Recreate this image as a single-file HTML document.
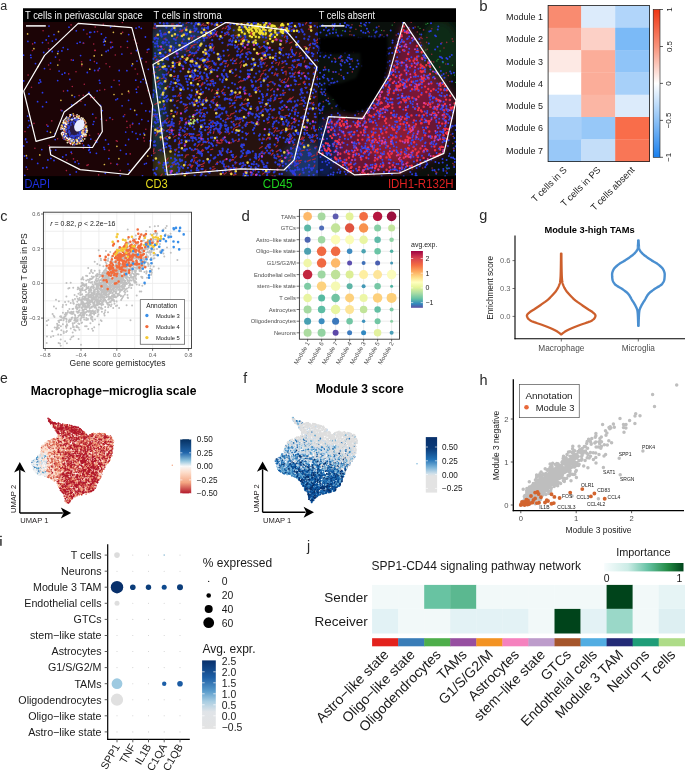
<!DOCTYPE html>
<html><head><meta charset="utf-8"><style>
html,body{margin:0;padding:0;background:#fff;overflow:hidden}
svg{display:block;will-change:transform}
text{font-family:"Liberation Sans",sans-serif}
</style></head><body>
<svg width="685" height="774" viewBox="0 0 685 774">
<text x="0.3" y="10.2" font-size="12.5" fill="#2a2a2a" text-anchor="start" >a</text>
<rect x="23" y="8.5" width="433" height="181.5" fill="#000" />
<defs>
<clipPath id="ca0"><rect x="23" y="22" width="129.5" height="154.5"/></clipPath>
<clipPath id="ca1"><rect x="152.5" y="22" width="165.5" height="154.5"/></clipPath>
<clipPath id="ca2"><rect x="318" y="22" width="138" height="154.5"/></clipPath>
<filter id="bl2" x="-10%" y="-10%" width="120%" height="120%"><feGaussianBlur stdDeviation="4"/></filter>
<filter id="bl1"><feGaussianBlur stdDeviation="0.5"/></filter>
</defs>
<g clip-path="url(#ca0)">
<rect x="23" y="22" width="129.5" height="154.5" fill="#1c0406" />
<path d="M103.9 147.4h0M139.2 123.7h0M123.5 116.4h0M52.2 51.5h0M61.9 110.7h0M136.1 28.1h0M23.7 145.9h0M129.3 170.3h0M126.2 153.9h0M83.6 29.8h0M62.2 74.3h0M59.1 71.1h0M56 39.4h0M80.6 118.8h0M88.3 145.2h0M94.7 70.5h0M151.9 155.3h0M125.6 145.2h0M103.6 42h0M151.1 140.5h0M50.9 158.4h0M43.7 52.5h0M102.3 110.6h0M28.7 120.7h0M27.6 116.1h0M89.7 36.9h0M83.4 124.2h0M141.8 119.6h0M104.5 149.3h0M89.6 146.1h0M87.3 72.5h0M55.1 133.6h0M24.5 156h0M47.9 160h0M112.6 47h0M49 26.1h0M70.9 122.5h0M23.5 55.2h0M130.5 109.1h0M43 168h0M57.7 80.6h0M137 61.1h0M89 92.5h0M132.7 123.5h0M105.8 37.6h0M119.1 80.8h0M34.8 42.7h0M93.1 124.3h0M88.8 150.3h0M135.8 80.2h0M69.8 79.4h0M100.5 105.4h0M30.7 55.2h0M73.2 60.2h0M64.8 73h0M42.5 92.7h0M128.7 34.6h0M72.1 138.3h0M149.7 111.5h0M99.4 68.3h0M101.4 34h0M105.6 139.9h0M110.6 42.3h0M42.5 42.6h0M80 42.2h0M54 34.6h0M75.1 162h0M35.5 63.6h0M148.3 69.3h0M50.8 150.7h0M110 117.8h0M61.9 50.9h0M136.2 89.2h0M108.8 158.6h0M40 80h0M132.4 131.8h0M145.4 37h0M140.1 134.4h0M96.8 142h0M41.8 149.6h0M47.9 126.2h0M143.2 79.3h0M94.5 31.9h0M46.4 102.2h0M137.5 139h0M106.1 51.5h0M96.8 63.1h0M71.7 104.8h0M76.2 137.6h0M54 160.5h0M27.9 41.4h0M136.5 50.5h0M83.6 145.5h0M93.9 121.6h0M64.7 133.4h0M120.3 176h0M26.3 167.1h0M71.2 152.2h0M26.9 142.1h0M38.9 83h0M148.2 121.1h0M108.2 50.5h0M78.5 139.3h0M90.8 139.1h0M136 133.4h0M67.6 90.7h0M99.4 80.4h0M111.5 86.9h0M69 27.2h0M90.2 152.4h0M122.1 105.8h0M140.7 81.9h0M42.6 106.7h0M143.9 133.5h0M23.7 80.9h0M120.5 150.3h0M128 164.1h0M40.7 81.9h0M77.2 43.3h0M128.6 139.5h0M24.8 175.4h0M104.4 44.9h0M125.7 132.1h0M89.4 149.5h0M117 164.2h0M52.3 41.1h0M48.7 36.2h0M70 174.6h0M46.2 40h0M67.8 49.3h0M145.8 110.8h0M97.2 90.9h0M67 137.9h0M58.2 51.4h0M146.3 163.3h0M80.6 55.6h0M150 140.8h0M89.8 32.4h0M90.5 95.1h0M139.1 27h0M119.2 70.5h0M98.2 70.2h0M78.3 133.2h0M136.7 92.3h0M76.3 30.8h0M142.5 175.8h0M31.9 159.3h0M78.7 163.6h0M90.3 60.1h0M146.1 82.9h0M55.5 57.1h0M127.4 41.3h0M110.6 27.1h0M115.9 99.8h0M104.5 41h0M148.8 49.2h0M66.1 154.9h0M74.6 96.8h0M49.3 50.4h0M29.6 125.5h0M50.6 63.1h0M141.6 103.4h0M131.8 65.7h0M37.6 101.7h0M101.2 119.1h0M85.1 104.8h0M100 83.1h0M108.4 144.2h0M62.7 156.9h0M147.5 49.7h0M83.3 43.1h0M104.3 39.5h0M105.3 173.3h0M46.8 167.5h0M31 57.6h0M76.3 171.9h0M121.9 54.1h0M128.6 100.3h0M117.5 98.8h0M37.7 163.4h0M141.3 28.3h0M126.9 70.7h0M136.7 114.7h0M90.8 32.3h0M141.6 58.5h0M29 93.9h0M26.9 158.1h0M25.6 139.6h0M55.7 150.1h0M55.2 139.6h0M47.3 131.3h0M96.4 153.3h0M28 127.3h0M99.5 135.7h0M44.5 68.6h0M110.8 47.9h0M25.7 138.9h0M63.2 47.6h0M144.5 164.1h0M92.7 114.2h0" stroke="#2a3cf0" stroke-width="1.8" stroke-linecap="round" fill="none"/>
<path d="M65.7 131.2h0M144.3 141h0M43.1 30.8h0M89.6 135.2h0M34.9 148.3h0M148 90.8h0M97.5 31.6h0M127.1 127.5h0M59.5 60h0M126.8 121.4h0M114 80.2h0M106.4 120.4h0M146.1 61.9h0M79.1 95.6h0M76.8 103.1h0M112.6 119.5h0M131.1 53.4h0M66.4 170.6h0M109.7 66.7h0M50.1 69.3h0M94.4 61.6h0M122.6 32.4h0M31.5 87.3h0M117.3 141.2h0M25 131.6h0M147.1 52.2h0M83.7 43.2h0M76 71.7h0M116.3 140.7h0M90.8 97.4h0M117.6 164.6h0M34 123.4h0M95.9 117.9h0M95.3 140.6h0M143.7 137.9h0M28.1 75.1h0M81.6 61.7h0M104.7 89.6h0M94.3 97.6h0M32.6 43.9h0M99.8 90.2h0M51.8 120.9h0M48.3 43h0M136.8 43.3h0M48.6 48.8h0M81.8 65.8h0M120.2 170.6h0M114.6 26h0M94.7 50.4h0M127.5 47.5h0M83.3 95.3h0M103.3 24.3h0M129 92.8h0M110.8 47.2h0M106.1 63.7h0M75.6 144.4h0M95.3 50.4h0M74.3 117.3h0M119.4 84.8h0M72.3 86.5h0M83.4 148.2h0M120.8 46.9h0M88.2 164.7h0M66.8 160h0M130.1 125.3h0M72.3 29.6h0M132.4 124.5h0M124.7 114.8h0M80.9 141.3h0M115.3 55h0M27.5 169.3h0M73.5 158.9h0M134.4 39.7h0M98.1 70.7h0M95.2 27h0M109.1 150.4h0M110.8 163.4h0M98.6 174.9h0M77.5 116.5h0M46.8 124.9h0M60.9 126.8h0M60.9 110.1h0M78.8 169.1h0M152.4 115.9h0M68.7 73.9h0M80.9 101.2h0M71.1 24.9h0M98.3 133.9h0M145.8 129.2h0M138.1 87.1h0M71.8 153.6h0M57.6 138.7h0M137.5 74h0M87 34h0M111.8 42.4h0M32.5 50.5h0M135.2 69h0M63.5 91.1h0M87 165.4h0M48.6 65h0M77.4 160.8h0M130.2 127.1h0M130.2 153.9h0M84.3 84.3h0M122.4 22.5h0M82.3 143.6h0M71.3 59.9h0M93.7 44h0M49.1 145.5h0M64 128h0" stroke="#a82040" stroke-width="1.6" stroke-linecap="round" fill="none"/>
<path d="M50.5 132.3h0M57.7 53.6h0M144.6 134.9h0M57.8 65.1h0M114 94.5h0M39.8 154.9h0M128.5 91.2h0M38.2 66.5h0M89.8 69.2h0M27.6 33.9h0M94.2 55.9h0M132.6 63.9h0M33.9 48.7h0M58.5 31.7h0M122 94h0M101.7 55.1h0M63.5 136.1h0M104.4 164.5h0M81.9 64.2h0M134.7 110.4h0M60.9 100.3h0M121.1 33.6h0M105.3 41.3h0M118.9 158.7h0M72 95.3h0M116.9 146.3h0M113.4 32.3h0M73.2 113.9h0M26.4 155.7h0M147.7 156h0" stroke="#d8b848" stroke-width="1.7" stroke-linecap="round" fill="none"/>
<ellipse cx="74" cy="129.7" rx="10" ry="12" fill="#2a1a40"/>
<path d="M83.4 130.1h0M64.5 128.2h0M69.7 135.1h0M74.5 119.7h0M79.4 132.8h0M73.5 136h0M76.7 122.2h0M66.3 131.4h0M64.8 133h0M79.3 128.5h0M70.4 138.6h0M80.9 131.9h0M69.8 133.6h0M79.6 139.1h0M81.3 134.5h0M69.1 127.1h0M83.1 126.5h0M69.4 126.8h0M70.9 124.9h0M71.1 136.4h0M65.3 124.8h0M74.1 124.1h0M65.9 123.8h0M76.6 121h0M69.2 127.9h0M76.5 138.2h0M67.8 125.6h0M66.4 130.2h0M78.3 138.3h0M67.9 123.1h0M78.1 119.1h0M77.6 134.5h0M65.4 126.8h0M73.3 121.8h0M66.8 135.6h0M72.8 140.6h0M67.1 138h0M68.1 127.9h0M71.3 122.1h0M65 125.6h0M81.6 136.7h0M76.7 122.7h0M82.6 124.5h0M79.5 134.4h0M74 137.4h0M78 138.7h0M78.2 122.9h0M80 125.3h0M80.5 131.8h0M70.6 136.7h0M75.9 135.6h0M69.1 130.8h0M81.6 124.9h0M80.9 133.5h0M77.9 138.1h0M65.1 130.5h0M68.2 128.7h0M73.8 122.8h0M68.3 132.4h0M78 135.4h0M68.7 137.8h0M80.6 128.8h0M74 122.3h0M80 136h0M76 123.6h0M72 135.3h0M75.6 120.1h0M82.7 130.5h0M78.3 124.4h0M78.2 137.7h0M69.3 131.2h0M70.4 123h0M66.3 129.3h0M77 135.7h0M78.2 135.5h0M72.3 138.7h0M81.4 132.6h0M75.1 135.9h0M79.8 136.9h0M69 131h0M67.9 138.7h0M69.1 126.2h0M72.8 136.6h0M79.6 131.1h0M69.2 139.8h0M74.2 122.5h0M73.7 138.9h0M65.8 136.2h0M74.3 118.4h0M69.9 132.8h0" stroke="#3040d0" stroke-width="1.8" stroke-linecap="round" fill="none"/>
<path d="M61.7 127.8h0M65.4 122.3h0M70.1 115.1h0M69 139.4h0M69.8 138.8h0M86.4 130.1h0M83.5 132.2h0M62.1 125.2h0M84.1 135.8h0M77.2 141.7h0M69.7 138.5h0M85 135.8h0M82.4 131.6h0M85.8 122.9h0M62.4 135.6h0M76.7 140.6h0M71.7 119.7h0M86.7 130.6h0M74.3 142.1h0M82.6 127.2h0M82.6 122.2h0M67.8 121.4h0M82.6 136.3h0M69.2 141.9h0M86.7 132.3h0M76.4 143.8h0M82.9 131.4h0M81.5 138.5h0M66.8 120.4h0M84.7 138.8h0M78.8 138.1h0M82.9 122.5h0M67.4 142.6h0M68.9 140.1h0M82.2 135.5h0M77.1 117.3h0M69.6 119.4h0M61.6 125.3h0M67.6 122.9h0M81.5 136.1h0M73.4 139.8h0M63.8 122.8h0M83.3 126.3h0M79.2 116.1h0M65.9 118.2h0M61.1 127.9h0M83.5 130.8h0M80.4 123.6h0M83.3 134.6h0M83 140.8h0M69.8 116.5h0M77.3 120.5h0M76.7 116.3h0M61.7 134.1h0M79.8 143.4h0M85.6 132.7h0M81.5 117.9h0M86.4 127.7h0M74.4 141.4h0M79.8 122.1h0M64.2 137.7h0M70.6 139.4h0M63.8 129.3h0M87.3 130.5h0M63.6 134.2h0M77.4 141.8h0M71 114.9h0M64.3 129.5h0M83 118.3h0M84.2 120.6h0M69.9 140.4h0M72.1 141h0M82.2 125.8h0M61.1 129.3h0M81.5 135.8h0M81.9 132.4h0M86.7 128.8h0M64.1 123.4h0M85 134.3h0M62.1 128.7h0M65.5 129.4h0M66 133.7h0M84.3 125.9h0M82.1 126.6h0M81.6 138.6h0M80.9 141.1h0M64.3 137.1h0M79.7 118.3h0M68 122.8h0M72.8 118.8h0" stroke="#f0e4c0" stroke-width="1.8" stroke-linecap="round" fill="none"/>
<path d="M62.7 122.8h0M76.2 139.7h0M78.5 118.1h0M82.5 130.6h0M69.9 115.3h0M77.1 139.7h0M63.9 131.9h0M84.9 127.7h0M62.5 126.3h0M86.2 135h0M63.2 135.7h0M68.7 119.8h0M82.1 133.2h0M73.8 143.5h0M87.1 131.5h0M65.9 127.3h0M65.1 139.3h0M64.9 129.5h0M71 141.5h0M68 119.1h0M79.3 141.4h0M85 121.2h0M85.4 126.3h0M63.8 130.2h0M62.4 132.7h0M80.7 120.2h0M71.4 141.4h0M77.3 118.6h0M71.5 141.9h0M72.2 118.6h0M69.2 139.2h0M66.8 123.4h0M83.4 124.2h0M83.2 133.5h0M78.4 116.1h0M61.9 125.9h0M66.8 137.7h0M67.3 140.4h0M85.6 136h0M73.5 141.4h0M66.1 120.7h0M82.6 136.7h0M68.4 117.9h0M86.7 126.1h0M82.9 128.4h0M84.1 119.9h0M78 117h0M79.4 142.6h0M85.3 127.2h0M77.7 143.8h0M80.7 121.2h0M82.5 120.1h0M67.1 122h0M63.3 128h0M77.6 142.7h0M64.8 128.4h0M71.8 139.3h0M82.6 139.8h0M82.5 140.1h0M77.7 116.9h0M82.7 124.3h0M81.3 140.2h0M82.6 130.5h0M73 143.2h0M81.4 139.4h0M78.3 142h0M64.9 123.6h0M65.7 134.8h0M63.2 135.7h0M76.9 141.6h0" stroke="#e8c050" stroke-width="1.7" stroke-linecap="round" fill="none"/>
<path d="M67.9 117.7h0M71.5 141.1h0M67 135.7h0M63.3 132.6h0M83.4 122.2h0M74.3 144.7h0M71.5 115.1h0M70.9 139h0M83.6 121h0M66.5 136.6h0M62.2 129.3h0M81.3 121.4h0M69.4 119.5h0M82.9 136.7h0M81.1 139.3h0M85.7 128.9h0M85.3 132.1h0M70.3 142.6h0M83.8 126.7h0M85.6 131h0M79.3 139.6h0M76.6 142.5h0M83 136.1h0M63.1 132h0M67 124.4h0M69.5 141.1h0M81.3 136.6h0M77.8 118.7h0M76.9 120.2h0M63.3 124.6h0M82.3 141h0M64.3 126.7h0M68 122.3h0M63.8 135.5h0M79.8 121.9h0M64.2 139.2h0M65.2 129h0M81.6 137.4h0M64.1 124.8h0M74.9 119.5h0M72.8 118.3h0M73.6 140.9h0M85.8 129h0M71.5 114.6h0M65.1 135.1h0M63.5 137h0M75.6 119.4h0M79 141.3h0M67.3 120.3h0M72.1 118.6h0" stroke="#4050e0" stroke-width="1.7" stroke-linecap="round" fill="none"/>
<path d="M61.7 128.2h0M82.4 119.7h0M65.2 131.7h0M64.5 132.2h0M71.3 143.8h0M85.6 122.2h0M69.4 141.8h0M69.7 115.8h0M62.9 138h0M85 124.2h0M84.9 125.4h0M83.2 131.7h0M84.1 129.3h0M65 121.6h0M85.6 136.4h0M64.2 129.9h0M83.8 133.4h0M66 126.8h0M78.6 142.3h0M66.9 138.7h0M69.9 143.2h0M66.5 123.1h0M79.1 117.6h0M84.7 124.4h0M69 140.6h0M65.7 125.2h0M84.3 130.1h0M65.7 139.8h0M82.9 127.1h0M80.4 136.6h0M81.2 120.7h0M68.6 120.7h0M70.7 143.5h0M76.2 115.5h0M70.8 144.4h0M83.9 120.8h0M84 136.4h0M80.7 137h0M74 115.2h0M62.7 134.1h0" stroke="#e06050" stroke-width="1.5" stroke-linecap="round" fill="none"/>
<path d="M81.2 140.9h0M62.3 128.5h0M70.4 143.6h0M64.7 126.2h0M73.5 116.1h0M80.8 119.8h0M83.3 133.9h0M65.7 123.4h0M83 128.6h0M63.6 132.8h0M75.2 118h0M82.5 136.6h0M82.8 119.3h0M63.8 123h0M82.9 120.9h0M77.1 114.7h0M80.4 121.7h0M84.1 134.1h0M72.1 119.8h0M77.3 141h0M72.7 144.8h0M70.1 138.7h0M63.9 122.1h0M65.2 119.1h0M83.8 124.4h0M86.2 130.8h0M77.6 141.1h0M67.5 138.6h0M78.5 118.2h0M65.2 126.4h0M64.2 128.8h0M74.6 118.3h0M66.6 116.9h0M71.5 140.9h0M82 135.4h0M61.4 133.3h0M80.5 122.6h0M63.3 120.9h0M85.9 134.5h0M63.3 134.6h0M66.2 137.7h0M66 124.4h0M66.5 124.4h0M82.4 126.6h0M68.7 139.6h0M65.4 136.3h0M64.2 119.9h0M82.3 121.3h0M70.4 114.8h0M62.3 132.2h0" stroke="#ffffff" stroke-width="1.5" stroke-linecap="round" fill="none"/>
<ellipse cx="79.3" cy="125.5" rx="4.6" ry="6.5" fill="#e8ecff" transform="rotate(30 79.3 125.5)"/>
</g>
<g clip-path="url(#ca1)">
<rect x="152.5" y="22" width="165.5" height="154.5" fill="#26120f" />
<g filter="url(#bl2)">
<ellipse cx="178" cy="38" rx="28" ry="16" fill="#1c3458"/>
<ellipse cx="158" cy="95" rx="8" ry="60" fill="#183a48"/>
<ellipse cx="305" cy="162" rx="22" ry="20" fill="#1a3468"/>
<ellipse cx="168" cy="165" rx="14" ry="12" fill="#3a4018"/>
<ellipse cx="260" cy="32" rx="28" ry="9" fill="#4a4010"/>
</g>
<path d="M176.7 114.5l0.6 -2.4M244.1 100.3l1.6 -1.7M178.9 143.6l0.8 -2.8M159 70.3l1.7 -1.1M308.7 150.4l1.5 -1M208.4 24.9l0.9 -2.2M183.9 58.8l1.6 -0.6M169.3 49.4l2.3 -0.7M260.4 61.8l2.1 -1.3M228.8 168.1l3.1 -0.1M154.4 25.7l1.7 0.1M270.9 68.2l1.2 -2M195 110.7l3 -0.7M281.7 130.6l2 -0.9M233.4 141.5l2.9 -1.4M241.1 81.2l2.8 -0.8M228.2 56l1 -1.2M264.4 153.7l1.6 -1.6M316.4 40.9l1.9 -2.4M284.5 32l1.7 -1.9M163.9 57.8l2.3 -1.7M234.4 98.1l1.6 -3.1M191.3 167.6l1.6 -2.3M169.4 134.6l2.4 -1M184.8 109.1l2.6 -1.9M193.6 102.5l2.1 -1.1M311.3 129.1l0.5 -1.4M275.8 118.8l1.3 -1.6M293.7 74l1.9 -1.9M268.2 36.3l2.8 -1.9M204.7 53l1.9 -2M217.2 142.9l2 -0.6M225.4 120l2.8 -2M201.1 145.2l1.9 -1.3M222.2 28.9l1.6 -1.1M280.1 161.2l2.4 -0.9M165 81.1l1.6 -1.5M198.3 165.1l1.7 -0.4M231.8 113.9l2.6 -1.2M264.4 106.6l2.5 -1.5M259.4 148.4l2.9 -1.9M272.5 118.6l1.6 -0.7M169.9 126.2l3.2 -0.8M182.4 46.3l3 -0.8M203.6 115.4l1.8 -0.9M199.1 77.1l2.4 -0.7M277.6 33.7l2.3 -1.5M316.9 42.6l2.1 -0.3M265.6 96.1l1.4 -1M158 62.6l0.8 -3.1M201.8 140.2l1.8 -0.2M285.4 40.9l2.1 -1.3M305.5 24.1l1.3 -2M251 176l2.6 -2.1M210.2 70.4l1.6 -2.1M211.3 100.8l2.3 0.3M257.3 54.5l3.1 -1.4M295.5 54.3l0.9 -2M208.9 84.2l2.7 -1.2M184.1 144l1.5 -1.3M153 28l3 0.2M175.3 151.4l1.7 -2.5M293.4 175l0.6 -3.1M255.9 108.4l2.1 -1.3M316.5 77.6l1.5 -1.3M164 58.1l2 -1.9M213.1 50.3l0.7 -3.2M284.2 72l1.9 -0.9M261.9 153.6l1.5 -0M163.5 22.5l0.6 -1.8M218.9 143.4l3.3 -0.6M258 125.1l1.1 -1.1M266.3 24.9l1.6 0.4M227.3 32.7l1.5 -0.7M183.6 135.6l2.6 -2M312.4 126l2.2 -0.5M229.7 70.4l2.6 -1.2M271.2 155.1l2 -2.1M241 54.5l2.2 -0.8M165.9 88l2.1 -2.1M191.7 39.8l0.8 -2.3M162.9 121.8l2.6 0.3M184.1 35.4l1.6 -1.4M185.6 49.7l1 -1.1M221.2 140.4l2.4 -1.2M205.7 99.3l0.8 -1.9M212.5 124.3l1 -1.8M287.7 135.4l2.3 -2.3M156 115.7l1.6 -1.6M169.6 52.6l1.4 -0.9M286.2 129.9l2.7 -0.6M240.9 39.9l1.9 -1.8M225.1 63.7l1.5 -0.7M196.7 91.2l2 -0.8M242.3 39.7l1.5 -2.3M189.2 38.4l1.8 -1M294.6 122.8l2.1 -2.8M288.9 136.6l3 -0.7M205.8 79.3l2.3 -1.1M156.6 82.2l2.8 -1.9M299.4 54.1l0.8 -1.4M201.9 102.6l1.7 -1M261.2 111.7l2.2 -2.5M294.5 166.2l2.4 -0.9M284.6 28.3l1.5 -1.1M295.2 162.4l1.7 -2M233.5 175.1l2.8 -0.8M291.9 75.5l2.5 -0.9M228.8 134.1l1.1 -1.2M196.2 149.4l1.5 -0.3M232.1 122.6l1.8 -1.5M208 66.6l1.2 -1M279.5 118.2l1.4 -0.9M290.1 157.5l1.8 -2.1M175.9 38.5l1.7 -1.6M179.7 96.2l1.3 -1M216 25.5l3.2 -0.2M229.2 152.5l2.2 -0.2M310.8 142.3l2.5 -2.1M308.4 29.1l2.7 -0.1M312.5 137.2l2.2 -1.6M273.3 128.8l2.1 -1.1M264.6 41.5l2.7 -0.8M197.2 103.1l1.7 -0.9M214.2 128.5l2 0.5M152.9 73.8l2.8 -1.6M290.4 99.9l1 -1.6M198.2 172.8l2.2 -0.3M165.6 120.2l2.2 -2M204.7 99.6l1.6 -1.4M206 32.2l-0.2 -2.2M272.3 40.7l3.2 -0.8M153.4 153.4l1.8 -0.6M190.6 136.7l1.9 -0.6M300.9 151l3.2 -0.8M294 111.3l2.1 -0M256.6 111l1.8 -1.2M245 104l3.1 -0.9M189.3 135.6l1.4 -1.6M297.3 73l2.6 -2.3M278.4 98.7l3.1 -0.7M237.4 94.6l2.9 -1.4M179.1 124.2l0.9 -1.7M188.2 55.4l1.7 -0.9M215.3 25.9l2.4 -1.9M207.3 35.7l2 -2.4M162.6 49.7l1.8 -0.8M219.8 154.4l1.4 -1.3M226.8 132.8l0.8 -1.8M200 137.9l1 -1.5M216.1 90.6l2.3 0M207.5 37.9l1.1 -2.3M214.9 93.9l2.4 -1.4M254.9 155.3l1.5 -0.6M234.8 100.7l1.8 -0.7M185.2 119.6l0.9 -1.5M284.1 79.8l1.5 -1.3M237.4 45.2l1.6 -1M228.4 118.8l3.2 -1.1M270.6 96.9l1.5 -1.7M277 75.4l0.9 -1.5M293 61.9l2.7 -0.7M286.8 129.5l3.4 -0.7M263.2 71.1l2.8 -1.4M271.8 111l1.9 -2M178.5 62.1l2 -1M268.2 138.4l2 -1.2M194.6 79.9l2 -0.6M195.2 95.9l1.6 -2.7M172.4 165.3l2.6 -1.6M218.2 133l2 -1.5M155.8 135.8l1.8 -2.7M261.2 74.4l2.4 -1.4M276.3 151.8l2.4 -1.6M280.9 81.6l1.5 -1.4M173.8 174.7l1.8 -0.9M258.6 160.4l0.9 -1.7M291.2 123.8l2.7 -1.9M158.5 150.5l2.8 -1.3M184.5 106.1l2.9 -1.6M196.8 135.3l3.1 -0.7M229 41.3l1.6 -2.7M181 174.7l1 -2.1M241.7 145.6l2.6 -1.5M209.4 44l1.7 -0.8M260.9 59.5l2.8 0.4M240.4 110.8l1.5 -0.6M266.1 139.8l2.1 -2.7M193.3 45l3.1 -1M269.5 170.4l1.1 -1.4M274.1 75.4l1.3 -2.7M272 175.7l3 1M163.8 138.3l1.4 -0.7M309.1 97l2.5 -0.9M248 78l2.2 -0.9M197.6 36.9l2.7 0.1M224.3 35.6l2.9 -1.6M238.2 119.3l2.9 -0.5M238.2 141.5l1.1 -1.6M193.5 162.2l1.2 -2.3M196.4 78.4l2.6 -0.3M212.7 166.9l1.5 -0.1M281.7 67.9l1.6 -0.7M224.9 167.2l1.9 -1.1M158.9 164l1.6 -1M227.3 45.9l1.3 -1.5M185.8 155l2.8 -0.2M154.6 130.7l3.2 -1.2M314.2 130.5l2.2 -1M201.1 151.8l2.5 -1.3M241.5 104.9l2.9 -0.7M211.8 100.3l2.6 -1.2M161.3 78.7l2.7 -0.9M301.6 155.7l0.8 -1.3M307.4 161.2l3 -1.3M183.4 46.8l1.8 0.3M221.7 141.3l1.3 -1.3M214.3 64.6l2 -1.5M180.2 50.4l2.6 -0.8M262 52.5l2.9 -0.8M281.9 110.6l1.9 -0.8M278.2 65.2l1.3 -3.1M264.3 59.4l2.5 -1.1M155.4 37.2l1.7 -2.7M190.5 72.2l1.5 -1.9M237.7 141.6l1.5 -0.7M268.8 25.3l1.2 -1M216.5 96.6l2.6 -0.9M226.9 115.1l2.1 1.1M291.6 29.7l2.3 -0.8M156.4 67.4l2 -0.7M197 162.1l1.1 -1.5M200.5 175.6l1.7 -1.8M316.8 153.4l1.1 -1.7M190.2 48.2l2.3 -2.3M160.3 140.1l1 -1.5M221.4 91.7l2.3 -2.5M260 48.4l2.5 -2M177.9 96.3l1.3 -1.8M291.5 164.6l1.4 -2.7M185 157.5l1.3 -2.3M269.1 82.5l2.2 -1M179.3 31.8l2.6 -1.7M298.4 161.1l3.1 -0.8M185.8 174.4l1.9 -0.4M273.5 101l2.5 -2.2M291.3 56.8l1.5 -0.6M194.7 106l0.7 -1.3M167.9 129.6l2.4 0.5M249.5 96.5l2.1 -0.4M235.1 76.5l1.8 -1.5M231.8 60.3l1.3 -2.1M281.8 67.9l2.2 -1.1M229.1 29.7l1 -3.2M234.8 61.4l2.1 -2.6M233.1 169.3l2.1 -0.7M227.7 23.3l1.7 -1.1M219.6 134.4l2 -2M179.1 143.9l1.8 -0.5M201.4 84.5l1.3 -1.9M196.3 114l2.6 -1.4M193.6 56.1l1.1 -1.1M282.1 125.2l1.9 -2.4M171.4 131.4l2.7 -1.3M186.5 135.5l1.3 -1.8M239.6 98l2 0.1M204.2 171.9l1.8 -1.9M192.2 155.8l2.1 0.2M214.3 110.4l1.7 -2.6M235.6 127.4l2.5 -1M264.1 64.5l1.1 -1.8M313.4 167.8l1.5 -2.7M293.6 121.7l2.3 -1.4M223.7 160.3l1.6 -0.6M227.2 66.6l1.2 -2M221.3 173.8l2.4 -0.5M192 38.3l2.2 -2.6M310 103.9l1.8 -1.1M163.9 39.1l2.1 -1.1M186.4 51.3l3.2 -1.3M262.1 140.1l0.8 -2.2M250.1 32.2l3.2 -0.1M198.6 81.1l1.6 -0.7M307.6 51.6l1.7 -1.6M220.3 153.4l1.1 -1.5M251.2 34.7l1.2 -3M167.6 74l1.2 -2.3M299.9 154.3l1.8 -0.8M169.5 128.1l1.3 -1.1M217.7 130.7l1.3 -2M299.1 175.1l1.2 -1.2M308.9 25.6l2.5 -0.1M302.1 124.7l2.2 -1.9M289.5 137.1l1.5 -1.5M191.1 137.6l1.8 -0.2M157.8 132.3l2 -0.9M227.3 33.2l1.5 -1M163 35l2.2 -2.3M311.5 141.4l0.7 -1.5M153.9 116.5l1.6 -2.5M206.4 62.6l1.6 -1.5M186.1 23.4l2.3 -1.9M154.8 104.4l2.7 -1.4M235.1 36l1.6 -0.7M165.1 137.6l2.6 -1.5M301.4 74.6l2.9 -1.7M266.3 146.8l1.5 -2.1M213.7 36.8l0.6 -2.7M291.8 98.3l1.5 -1.5M284.4 37.4l1.1 -1.5M206.5 142.6l2 -2.2M292.7 108.5l2.4 -2M306.3 58.3l1 -1.6M255.1 170.8l0.9 -1.4M210.7 127.4l1.8 -1.3M301.5 74l2.3 -1.5M308.5 154.1l1.5 -1.6M210 80.7l3.1 -1.4M166.8 167.6l2.4 -1.9M296.1 67.9l1.9 -2.7M262.5 174.1l2.2 -1.5M190.9 31.7l3 0.2M246.3 135.5l2.3 -2.5M203.5 67l1.5 -0.3M304.6 87.5l2.6 -0.3M209.1 120.3l1.9 -0.1M185 29.1l2 -2.4M159.7 56.5l2 0.2M209.2 38.1l2.5 -1.6M316.3 136.3l1.7 -1.4M188.6 56.2l2.2 -1.8M228.3 99l2.6 -1.1M313.4 72.8l2.8 -1.8M153.6 58.5l2.6 -2M201.3 166.5l2.3 -0.4M288.4 100.4l1.9 -2.2M168.3 122.5l1.1 -1.5M306.1 130.8l1.6 -0.5M290.6 148.9l2.7 -1M176.2 62.7l3.2 -0.7M250.5 34.1l1.7 -2.5M244.4 94.2l2.5 -0.6M267.3 48.3l2.5 -1.2M203.3 25.2l3 0.1M216.1 164.1l1.3 -2.3M192.4 118.8l1.9 -1.1M200.8 86l2.5 -2.1M181.6 43.1l0.9 -2M302.2 139.6l2.2 -2.5M299.4 104.3l3 -0.6M212.1 48.9l2.2 -2.1M267.2 173.8l2.1 -2.4M233.6 168.9l3.3 -1M199 165.2l3.4 -0.9M210.4 149.7l2.4 -0.6M312.2 104.1l1.4 -1.7M209 68.4l2.4 -1.7M248.3 122.7l3.3 -0.8M308.9 45.4l1.9 -2M201.8 117.3l1 -1.2M286.4 32.2l1.5 -0.5M171.4 24.1l2.4 -0.1M273.9 132.5l1.7 -2.6M286 74.9l0.2 -3.3M291.1 129.7l1 -2M313.9 142.5l1.5 -2.1M270.2 151.1l2 -1.5M314.2 117.1l1.6 -0.6M198.6 152.8l1.2 -0.9M238.8 123.8l1.7 -1.9M187.9 165.3l2.1 -1.3M166.3 160.6l1.9 -2.6M225.1 28.7l1.5 -1.1M271.6 63.4l2.2 -2.4M281.3 82.1l1.9 0.7M155.3 61l2.5 -0.8M308.4 49.3l1.8 -2.3M193.4 157l1 -1.5M200.9 25.9l2.5 -2.3M290.3 50.1l1.3 -3.2M300.5 139.5l2.3 -2.6M274.4 56.5l1 -1.1M207.6 61.9l2.7 -0.8M229.1 171.5l2.1 -1.9M290.6 139.8l2.1 -2.5M211.6 91.3l0.9 -1.7M285.8 43l0.9 -1.5M281.9 63.6l2.5 -1.8M230.1 173.6l1.6 -1.3M300.9 144.2l1.6 -0.3M216.1 32.8l1.1 -1.2M276.6 131.2l2.7 -0.6M258.4 80.1l2.2 -1.3M207.3 133.2l2.5 -1.7M240.5 67.6l0.8 -3M252.8 42.1l0.7 -1.3M241.3 25l3.2 -1.1M170.8 67.7l3.2 -0.4M316.6 154.9l2.9 -1.7M312.5 159.7l2.9 -1M158.7 127.6l1.7 -1.5M308.8 137.5l1.5 -1.3M240.5 52.1l2.2 -2.5M173.3 76.7l2.3 -0.6M288.3 160.9l2.2 -1.1M224.2 174.4l2.2 -1.8M270.5 90.5l2.2 -1.9M289.4 141.9l2.7 -1.1M241.5 166.2l2.4 -1.3M160.7 176l1.6 -2M288.6 67.7l3 0M267.4 123.1l2 -1.1M303.1 82.3l1.7 -1.1M197.2 93.9l3.3 -0.3M282.4 93.4l3.1 -0.8M297 65l2.4 -1.7M211.3 24.9l1.7 -0.7M220.4 140.4l0.9 -1.3M207.8 129.5l2.3 -2.5M153.4 151.9l0.6 -3.3M190.8 45.7l2 -0.4M207.4 58.6l0.8 -2.6M170.4 114.1l1.4 -0.5M279.2 166.7l1.4 -1.8M223.2 94.9l1.7 -2.4M246.5 53l1.7 -1.4M199.6 113.9l2.7 -1.5M212.1 169.9l3.1 -1.3M277.2 156.1l1.8 0M230.3 160.9l2.6 -1.3M251.2 85.4l2.2 -0.6M222.5 62.5l1.3 -1.3M244.7 156.5l2.1 -0.8M301 143.8l2.1 -1.3M196.8 153.5l2.4 -2.3M238.4 82.4l2.4 -1.8M266.2 66.2l1.2 -0.9M166.9 59.1l1.4 -0.8M311.7 156.5l3.1 -1.5M235 164.1l1.9 -1.8M193.1 78.7l1.8 -2.1M278.4 157.1l2.1 -0.7M287.5 80.9l1.2 -2.9M256.9 91.2l1.8 -1.9M304.1 109.5l2.7 -0.2M167.2 56.2l0 -2M239.8 63.3l2 -2.3M275.4 63.2l1.8 -0.7M304.2 62.2l0.7 -1.6M258.7 101.6l2.6 0.8M252.2 37.5l0.2 -3.2M216.8 142.6l2.1 -0.2M247.1 49l2.1 -0.1M244.3 90.6l1.7 -0.5M302.3 121.2l2.1 -1.7M289.4 43.3l2.7 -1.4M274.5 85.2l1.1 -1.4M305.4 109l2.4 -0.8M163.4 107l1.4 -2.2M279.9 159.9l1.3 -1.1M229.2 143.3l2.5 -0.6M276.9 40.7l1.1 -1.7M201.5 150.7l1.4 -1.3M229.8 106.9l3 -1.8M289 126.8l0.8 -1.5M158.3 46.7l2.1 -0.4M200.7 94.9l2.4 -1.3M233.3 130.1l1 -2.1M293.4 145.2l1.3 -0.9M197.2 146.5l2.1 -2.5M288.7 55.5l1.3 -1.5M193 150.7l2 -1.3M202.7 109.8l2.2 -2.5M244.2 125.3l3.3 -0.9M260.7 153.6l2.2 -2.5M298.2 84.6l2.2 -0.6M298.1 164.1l2.4 -1.7M193.9 158.2l3.1 -0.9M275.9 146.8l1.3 -1.3M257.6 80.7l2.5 -2.4M216.4 103.6l0.9 -1.4M280.9 48.7l2.6 -1.1M301 139.3l1.9 -0.5M231.8 159.6l1.9 0.3M304.1 46.9l1.8 -0.3M173.6 137.1l2.9 -1.7M180 129.2l1.4 -1.1M279 27.6l3 -1.5M203.1 163.7l1.5 -1M249.4 96l2.2 -0.2M234.8 63.6l1.9 -0.5M176.6 26.7l2.2 -2.7M277.3 142.8l1.1 -1.3M275.2 74.2l3.2 -0.4M176.5 101.3l1.9 -1M195.5 52.1l2.6 -2.1M285 115.8l2.9 -0.6M303.5 83.4l1.5 -1.4M296.5 146.6l1.9 -1.6M235.6 124.9l1.3 -1.3M213.3 133.5l0.6 -2.2M226.2 60.8l1.5 -0.5M181.7 31.9l1.5 -2.4M234.6 158l1.9 -1.9M190.7 166.6l1.3 -1.5M179.3 121.4l1.4 -0.5M215.5 164.4l2.7 -2M163.1 131.1l1.4 -1M230.3 115.6l0.8 -2M267.7 86.7l1.3 -0.9M260.3 76.9l1 -2M313.9 97.7l2 -1.1M299.1 56.4l2.3 -1.2M257.4 88.1l1.8 -1.2M301.1 100.4l2 0.2M226.1 26.8l2.8 -1.2M284.7 82.8l1.9 -0.8M199.6 65.9l1.8 -1.1M239.7 120l1.9 -1.5M314.7 147.4l2 -0.5" stroke="#b02838" stroke-width="1.1" stroke-linecap="round" fill="none"/>
<path d="M272.7 150.8h0M166.4 27.6h0M206 88h0M222.2 113.3h0M195.2 149.2h0M291.5 30.9h0M211.1 125.8h0M222.1 75.3h0M230.1 28.3h0M289.9 73.3h0M188.7 121h0M289.7 34.8h0M309.5 153.1h0M196.5 28.6h0M180.5 58.9h0M283 72.9h0M204.3 31.9h0M190.1 165h0M165.4 171.3h0M254.1 161.8h0M307.6 52.7h0M298.3 150.7h0M249.9 74.2h0M225.1 66.6h0M314.1 128.6h0M261.8 35.2h0M310.7 22.8h0M266.4 165.8h0M267.8 76.7h0M268.5 144.8h0M173.3 87.8h0M194.3 36.3h0M163.4 95.3h0M306.8 48.4h0M317.1 34.5h0M252.6 24.9h0M178.3 83.9h0M173.1 61.9h0M226.3 73.9h0M217.2 170.6h0M184.9 150.1h0M167.3 131.1h0M259.6 59.7h0M283.6 137.9h0M162.9 129.8h0M203.7 103.6h0M202.2 58.9h0M242.2 54.1h0M252.5 86.8h0M220.4 64.7h0M295.8 158.7h0M217.2 94h0M202.7 126.7h0M279.4 160.6h0M291.8 118h0M297.7 46.8h0M180.5 71.3h0M185.1 164.5h0M229.1 29.1h0M312.6 56.2h0M255.2 117.5h0M255.7 154h0M206.6 148.8h0M316.4 134.9h0M182.7 130.5h0M245.1 79.7h0M264.2 31.5h0M286.6 120.2h0M287.1 33.2h0M216.5 145.3h0M197.4 42.3h0M314.7 25.8h0M244 176.4h0M199.2 47.9h0M175.4 111.9h0M285.4 31.5h0M292.9 173.5h0M246.8 24.6h0M216.1 128.3h0M261.7 152.4h0M314.7 67.8h0M248.2 23.2h0M282.8 27.7h0M298.5 31.4h0M277.8 138.6h0M233 103.6h0M182 160.5h0M267.8 119.7h0M290.1 113.8h0M311.9 53.2h0M177.7 56.6h0M171.3 173.2h0M257.8 169.1h0M289.4 89.6h0M165.1 144.8h0M254.1 133.3h0M196.6 64.9h0M317.9 52.9h0M212.3 137.7h0M166.1 170.7h0M282 174h0M202.3 77.2h0M221.9 32.1h0M174.1 71.3h0M207.3 32.8h0M174.6 174.6h0M195.1 69.5h0M248.3 152.9h0M202 60.1h0M263 170.3h0M301.6 97.6h0M247.9 150.8h0M157.2 114.6h0M311.3 140.4h0M185.2 33.3h0M209.8 35.5h0M239.6 77.2h0M254.9 157.6h0M209.1 162.5h0M225.4 131.8h0M256.2 114.5h0M228.2 29.6h0M199.4 165.4h0M220.5 124h0M216.2 117.2h0M200.8 152.1h0M251.9 58.5h0M237.3 117.8h0M220.6 127.5h0M269.9 138.8h0M287 36.6h0M259.9 134.5h0M209 161.5h0M307.5 119.1h0M169.7 48.2h0M285.8 163.9h0M222.2 37.8h0M218.2 57.6h0M292 154.1h0M261 113h0M313.7 73.9h0M297.8 146.1h0M171.7 122h0M235.8 40.3h0M279.5 57.9h0M166.2 147.2h0M242.3 147.3h0M316.8 33.5h0M192.1 102.6h0M171.8 132.2h0M200.4 72.3h0M209.5 31.7h0M199.8 86.4h0M224 166.4h0M290.4 134.8h0M238.1 55h0M250 152.5h0M170.5 125.1h0M163.2 66.8h0M309.9 63.5h0M209.9 49.4h0M309.3 84.5h0M208 77.6h0M258.3 66.1h0M262 157h0M167.4 139.6h0M164.2 98.1h0M225.6 170.7h0M173.6 126.1h0M201.5 169.1h0M184.9 149.4h0M204.3 120h0M228 129.2h0M204 141.7h0M208 139h0M232.9 157h0M265.5 74.5h0M159.5 78.1h0M317.6 60.2h0M223.8 164.4h0M305.3 161.6h0M153.7 90.3h0M162 84h0M168.9 42.5h0M303.6 172.7h0M220.7 125.8h0M292.6 170.9h0M267.5 119.7h0M167 101.4h0M212.4 137.7h0M207.4 159h0M227.5 152.5h0M277.3 75.5h0M166.3 100.3h0M305.8 168h0M231.4 100.2h0M213 145.9h0M268 103.1h0M198.3 150.6h0M270.4 32.5h0M221.3 22.2h0M231.6 36h0M183.8 89.4h0M186.1 78.8h0M295.1 170.2h0M247.9 176h0M222.4 42.8h0M280.8 150.9h0M303.5 100.7h0M178.8 152h0M317.7 79h0M154.8 141.4h0M254.1 22.7h0M196.1 94.3h0M194.2 73.4h0M234.4 60.9h0M252.5 68.4h0M224.8 86.8h0M270.7 98.6h0M309.8 103.1h0M180.4 135.5h0M191.8 149.7h0M253.4 170.5h0M220.4 125.4h0M204.7 61.7h0M236 111.4h0M267.8 89.7h0M302.9 58.3h0M308.2 73.4h0M288.1 57.4h0M209.9 105.2h0M298.8 32.2h0M270 105.9h0M181.4 85.6h0M310.3 23h0M193.4 64.6h0M265.4 172h0M267.4 111.5h0M302.8 32h0M262.8 111.3h0M315.2 130.8h0M162.4 42.8h0M158.7 84.2h0M184.9 55h0M247.7 105.8h0M222.7 149.1h0M166.2 59h0M185.9 43.5h0M248.4 43.5h0M219.1 116.9h0M278.8 32.7h0M229.8 103.3h0M297.8 147.1h0M278.1 140.4h0M234.3 125.5h0M211.7 23.7h0M187.9 88.7h0M200.8 59.6h0M211.3 101.6h0M212.3 45.5h0M182.1 42.9h0M230.8 169h0M171 158.1h0M296.2 37.1h0M243.6 149.9h0M168.2 32.2h0M206.8 74.4h0M194.7 175.6h0M178.3 167.3h0M232 94.2h0M182.8 130.5h0M177.6 81.1h0M268.7 153.1h0M223.6 70.8h0M263.7 53.9h0M230.3 44.3h0M235.9 119.4h0M203.9 108.2h0M223.1 161.5h0M232.1 44.7h0M209.2 146.3h0M289.2 167.8h0M193.3 137.4h0M189 39.8h0M209.5 45.7h0M282.4 35.6h0M292.8 73.6h0M246 139.3h0M212.2 44.4h0M259.9 91.4h0M289.3 28.9h0M192.7 126.8h0M263 37.2h0M270 144.5h0M217.1 116.7h0M176.5 51.4h0M253 129.9h0M187.3 75.9h0M213.4 102.9h0M242.6 108h0M311.8 64h0M176.7 86.4h0M164.7 143.5h0M241.7 155.6h0M308.6 153.1h0M160.1 109.8h0M258.8 156.8h0M157 43.7h0M243.7 174h0M172.2 29h0M261.6 160.9h0M212.2 144.3h0M260.8 82.3h0M195.2 144.1h0M164.9 169.9h0M182.6 47.4h0M197.8 122.3h0M179.8 22.7h0M185.3 124.6h0M242.6 31.5h0M224.9 125.2h0M289.1 26.2h0M234.9 84.3h0M241.8 155.9h0M270 69.3h0M293.7 171.7h0M249.3 94.8h0M158.6 50.1h0M228.5 166.6h0M157.8 46h0M252.6 113.8h0M163.3 167.7h0M241.8 167.3h0M177.3 107.8h0M294.1 54.8h0M168.1 99.3h0M261.6 67.1h0M269 70.6h0M198 71.1h0M250.6 53.2h0M207.1 28h0M195.4 138h0M195.5 24h0M155.1 110.6h0M263.9 78.7h0M164.4 122.4h0M185.1 111.7h0M166.9 96h0M285.6 142.1h0M240.1 110.4h0M229.8 160.8h0M249 112.4h0M286.3 157.4h0M255.8 155.5h0M237.4 131.2h0M204.3 72.9h0M238 97.2h0M315.9 34.2h0M246.8 134h0M231.5 121.8h0M299.5 148.4h0M161.5 35h0M163 41.9h0M283.1 121.8h0M308.4 135.1h0M160.9 33.4h0M156.5 26.7h0M154.1 72.2h0M248 74.4h0M175.3 30h0M245.4 37.1h0M262.4 53.5h0M155.1 24.2h0M296.5 44.8h0M194.3 26h0M244.2 79.2h0M211 137.7h0M209.3 124.2h0M219.3 115.4h0M153.1 94.3h0M223.5 51h0M196.4 29.5h0M211.7 50.7h0M179.5 168.3h0M207.9 147.8h0M268.3 110.1h0M315.3 116.8h0M185.1 137.1h0M295.9 149h0M254.2 59.3h0M169.2 146h0M154.9 122.2h0M298.8 65h0M191.2 66.4h0M170.1 48.5h0M261 106.6h0M269.4 171.7h0M300.6 144h0M235.3 47.7h0M204.1 40.5h0M205.2 65.5h0M186.4 47.4h0M257.6 44h0M308.4 135.1h0M166.5 70.6h0M216.5 109.4h0M210.7 70.7h0M165.8 174.1h0M250.9 113.5h0M315.2 43.6h0M198.3 142.1h0M272.8 66.8h0M301.5 92.3h0M197.3 66.4h0M304.6 97.7h0M276.4 69.5h0M259.4 71.5h0M184.6 46.4h0M198.4 170.3h0M169.3 54h0M300.7 65.7h0M286.4 85.4h0M166.8 40.2h0M240.4 57.4h0M187.8 84.9h0M279.2 112.2h0M247.4 104.9h0M309 79h0M272.8 126.5h0M169.2 137.2h0M214.2 63h0M247.9 59h0M303.4 118.6h0M213.9 85.6h0M183.6 150.3h0M199.4 23.5h0M193.6 105.7h0M178.1 75.9h0M209.4 54.8h0M193.7 156.1h0M237 55.5h0M300.5 143.8h0M310.4 154h0M178.9 171.5h0M246.7 40h0M264 46.1h0M177.7 35h0M240.5 71.5h0M185.6 162.1h0M212.8 121.4h0M206.1 45.9h0M287.4 38.3h0M191.2 137.8h0M241.9 118.3h0M249.4 22.4h0M207.1 112.7h0M306.3 51.4h0M207.5 67.4h0M206.5 37.6h0M267.1 175.2h0M233.2 92.6h0M272.5 117.3h0M177.8 53.5h0M177 79.9h0M274.3 122h0M216.8 137.4h0M294.4 162.1h0M191.1 60.3h0M192.3 59.1h0M295.4 84.3h0M212.4 69.6h0M170.7 148.6h0M189 79.4h0M279.9 79.7h0M196.4 99.6h0M244.5 109.1h0M290.6 76.6h0M253.5 23.4h0M277.1 135.6h0M314.2 39.7h0M202 154h0M297.5 60.1h0M243.7 61.5h0M185.8 104.7h0M174.3 162.2h0M206.8 80.8h0M175.3 96.2h0M280.2 86.1h0M244.8 39.3h0M159.8 66.5h0M297.9 163.6h0M251.1 167.1h0M225.8 61.4h0M175.8 164.2h0M230.3 24.4h0M304.3 133h0M249.2 26h0M228.5 87.8h0M253.1 85.8h0M243.6 89.2h0M255.7 167.4h0M185.4 76.4h0M177.1 24.8h0M154.6 39h0M290.2 137.8h0M153 41.9h0M194.9 31.1h0M249.4 52.2h0M235.2 173.1h0M301.7 90.7h0M187.8 44.9h0M171.4 123.7h0M179 80.3h0M234.9 107.4h0M200.7 175.9h0M227.9 130h0M266.3 104.6h0M205.7 176.2h0M262.6 100.1h0M155.8 92h0M242.9 153.4h0M302.7 170h0M307.1 133.2h0M247.1 78.4h0M315.2 84.2h0M191.5 23.4h0M201.8 59h0M226.7 142h0M236.7 97.5h0M288.1 154.3h0M226.5 125.5h0M160.5 109.5h0M268.3 146.5h0M189.4 98.9h0M298.5 125.1h0M187.6 97.7h0M201.4 76.5h0M175.2 140.2h0M202.6 33h0M252 173h0M196.7 170.4h0M160.5 150.3h0M249.5 94.2h0M274.1 91.5h0M170.5 84.2h0M222.7 93h0M163.8 56.3h0M155.3 145.5h0M214.5 158.1h0M199.9 99.4h0M297.4 153.8h0M154.7 67.1h0M259.5 154.8h0M273.9 172.4h0M221.5 125.6h0M235.4 170.8h0M193.4 134.2h0M194.3 129.1h0M161.3 95.1h0M302.4 31.2h0M157.2 41.4h0M175.2 149.9h0M272.4 50.1h0M228.2 128h0M237.2 46.7h0M201.2 138.7h0M179.2 169.7h0M284.8 117.5h0M173 28h0M201.5 135.9h0M276.9 95.5h0M201.8 155.8h0M309.9 45h0M181.5 65.4h0M239.8 164h0M241.5 151.4h0M235.3 162.5h0M280.7 102.4h0M160.1 126.2h0M242.8 166.1h0M283.2 124h0M160.9 35.5h0M242.9 45.9h0M225.4 22.4h0M219.5 39.2h0M241.5 26.2h0M255.9 81.5h0M268.9 117.3h0M301.2 155h0M261.2 85.1h0M317.8 46.9h0M262.5 162.4h0M197 163.7h0M176.9 173h0M164.2 25.6h0M196.9 113.3h0M172.2 119.4h0M265.6 104.5h0M266.6 51h0M253.8 164.3h0M215.9 104.9h0M229.3 27.7h0M195.4 75.5h0M304.5 134.4h0M155.1 53.3h0M205.6 142h0M247.3 54.4h0M182.4 88.9h0M293.9 67.2h0M232 41.7h0M213.8 158.6h0M162.9 74.6h0M199 138.1h0M250.1 159.7h0M199 65.7h0M160 22.9h0M248.4 103.1h0M202.8 58.4h0M292.6 157h0M267 47.5h0M271.9 133.5h0M299.8 26h0M286.6 63.9h0M207 52.4h0M246.7 153.7h0M195.3 114.6h0M185.9 123.9h0M186.6 34.7h0M170.9 69.7h0M192.1 159.9h0M189.7 116.7h0M263.8 139.1h0M194.1 99.5h0M160.2 53.7h0M222.3 163.2h0M185.8 62.8h0M266.6 48.3h0M189.2 122.3h0M244.7 35.3h0M181.6 140.1h0M232.3 132h0M296 81.2h0M202.7 101.6h0M239.8 97.2h0M225.1 33.5h0M164.1 34.3h0M155.9 76.4h0M291.9 23h0M208.8 50.7h0M266 78.5h0M220.8 118.9h0M291.2 101.7h0M184.8 48.8h0M232.6 139.3h0M243.3 144.7h0M283.8 124.4h0M157.4 128.3h0M212.5 61.2h0M231.1 151.5h0M250 112.4h0M175.9 49.4h0M242.5 127.7h0M267.3 118.9h0M273.8 109.9h0M189.6 94.8h0M225.5 140.5h0M201.8 134.8h0M216.7 113h0M212.6 32.4h0M308.9 57.8h0M154.7 173.2h0M309.3 84.2h0M158 119.8h0M165.4 42.3h0M186.6 110.3h0M200 116.1h0M294.5 139.7h0M291.7 171.7h0M307.2 92.5h0M217 70.3h0M155.1 46.7h0M256.1 73.6h0M301.3 90.5h0M170.3 171h0M289.5 101h0M152.8 126.3h0M273.7 135.3h0M234.1 24.1h0M302.8 58h0M297.3 105.5h0M160.2 30.9h0M234.9 45.3h0M192.6 138.3h0M225.2 126.1h0M163.5 43.4h0M212.2 40.2h0M220.1 152.3h0M153.1 95h0M231 70.8h0M300.6 133.1h0M162.6 125.4h0M308.9 175.6h0M233.5 38h0M187.4 140.7h0M312.9 93.1h0M230.9 60.3h0M224.8 99h0M214.8 25.2h0M298.4 41.2h0M174 38.8h0M187.3 129h0M199.4 131.4h0M162.8 59.7h0M292.2 69.5h0M233.4 141.4h0M252.1 81.9h0M299 75.9h0M234.4 168.1h0M198.2 106.1h0M240.4 105.2h0M235.3 116.3h0M202 28.4h0M190.9 83.6h0M211.7 143.8h0M274.2 122.6h0M179.9 159.5h0M317.4 70h0M191.4 95.5h0M197.6 58.3h0M172.8 50.7h0M217.4 36.1h0M214 52.7h0M265.3 47.3h0M300.8 89.8h0M193.5 85.5h0M286.5 140.1h0M203.5 142.2h0M219.8 105.5h0M173.7 123.5h0M300.2 94.4h0M214.3 69.9h0M268.5 99.8h0M156.9 119.5h0M267.9 169.5h0M190 148.2h0M227.2 32.3h0M264 120.9h0M180.8 36h0M239.7 118.1h0M290.8 153.2h0M179.5 130h0M229.9 40.5h0M183 87.5h0M176.2 52.1h0M233.6 124.1h0M228.1 131.8h0M259.1 135.8h0M294.5 77.1h0M269.4 114.4h0M208.2 54.2h0M232.9 165.7h0M264 167h0M291.3 26.7h0M265.5 109.1h0M235.7 132.9h0M174.6 57.7h0M296.2 27.1h0M199.1 22.3h0M219.5 131.2h0M298.9 23.9h0M186.8 81.7h0M303.7 145.4h0M190.4 30.1h0M166.9 131.2h0M237.5 88.6h0M284.1 82.2h0M219.1 96.8h0M292 76.4h0M218.1 155.1h0M287.4 125.5h0M171.2 81.9h0M199.4 40.6h0M172.8 99.9h0M274.9 176.3h0M230.2 159.8h0M261 32.5h0M192 77h0M274.1 94.6h0M316.8 84.7h0M165.6 39.3h0M205.3 50.8h0M296.4 104.6h0M293.4 133.4h0M296.8 132.7h0M190 125.8h0M245.7 126.1h0M166.7 23.3h0M223.8 55.7h0M247.9 74h0M195.3 61.6h0M222.4 82h0M213.1 83.7h0M166.5 74.5h0M163.8 23.6h0M281.8 155.7h0M153 169.8h0M315.7 117.1h0M301 64.1h0M315.9 91.6h0M282.5 162.9h0M152.9 114.6h0M171.7 129.7h0M205.2 130.2h0M182.5 173.5h0M162.5 123.2h0M304.3 38.7h0M303.1 100.1h0M279.4 164.5h0M194.4 42h0M293.6 29.9h0M288.1 29.8h0M206.1 32.8h0M173.6 47.3h0M174.9 141.1h0M220.2 114.6h0M290.2 135h0M165.1 108h0M223.6 76.7h0M211.2 143.5h0M300.2 48.2h0M177.8 77.6h0M261 86.2h0M206 127.1h0M259.5 139.6h0M288.6 109.6h0M289 115.9h0M292.4 65.4h0M200.9 113.6h0M198.2 152.3h0M172.8 89.9h0M194.8 138.1h0M172.3 100.5h0M282.3 101.2h0M160.3 115.9h0M184.2 43.6h0M283.3 55.3h0M279.7 49.1h0M313.6 104.7h0M216 125.4h0M160 131.3h0M286.3 54.2h0M199.9 73.6h0M280.5 44.5h0M155.7 123h0M158.3 87h0M251.5 64.2h0M265.7 56.8h0M245.5 168.6h0M240.6 96.4h0M251.3 175.1h0M174.2 71.6h0M163 55.3h0M210.3 132.6h0M243.2 162.9h0M193.7 47.3h0M182.1 155.2h0M226.4 112.8h0M220.3 161.7h0M197 168.2h0M305.9 87.9h0M308.6 167.4h0M160.2 49.9h0M232 90.6h0M191.8 90.5h0M208.1 59.9h0M157.2 96.8h0M165.8 138.3h0M158 38.7h0M173.3 96.3h0M260 103.2h0M165.5 52.4h0M299.1 121.2h0M285.3 61.1h0M197.1 110.2h0M266.9 110.3h0M310 137.7h0M171.7 166.4h0M245.2 165.1h0M229.6 99.6h0M203.9 62.6h0M200.2 59.4h0M166.8 143.5h0M259.6 139.5h0M185.2 144.7h0M222.5 150.8h0M306.1 109.3h0M210.1 160.7h0M204.8 123.5h0M306.8 119.5h0M249.1 151.3h0M246.9 122.7h0M189.3 140.6h0M258.6 165.7h0M215.3 83.1h0M242.5 138h0M218.3 68.1h0M165.9 97.2h0M297.8 157h0M267 172.4h0M311.1 168.4h0M203.2 139.1h0M199.1 153.1h0M174.9 158.7h0M203.1 116.2h0M206.3 59.6h0M182.9 24.7h0M196.3 139.6h0M201.2 139.5h0M294.5 134.9h0M226.4 111.6h0M288.2 123.6h0M160.7 133h0M183.7 104.1h0M310.2 123.7h0M160.8 56.7h0M164 104.5h0M238.2 119.1h0M200.5 109.9h0M184.6 61.7h0M253.2 41.6h0M253.3 123.1h0M183.6 39.4h0M241.7 144.7h0M227.8 50.1h0M292.6 141.3h0M163.8 77h0M191.1 161.3h0M246 56.9h0M158 46.4h0M292.5 126.3h0M312.7 141.5h0M206.8 76h0M280.7 94.9h0M193.7 124.2h0M309.4 67.6h0M187.5 82.1h0M153.5 109.5h0M163.8 68.8h0M228.4 44.6h0M158.8 162.4h0M314.8 40.9h0M257 174.5h0M246.6 152.5h0M256.1 91h0M221.7 155h0M299.1 31.9h0M270.5 108.9h0M223.7 76.6h0M199.5 68.5h0M176.4 160.2h0M204.7 27.9h0M210.9 155.2h0M165.8 34.2h0M305.6 126.7h0M195.2 66.1h0M241.9 103.4h0M163.4 165h0M243.9 145.2h0M259.4 37.3h0M165.7 69.2h0M314 97.4h0M179.5 132.7h0M196 22.9h0M274.4 155.5h0M208.2 152.1h0M297.6 169.7h0M191.9 53.3h0M204.5 54.9h0M267.1 150.7h0M294.8 101.5h0M298.8 59.9h0M200.2 24.6h0M240.4 55.5h0M220.5 126.3h0M264.4 135.2h0M190.1 76.7h0M291.4 163.8h0M270.5 100.7h0M181.4 102h0M204.5 83h0M208.1 84.3h0M306.4 77.5h0M228 149.4h0M254.5 90h0M306.5 57.7h0M218.1 89.3h0M309.1 165h0M200.8 120.7h0M154.6 38.2h0M169.5 86.8h0M267.1 94.1h0M215.6 24.1h0M290.4 170.5h0M240.7 163.5h0M266 37.7h0M210.8 107.3h0M249.7 70.3h0M268 54.7h0M214.9 64.4h0M233.7 30.3h0M292.1 128.3h0M306.3 78.6h0M210.5 130.1h0M163.6 148h0M291.9 110.5h0M226.5 75.1h0M312.9 43.6h0M278.7 122.6h0M213.4 126.2h0M293.2 142.7h0M243.2 43.3h0M270.6 29.1h0M299 157.8h0M248.5 115.7h0M309.3 36.6h0M218.4 131.5h0M215.2 30.7h0M258.5 119.7h0M219.5 107.7h0M269.6 132.5h0M240.4 36.5h0M275.4 162.4h0M289.2 167.3h0M246.4 174.1h0M303.8 140.3h0M281.8 70.1h0M294.3 173.2h0M155.7 116.9h0M155.1 133h0M257.5 124.2h0M207.6 53.9h0M297 153.8h0M217.3 121.9h0M275.6 56.1h0M193.2 80.4h0M256.7 44.2h0M301.6 88.9h0M295.2 174.9h0M213.1 81.3h0M232.2 83.1h0M241.1 146.1h0M209.5 34.8h0M232.6 40.5h0M312.1 137.2h0M298.1 42.1h0M204.6 116.5h0M265.7 148.2h0M309.5 109h0M212.4 34.4h0M292.9 53.9h0M284.5 105.5h0M299.3 169.4h0M166.5 123h0M305.2 129.7h0M314.9 114h0M192.4 72.4h0M257.3 115.9h0M167.4 23.5h0M252.2 86h0M269.8 147.4h0M275.9 53.6h0M294.3 122.2h0M201.1 133.3h0M171.7 46.2h0M287.7 154.5h0M156.8 59.7h0M191.1 170.7h0M191.7 75.2h0M280.8 116.5h0M225.7 168.6h0M291.2 148.7h0M263 97h0M292 52h0M282.6 117h0M298.2 112.8h0M198.2 31.9h0M211.3 81.1h0M256.5 164.2h0M249 103.2h0M281.2 50h0M286.3 121.5h0M203 92.1h0M172.5 163.2h0M275.2 97.7h0M266.2 26h0M198.3 46.9h0M161.9 49.1h0M156.3 169h0M193.6 77.5h0M197.8 75.9h0M186.8 172.8h0M160.9 53.9h0M180.7 118.1h0M210.4 168.4h0M167.8 162.6h0M186.7 46.8h0M225 94.8h0M292.9 60.9h0M296.7 130.1h0M219.5 60h0M173.3 49.3h0M197.1 64h0M264.2 42.2h0M219.9 132.7h0M246.9 65.2h0M274.4 83.8h0M261.5 64.5h0M294.7 80.7h0M166.7 69.2h0M201.6 76.6h0M158.1 131.5h0M238.7 48.9h0M254.2 128.1h0M194.5 75.7h0M161.7 36.5h0M229.3 40.5h0M180.3 161.1h0M184.7 28.5h0M215.6 64.7h0M308.9 155.4h0M212.1 34.3h0M269.9 54.6h0M214.1 63.5h0M219.6 151.1h0M175.7 39.9h0M183.1 168.1h0M280 40.5h0M223.5 109.4h0M199.7 141.5h0M315.9 108.3h0M297.8 100.4h0M196.2 89.6h0M224.4 61h0M246.3 175.4h0M180 84.4h0M223.2 120.8h0M199.5 112h0M286.6 170.6h0M168.1 59.7h0M316.6 45.9h0M191.5 160.9h0M207.3 100.6h0M165 121.1h0M303.6 118.6h0M289.6 142.9h0M163.7 151.4h0M239.9 130.4h0M217.1 22.8h0M252.8 151.3h0M208.1 28.6h0M310.8 154.5h0M188.6 22.2h0M288.2 141.6h0M196.8 120.7h0M260 26h0M223.3 138.5h0M239.5 111.5h0M238.9 40.7h0M256.1 157.5h0M163.8 113.3h0M162.3 93.5h0M313.2 168.1h0M194.4 53.4h0M211.5 49.2h0M192.2 159.9h0M259.4 46.8h0M315.3 148.3h0M219.1 54.4h0M205.7 147.8h0M210.3 85h0M157 117.4h0M167.4 115.8h0M160.5 83h0M206.1 102.1h0M315.4 122.3h0M175.9 43.1h0M243.3 163.5h0M186.8 149.2h0M158.6 54.2h0M291 56.8h0M173.6 83h0M174.9 141.2h0M287.7 101.8h0M192.8 70.7h0M185.4 140.7h0M308.6 52.2h0M184.7 131.5h0M290.1 138.4h0M203.3 37.8h0M246.1 110.1h0M204 113.8h0M208.6 172.1h0M306.8 68.2h0M302.7 93.1h0M181.4 166.6h0M272.4 42.2h0M175.6 160.6h0M202 78.5h0M164.2 75.1h0M259.7 175.7h0M272.7 82.3h0M276 60.2h0M280.7 54h0M217.8 129.5h0M181.8 120.2h0M153.2 58.9h0M225.4 98.5h0M307 66.3h0M226.8 151.4h0M254.4 77.3h0M304.2 117.1h0M295.2 163.1h0M274.9 58.9h0M250.5 169.1h0M190.9 97h0M276.4 120.9h0M221.6 64h0M269.4 129.3h0M189.5 133.8h0M308.2 113.5h0M179.7 155.3h0M283.4 94.9h0M299.9 24.3h0M177.7 163.1h0M295.7 109.7h0M259.1 117h0M252.4 114.5h0M194.5 28.4h0M206.8 66.4h0M191.4 35.9h0M225.6 122.4h0M259.7 154.1h0M273.1 124.1h0M269.3 147.7h0M209.9 73.4h0M208.1 26.9h0M278.9 85.3h0M313.7 48.1h0M189.2 69.2h0M220.8 58.9h0M198.2 49.9h0M313.8 128.3h0M155.2 114.3h0M300.2 149.1h0M279.5 174.1h0M207.4 58.7h0M265.1 166.9h0M213.7 140.6h0M257.9 109h0M222.9 172.3h0M303.9 101.2h0M228.2 26.4h0M286.9 41.3h0M247.9 70.3h0M214.1 129.6h0M312.5 109.5h0M184.8 127.6h0M302.8 24.9h0M314.9 60.3h0M293 107.7h0M253.5 123.1h0M255.5 88.7h0M306.2 55.7h0M224.2 69.9h0M288.9 139.6h0M280.7 132.9h0M294.6 60.2h0M225.4 168.9h0M260.5 28.8h0M167.8 58.2h0M164.4 89.7h0M170.3 146.3h0M274.2 109.3h0M211.3 126.4h0M302.8 169h0M165.6 78.7h0M181 50h0M290.9 85.3h0M221.8 109h0M189 42.8h0M281.8 28h0M191.3 134.2h0M313.6 174.8h0M198 165.9h0M294.6 80.1h0M231.9 92.2h0M307.3 150.1h0M201.5 174.2h0M305.6 77h0M202.6 169.1h0M226.7 129.9h0M257.2 44.8h0M244.3 91.6h0M263.5 22.5h0M267.7 84.9h0M196.8 102.8h0M153.9 145.3h0M272.2 73.1h0M251.8 122.4h0M245.7 124.5h0M234.5 103h0M306.2 116.8h0M201.7 93.1h0M303.4 116.3h0M180.3 93.2h0M267.4 162.9h0M308.3 39.5h0M178 155.5h0M280 137.1h0M197.7 23.7h0M162.3 133.1h0M223.9 78h0M268.2 100.3h0M199.4 102h0M309.8 135.6h0M152.9 97.1h0M196.8 120.2h0M209 55.9h0M213.9 32.9h0M202.1 125.2h0M156 174.7h0M187.2 34h0M195.8 162.7h0M263.8 81.4h0M214.9 122.9h0M272.1 63.1h0M225.7 128.8h0M208.9 89.3h0M178.8 144.8h0M190.3 64.8h0M301.7 73.4h0M227.8 118.6h0M204.4 38.3h0M188.6 172.7h0M297.6 115.8h0M269 172.2h0M267.4 49.5h0M285.7 131.5h0M192.4 53.1h0M273.5 34.8h0M164.3 90.4h0M262.5 94.8h0M205.8 108.2h0M262 94.1h0M190 52.2h0M211 127.4h0M263.4 63.1h0M308 66.8h0M208.9 142.7h0M180.5 127.3h0M173.1 134.3h0M263.6 164.4h0M300.5 153.7h0M155.3 55.9h0M209.6 172.8h0M180.5 102.3h0M310.5 108.3h0M174.4 65h0M163.9 81.9h0M279.6 108.1h0M317.8 27.2h0M280.6 133.3h0M171.5 75.9h0M220 128.9h0M238.6 135.1h0M301.2 117.6h0M277.2 33.5h0M162.4 109h0M227.5 76.8h0M281.4 132.4h0M242.4 131.9h0M262.8 99.6h0M312.6 135h0M314.5 44.2h0M291 148.1h0M247.2 171.7h0M203.4 161.2h0M178.9 147.4h0M180.2 84.6h0M258.5 166.1h0M280.4 108.9h0M294.6 55.3h0M303.8 105.8h0M200.1 153.5h0M207.9 126.8h0M185 150.7h0M242.5 27.4h0M309.2 171.8h0M277.9 164.5h0M224.8 99.7h0M178.8 164.6h0M292 50.1h0M300.8 78.4h0M279.6 48.1h0M200.8 125.5h0M217.1 163.8h0M249.1 165.9h0M304.4 34.4h0M192.7 140.7h0M222 108.3h0M162.5 56.1h0M153 160.3h0M192.8 103.7h0M286.4 28.5h0M264.3 80.1h0M231.4 127.4h0M220.3 153.5h0M196.3 52.7h0M279.3 113.5h0M233.2 35.4h0M164.1 162.9h0M256.3 23.5h0M316.9 172h0M164.6 109.3h0M317.5 138.2h0M169 125.4h0M203.4 100.1h0M314.1 89.7h0M313.4 54.1h0M183.1 66.3h0M271.7 36.5h0M253.9 63.4h0M218.4 123.1h0M282.2 107.2h0M257.5 109.7h0M189.8 103.7h0M233.6 168.1h0M269.9 153.4h0M255.4 62.8h0M242.4 108h0M274.6 171.7h0M174.8 63.3h0M159.6 130.3h0M157.9 122.1h0M255.2 125.4h0M224.4 108h0M290.8 136.4h0M313.3 80h0M171 166.8h0M215.2 109.6h0M221.9 74.2h0M242.9 120.7h0M303 127.9h0M251.8 164h0M202.9 120.3h0M262.2 102.7h0M207 76.5h0M244.4 87.7h0M168.8 66.3h0M245.8 117.8h0M231.7 155.1h0M259.3 113.6h0M246.3 53.4h0M247.3 27.6h0M274.5 157.7h0M174.6 67.6h0M276.9 128.4h0M255.7 168.1h0M266.5 167.2h0M218.6 107.7h0M166.6 163.1h0M305.1 84.2h0M289.4 167.3h0M314 126.9h0M228.7 34.4h0M298.9 147.5h0M296.7 46.8h0M243.5 176h0M301.5 29.6h0M287.3 139h0M169.5 45.6h0M174.6 105.4h0M219.9 79.5h0M240.7 157.2h0M260.5 64.3h0M245.9 133.3h0M297.5 167.3h0M285 31.9h0M169.5 132.3h0M208.6 35h0M299.4 142.3h0M277.5 154.4h0M155.1 43.5h0M256.2 158.6h0M173.4 89.7h0M235.8 69.7h0M317 171.2h0M164.9 81.4h0M288.8 54.4h0M232.6 72.9h0M314.5 161.8h0M294.8 174h0M163.2 92.3h0M259 98.3h0M294.9 114.4h0M198.7 151.7h0M269.1 23.4h0M194.6 144.9h0M186.5 172.3h0M207.5 84.6h0M201 89.6h0M311.8 170h0M191.4 84.9h0M222.8 80.2h0M232.9 154.8h0M266.9 95.1h0M313 122h0M254.1 66.2h0M294.9 127.1h0M174.3 78.8h0M262 143.1h0M181 98.1h0M296.7 164h0M251.1 106.6h0M175 154.5h0M293.2 90h0M239.4 125.4h0M232.9 63.3h0M165.9 112.6h0M302.6 124.4h0M237.5 51.5h0M295.6 106h0M165 164.4h0M265 53.2h0M214.6 97.4h0M241.3 151.4h0M255.8 87.8h0M289.2 26.6h0M305.3 103.2h0M180.1 93.4h0M294.8 165.3h0M171.8 124.6h0M154.3 142h0M202.4 78.9h0M199.6 160.5h0M280.1 150h0M245.2 36.1h0M216.7 124.1h0M283.4 161.7h0M307.4 122.5h0M258.6 172h0M260.6 62.3h0M295.1 112.8h0M201 104.4h0M317.3 67.6h0M181.7 142.7h0M160 88.6h0M288.7 122.4h0M181.4 142.8h0M208 134.4h0M237.4 37.5h0M170.9 30.5h0M222.6 148.7h0M211.1 122.5h0M166.7 44.9h0M252.3 42.1h0M227.1 98.9h0M178.9 49.5h0M282.9 165.8h0M220.4 56.6h0M156.8 167.8h0M298 132.6h0M220.2 107.9h0M167.7 125.7h0M200.3 128.9h0M194.7 66.1h0M159.8 97.4h0M207.3 32.2h0M180.4 29.4h0M187.9 167.8h0M264.1 153.4h0M178.7 138.4h0M156.1 38.1h0M182 118.4h0M201.4 132.5h0M179.8 88.5h0M251.3 80.4h0M298.1 134.2h0M290 23.6h0M230.4 94.7h0M282.5 61.6h0M283.3 90.6h0M257.5 107.4h0M285.3 87h0M215.2 157.5h0M276.3 158.3h0M239 139.3h0M274.7 144.7h0M274.8 99.3h0M163.4 63.9h0" stroke="#2a3cdc" stroke-width="2.3" stroke-linecap="round" fill="none"/>
<path d="M287.5 150.7h0M171.8 130.5h0M250.8 172.3h0M257.3 122.2h0M170.6 172.6h0M186.3 122.7h0M263.8 55.7h0M294.4 119h0M217.2 140.6h0M240.4 87.4h0M269.7 47.9h0M248.8 76.3h0M229.1 142.7h0M258.1 54.1h0M270 23.8h0M285.1 157.8h0M245.4 172.1h0M261.9 156.2h0M184.8 145.8h0M179.2 134.7h0M286.5 107.2h0M189.5 122.7h0M224.8 137.3h0M299 72.8h0M176.8 53.7h0M264.8 129.2h0M193.6 115.2h0M256.1 175h0M287.6 86.1h0M288.3 86h0M281.2 40.9h0M238.2 24.3h0M242.5 43.5h0M181 113.5h0M171.8 170.9h0M276.3 39.5h0M161.1 46.7h0M306.9 127.4h0M183.2 68.7h0M271.7 29.1h0M226.6 159.1h0M253.9 45h0M277.7 89.4h0M201.5 138.6h0M289.1 142.5h0M277.5 169.7h0M248.5 113.5h0M247.5 44.9h0M216.1 34.4h0M312.9 121.4h0M216.6 104.7h0M192.4 60.5h0M244.9 47.5h0M304.9 76.1h0M305.7 66.5h0M248.2 76.8h0M217.4 76.3h0M276.1 138.3h0M245 93.3h0M288.7 153h0" stroke="#c83cc0" stroke-width="2.3" stroke-linecap="round" fill="none"/>
<path d="M201.5 32.5h0M192.3 61.4h0M310.7 27h0M256.6 123.7h0M215 138.1h0M195.2 70.5h0M170.8 46.5h0M186.4 59.8h0M204.6 60.1h0M218.7 59.1h0M162.3 60h0M157.9 34.7h0M202.6 104.6h0M257.2 27.5h0M179.5 45.3h0M313 108.5h0M253.4 59.4h0M162.7 67h0M184.1 165.3h0M272.9 57.8h0M170.5 151.5h0M231.5 91h0M245.3 176.4h0M182.4 56.8h0M190.7 61.2h0M205.9 53.6h0M190.3 76.2h0M203.1 60.6h0M199.5 66.9h0M238.8 35.2h0M157.6 77.8h0M163.2 92.8h0M181.9 148.3h0M216.2 113.3h0M190.2 31.9h0M265.6 30.3h0M210.5 47.4h0M253.5 42.4h0M170.8 100.5h0M174.9 34.2h0M280.4 44.4h0M238.7 130.8h0M286.3 128.7h0M194.5 104.8h0M235.4 92.5h0M268.2 26.9h0M304.2 147.1h0M186.3 29.9h0M244 117.1h0M262.6 115.3h0M201.2 126.9h0M201.3 43.9h0M163.5 101.2h0M196.4 63.2h0M244.1 65.6h0M295.9 130.8h0M161.5 129h0M172.8 62.8h0M286.2 130h0M188.4 71.9h0M155.9 158.5h0M257 53.1h0M247.7 24h0M205 35.3h0M246 64.5h0M205.7 69.2h0M164.7 66.2h0M169.1 32.2h0M204 29.8h0M267.8 43.4h0M266.2 170.9h0M295 26h0M311.2 30.6h0M183.7 34.8h0M188.9 38.8h0M265 55.2h0M217.2 92.8h0M311 89.6h0M262.9 34.3h0M175.5 83h0M284.3 152.4h0M160.1 53h0M187.4 58.4h0M264 29.5h0M173.7 116.3h0M169.8 50.4h0M165.6 88.4h0M207.7 159.2h0M203.4 35.9h0M250.6 108.7h0M200.3 45.4h0M191.1 83.1h0M279.7 52.6h0M304.3 127h0M179.7 63.5h0M159.8 102.2h0M206.3 33h0M263.9 80.5h0M217.8 54.1h0M162.7 94.5h0M158.4 63.8h0M157.7 131.4h0M285.7 30.2h0M266.2 22.9h0M259.6 29.6h0M239.8 92.5h0M207.6 22.8h0M172.9 66.1h0M220.8 174h0M186.2 141.6h0M200.5 94h0M230.1 71.6h0M251.7 69.8h0M199.1 97.4h0M307.7 120.4h0M169.5 137.7h0M270.1 57.6h0M160 131.1h0M241.4 43.9h0M247.8 99.8h0M306.3 48.6h0M248.6 41.7h0M274.9 30.6h0M182 36h0M217.3 105.2h0M171.5 110.8h0M174.4 28h0M236.5 130.3h0M206.4 100.5h0M254.2 49.2h0M197.1 92.1h0M226.4 79.5h0M246.3 172.7h0M254.9 64.7h0M211.3 71.9h0M282.1 161.3h0M180.8 89.8h0M196.6 100.8h0M160.7 137.3h0M198.5 24.2h0M235.8 171.3h0M255.9 92.2h0M205.3 49.8h0M247.6 162.6h0M203.3 52.1h0M231.3 174h0M296.9 30.8h0M217 24.8h0M308.2 145.5h0M261.6 58.3h0M170.9 75.4h0M197.9 84.3h0M179.3 64.8h0M266.4 104.1h0M172.1 35.8h0M210.8 33.2h0M296.4 44.8h0M309.9 98.8h0M281.8 119h0M184.8 175.8h0M165.2 81.2h0M155.4 129.7h0M170.5 75.4h0M268.9 134.6h0M255.5 40.5h0M220.6 36.4h0" stroke="#e8d048" stroke-width="2.6" stroke-linecap="round" fill="none"/>
<path d="M257.5 28.2h0M276.3 28.4h0M244.8 26.4h0M281.3 29.6h0M271.6 25.6h0M258.1 24.2h0M281 31.4h0M286.5 29.8h0M270.4 29.9h0M264.4 26.9h0M287.9 30.7h0M283 31h0M249 30.1h0M259.1 32.8h0M259 37.2h0M256.2 31.6h0M241 30.1h0M274.7 26.2h0M263.2 29.1h0M263.4 27.9h0M281.8 24.6h0M254.1 33.1h0M261.2 26.7h0M265.8 33.3h0M255.9 42.9h0M260.4 25.3h0M272.8 41.2h0M261.9 27h0M280.7 31.2h0M251.4 24.6h0M264.8 24.7h0M241.9 32.2h0M260.3 31.7h0M252.1 25.8h0M281.2 25.3h0M272.5 41.5h0M269.2 30.5h0M288 24.2h0M282.3 24.1h0M272.1 26h0M252.3 30.9h0M241.6 24.3h0M261.6 31h0M257 31.3h0M252.9 27.1h0M257.9 25.9h0M238.7 29.6h0M283 32.9h0M245.9 27.5h0M252.5 26.9h0M270.1 38.7h0M239 29.9h0M275 37.1h0M275.3 32.5h0M257.6 25.3h0M246.8 29.1h0M255.3 25.9h0M235.8 41.7h0M281.6 32.3h0M262.8 33.2h0M251.6 24.9h0M249.2 32.4h0M270.1 35.8h0M283.3 25.2h0M244 40.5h0M253.9 34.7h0M237.1 24.3h0M271.6 26.6h0M264.2 25.4h0M294 31.1h0M260.3 34h0M255.8 36.8h0M251.9 36.9h0M274.1 25.9h0M238.9 35h0M272.6 25.6h0M265.5 34.2h0M254.8 28.2h0M249.2 27.4h0M277 34.7h0M288.4 31h0M255.7 27.2h0M269.5 30.2h0M286.8 28.6h0M253.2 33.8h0M258.4 27.6h0M244.7 33.7h0M259.9 29.9h0M260.8 32.7h0M256 30h0M251.5 28.7h0M239.5 27.2h0M242.9 41.2h0M248.1 31h0M271.1 30.1h0M254.7 27.4h0M249.9 36h0M271.3 34.3h0M270 31h0M251.2 29.6h0" stroke="#f0e030" stroke-width="2.5" stroke-linecap="round" fill="none"/>
<path d="M193.5 123.2h0M191.3 123.6h0M193.2 116.6h0M190.4 123h0M191.1 123.4h0M189.4 123.9h0M192.8 116.6h0M190.8 119.7h0M194.8 120.8h0M194.1 120.1h0M189.6 123.7h0M197.5 119.6h0M188.7 123.5h0M193.3 122.1h0" stroke="#b8e070" stroke-width="2.0" stroke-linecap="round" fill="none"/>
</g>
<g clip-path="url(#ca2)">
<rect x="318" y="22" width="138" height="154.5" fill="#0a100c" />
<g filter="url(#bl2)">
<polygon points="403.8,21.7 456.1,100.7 443.8,153.4 399.6,173 354.3,174.8 318.7,152.2 328.5,116.6 362.8,118.3 388.6,76.1" fill="#6a1636"/>
<ellipse cx="395" cy="140" rx="30" ry="22" fill="#8a1a34"/>
<ellipse cx="420" cy="80" rx="14" ry="25" fill="#7a1838"/>
<ellipse cx="440" cy="50" rx="20" ry="30" fill="#0a2a18"/>
<ellipse cx="325" cy="150" rx="14" ry="30" fill="#101a50"/>
</g>
<path d="M452.8 126h0M323 106.7h0M355.6 89.1h0M373.3 91.3h0M366.1 22.6h0M318.9 50.6h0M364.5 78.8h0M364.3 24.4h0M435.4 162.1h0M377.8 63.1h0M318.6 48.5h0M344.9 22.9h0M324.1 91.9h0M436.2 173.8h0M372 45.3h0M371.6 65.6h0M339.6 57.5h0M337.4 172.4h0M341.4 167.6h0M344.7 49.9h0M332.6 24.5h0M455.3 125.6h0M335.8 72.1h0M366.9 96h0M337.5 105.1h0M361.1 79.4h0M383.9 51.3h0M353.2 68.9h0M366.8 60h0M368.8 66.5h0M349.2 57.7h0M348.2 42.7h0M452 81.6h0M376.1 51.1h0M363.8 77.1h0M447 168.5h0M358.5 92.8h0M324.1 57.2h0M326.5 35.3h0M321.1 128.9h0M342.3 61.2h0M449.8 56.8h0M326.3 100.2h0M349.2 55h0M442.7 61.8h0M429.3 31.5h0M346.4 97.9h0M325.3 89.5h0M384.7 77.3h0M335.3 62h0M335.5 61.4h0M340.3 57.4h0M447 173h0M353 83.7h0M325.6 69.5h0M347.8 41.6h0M403 22.6h0M453.9 72.7h0M453.2 157.9h0M454.7 158.9h0M319.9 48.6h0M415.8 173.4h0M334.3 26.4h0M390 65.6h0M415.6 175.4h0M372.1 100h0M452.2 118h0M444.5 77.8h0M319.2 47.2h0M372.5 102.3h0M329.2 84.8h0M427.3 164h0M370.6 54.8h0M331.5 114.9h0M431 23.2h0M354.3 96.8h0M382.3 58.3h0M374.2 65h0M341 56.1h0M325.7 161.5h0M413.3 27.9h0M318 129.4h0M447.5 58.9h0M360.9 23.3h0M372.8 86.7h0M371.1 93.1h0M322.5 108.5h0M320.6 52.5h0M362.4 110.9h0M337.9 113.3h0M453.9 150.7h0M327.9 160.3h0M357.5 60.6h0M443.4 170.7h0M441.7 75.5h0M325 41.6h0M332.9 33h0M374.5 50.1h0M420.3 164.8h0M398.3 33.7h0M356.6 109.9h0M443.6 74h0M358.4 103.1h0M336 50.8h0M451.3 73.5h0M319.3 109.7h0M359 40.2h0M448.9 156.1h0M360.8 85.5h0M371.3 60.1h0M426.3 164.9h0M340.8 69.8h0M371.9 51.7h0M454.1 166.9h0M374.1 38.6h0M371.9 102.4h0M435.1 35.6h0M430.8 31h0M419.6 166.3h0M369.9 93.3h0M319.8 83.4h0M435.1 49.5h0M338.2 94.9h0M352.5 104.4h0M360.9 38.2h0M333.1 29.5h0M318.7 104.5h0M331.1 51.8h0M356.1 99.8h0M342.2 90h0M324.5 39.5h0M346.5 60.1h0M333.4 72h0M408.7 27.8h0M339.8 115.2h0M320.1 56.3h0M340.9 107.4h0M330.8 174.2h0M434.5 169.9h0M369.1 59.9h0M323 118.3h0M351.8 106.7h0M455.8 174.2h0M328.2 175.5h0M321.7 85.1h0M321.6 92.4h0M380.3 35h0M333.3 83.1h0M349.6 102.5h0M364.4 53.6h0M448 64h0M344.9 45.6h0M351.4 99.8h0M446.4 58h0M392.5 42.7h0M378.1 51.6h0M357.8 111h0M337.1 50.2h0M362.8 97.8h0M451 126h0M320.1 72.8h0M434.6 170.5h0M328.9 30h0M340.1 23.9h0M344.8 62.4h0M443.3 168.9h0M387.6 62.2h0M336.1 32.5h0M327.8 30.8h0M451 127.5h0M398.5 38.8h0M451.1 157.6h0M419.4 39.1h0M410.3 172h0M333.4 29.1h0M322.3 162h0M385.9 55.6h0M323.5 106.5h0M360.8 75.2h0M320.5 32.6h0M334.8 23.9h0M371.4 36.8h0M371.6 86h0M376.6 27.4h0M361.6 102.3h0M381.9 61.9h0M365.5 33h0M337.8 35.7h0M367 99h0M438.3 26.4h0M431.2 159.7h0M344.4 110h0M333.6 172.6h0M449.7 153.8h0M320 139h0M426.4 162h0M341.5 35.4h0M455.7 146.3h0M373.4 89.6h0M357.5 39.4h0M323.6 70h0M447.1 165.2h0M329 57.4h0M322.5 169.8h0M332.3 78.7h0M390.7 30.4h0M442.2 58.2h0M442.7 162.5h0M340 172.9h0M441 43.7h0M366 62h0M378.5 62h0M437.6 46.8h0M351.8 46.9h0M368.6 91.8h0M338.2 36.3h0M368.3 99.1h0M432.5 170.3h0M340.2 86.3h0M337.7 35.6h0M446.6 160.1h0M318 46.6h0M392.6 40.5h0M392.2 52.9h0M450 127.4h0M350.3 59.3h0M318.8 105.7h0M345.8 89.5h0M361.5 85.4h0M454.3 138.1h0M344.6 171.8h0M347.5 61.3h0M328.2 101.3h0M345.8 174.2h0M321.2 41h0M365.4 25.5h0M319.6 38.7h0M384 36.9h0M367.7 99h0M337.3 81.5h0M373 77h0M363.1 65.9h0M348.7 25.5h0M350.9 86.2h0M369.4 73.2h0M451.8 55.1h0M346.1 27.1h0M364.3 91.4h0M384.7 73.1h0M361.9 86.2h0M323.7 77.8h0M332.8 92.8h0M448.6 140.2h0M343.9 78.7h0M359.5 94.4h0M326 27.5h0M345.2 31.3h0M370.2 102.9h0M388.2 76h0M351.7 58.9h0M361.1 30.7h0M322.5 51.5h0M341.8 60.1h0M364.6 84.4h0M347.8 57.4h0M330 91.9h0M436 36.3h0M453.1 157.5h0M455.7 129.9h0M347 51.3h0M329.9 85.3h0M320.1 26.3h0M329.8 33.4h0M386 67.9h0M330.7 55.1h0M341.3 65.6h0M388.5 53.7h0M319.7 113.2h0M379.2 59.6h0M453.7 148.2h0M320.7 43.1h0M345 52.7h0M336.5 88.2h0M387.2 35.5h0M440.9 71h0M442.5 159h0M347 25.1h0M321.5 89.2h0M340.4 171.5h0M425.2 167.3h0M338.7 169.5h0M336.2 106.3h0M368.8 61.6h0M340.3 90.3h0M369.4 22.4h0M367.5 108.6h0M355.1 115.3h0M357.1 47.8h0M375.5 32.4h0M455.5 141.8h0M363.5 59.9h0M363.2 32.4h0M371.5 57.9h0M321 169.9h0M390.2 47.8h0M354.5 102.1h0M358.4 63.7h0M318.3 86.6h0M366.1 88.2h0M339 46.1h0M329.6 103.6h0M364.5 93.3h0M397 44.9h0M329.5 51.5h0M371.8 58.1h0M369.1 36.6h0M333.6 162.3h0M323.9 30h0M395.1 47.7h0M327.1 164.8h0M389.2 53.2h0M351.3 27.4h0M346.6 42.5h0M373.8 59.2h0M374.6 36.3h0M327.9 43.1h0M322.1 134.8h0M327.6 78.8h0M379.5 36.6h0M322.6 25.2h0M416.6 168h0M325.2 95.2h0M376.6 31.5h0M403.7 176.3h0M356.6 66.7h0M330.9 167.7h0M343.5 76.9h0M421.2 45.5h0M347.9 172.2h0M342.8 94.6h0M381.6 46.1h0M364.9 97.8h0M327 41.3h0M324.2 75.1h0M452.6 133.7h0M347.6 73.1h0M350.3 27.8h0M349.6 64h0M361.6 103h0M323.8 44.2h0M449 168.3h0M450.2 71.4h0M428.8 43.4h0M331.9 61.5h0M445.2 176.3h0M340.4 64.1h0M425.3 166.9h0M356.5 81.5h0M438.9 163.1h0M369.8 71.1h0M447.9 146h0M328.7 70h0M391.9 174.2h0M320.6 110.6h0M327.5 118.2h0M357.6 44h0M357.6 86h0M379.1 37h0M322.8 76.7h0M322.5 109.7h0M350.4 66.9h0M328.6 80.6h0M354 35.4h0M322.5 94.3h0M381.7 176.2h0M361.9 65.9h0M441.1 57.2h0M355 85.3h0M439.8 56.7h0M325.6 55.7h0M365.5 53.3h0M366.9 28.7h0M329.1 162.7h0M389.7 61.1h0M379.4 55.5h0M454.8 162.1h0M353.7 40.9h0M342.3 91.2h0M327.9 87.5h0M333.2 174.8h0M412.1 174.3h0M368.1 31.5h0M438.6 169.6h0M344.3 89.4h0M364.9 41.9h0M354.3 83.5h0M375.3 37.5h0M325.3 43.8h0M388.3 48.6h0M437.8 29.6h0M334 25.7h0M331.1 83.1h0M334.6 82.6h0M362.3 108.9h0M330 46h0M358.5 37.8h0M366.9 105.3h0M319.6 78.9h0M324.5 83.6h0M320.5 157h0M355.4 81.9h0M421.3 34.4h0M375 58.8h0M319.8 103.4h0M416.6 175.4h0" stroke="#2a3ce0" stroke-width="2.0" stroke-linecap="round" fill="none"/>
<path d="M401.8 31.4h0M421.8 111.6h0M411.5 155h0M417.3 56.6h0M430.2 104.3h0M389.8 167.3h0M341.1 125.9h0M387.5 106.8h0M433.6 89.3h0M437.8 106.6h0M391.3 153.7h0M402.9 84.8h0M443 115.1h0M387 106.4h0M335 157.4h0M435.7 136.1h0M374.4 105.4h0M425.1 86.6h0M399.8 107h0M389 90.7h0M382.1 91.8h0M430.4 106.9h0M423.8 130.3h0M349.6 134.3h0M381.7 102.9h0M427.1 150.4h0M379.7 111.5h0M335.7 150.6h0M379.1 135.4h0M394.7 169.9h0M400.5 123.9h0M338.4 143.7h0M386.3 84h0M413.6 60.8h0M418.7 90.5h0M377.7 149.3h0M393 137.4h0M385.2 106.9h0M381.1 102.5h0M399.9 168.2h0M406.3 100.2h0M421.8 79h0M403 50.1h0M365 151.9h0M434.1 108.5h0M322.5 153.4h0M387.8 91.7h0M443.1 139.1h0M415.9 124.2h0M376.5 99.3h0M374.8 160.5h0M423.7 106.7h0M406.9 59h0M354.3 132.3h0M385 143.5h0M408.1 98h0M368.7 111.6h0M409 98.6h0M357.5 149.7h0M386.6 169.7h0M447.1 139h0M382.8 109.2h0M327.8 143.8h0M333.9 135.1h0M394.8 116.8h0M405.8 109.9h0M343.9 125.3h0M335.5 140.9h0M442.9 84h0M339.7 119.3h0M405.2 101.9h0M386.3 132.3h0M432.6 102.6h0M387.9 94.7h0M421.6 119.4h0M337.8 142.2h0M439.2 154.3h0M370.7 152.4h0M435.1 136.6h0M400.3 84.2h0M350.7 126.3h0M361.5 119.4h0M410.4 157.1h0M346.5 121.7h0M399 118h0M380.3 114.5h0M396.4 89.8h0M421.7 52.3h0M440.2 149.6h0M344.8 135.5h0M386.1 123.1h0M444.9 86h0M379.5 156.5h0M421.3 94.6h0M418.5 96.8h0M405 118.7h0M446.9 90.3h0M373.4 148.7h0M440.4 153.8h0M330.4 136.1h0M400.8 102.2h0M410 166.9h0M364.6 121.6h0M412.9 135.5h0M375 168.2h0M368.8 137.4h0M421.6 123.3h0M392.8 69.6h0M366.4 157.7h0M429.6 94h0M414.9 58.7h0M440 147.4h0M398 44.5h0M346.3 128.1h0M404.6 97.9h0M435.1 156.6h0M381.4 92.3h0M437.4 155.6h0M385.8 84.6h0M379.3 96.7h0M326.7 151h0M336.4 146.5h0M336.9 122.8h0M355.2 125.1h0M401.3 74.6h0M420.6 67.7h0M383.3 165.3h0M445.9 128.6h0M439.4 101h0M400.8 90h0M346.3 159.7h0M417 153.3h0M430.4 143.5h0M358.7 125.5h0M339.8 123.1h0M422.9 71.5h0M380.7 109.3h0M377.6 152.4h0M449.8 100h0M400.2 85.6h0M436.4 73.2h0M431 91h0M365.4 127.6h0M386.5 157.4h0M400.5 79.9h0M409 137.9h0M369.4 115.2h0M450.5 118.3h0M404.7 32.1h0M414.4 126.2h0M441.6 146.8h0M446.7 109.6h0M391.7 71.8h0M343.1 165h0M404.8 70.4h0M408 140.6h0M362.4 139.6h0M343.3 124.1h0M368 168.8h0M428.8 103.1h0M402.1 96h0M349.2 154.1h0M424.3 67.6h0M379.9 166.4h0M346.4 163h0M411.7 81.7h0M435.3 108.2h0M359.9 122.8h0M334.9 124.5h0M391.1 118.1h0M389.5 80.4h0M360.8 132.4h0M422 77.9h0M429.3 131.5h0M348.9 157.7h0M442.2 123.6h0M416.8 59.9h0M344.4 118.2h0M376 150.1h0M398.9 86.5h0M448.1 129.1h0M417.4 85.5h0M401.3 152.2h0M424.4 57.3h0M421.7 72h0M356.9 127h0M358.4 135.5h0M365.8 166.3h0M355.1 159.8h0M402.2 167.7h0M392.4 107.8h0M372 136.3h0M344.8 152.3h0M426.3 92h0M391.9 127.7h0M443.6 135.2h0M410 128.8h0M407 117.7h0M406.4 81.6h0M426.3 121.4h0M439 122.6h0M412.8 150.9h0M366.8 148.7h0M453 107.3h0M415.6 75.1h0M395.6 137.2h0M406.9 33.1h0M428.2 89h0M408.1 54h0M419.8 83.9h0M428.2 63.1h0M384.6 98h0M420.7 71.3h0M422.5 66.2h0M407.4 162.6h0M387.8 146.2h0M328.4 148.2h0M380.7 157.8h0M444.3 90h0M423.3 67.3h0M426.4 113.2h0M446.1 99.6h0M414.9 72.7h0M403.2 41.7h0M328.3 149.2h0M400.2 160.7h0M405.5 140h0M410 85h0M415.4 149.2h0M440.4 85.7h0M431.5 137.8h0M416 99.2h0M375.8 140.1h0M368 147.8h0M428.7 78.4h0M410.7 130.5h0M403.4 124h0M358 121.3h0M397.2 67.4h0M401.6 62.5h0M378.3 169.5h0M350.6 164h0M375 151.6h0M371.2 145.7h0M342.8 161.9h0M397.1 48.1h0M390.9 99h0M359.3 167.2h0M369.3 140.3h0M323.7 146.3h0M348.9 164.6h0M423.6 157.9h0M375.3 165.6h0M396.5 137.4h0M366.8 150.7h0M374.5 114.7h0M401.8 36.3h0M399.8 172h0M408.6 156.8h0M407 122.9h0M410 131.9h0M379.4 99.4h0M347.1 127.2h0M371.4 116.2h0M364 130.3h0M421.5 81.7h0M411.7 65.7h0M393.1 129.5h0M377.4 159.3h0M422.2 82h0M445.4 123.4h0M348.3 153.5h0M437.9 100.1h0M327.3 127.2h0M454.6 103.4h0M385.9 109.5h0M333.6 144.2h0M417.2 88.7h0M392.8 165.3h0M427.5 127.1h0M408.8 148.6h0M398.3 86.3h0M430.2 66.8h0M439.6 85h0M339.3 139.6h0M417 160.5h0M344 124.1h0M423.7 80.9h0M426.3 65.3h0M339.9 124.7h0M400 140.6h0M375 139.1h0M331.1 129.8h0M377.2 110.7h0M382.7 166.4h0M400.5 154.5h0M376.2 166.3h0M433.4 156.2h0M412 89.2h0M428.9 123.7h0M325.2 150.3h0M396.6 85.8h0M444.8 130.1h0M382.8 153.8h0M363.8 153.1h0M424 78.2h0M366.7 127h0M444 114.4h0M421.9 58.3h0M359 154.8h0M412.4 97.7h0M427.3 150.2h0M388.9 92.7h0M450.8 107.8h0M424.2 75.4h0M331.6 122.5h0M445 96.4h0M364.4 167.1h0M376.2 164.7h0M397.4 126.8h0M405.6 140.9h0M351 171.2h0M434.9 117.6h0M411.8 165.7h0M403.5 99.1h0M434.4 146.5h0M399.4 128.3h0M407.5 30.7h0M414.1 142.2h0M418.1 110.1h0M420.8 163h0M392.9 82.9h0M374.2 142.1h0M402.3 117.1h0M443.7 118.6h0M424 103.1h0M418.6 151.7h0M377.8 103.3h0M346.9 120.8h0M404.4 129.9h0M423.3 78.5h0M395.8 77.1h0M420.7 64.7h0M393.3 75h0M328.5 132h0M431.8 136.7h0M394.1 129.8h0M407.3 136.8h0M351.2 136.6h0M353.4 152.1h0M430.7 95.9h0M330.3 150.8h0M436.5 115h0M379.7 140.6h0M382.3 133.4h0M414 120.4h0M371.7 145.8h0M435.1 150.3h0M403.8 157.7h0M366.8 150.1h0M440.7 89.5h0M443.9 110.2h0M428.2 121.1h0M382.7 116.9h0M365.9 122.4h0M332 138h0M418.8 108h0M359.3 143.5h0M438.2 100.3h0M389 106.1h0M373.6 128.7h0M391.3 143.7h0M364.6 173.5h0M417.8 157.1h0M331.1 154.4h0M396.3 61h0M425.7 103.7h0M407.3 155.7h0M445.9 133.1h0M329 148.9h0M419.2 115.4h0M417.5 50.8h0M388.9 87h0M336.7 159.4h0M351.5 166.9h0M450.2 95.8h0M425 135.2h0M444.1 129h0M421 110.5h0M368 173.9h0M408 148.1h0M396.4 67.6h0M436.9 109.6h0M396.8 88.2h0M388 153.5h0M328.4 123.5h0M401.4 34.7h0M389.9 157.2h0M429.5 95.8h0M336.2 158.6h0M440.1 139h0M403.5 30h0M398.8 90.3h0M432.8 113h0M428.6 61.7h0M380 103.6h0M436.3 98.7h0M337.2 141.3h0M392.3 104.3h0M394.3 90.6h0M373 122.2h0M434.9 113.5h0M412.3 130.1h0M397.7 64.1h0M353 156.5h0M396.3 132.7h0M373.8 132.6h0M423.7 114.9h0M331.5 121.8h0M403.8 26.4h0M401.1 160.2h0M368.9 119.6h0M406.6 86.6h0M389.2 155.5h0M342 121.3h0M409.9 166.2h0M371.6 142.8h0M385.5 85.6h0M414.5 126.7h0M322.5 154.5h0M430 74h0M409.2 126h0M416.9 46h0M417 64.5h0M390.5 78.9h0M429.8 121.1h0M396.7 121.5h0M389.8 89h0M393.7 93.1h0M358.8 169.9h0M445.5 116.7h0M398.2 154.8h0M415 108.5h0M386.1 118.8h0M396.9 151.8h0M443 132.4h0M386.6 128.3h0M425.6 148.9h0M350.9 167.9h0M447.2 133.9h0M411.6 155.1h0M391.5 139.1h0M421 123.2h0M409.8 137.9h0M421.7 66.5h0M364.2 132.5h0M415.2 89.2h0M340.3 153.8h0M423.3 151.4h0M440.6 83.3h0M382.4 141.9h0M409.7 60.8h0M408 139.6h0M356.4 153.8h0M342.5 118.2h0M396.8 52.1h0M399.6 38.2h0M400.6 141.1h0M372.8 134.8h0M342.4 142.6h0M411.5 115.4h0M391.2 112.9h0M391.5 141.5h0M403.3 99.5h0M438.2 127.9h0M405.1 154.2h0M434.9 138.2h0M393.9 150.6h0M431.4 83.2h0M398.3 89.9h0M340 158.3h0M354.8 146.5h0M361.3 159.5h0M424.4 70.8h0M395.8 50.9h0M416.6 155.1h0M428.9 122.6h0M429.6 65.8h0M394.4 65.7h0M407.2 165.9h0M357.9 139.9h0M325.8 143.3h0M407.5 79.7h0M420.5 148.4h0M333.4 134.4h0M413.5 147.1h0M357.2 122.8h0M443.1 147.1h0M385 120.7h0M417.9 62.6h0M391.9 153h0M348.5 170.5h0M348.3 168.9h0M417 86.8h0M416.3 58.6h0M447.2 132.3h0M399.8 120.6h0M451.5 109h0M362.3 172.5h0M408.1 141h0M404.6 85.7h0M404.4 50.7h0M439.1 104.8h0M377.3 158.6h0M367.1 165.6h0M404.7 100.9h0M335.7 158.8h0M444.6 138.5h0M445 104h0M332.8 128.1h0" stroke="#ee3048" stroke-width="2.4" stroke-linecap="round" fill="none"/>
<path d="M365.5 143.5h0M364.6 123.1h0M406.6 150.6h0M399.4 44.2h0M416.2 63.7h0M320.7 147.2h0M395.4 72h0M413.1 101.4h0M390.7 169.8h0M360.9 156.2h0M379.6 92.6h0M370.3 167.8h0M407.8 38.5h0M367.9 148.7h0M378 105.1h0M442.6 142.2h0M401.5 46.4h0M441.8 93h0M405.3 80.6h0M412.6 104.2h0M404.1 41.7h0M365.2 121.2h0M322 150.5h0M341.5 131h0M380.7 164.1h0M443.6 101.7h0M398.3 103.5h0M420.2 159.9h0M413.6 133.2h0M437.4 139.6h0M416.3 52h0M401.8 163.1h0M427.4 151h0M417.3 164.2h0M418.2 62.7h0M329 153.3h0M411.4 57.2h0M449 119.7h0M334.8 133.9h0M430.4 69.6h0M358.6 142.6h0M404 122h0M344.5 159.8h0M354.3 143.4h0M404.6 169h0M397.4 170.6h0M418.5 139h0M393.9 146.3h0M448.4 123.1h0M391.1 141.9h0M425.6 142.6h0M387.5 83.1h0M331.2 158.7h0M406.5 96.5h0M413.5 39.2h0M338.4 120.6h0M395.3 69.4h0M385 129.8h0M404.5 122.3h0M413.8 76.8h0M382.3 159.7h0M422.5 116.9h0M352.4 150.7h0M437.3 108.7h0M351.6 131.8h0M387.1 110.3h0M430.7 96h0M389.9 102.4h0M433 77.6h0M406.2 115.3h0M449.3 116.3h0M410.2 43.3h0M390.7 135h0M385.4 139.7h0M397.2 57.2h0M413.1 106.9h0M421.9 83.9h0M433.8 111.9h0M425.1 143.3h0M433.1 108.5h0M404.2 50.5h0M371.9 141h0M374.6 170.8h0M410.9 156.8h0M383.2 87.8h0M368.6 155h0M404.7 152h0M404.8 31h0M407.1 113.5h0M408.6 52.2h0M408.1 105.7h0M375.7 132.4h0M439.4 136.1h0M403.3 109.4h0M429.9 114.5h0M429.8 102.5h0M347.4 144.7h0M328.7 122.5h0M422.8 127.5h0M376.4 104.2h0M410.5 91h0M336.2 162.3h0M406.1 69.7h0M445 126.5h0M409.1 117.2h0M388.3 94.7h0M440.5 109.2h0M384 153.9h0M328.1 153.1h0M407.1 39h0M435 72.1h0M443.1 132.9h0M387.9 81.7h0M415.3 108.9h0M401.9 96.2h0M401.6 167.6h0M376 128.7h0M400 126.4h0M388.2 99.3h0M379.6 128.8h0M439.2 118.7h0M378.4 157.5h0M387.5 110.5h0M396.2 116.5h0M375.2 132.7h0M367.8 134.9h0M369.5 153.6h0M392.4 102.6h0M445.6 125.2h0M438 128h0M393.6 162.8h0M411.7 63.7h0M361.2 150.9h0M425.2 69.3h0M414.3 89.4h0M388.9 172.6h0M443 118.7h0M451.9 110.5h0M401.2 149.7h0M453 112.6h0M330.2 121.1h0M409.9 167h0M410 32.8h0M409.2 48.8h0M418.1 76.3h0M360.6 150h0M364.6 135.4h0M407.6 106.8h0M383.3 163.3h0M346.2 152h0M384.5 116.8h0M427.3 111.1h0M424.4 122.2h0M370.2 108.5h0M370.7 165h0M380.8 110.2h0M411.1 142.9h0M414.4 72h0M440.2 134.7h0M440 101.7h0M373.3 149.8h0M376 114.2h0M374.4 145.6h0M400.4 153.7h0M426.2 122.1h0M426.8 76.1h0M446.4 114.1h0M411.4 144.1h0M439.1 148.8h0M330.6 119.6h0M371.2 121.7h0M335.4 126.6h0M437.2 83.6h0M436.6 152.9h0M424.9 119.5h0M353.2 170.8h0M320.5 147.4h0M346.4 121.7h0M404.9 85h0M357.3 170.7h0M417.5 106.2h0M345.7 127.3h0M419.3 83.8h0M437.4 72.9h0M392.5 142.6h0M401.6 41.1h0M379.5 136.7h0M431 143.3h0M442.1 83h0M406.9 117.2h0M344.9 138.8h0M413.8 146.6h0M434.1 115.5h0M365.4 129.5h0M355.5 155.3h0M404.3 142.8h0M398.6 126.4h0M377 125.3h0M425.8 127.5h0M443.3 129.7h0M367.5 139.2h0M353.7 145.5h0M380 145.7h0M413.9 161.6h0M358.6 154h0M331.6 126.8h0M348.3 132.4h0M370.9 107.2h0M395.6 135.9h0M403 82.8h0M405.5 97.8h0M429.3 154h0M424.6 55.4h0M396.3 122.1h0M388.7 163.1h0M396.8 76.1h0M375 120.6h0M396 137h0M378.8 113.6h0M378.6 142.9h0M421.7 93.1h0M372.1 107.9h0M436.1 120.2h0M392.2 72.2h0M331.7 123.6h0M378.6 102.9h0M364.8 128.4h0M422.3 117.2h0M423.7 130.7h0M441.2 96.1h0M444.6 88.7h0M342.1 131.9h0M441.8 105.6h0M355.5 123.2h0M427.1 115.8h0M405.8 102.6h0M445.7 120.4h0M399 71.9h0M394.3 114.6h0M398.3 41.5h0M411.9 140.5h0M329.4 146.1h0M327.2 154.7h0M442.5 110.1h0M401 136.3h0M361.2 119h0M372.5 142.3h0M369 110.5h0M372 168.2h0M440.2 125.9h0M403 79.4h0M413.2 122.5h0M406.3 153.5h0M343.7 133.6h0M353.4 121.7h0M390 148.3h0M392.4 126.5h0M411.2 143.4h0M412.5 152.7h0M417.5 42.6h0M431.6 146.5h0M337.3 122h0M367.6 151.5h0M366.5 149h0M438.1 74.2h0M394 91.1h0M438.1 91.9h0M382.6 113h0M340 137h0M393.8 110.8h0M415.8 58.9h0M363.1 124.4h0M446.2 120.9h0M345.2 165.2h0M327 138.8h0M381 132h0M416.1 137.3h0M336.4 124.7h0M428.6 78h0M335.9 162.3h0M399.7 52h0M373.7 103.3h0M439.6 138.1h0M406.2 69.1h0M365.3 146.6h0M356.1 168.7h0M397.8 61.3h0M413.4 128.6h0M343.5 133.1h0M406.5 74.7h0M354 147.7h0M422.4 68.2h0M361.7 146.4h0M408.8 131.8h0M321.2 146.8h0M410.7 103.1h0M386.5 145.6h0M420.6 140.6h0M434.1 141.7h0M415.7 139.1h0M396.2 61.6h0M436.4 100.8h0M373 141.7h0M355.5 163.4h0M412.5 40.8h0M336.8 151.6h0M407.7 107.2h0M441.4 96h0M410.7 157.7h0M448.4 109.8h0M357.1 130.8h0M366.9 140.7h0M383.2 86h0M413.4 156.7h0M428.5 75.3h0M364.6 153.6h0M393.6 116h0M405.8 125h0M396.6 90.3h0M370.6 144.4h0M381.3 140.4h0M383.7 126.2h0M444.6 138.2h0M398.4 129.5h0M418.4 90.6h0M409 126.4h0M399.2 128.6h0M424.9 69.7h0M391.1 74h0M334.5 142.5h0M425.1 160.9h0M446.1 141h0M444.5 96h0M435.7 144.4h0M442.9 137.6h0M425.1 71.9h0M367.5 166.4h0M437.5 134.9h0M397.4 121.8h0M358.7 119h0M395.9 88.5h0M337.2 144.1h0M413.8 126.2h0M388.8 159.4h0M348.9 151.3h0M392.2 151.6h0M415.9 81h0M443.6 115.7h0M447.9 111.3h0M369.1 149.5h0M406.7 119.9h0M401.9 39.4h0M417.9 156h0M355.6 146.6h0M387.6 102.5h0M438.5 88.5h0M401.2 160.5h0M445.6 120.5h0M416.5 144.4h0M423.8 132.7h0M408.3 71h0M418.6 56.3h0M405.5 148.7h0M406.2 60.5h0M442.5 132.3h0M433.9 76.9h0M341.9 147.5h0M416 120.7h0M365.8 169.1h0M450 117h0M422.4 137.7h0M423.2 55.3h0M401.9 169.5h0M437.9 104.2h0M439.6 95.3h0M401.7 46h0M409.3 96.7h0M385.8 147.7h0M399 97.9h0M429.2 61.1h0M368.4 112.2h0M391.4 142h0M399.6 102.4h0M395.1 121.4h0M417.8 132.8h0M398.3 50.3h0M431.7 118h0M397.9 152.8h0M382.8 162.4h0M394.4 127.4h0M336.8 148.6h0M385.7 83.6h0M381.7 166.9h0M365 131.9h0M447.3 88.6h0M422.2 139.2h0M431.8 142.1h0M431.1 82h0M434.5 106.9h0M418.4 68.7h0M386.3 142.7h0M378.7 101.3h0M322.8 144.7h0M392.6 143.2h0M354.5 142.3h0M410 67.4h0M416.3 115.2h0M428.8 155.1h0M352.8 134.7h0M385.2 109.7h0M393.9 66.6h0M377.9 112.1h0M410.3 156.5h0M412.9 140.1h0M390.4 71.7h0M340.9 160.8h0M375.4 164.1h0M442 107.9h0M383.9 171.9h0M345.3 121.9h0M446.9 94.9h0M355.3 154.2h0M428.8 83.4h0M327.8 145.6h0M351.7 150.6h0M425 60.4h0M334.5 130.3h0M361.6 156.1h0M354.8 159.7h0M447.7 114.5h0M340.6 160.6h0M424.6 111.5h0M406.3 44.4h0M414.9 70.2h0M338.4 161.4h0M397.4 98.5h0M400.2 62.7h0M396.9 131.5h0M436.4 116.9h0M398.4 164h0M402.4 93.8h0M406 129.5h0M402.2 164.8h0M433.1 97.2h0M348.1 139.3h0M362.4 148.2h0M408.3 80.5h0M424.1 57.3h0M421.8 87.6h0M436 90.3h0M417.5 49.1h0M381.3 130.7h0M329.2 122.4h0M436.3 122.1h0M338.5 159.9h0M437.3 131.9h0M373.1 117h0M326.3 127.5h0M432.4 101.8h0M387.9 89.4h0M354.1 164.5h0M409.1 58.9h0M430.6 137.5h0M446.4 106.1h0M390.5 73.1h0M368.5 158.5h0M407.7 116.6h0M432.9 98.2h0M412.9 135.4h0M430.2 136h0M429.6 97.5h0M400.7 42.2h0M334.7 131.3h0M410 167.7h0M392.2 135.5h0M371.5 121.2h0M351 137.4h0M404.1 86.6h0M420.1 121.1h0M425.7 58.2h0M397.5 61.9h0M393 169.5h0M411 155h0M382.9 108.8h0M444.8 141h0M387 127.5h0M398.1 94.7h0M422.2 81.1h0M428.8 136.5h0M414 98.4h0M379.2 115.7h0M404.1 50.2h0M333.2 146h0M442.8 107.3h0M431.4 143.2h0M444.7 120.4h0M361.3 151.8h0M363.9 148.1h0M396.5 164h0M337.6 121.8h0M380.9 153.2h0M380.5 113.3h0M443.2 106.8h0M445 90.3h0M418.1 131.3h0M376.9 150.8h0M441.5 131.7h0M334.3 152h0M326.3 153h0M415.1 83.6h0M413.1 82.4h0M413.5 81.4h0M414.9 87h0M384.1 143.5h0M352.6 142.8h0M387.2 99h0M330.4 155h0M449.7 117.9h0M372.5 164.7h0M390.7 160.1h0M384.1 151.8h0M403.9 62.7h0M374 147.5h0M399.9 90.1h0M436.4 143.8h0M409.2 36.6h0M373.4 173h0M437.2 125.8h0M372 103.4h0M334.4 117.2h0M396.8 150.9h0M396.4 150.3h0M396.6 147.3h0M373.2 102.9h0M363 156.3h0M438.8 85.4h0M415.6 100.1h0M434.8 115h0M405.9 167h0M416.6 115.1h0M386.5 98h0M332.1 127.8h0M354.3 134.5h0M434.4 97.4h0M395.2 124.7h0M396.1 83.2h0M396.8 114.4h0M422 155.7h0M430.2 99.7h0M416 135.9h0M393.1 143.9h0M433.3 144.3h0M431.1 143.4h0M440.1 131.5h0M370.8 145.9h0M424.8 146.3h0M399.8 171.1h0M365.2 147.7h0M326.3 126.7h0M388.8 137.3h0M444.3 112.2h0M423.8 75.6h0M418 51.9h0M411.2 85h0M335.8 135.2h0M423.7 130.8h0M375.9 123h0M360 126.3h0M392.6 115.1h0M389.6 84.7h0M410.2 101.2h0M368.6 139.2h0M408.8 96.4h0M339.6 127.5h0M401.6 97.2h0M365.3 146h0M343.7 143.1h0M412.3 137.6h0M370 119.4h0M409.2 145.6h0M393.9 111h0M406.1 67h0M405.9 115.3h0M407.9 133.4h0M425.7 133.2h0M435.4 137.8h0M365.3 163.9h0M405.7 87.5h0M394.6 169.1h0M415.7 76.7h0M410.4 42.8h0M427.2 112.7h0M349.9 126h0M400.6 116.4h0M397.3 64.5h0M378.7 118.7h0M387.7 91.7h0M420.1 79.7h0M446.3 108.5h0M409.2 78.9h0M339.6 130h0M368.9 168.4h0M346.6 163h0M406.1 127.2h0M369.6 121.8h0M406.5 64.8h0M359.4 123.3h0M444 140.4h0M391.8 102.6h0M347.4 168.8h0M424.7 119.2h0M346.7 167.3h0M373.6 139.9h0M368.1 135.5h0M386 100.9h0M332.7 144h0M356.3 143.8h0M375.3 155.2h0M429.7 93.7h0M435.8 132.9h0M422.3 115.7h0M395.8 169.6h0M373.7 117.1h0M349.8 132.3h0M424 151.8h0M396.2 142.3h0M403.6 97.7h0M365.4 132.3h0M350.9 162.4h0M429.8 64.5h0M426.1 128.2h0M344.5 163.7h0M401.5 81.6h0M392.1 140.7h0M443.5 131.7h0M372.8 137h0M388.7 78.3h0M417.4 80.7h0M382.4 154.4h0M446.5 108.6h0M380.2 149.3h0M425.6 79.2h0M371.8 132h0M402.5 161.7h0M405.1 83.8h0M401.5 65.4h0M389.3 85.8h0M392.6 99.1h0M371.6 131.4h0M409.3 33h0" stroke="#3848f0" stroke-width="2.0" stroke-linecap="round" fill="none"/>
<path d="M383.5 137.7h0M437.6 156.1h0M381.8 143.8h0M324.5 148.5h0M418.9 84.9h0M450 104.8h0M375.7 107.5h0M433 71.5h0M405.6 44.4h0M410.7 77.3h0M410.3 74.2h0M389.5 163.2h0M402.2 62.6h0M363.3 171.5h0M402.2 95.9h0M421.3 76.4h0M394.3 81.6h0M396.8 155.6h0M335.6 151.2h0M407.2 66.7h0M412 38h0M379.6 116.6h0M426 120.4h0M422.4 146.1h0M366.2 164.7h0M408.9 154.6h0M411.3 152.4h0M412.9 129.8h0M423.9 150.5h0M352 160.1h0M365.3 126.7h0M380.8 128.9h0M439.4 83.7h0M398.8 159.1h0M427.7 77.5h0M427.9 104.9h0M347.9 126.5h0M373.7 108.9h0M362.7 125.5h0M370 108.2h0M431.4 119.4h0M372.4 167.2h0M414.7 86.5h0M402.7 141.5h0M449.9 110.2h0M343.3 131.7h0M422.4 59.3h0M344.9 162.4h0M399.9 157.6h0M371.2 171.7h0M440.7 100.9h0M415.1 67h0M401.1 119.2h0M442.9 151.8h0M429.4 62.9h0M418.4 131.6h0M434.5 140.6h0M354.8 150.4h0M405.8 107.3h0M385.1 112.3h0M417.4 133.9h0M388 104.2h0M338.1 152.8h0M385.2 141.7h0M393.5 71.1h0M340.3 144.5h0M406.4 31.9h0M391 141.6h0M389.5 75.4h0M428.6 136.5h0M319.7 150.5h0M434.4 106.8h0M412.3 127.2h0M340.4 147.6h0M367.4 113.3h0M409 125.3h0M424.2 102.9h0M364.4 116.7h0M403.4 164.5h0M353.4 154.8h0M415 49.3h0M445.9 121.9h0M406.2 163.7h0M362.7 135.1h0M347 123.7h0M414.8 39.3h0M435.7 137h0M379.4 138.3h0M364 169.9h0M380.3 96.4h0M380.1 94.7h0M372.2 146.8h0M375.1 157.8h0M408.5 32.5h0M443.2 150h0M414.6 63h0M346.6 150.6h0M380.8 156.2h0M407.9 142.4h0M443.2 105.4h0M416.3 84.6h0M399.6 77.9h0M328.3 130.9h0M400 75.8h0M411.4 130.9h0M338.8 142.6h0M364.3 118.4h0M416.7 137.3h0M377.3 142.2h0M323.4 139.3h0M398.6 82.1h0M329.1 127.3h0M378.2 100.6h0M384.4 142.7h0M389.8 151.3h0M406.4 73h0M396.3 89.4h0M399.9 46.7h0M337.8 154.7h0M434.9 78.4h0M442.5 115.3h0M438.4 112.4h0M405.7 156.7h0M436.1 115.5h0M435.4 130.9h0M389.2 171.1h0M404.1 83.3h0M394.9 166.9h0M360.6 157.6h0M382.2 140.8h0M430.7 156h0M362.8 170.2h0M404.9 142.4h0M417.2 104h0M416.4 99.5h0M339.6 119.3h0M338.4 134.3h0M437.3 106.8h0M400.4 36.7h0M410.2 157h0M329.4 145.6h0M439.9 100.6h0M412.8 128.9h0M404 88.2h0M383.3 108.6h0M427.7 159.1h0M378.5 169.7h0M406.2 65.2h0M372.5 140.6h0M381.6 91.9h0M428.7 83.9h0M406.5 47.1h0M404.4 46.3h0M360.2 174.2h0M351.9 142.2h0M438.4 139.9h0M431.3 114.7h0M358 124.6h0M389.4 125.2h0M356.3 148h0" stroke="#d040b0" stroke-width="2.0" stroke-linecap="round" fill="none"/>
<path d="M409.3 28h0M446.1 171.1h0M359.7 101h0M325.7 93.8h0M361 79.7h0M412.3 168.9h0M411.2 22.3h0M339.8 49.2h0M342.9 60.3h0M355 38.5h0M454 165.1h0M426.9 37.5h0M351.8 35h0M324.9 67h0M352.4 61h0M431.7 54.2h0M353.5 51.8h0M382.9 48h0M348.6 88.4h0M341.3 75.5h0M340.8 61h0M368.6 174.6h0M365.9 67.1h0M445.8 64h0M448.3 75.6h0M453.3 136.5h0M349.9 34.8h0M342.2 43.9h0M341.8 56.7h0M452.8 143.4h0M323.3 101.8h0M422.7 168h0M426.6 42.4h0M417.3 32h0M382 35h0M431.5 61.6h0M446.7 42.4h0M433.7 62h0M364.8 72.3h0M342.3 50.5h0M422.1 38.5h0M415.1 27.1h0M350.6 99.6h0M338.8 86.1h0M451 134.7h0M436.6 172.6h0M453 41.4h0M380 55.2h0M320.9 40h0M332.5 27.8h0M339 74.1h0M427.3 49.3h0M423.6 29.9h0M384 30.8h0M452.2 38.9h0M362.6 116.9h0M367.1 61.5h0M322.4 126.2h0M360.8 74.5h0M334.4 58.2h0M369.3 32.8h0M396.2 35.1h0M358 45.1h0M328.3 98.2h0M395.3 46.4h0M360.2 25.7h0M371.5 86.5h0M435.6 171.7h0M374 174.8h0M384.4 46.2h0M446.3 72.9h0M441.9 42.8h0M352.3 47.1h0M318.3 108.4h0M358.6 113.8h0M355.9 29.2h0M361.9 46.6h0M394.5 22h0M373 67.6h0M354.6 86.5h0M386.9 51.7h0M352.1 41h0M325.5 52.5h0M370.6 69.6h0M378.9 26.4h0M333.1 71.8h0M354.7 103.4h0M347.1 101.5h0M446.2 145.7h0M439.7 67.1h0M359.6 25.8h0M322.3 113h0M331.5 91.1h0M380.5 54.7h0M321.5 133.1h0M400.6 173.4h0M338.7 58.3h0M449.9 81.5h0M352 24.8h0M453.9 149.1h0M452.9 163.5h0M432.1 168.1h0M444 48h0M428.3 175.1h0M420.1 37.7h0M358.6 48.6h0M431.8 28.8h0M328.9 49.4h0M319.7 153.8h0M350 31.3h0M320.5 92.1h0M324 119.6h0M324.6 67.7h0M421.1 37.4h0M412.8 167.2h0M387.2 34.8h0M335.5 59.1h0M332 108.1h0M420.5 42.5h0M352.3 71.9h0" stroke="#902838" stroke-width="1.6" stroke-linecap="round" fill="none"/>
<path d="M377 60.3h0M454.5 75.1h0M443.3 62.1h0M446.1 167.1h0M368.6 36.8h0M440.1 51h0M419.7 34.2h0M364.2 43.8h0M335.2 47.5h0M438 59.4h0M380.5 78.4h0M354.5 47.6h0M455.6 82.4h0M366.1 103.8h0M425.7 54.3h0M361.9 109.7h0M427.7 23.4h0M447.7 168.7h0M341 48h0M352.1 88.5h0M364.9 84.5h0M333.2 99.3h0M361.3 26.2h0M443 62.7h0M318.1 61.2h0M420 28.4h0M385.2 79.1h0M347.3 103.2h0M452.4 65.2h0M425.9 50h0M384.7 53.9h0M336.3 40.4h0M347.3 84.3h0M426 24.2h0M381.6 30.3h0M392.2 25.1h0M328.8 104h0M334.4 51.7h0M324.1 42h0M336.1 29.9h0M341.3 107.1h0M373.7 30.1h0M342.8 30.7h0M332 92.8h0M370.8 73.6h0M346.5 116.8h0M418.1 26.8h0M328.9 71.7h0M319.6 127.4h0M436.9 60.9h0" stroke="#30a040" stroke-width="1.3" stroke-linecap="round" fill="none"/>
<filter id="bl3" x="-20%" y="-20%" width="140%" height="140%"><feGaussianBlur stdDeviation="1.3"/></filter>
<g filter="url(#bl3)">
<polygon points="319,37.5 352,36.5 378,37 387,36 388,52 360,53 330,54 319,53" fill="#000"/>
<polygon points="360,50 388,50 387,70 382,85 374,100 366,110 352,113 340,110 334,100 326,92 326,85 342,83 356,78 361,66" fill="#000"/>
</g>
</g>
<polygon points="78.2,23.4 131.8,27.6 152.6,105.7 150.2,147.5 128.1,174.5 80.2,169.6 50.7,154.8 49.5,147 92.5,147.5 102.3,131.5 101.1,106.9 88.8,93.4 64.2,111.9 54.4,136.4 36,141.3 23.7,91 44.6,55.4" fill="none" stroke="#fff" stroke-width="1.2" stroke-linejoin="round"/>
<polygon points="225.7,22.4 285.3,29.8 316.8,67 294,160.1 284,170 240.6,168.8 167.4,175 153,64.6" fill="none" stroke="#fff" stroke-width="1.2" stroke-linejoin="round"/>
<polygon points="403.8,21.7 456.1,100.7 443.8,153.4 399.6,173 354.3,174.8 318.7,152.2 328.5,116.6 362.8,118.3 388.6,76.1" fill="none" stroke="#fff" stroke-width="1.2" stroke-linejoin="round"/>
<rect x="23" y="8.5" width="433" height="13.5" fill="#000" />
<rect x="23" y="176.5" width="433" height="13.5" fill="#000" />
<text x="25" y="18.6" font-size="10.2" fill="#f4f4f4" textLength="117.8" lengthAdjust="spacingAndGlyphs">T cells in perivascular space</text>
<text x="153.6" y="18.6" font-size="10.2" fill="#f4f4f4" textLength="68" lengthAdjust="spacingAndGlyphs">T cells in stroma</text>
<text x="318.8" y="18.6" font-size="10.2" fill="#f4f4f4" textLength="56.3" lengthAdjust="spacingAndGlyphs">T cells absent</text>
<line x1="26" y1="25.9" x2="45.8" y2="25.9" stroke="#fff" stroke-width="1.5" />
<line x1="156.2" y1="25.9" x2="182.3" y2="25.9" stroke="#fff" stroke-width="1.5" />
<line x1="321.1" y1="25.9" x2="344.4" y2="25.9" stroke="#fff" stroke-width="1.5" />
<text x="24.4" y="188" font-size="12.2" fill="#1f2ee0" textLength="25.6" lengthAdjust="spacingAndGlyphs">DAPI</text>
<text x="145.4" y="188" font-size="12.2" fill="#e6dc1e" textLength="22.3" lengthAdjust="spacingAndGlyphs">CD3</text>
<text x="262.8" y="188" font-size="12.2" fill="#1ed21e" textLength="29.7" lengthAdjust="spacingAndGlyphs">CD45</text>
<text x="387.9" y="188" font-size="12.2" fill="#e02222" textLength="65.7" lengthAdjust="spacingAndGlyphs">IDH1-R132H</text>
<text x="479.3" y="10.8" font-size="15" fill="#2a2a2a" text-anchor="start" >b</text>
<rect x="548.1" y="5.5" width="33.4" height="22.6" fill="#f98b70" />
<rect x="581.2" y="5.5" width="34.3" height="22.6" fill="#dcebfb" />
<rect x="615.2" y="5.5" width="34.7" height="22.6" fill="#b1d5fa" />
<text x="543" y="19.8" font-size="9" fill="#1a1a1a" text-anchor="end" >Module 1</text>
<rect x="548.1" y="27.8" width="33.4" height="22.6" fill="#fba693" />
<rect x="581.2" y="27.8" width="34.3" height="22.6" fill="#fcd0c6" />
<rect x="615.2" y="27.8" width="34.7" height="22.6" fill="#7bbaf7" />
<text x="543" y="42.2" font-size="9" fill="#1a1a1a" text-anchor="end" >Module 2</text>
<rect x="548.1" y="50.1" width="33.4" height="22.6" fill="#fde9e4" />
<rect x="581.2" y="50.1" width="34.3" height="22.6" fill="#fbad99" />
<rect x="615.2" y="50.1" width="34.7" height="22.6" fill="#8fc4f8" />
<text x="543" y="64.5" font-size="9" fill="#1a1a1a" text-anchor="end" >Module 3</text>
<rect x="548.1" y="72.4" width="33.4" height="22.6" fill="#ffffff" />
<rect x="581.2" y="72.4" width="34.3" height="22.6" fill="#fbad99" />
<rect x="615.2" y="72.4" width="34.7" height="22.6" fill="#a7d0f9" />
<text x="543" y="86.8" font-size="9" fill="#1a1a1a" text-anchor="end" >Module 4</text>
<rect x="548.1" y="94.7" width="33.4" height="22.6" fill="#d2e6fb" />
<rect x="581.2" y="94.7" width="34.3" height="22.6" fill="#fbb6a4" />
<rect x="615.2" y="94.7" width="34.7" height="22.6" fill="#dcebfb" />
<text x="543" y="109.1" font-size="9" fill="#1a1a1a" text-anchor="end" >Module 5</text>
<rect x="548.1" y="117" width="33.4" height="22.6" fill="#a8d0f9" />
<rect x="581.2" y="117" width="34.3" height="22.6" fill="#97c8f8" />
<rect x="615.2" y="117" width="34.7" height="22.6" fill="#f96d4a" />
<text x="543" y="131.3" font-size="9" fill="#1a1a1a" text-anchor="end" >Module 6</text>
<rect x="548.1" y="139.3" width="33.4" height="22.6" fill="#98c8f8" />
<rect x="581.2" y="139.3" width="34.3" height="22.6" fill="#c4def9" />
<rect x="615.2" y="139.3" width="34.7" height="22.6" fill="#f97656" />
<text x="543" y="153.7" font-size="9" fill="#1a1a1a" text-anchor="end" >Module 7</text>
<rect x="548.1" y="5.5" width="101.49" height="156.1" fill="none" stroke="#1a1a1a" stroke-width="0.8"/>
<text x="567.5" y="170.5" font-size="9.4" fill="#1a1a1a" text-anchor="end" transform="rotate(-45 567.5 170.5)">T cells in S</text>
<text x="601.3" y="170.5" font-size="9.4" fill="#1a1a1a" text-anchor="end" transform="rotate(-45 601.3 170.5)">T cells in PS</text>
<text x="635.2" y="170.5" font-size="9.4" fill="#1a1a1a" text-anchor="end" transform="rotate(-45 635.2 170.5)">T cells absent</text>
<defs><linearGradient id="gb" x1="0" y1="0" x2="0" y2="1"><stop offset="0" stop-color="#ef3512"/><stop offset="0.25" stop-color="#f8927a"/><stop offset="0.5" stop-color="#ffffff"/><stop offset="0.75" stop-color="#8ec2f6"/><stop offset="1" stop-color="#1a80ee"/></linearGradient></defs>
<rect x="653.2" y="9.5" width="6.8" height="147.8" fill="url(#gb)" stroke="#1a1a1a" stroke-width="0.6"/>
<line x1="660" y1="9.5" x2="663" y2="9.5" stroke="#1a1a1a" stroke-width="0.7" />
<text x="671.5" y="9.5" font-size="8" fill="#1a1a1a" text-anchor="middle" transform="rotate(-90 671.5 9.5)">1</text>
<line x1="660" y1="46.5" x2="663" y2="46.5" stroke="#1a1a1a" stroke-width="0.7" />
<text x="671.5" y="46.5" font-size="8" fill="#1a1a1a" text-anchor="middle" transform="rotate(-90 671.5 46.5)">0.5</text>
<line x1="660" y1="83.4" x2="663" y2="83.4" stroke="#1a1a1a" stroke-width="0.7" />
<text x="671.5" y="83.4" font-size="8" fill="#1a1a1a" text-anchor="middle" transform="rotate(-90 671.5 83.4)">0</text>
<line x1="660" y1="120.4" x2="663" y2="120.4" stroke="#1a1a1a" stroke-width="0.7" />
<text x="671.5" y="120.4" font-size="8" fill="#1a1a1a" text-anchor="middle" transform="rotate(-90 671.5 120.4)">−0.5</text>
<line x1="660" y1="157.3" x2="663" y2="157.3" stroke="#1a1a1a" stroke-width="0.7" />
<text x="671.5" y="157.3" font-size="8" fill="#1a1a1a" text-anchor="middle" transform="rotate(-90 671.5 157.3)">−1</text>
<text x="0.3" y="220.7" font-size="14.5" fill="#2a2a2a" text-anchor="start" >c</text>
<rect x="43.4" y="212.2" width="148.1" height="136.3" fill="#fff" />
<line x1="45.2" y1="212.2" x2="45.2" y2="348.5" stroke="#ebebeb" stroke-width="0.8" />
<line x1="63.1" y1="212.2" x2="63.1" y2="348.5" stroke="#ebebeb" stroke-width="0.8" />
<line x1="81" y1="212.2" x2="81" y2="348.5" stroke="#ebebeb" stroke-width="0.8" />
<line x1="98.9" y1="212.2" x2="98.9" y2="348.5" stroke="#ebebeb" stroke-width="0.8" />
<line x1="116.8" y1="212.2" x2="116.8" y2="348.5" stroke="#ebebeb" stroke-width="0.8" />
<line x1="134.7" y1="212.2" x2="134.7" y2="348.5" stroke="#ebebeb" stroke-width="0.8" />
<line x1="152.6" y1="212.2" x2="152.6" y2="348.5" stroke="#ebebeb" stroke-width="0.8" />
<line x1="170.5" y1="212.2" x2="170.5" y2="348.5" stroke="#ebebeb" stroke-width="0.8" />
<line x1="188.4" y1="212.2" x2="188.4" y2="348.5" stroke="#ebebeb" stroke-width="0.8" />
<line x1="43.4" y1="335.5" x2="191.5" y2="335.5" stroke="#ebebeb" stroke-width="0.8" />
<line x1="43.4" y1="318.1" x2="191.5" y2="318.1" stroke="#ebebeb" stroke-width="0.8" />
<line x1="43.4" y1="300.8" x2="191.5" y2="300.8" stroke="#ebebeb" stroke-width="0.8" />
<line x1="43.4" y1="283.4" x2="191.5" y2="283.4" stroke="#ebebeb" stroke-width="0.8" />
<line x1="43.4" y1="266" x2="191.5" y2="266" stroke="#ebebeb" stroke-width="0.8" />
<line x1="43.4" y1="248.7" x2="191.5" y2="248.7" stroke="#ebebeb" stroke-width="0.8" />
<line x1="43.4" y1="231.3" x2="191.5" y2="231.3" stroke="#ebebeb" stroke-width="0.8" />
<line x1="43.4" y1="214" x2="191.5" y2="214" stroke="#ebebeb" stroke-width="0.8" />
<path d="M117.7 281.3h0M146.6 257.1h0M64 317.2h0M151 239h0M107.6 260.8h0M88.7 294.3h0M88.6 293.5h0M81.6 285.5h0M103.1 287.6h0M129.6 262.6h0M123.4 279.8h0M124.7 273.3h0M66.3 326.2h0M69.4 288.1h0M147.7 244.2h0M133 256.7h0M163.5 253.6h0M139.1 259h0M83.1 312.2h0M141 267.4h0M124.5 288.2h0M114.1 287.7h0M88.2 268h0M108.8 291.3h0M105.1 278.5h0M131.1 255h0M111.9 275.9h0M148.5 243.9h0M89.3 311h0M120.6 256h0M121.2 248.7h0M87.1 300.2h0M79.1 315.4h0M134.1 274.3h0M121.7 290h0M104.7 279.8h0M118.6 266.1h0M91.8 276.5h0M114.7 295.2h0M93.6 285.4h0M113.5 272h0M133.5 268h0M100.2 301.3h0M130 264h0M82.8 277.3h0M101.5 305.2h0M74.5 317.9h0M106.2 292.5h0M110.7 284.4h0M103.8 274.7h0M102 295.2h0M142.3 285.8h0M144.4 271.9h0M78.3 323.4h0M138.2 258.3h0M65.6 315.9h0M90.3 312.5h0M104.4 278.9h0M111.5 304.4h0M82.5 307h0M90.6 282.6h0M110.7 302h0M91.4 290.6h0M92.7 284.3h0M125.4 277.1h0M132.1 264.4h0M107.2 303.7h0M109.2 280h0M108.3 299.5h0M97.4 300.2h0M95.9 289.3h0M82.7 309.3h0M125 285.4h0M106.6 286.7h0M105.3 290.6h0M113.8 290.6h0M122 298.5h0M144.4 259.6h0M101.9 279.4h0M98.7 300.1h0M113.8 287.7h0M87.6 307.1h0M140.6 255.2h0M132 285.2h0M126.1 262.2h0M105.7 262.3h0M127.3 264.7h0M135.1 263.7h0M121.3 269.8h0M101.7 284.4h0M66.5 321.7h0M132.5 268h0M99.9 294.2h0M87.6 294.8h0M131.1 244.7h0M117.2 276.6h0M73.2 287.8h0M106.3 297.2h0M102 280.9h0M133.6 274.1h0M61.3 320h0M99.1 293.3h0M105.3 310.3h0M144.3 260.1h0M81.6 300.9h0M74.1 329.4h0M115.3 297h0M129 261.5h0M152.2 263.3h0M118.8 252.1h0M88.6 296.5h0M130.9 263.5h0M108.5 287h0M103.7 298.1h0M109.2 281h0M140.7 262.6h0M86.2 284h0M83.1 302.6h0M107.1 282.9h0M107.1 273h0M88.3 288.6h0M86.7 326.3h0M118.2 253.4h0M142.3 277.1h0M126.6 283.1h0M125.9 274.9h0M140 270.1h0M58.9 301.3h0M70.9 313.6h0M91.1 312h0M78.8 312.4h0M84 313.5h0M110.5 291.5h0M76.6 304.8h0M97.6 286.7h0M57.5 326.2h0M84.3 319.5h0M142.5 266.1h0M95.1 283.9h0M116.9 271.8h0M126.5 274.6h0M96.4 284.9h0M123.3 296h0M114.1 288.8h0M126.2 270.6h0M92.8 293.2h0M72.7 299.8h0M83.1 303.4h0M94.8 291.7h0M122.2 272.2h0M103.6 301.4h0M98.8 294.6h0M104.2 270.7h0M136.3 254.4h0M94.3 299.5h0M146.6 255h0M78 287.4h0M93.9 276.8h0M130.2 245.1h0M121.7 258.7h0M87.3 302.7h0M106 288.9h0M91 317.7h0M130.1 252.3h0M122.3 259h0M90.9 271.1h0M118.7 285.9h0M99.5 270.5h0M106.9 278.9h0M110.4 281.2h0M94.6 291.8h0M119.4 289.7h0M120.3 275.9h0M119.4 287.7h0M136.4 268.4h0M101.9 286.6h0M71.6 318.5h0M96.5 284.8h0M113.8 288.5h0M109.3 290.1h0M123.2 279.6h0M129 265.7h0M105.8 283h0M106 273.9h0M84 306.7h0M134.6 271.7h0M102.1 285.4h0M81.6 283h0M80.8 294.6h0M98.4 314.4h0M147.7 252h0M128.1 273.4h0M66.3 318.8h0M105.6 275.9h0M115.4 277.7h0M124.4 272.5h0M117.4 296.2h0M92.7 297.2h0M119.1 284.5h0M94.9 291.3h0M52.6 314h0M91 307.8h0M91.6 299.6h0M132.6 257.6h0M135.2 282.7h0M82.6 312.4h0M113.1 297.7h0M111 289.3h0M72.8 312.7h0M57.3 327.6h0M106.4 268.1h0M112.2 271.4h0M93.8 292.9h0M108 260.9h0M94.2 299.3h0M86.5 302.9h0M100.6 285.7h0M80.5 292.6h0M122.8 297h0M109 284h0M94.7 261.8h0M115.8 277.5h0M107.9 260.6h0M70.7 282.7h0M105.1 276.6h0M97.3 264.1h0M65.1 316.4h0M92.4 317.1h0M119.4 280.6h0M93.2 277.2h0M151.3 242.8h0M101.1 308.7h0M122.6 272.2h0M158.7 268.6h0M100.4 288.4h0M86.2 280.6h0M98.2 302.4h0M74.3 320.5h0M74.9 315h0M114 283.2h0M98.3 283.9h0M114.9 273.9h0M121 264.3h0M89.6 310.2h0M103.9 272h0M102 280.2h0M92 306.7h0M87.8 305.7h0M116.7 284.8h0M105.2 306.9h0M117.1 252.8h0M133.8 255.8h0M134.2 262.5h0M80.9 290.5h0M87.3 301.6h0M102.3 289.9h0M111.8 264.5h0M132.3 277.4h0M84.6 312.5h0M97.8 312.3h0M114.9 286.8h0M139.5 246.4h0M143.3 262.8h0M83.5 283.9h0M103.4 293.8h0M88.5 296.2h0M130 280h0M119.9 265.7h0M99.8 265.3h0M93.4 298.8h0M116.1 297.2h0M133.3 265.5h0M89.5 289.4h0M100.6 299.9h0M111.6 257.3h0M109.2 299h0M117.2 269.7h0M83.7 285.2h0M93.8 291.3h0M56.1 308.4h0M110.1 276.3h0M135.6 267.8h0M57.2 329.3h0M92.9 273.1h0M131.3 287.9h0M105.2 283.4h0M61.3 330.3h0M138 266.4h0M73 300.9h0M143.1 267.8h0M94.1 314.4h0M91 282.7h0M109.4 267.6h0M108.2 283.8h0M123.8 283.4h0M121.3 286.6h0M105 282.9h0M141.9 253h0M126.6 264.2h0M115.6 270.6h0M112.1 281.7h0M106.4 278.5h0M106.8 286.2h0M125.4 266.7h0M120.6 277.9h0M109.7 279.9h0M134.2 276.2h0M102.2 292.1h0M119.7 290.1h0M130.3 260.7h0M80.8 313.5h0M102.1 298h0M150.6 260h0M84.8 313.7h0M137.6 274.1h0M82.2 298h0M118.9 270.5h0M82.1 294.2h0M93.3 304.1h0M99.3 288.7h0M95 319.5h0M134 254.1h0M129.6 281h0M130.5 252.1h0M113.6 272.2h0M149.8 226.9h0M134.5 258.3h0M116.9 286.3h0M82.5 278h0M125.9 255.1h0M125.1 257.5h0M111.1 260.4h0M126.6 270.8h0M128 298h0M101.3 292.5h0M122.9 280.3h0M117.4 269.5h0M116.6 282.9h0M100.2 283.7h0M97.1 303.6h0M111.7 267.8h0M144.6 248.4h0M167 247.6h0M99.5 274.2h0M82.3 285.5h0M100.2 283.1h0M87.8 307.4h0M98.3 287.6h0M118.7 274.9h0M85.8 307.1h0M124 273h0M128.6 270.4h0M146.7 271.9h0M154.3 249.4h0M133.8 277.9h0M165.6 240.5h0M96.2 296.4h0M115.7 268.4h0M113.1 286.9h0M119.8 273.9h0M134.4 282.3h0M100.6 276.1h0M140.7 260.8h0M117.6 270.8h0M120.6 266.4h0M84.6 304.8h0M46.7 321h0M106.7 292.2h0M116.9 279.1h0M114.6 280.4h0M81.4 312.8h0M97.7 309.9h0M152.8 237.5h0M127.2 268.4h0M124.4 281.3h0M101.3 304.2h0M127.5 271.4h0M141.1 271.3h0M128 262.8h0M98.9 291.4h0M116.1 273.4h0M87.1 288.2h0M101.4 287.5h0M123.8 265h0M95.7 279.9h0M103.3 282.2h0M144.8 284.2h0M104.9 272.6h0M128.2 266h0M101.6 282.7h0M80.8 286.6h0M109.2 286.3h0M100.1 284.9h0M79.2 288.6h0M98.6 292.8h0M145.8 258.5h0M94.8 298.2h0M108.3 277.3h0M124.8 294.5h0M116.4 255.2h0M100.7 289h0M151.4 252.3h0M142.4 240.8h0M48.4 320.1h0M133 259h0M122.6 284.6h0M133.5 251.4h0M111.3 279h0M129.6 278.2h0M157 248.9h0M151.7 247.4h0M153.6 258.6h0M135.3 253.1h0M132.1 273h0M132.5 254.9h0M81.3 301.9h0M165.6 234.3h0M115 291.6h0M117.2 276.6h0M112.1 274.1h0M120.9 270.7h0M56.4 329.4h0M114.9 275.2h0M77.6 312.6h0M84.6 303.6h0M62.9 305.1h0M66.4 296.6h0M123.7 250.9h0M96.9 286.2h0M106.5 292.9h0M104.8 290.6h0M80.2 292.7h0M91.4 296.1h0M77.7 289.3h0M101.3 294.2h0M53.7 315.8h0M99.2 307.6h0M131.6 270.3h0M139 254.4h0M137.4 257h0M121.2 272.5h0M83.9 317.2h0M131.4 265.2h0M121.8 277.8h0M115.5 287.1h0M78.7 304.9h0M118.6 286.8h0M144 264.9h0M127.3 243.3h0M103.1 284.2h0M122.4 258.6h0M108.9 290.5h0M113.2 286.5h0M129.9 284.2h0M117.4 293.9h0M110.6 298.6h0M118.4 271.2h0M88.4 311.8h0M84 314.4h0M120.9 282.6h0M94 287.3h0M122.7 278.6h0M62.9 312.8h0M138.6 274.2h0M106.3 279.3h0M150.3 252.8h0M47.1 325.2h0M66.9 331.1h0M143.7 259.5h0M112.7 281.9h0M116.4 287.4h0M111.9 275.3h0M112.8 280.9h0M122.2 267.9h0M83.7 311.4h0M104.7 285.4h0M141.2 276.7h0M113.4 272.9h0M93.4 313.1h0M111.3 291.2h0M134.9 263.5h0M103.9 282.1h0M104.5 286.8h0M121.1 299.9h0M130.1 283.8h0M145.7 266.6h0M105.7 289h0M117.6 295h0M134.9 275.3h0M61.6 317.5h0M112.6 281.4h0M120.5 270.2h0M106.9 282.4h0M87.8 319.7h0M123.6 286.7h0M140 260.8h0M106.9 283.2h0M97.1 302h0M103.8 278.4h0M148 264.1h0M140.2 268.2h0M110.3 285h0M81.9 303.8h0M77.7 317.7h0M101.2 293h0M101.4 303.7h0M115.9 289.5h0M81.1 289h0M106.2 302h0M122.6 256.9h0M67.3 325.5h0M166.7 226h0M123.8 280.1h0M122.5 288.3h0M76.9 311.8h0M83.8 305.6h0M134.9 262.8h0M131.6 280.5h0M138.4 265.9h0M127.7 277.1h0M125.1 282.9h0M81.8 308.1h0M116 263.9h0M94.5 282h0M123.7 270.4h0M155.6 233h0M125.7 248.6h0M135.1 247.1h0M101.9 311.7h0M84.2 313.5h0M110.1 280.6h0M135.7 252.6h0M146.5 271.2h0M108.3 258.6h0M116.2 287.5h0M99.9 304h0M66.9 343.2h0M112 271.4h0M118.6 265.1h0M99.5 280.9h0M105.6 284.6h0M64.9 314.6h0M111.3 281.6h0M144.5 235h0M109.3 275.5h0M124.8 259.3h0M121 295.7h0M91 318.8h0M115.2 265.7h0M89.4 292.3h0M115.1 281h0M82.7 301.4h0M71.5 319.2h0M147.2 247.1h0M125.3 292.5h0M119.8 275h0M75.9 318.2h0M95.8 305.5h0M79.5 310.3h0M137.4 265.2h0M96.8 295.7h0M158.1 226.1h0M122.9 289.1h0M101.8 302.1h0M143.4 257.9h0M57.4 325h0M89.1 295.5h0M99.8 280.5h0M136.6 259.1h0M136.8 274h0M118.8 248.5h0M65.5 316.1h0M96.6 293.8h0M82.3 304.6h0M141.1 270.3h0M98.8 302h0M124.6 272.5h0M156.3 244.8h0M108 279h0M127.4 283.4h0M100.3 282.9h0M111.1 296.7h0M110.9 270.1h0M110.2 252.1h0M111.6 298.7h0M100 285.7h0M156.6 235.1h0M93.6 302.7h0M116 261.3h0M102.4 308.7h0M53.3 335.9h0M134.2 258.2h0M115.6 260.5h0M75.4 317.2h0M91.5 316.4h0M69.4 309h0M116.9 258.1h0M148.8 247.3h0M140.2 270h0M77.3 327.1h0M66.5 283.1h0M122.9 271.3h0M151.8 272.7h0M110.9 306.2h0M135.9 248.1h0M74.6 294.9h0M106.7 287.7h0M120.6 281.7h0M99.2 282.7h0M103.8 278h0M126.6 268h0M93.8 312.6h0M84.5 299.8h0M128.1 238.9h0M115.5 293.3h0M84.4 313.6h0M120.2 286.2h0M95.3 305.8h0M125.4 252.4h0M109.1 275.3h0M102.1 303.2h0M89.9 314.4h0M114.4 281.8h0M108.1 294.7h0M156.7 243.5h0M108.2 282.8h0M75.5 330.6h0M58.2 334.5h0M150.6 234.2h0M87.6 299.4h0M144 261.5h0M104.6 315.6h0M122.8 282.6h0M109.9 270h0M106.4 276.2h0M122.2 286h0M93 330.8h0M121.1 272.3h0M82 322.4h0M90.8 302h0M96.4 308.7h0M106.6 270.6h0M139.5 268.8h0M88.1 299.6h0M87.5 304h0M80.9 315.2h0M98.8 283.4h0M123.1 269.4h0M90.3 295.3h0M101.6 295.7h0M94.2 290.2h0M111 297.5h0M58.4 320.7h0M123.8 276.7h0M132.1 305.6h0M88 319h0M107.2 291.8h0M86.1 275.8h0M134 249.3h0M124.7 280.5h0M103.7 301.4h0M87 287.2h0M96.9 299.1h0M77.5 320.9h0M114.2 301.4h0M116.8 281.3h0M132.2 254.7h0M119.2 277.9h0M98.7 250.3h0M141.5 267.9h0M123.7 258.4h0M130 256.7h0M79.9 306h0M88.3 303.8h0M93.2 306h0M99.5 283.1h0M54.5 317h0M139.5 264.1h0M104.1 298h0M130.7 284.8h0M128.8 271h0M147 277.7h0M123.9 283.4h0M119 252.5h0M91.1 310.9h0M112.8 288.5h0M153.8 239.4h0M65.7 313h0M92.2 301.8h0M116.9 273.7h0M150.5 254.8h0M82.6 305.3h0M98.9 304.1h0M114.1 274.7h0M88.6 300.1h0M106.5 282.5h0M129.1 268.6h0M92.8 302.8h0M120.2 275.8h0M121 283.3h0M101.6 320.9h0M119.5 287.9h0M153.9 255.6h0M113.9 281.4h0M100.1 288.2h0M92.1 282.1h0M116.7 261h0M136.9 244.4h0M114.6 284.2h0M118.8 264.9h0M177.4 260h0M91.9 313.4h0M84 284.4h0M117.9 280.7h0M105.7 289.8h0M125.4 267.8h0M142.1 253.5h0M120 280.5h0M106.2 288.2h0M124.1 291.6h0M123.2 270.2h0M108.8 274.6h0M96.7 283.7h0M127.8 268.5h0M106 294.7h0M82.4 310.4h0M128.1 280.6h0M98 311.7h0M97.5 288.6h0M127.3 279.7h0M91.3 271.8h0M106.5 283.8h0M86.3 285.8h0M72.7 332.6h0M118.2 280.1h0M149.8 242.9h0M88.9 290.8h0M139.9 256.5h0M137.5 256.4h0M148.4 264.3h0M84 315.4h0M94.4 302.6h0M151.9 269.7h0M109.5 272.5h0M110.6 297.6h0M128.6 282.8h0M126.2 274.6h0M97.2 274h0M105.7 284.6h0M126.9 264.9h0M117.7 277.1h0M92.8 278.1h0M143.1 251.2h0M132.4 284.9h0M103.2 304.6h0M97.4 292h0M134.2 262.2h0M50.9 336.9h0M113.9 277.3h0M96.4 278.8h0M94.4 302.5h0M133.4 249h0M119 260.1h0M106.1 295.2h0M120.7 266.7h0M76.6 311.5h0M136.8 263.1h0M96.8 283.4h0M117.2 268.9h0M144.1 266.7h0M141.3 291.5h0M124.1 266.7h0M143.8 245.5h0M100.7 285.6h0M88.6 296.5h0M73.8 303.3h0M125.8 266.1h0M161 253.1h0M103.7 286.2h0M112.1 275.5h0M103.9 296.8h0M123.9 272.3h0M66.2 304.7h0M133.2 242.1h0M138.8 253.1h0M94.7 270.8h0M86.5 303.2h0M89.7 302.1h0M125.5 255.7h0M147.9 257.2h0M86.8 307.3h0M73 326.9h0M114.2 281.4h0M118.3 281.5h0M129.3 285.4h0M94.2 312.7h0M129.9 264.5h0M139 251.9h0M70.5 321.1h0M104 298h0M126.7 274.4h0M130.5 320.2h0M97.4 301.4h0M62.6 307.1h0M91.6 286.7h0M75.5 318.1h0M97.9 296.2h0M136.7 284.6h0M95.1 311.1h0M113 281.5h0M80.6 320.6h0M134.1 245.7h0M95.1 282.9h0M84.6 298.2h0M157.4 243.8h0M119.1 284.6h0M127.8 269.8h0M60.7 345.8h0M146.3 247.9h0M153.6 241.7h0M107.2 276.4h0M103.1 291.4h0M96 275.5h0M137.5 261.7h0M71.2 311.7h0M118.7 283.7h0M160.5 250.7h0M113.9 300.4h0M159.8 252h0M111.1 287.3h0M102.8 292.2h0M133.3 279.2h0M108.6 302.7h0M112.9 292.7h0M100.3 296.2h0M80.2 295.1h0M102.7 301.9h0M128.1 266h0M137.4 267.1h0M108.6 289.6h0M118.1 289.7h0M87.2 276.1h0M106 285h0M106.6 288.2h0M107 278.1h0M112 295.4h0M119.3 288h0M141 257.6h0M129.8 283.3h0M123.4 274.8h0M80 290.2h0M90.4 313.9h0M111.7 282.9h0M113.1 272.5h0M128.8 287.4h0M66.6 314.4h0M115.1 280h0M113.7 299.8h0M102.2 290.7h0M90.8 290.7h0M116.3 267.4h0M106.7 289.4h0M122.4 257.9h0M60.5 320h0M88.1 300.8h0M148.8 264.2h0M116.4 284.6h0M91.4 292.5h0M102.8 289.4h0M78.4 293.7h0M146.3 252.7h0M146.5 255.8h0M132.9 238.6h0M140.9 265.6h0M122.6 269.1h0M143.8 240.5h0M126.8 267.8h0M146.2 245.9h0M110.5 274.3h0M108.9 305.1h0M97.2 274.7h0M99.5 297.4h0M71.9 313.1h0M144.3 238.2h0M146.1 257.9h0M129.4 269.3h0M136.1 257h0M116.9 286.9h0M123.5 265.3h0M77.7 308.3h0M109.4 288.7h0M66.3 327.8h0M94.4 289.6h0M104.1 313.7h0M103.5 296.5h0M84.8 312.9h0M143.1 251.8h0M135.8 235.5h0M98.1 286.6h0M80.7 291.7h0M99.1 307.4h0M134.5 250.2h0M63.8 333h0M131.1 275.9h0M107.9 289.1h0M101.2 307.4h0M136.4 256h0M111.6 271.1h0M102.3 281.5h0M141.9 277.5h0M71.6 337.2h0M151.2 257.7h0M90.1 278.8h0M90.4 323.3h0M150.5 266.1h0M141.7 250.4h0M90.4 288.6h0M57.1 323.8h0M117.2 275h0M111.3 281.1h0M96.7 297.7h0M108 312.2h0M94.4 299.6h0M132.1 253.2h0M109 296.4h0M106 278.2h0M56.6 327.6h0M117.4 286.3h0M75 298.9h0M129.3 271.8h0M110.2 301.2h0M60.7 339.6h0M102.7 276.7h0M81.4 302.4h0M124.8 284.6h0M122.1 268h0M137.1 265.1h0M91.7 278.9h0M123.1 283.5h0M76.7 325.8h0M118.9 293.7h0M105.1 299.6h0M116.6 287.2h0M110.5 293.1h0M136 270.9h0M102.1 303.2h0M106.2 277.2h0M145.4 242.6h0M109 298.4h0M97.5 276.3h0M88.3 288.2h0M111 267.9h0M109.8 291.4h0M126.6 283.9h0M106.4 271.3h0M127.7 297.5h0M104.1 293h0M150.2 259.4h0M109.4 291.8h0M127.5 280.9h0M120.2 279h0M78 312.1h0M136.2 261.3h0M100.2 303.8h0M133.4 267.5h0M61 316.2h0M64.6 318.6h0M60.9 334.8h0M65.9 326.2h0M100.6 285.4h0M109.4 287.8h0M85.9 306.1h0M101.7 292.6h0M93.2 287.9h0M128.4 264.7h0M127.7 229.4h0M117.5 260.4h0M126.1 263.6h0M152.6 240.9h0M126.1 278.2h0M72.3 312.3h0M104.8 278.5h0M102.6 272.7h0M130.3 269h0M121.9 281h0M131.4 264.5h0M71.7 317.8h0M144.6 261.7h0M106.2 281h0M133.8 249.8h0M121.8 282h0M88 279.8h0M89.5 300.3h0M124.7 290.8h0M138 256.3h0M87.1 299h0M81.3 299.8h0M58.6 342.9h0M86.3 294.8h0M90.9 287.6h0M102 303.6h0M124.2 285.2h0M97 282.9h0M81.4 279.2h0M99.6 272.2h0M107 302.8h0M112.6 261.4h0M112.2 296h0M104.5 289.7h0M122.4 277.7h0M101.5 274.7h0M82.9 290.3h0M104.4 288.9h0M154.7 243.9h0M88.4 311.4h0M169.4 236h0M96.2 276.8h0M126.4 269h0M68.9 322h0M106.2 270.9h0M144.3 261.5h0M79.7 304.8h0M90.8 294.5h0M116.6 275.7h0M117.4 284.2h0M72.1 313.9h0M77.6 312.7h0M115.8 281.4h0M116 305.9h0M126.9 275.8h0M104.7 292.3h0M124.2 257h0M138.6 247.8h0M78.6 327.7h0M133.9 280.3h0M127.4 262.8h0M140.4 259.3h0M99.3 300.5h0M108 296.8h0M110.8 289.3h0M97 300.6h0M133.7 280.8h0M114.5 275h0M84.3 286.1h0M115.3 281.7h0M82.7 302.1h0M70.4 339.2h0M83.3 317.3h0M109.4 304.9h0M111.7 275.4h0M106.2 275.1h0M122.2 287.9h0M156.1 254.9h0M81.2 318.5h0M119.4 282.1h0M115.6 297.2h0M79.6 298.1h0M96.5 304.4h0M113.8 294.8h0M109.6 297.3h0M88.4 305.2h0M127.7 255.8h0M114.7 277.4h0M124.5 271.4h0M147.8 262.9h0M77.8 320h0M133 263h0M120.5 265.5h0M87.5 287.9h0M107.4 286.1h0M98.7 307.6h0M80.2 314.8h0M128.5 270.2h0M89.9 295.9h0M59.1 322.2h0M128.9 257.1h0M96.9 287.2h0M117.8 269.6h0M113.8 266.8h0M101.3 287.2h0M99.5 277.3h0M47 336.6h0M98.8 298.1h0M81 286.5h0M121.1 275.5h0M89.7 273.3h0M92.8 321.1h0M111.1 279.1h0M80.6 300h0M91.4 270.1h0M96.8 281.2h0M118.5 282.1h0M73.3 308.7h0M127.4 279.2h0M105.2 295.1h0M96.4 287.3h0M117 274.7h0M133.3 243.1h0M136.7 295.6h0M83.2 306.1h0M141.4 250h0M109.5 267.6h0M140.6 257.5h0M82.8 303.7h0M104.5 280.9h0M105.9 251.1h0M77.7 298.7h0M97.6 305.3h0M130.6 276.9h0M135.8 258.6h0M124.6 281.8h0M115.4 269.5h0M97.8 290.8h0M158.8 247.1h0M75.8 306.9h0M79.2 324h0M89.8 308.2h0M112.8 284.7h0M97.3 293.4h0M127.3 269h0M70.2 313.1h0M128.7 243.5h0M151.3 271.3h0M129.7 252.8h0M101.2 284h0M93.7 305.2h0M134.9 262.6h0M66.9 324.2h0M89 303.1h0M67.4 312.7h0M104.8 281.3h0M153.2 247.5h0M97.8 280.7h0M134.5 280.9h0M82 289.7h0M94.9 292.8h0M94.4 307.6h0M134 250.5h0M87 299h0M91.9 301h0M108.5 286.4h0M146 262h0M109.8 302.2h0M151.6 251h0M118 273.3h0M102.2 296.8h0M136.3 265.5h0M94.2 327.2h0M86.1 289.3h0M110.9 292.1h0M70.8 328.4h0M79.4 299.7h0M88.7 286.9h0M109.2 280.3h0M133.6 255.1h0M136.2 263.3h0M103.6 294.4h0M114 262.6h0M100.8 320.3h0M73.9 327h0M118.2 279.9h0M90.5 288.5h0M126.6 266.6h0M95.1 297.5h0M83.8 306h0M116.4 270.5h0M95 299.2h0M76.4 307.8h0M133.5 262.2h0M116.1 293h0M116 289.3h0M110.2 288.7h0M94.7 292.3h0M94.6 305.1h0M97.5 316.3h0M118.6 263.9h0M76.4 326.9h0M119.9 263.7h0M109.1 294h0M144.1 266h0M90.7 300.4h0M108.7 296.4h0M114.4 270.2h0M122.7 266.3h0M139.8 291.4h0M120 277.4h0M74.3 329.8h0M148.8 252.6h0M60.1 316.6h0M124.1 282.7h0M140.7 259.7h0M91.9 298.9h0M107.5 281h0M106.8 286.9h0M81.4 317.2h0M117.7 270.7h0M85.3 299.1h0M116.6 301.5h0M123.4 278.3h0M135.4 276.1h0M141.9 261.5h0M119.1 308.1h0M120.7 283h0M103.4 266.3h0M107.2 303.4h0M130.4 268.4h0M127.8 247.9h0M120.4 271.2h0M108.6 273h0M134 267.6h0M81.4 323.1h0M95.9 307.3h0M114.2 274.9h0M136.3 274.2h0M78.7 311.1h0M82.8 314.4h0M79.4 329.8h0M126.6 305.3h0M128.3 260.2h0M146.3 273.5h0M164.3 256.4h0M79.6 307.6h0M104.3 291h0M95.4 300.5h0M82.3 301h0M109.8 278.2h0M95.5 299.8h0M112.4 293.2h0M100.2 280.6h0M73.5 313.4h0M123.3 280.3h0M122.6 278h0M98.2 279.1h0M56 299.8h0M52.2 331.3h0M75.1 315.6h0M117.8 270.5h0M124.9 265.7h0M110.4 271.2h0M110.4 283.6h0M46.7 343.1h0M117.4 263.7h0M91.8 307.5h0M101.8 297.5h0M85 312.9h0M59.8 320.3h0M127 288.4h0M117.6 288h0M82.5 283.7h0M70.7 303h0M93.1 286.2h0M129.5 257h0M121.6 251h0M109.6 292.8h0M130.6 267.2h0M116.6 267.7h0M85.2 307.2h0M124.1 268.3h0M106.8 292.6h0M88.1 296.9h0M136 257.7h0M118.7 266.6h0M73.2 303.1h0M127 264.1h0M113.2 308h0M99.5 289h0M97.1 294.9h0M83.3 305.1h0M72.7 323.3h0M115 271.2h0M119.8 274.1h0M100.1 296.2h0M114.5 279h0M99.1 285.6h0M99.7 303.4h0M120.7 264.3h0M120.2 273h0M142.8 249.6h0M97.1 299.5h0M116.8 283.3h0M104.3 300.3h0M113.7 288.8h0M138.8 257.8h0M118.1 277.1h0M89.5 296.5h0M97.2 311.1h0M94 297.4h0M102 274.8h0M92.2 300.5h0M96.3 289.3h0M104.2 294.7h0M116.2 267.7h0M87.8 301.8h0M110 279.4h0M109.3 282.4h0M128.7 242.5h0M114.5 285.5h0M120.9 253.9h0M114.9 296.4h0M135.8 261.2h0M105.2 277.6h0M72.3 317.5h0M116.7 266.1h0M84.6 285h0M54.7 327.5h0M119.6 276.1h0M107.1 290.9h0M112.6 300h0M118.9 282.8h0M103.6 284.6h0M133.7 257h0M109.3 286h0M100.5 298h0M108.4 288h0M58.9 328.1h0M119.9 264.7h0M72.5 309h0M117.1 305.4h0M104.4 289.2h0M109.4 276h0M88.3 329h0M147.5 249.6h0M58.9 325.2h0M104.4 275.4h0M86.2 309.2h0M69.6 319.4h0M141.8 264.1h0M112.1 280.8h0M165.6 227.9h0M126.2 267.6h0M119.5 263.6h0M121.2 278h0M77.1 309.2h0M76.4 306h0M141.9 250.6h0M127.2 263h0M90.3 279.4h0M110.5 292.5h0M111.9 285.4h0M137.1 258.2h0M116.3 262.4h0M91.7 293.8h0M127.5 279.7h0M95.6 283.4h0M122 281h0M94.5 298.8h0M147 242h0M86.3 318.1h0M132.3 246.1h0M123.6 269.2h0M96.1 288.6h0M81 344.8h0M154.5 258.3h0M114.3 282.7h0M139.5 270.3h0M116.9 286.6h0M131.5 267.9h0M114.5 277.5h0M78.4 304.2h0M90.6 315.1h0M118.2 278.3h0M80.8 313h0M101 260.3h0M106.7 283.7h0M135.5 272.7h0M147.7 257.2h0M60 343.6h0M119.2 277.5h0M152.2 238.8h0M76.8 296.6h0M83.4 279.4h0M137.2 268.7h0M113.3 295.3h0M96 295.3h0M114.1 277.8h0M126.6 272.2h0M111.6 268.1h0M118.7 281.8h0M114.7 278h0M119.3 264.4h0M114.9 277.1h0M120.2 259.3h0M106.5 263.5h0M136.8 257h0M103.3 300.6h0M98.6 274.4h0M76.4 320.1h0M93 299.4h0M114.4 296.9h0M106.5 295.9h0M125 286.1h0M83 305.1h0M95.6 312.9h0M63.7 331.4h0M104.2 292.3h0M133.5 248.8h0M121.7 279.6h0M101 308.1h0M121.9 285.9h0M117 249.8h0M89.2 315.4h0M86.2 320h0M88.3 298.2h0M120.9 272.8h0M124 265h0M119.7 295.1h0M104 290.1h0M155.2 254h0M105.4 269.6h0M121.8 260.7h0M114.5 303.8h0M134.9 252.8h0M70.3 320.3h0M122.6 276.2h0M105.7 292.9h0M108.1 307.3h0M85.3 306.7h0M92.9 311.6h0M139 259.3h0M130.9 274.6h0M76.2 308.3h0M116 292.5h0M98.6 310h0M135.7 255.5h0M120.9 296.2h0M128.3 258.4h0M108.8 275.4h0M111.3 285.4h0M94.7 294.5h0M74.5 322.9h0M96.7 293.8h0M139.3 285.1h0M142 255.8h0M89.3 305.7h0M89.7 301.9h0M92.1 319.8h0M91.2 289.3h0M81.8 285.6h0M93.2 298.5h0M125 274.7h0M126.8 249.2h0M149.6 250.9h0M105.4 292.9h0M95.7 280.5h0M83.7 310.4h0M100.8 283.3h0M91.4 286.8h0M131.9 262.6h0M88.9 297h0M108.9 290.8h0M151.4 249.4h0M108.4 283.5h0M69.4 312.6h0M130 285.5h0M119.8 290.2h0M121.6 285.9h0M125 258.8h0M86.2 300h0M85.1 326.2h0M112.2 270.2h0M68.5 301.4h0M88.8 299.8h0M136 239h0M78.5 300h0M116.9 266.6h0M133.7 246.1h0M107.2 279.6h0M98 300.6h0M139.6 271.1h0M76.1 321.7h0M148 256.5h0M87.4 304.2h0M109.3 293h0M82.5 283h0M83 296.5h0M132 258.4h0M110.3 283.1h0M120.8 269.4h0M77.7 307.5h0M100.1 297.2h0M79.2 306.1h0M107.9 304.8h0M119.4 279.6h0M120.4 274.6h0M120.7 274.4h0M93 303.1h0M122.1 277h0M98.2 284.9h0M140.6 268h0M104.5 297.5h0M136.9 243.9h0M100 297.5h0M124.2 276.2h0M114 284h0M73.7 303.8h0M124.4 274.1h0M86.8 315h0M66.1 332h0M111.9 300.6h0M135.4 261.2h0M126.1 276.9h0M88.5 293.1h0M67.9 311h0M93.2 288.3h0M96 297.6h0M104.6 273.1h0M137.8 255.2h0M103.7 283.1h0M82.7 288.1h0M81.8 307.3h0M85.7 312.3h0M92.5 295.3h0M116.1 284.7h0M100.8 258.7h0M106.6 291.8h0M110.9 289.3h0M113.4 291.1h0M123.9 251.9h0M136.3 282.2h0M84.8 309h0M101.5 294.6h0M105.7 293.4h0M104.8 290.3h0M128 260.5h0M125.8 289.5h0M93.6 303.6h0M148.3 248.3h0M121 267.7h0M125.2 258.3h0M94.4 302.1h0M127.5 294.9h0M101.1 288.6h0M86.2 285.2h0M111.7 282.4h0M84.5 296.7h0M82.9 310.8h0M119.5 284.7h0M127.7 265.4h0M92.5 319.3h0M131.6 263h0M136.7 261.9h0M136.2 254.1h0M117 284.7h0M101.7 279.3h0M145.5 249.5h0M99.9 284.3h0M120.3 289.2h0M135.7 278.1h0M149.8 272.5h0M116.4 279.4h0M115.7 291.7h0M122 268.7h0M114.8 286.5h0M136.1 279.1h0M135.1 270.9h0M150.7 248.6h0M108.6 289.5h0M127.5 272.9h0M93.1 295.6h0M100.3 296.2h0M143.9 266.4h0M103.7 288.2h0M65.1 341.2h0M97.2 301.1h0M97.6 305h0M66.6 319.8h0M114.6 277.7h0M129.9 270.3h0M97.7 291h0M133.1 269.6h0M60.9 326.2h0M127.7 262.5h0M109.6 297.6h0M163.5 250h0M110.4 280.3h0M109.3 278.9h0M109.3 282.2h0M101.7 299.7h0M100.9 289.8h0M126.4 264.2h0M116.4 291.1h0M117.1 257h0M116.6 271.4h0M93.9 312h0M154.8 226.2h0M86.3 312.3h0M132.1 254.2h0M106.1 301h0M134.7 270.2h0M104.8 312.2h0M136 275.7h0M121.9 290.3h0M138 263.4h0M157.2 233.4h0M115.4 279.1h0M114.1 301.1h0M53.9 306.4h0M111 291.6h0M131.6 265.8h0M104.6 279.2h0M112 271h0M106.7 293.8h0M65.1 301.9h0M130.8 269.4h0M93.7 294.4h0M78.6 339.1h0M133.7 251.4h0M119.9 287h0M123.9 288.8h0M113.7 266.7h0M95.2 296.8h0M131.7 277.8h0M90.4 304.2h0M116.7 286.3h0M87.3 310.9h0M84.9 290.3h0M129.9 275h0M92.6 297.7h0M148.3 266h0M80.4 319h0M135.9 270.6h0M103.9 299.2h0M129 269.9h0M127.3 254.8h0M68.3 288.5h0M125.2 280.7h0M103.6 275.6h0M89 306.8h0M135.5 253.7h0M119.6 277.8h0M120.7 280.5h0M143.8 257.4h0M134.8 282.8h0M113.3 297.2h0M92.1 328.7h0M145.4 236.2h0M95.9 275.5h0M73.5 311.8h0M156 231.4h0M160 243.9h0M72.9 325h0M119.9 279.2h0M77.9 327.2h0M126.1 271.7h0M100.6 285.5h0M78.5 304.9h0M133.5 279.4h0M90.8 297.5h0M120.5 290.7h0M95.5 306.6h0M151.2 274.7h0M136.5 258.9h0M100.7 290.5h0M60.9 317.1h0M119.8 258.3h0M89.2 279.9h0M139 266h0M148 240.1h0M111.4 285.9h0M132.3 271.3h0M80.3 304.3h0M124.7 271.4h0M149.6 252.6h0M78.7 311.4h0M128.2 264.3h0M116.5 301.2h0M131.1 255.5h0M112.1 289.3h0M108.8 289.6h0M138.6 268.4h0M111.2 297h0M121.6 264.7h0M78.4 316h0M119.6 281.6h0M126.5 262.7h0M106.9 274.8h0M109.2 287.1h0M63.5 320.2h0M85.7 297.7h0M103.9 286.7h0M102.8 284.2h0M161.1 252.3h0M128.4 270.1h0M82.2 315.6h0M163.5 229.5h0M77.3 301.8h0M83 299.2h0M89.4 297.2h0M108.7 290.9h0M170.8 252.7h0M103.9 297.6h0M123 267.6h0M75.6 320.7h0M99.6 274.5h0M170.6 233.8h0M141 268.3h0M131.9 263.4h0M146.2 231.1h0M123.8 270h0M123 249.2h0M84.9 304.4h0M74.8 319.6h0M94.6 291.1h0M102.5 303.1h0M91.3 316.4h0M127.3 291.3h0M153.8 234.1h0M110.1 285.9h0M73.3 336.2h0M81 294.7h0M135.3 281.3h0M129.3 277.9h0M116 263.6h0M125.8 282.8h0M137.5 249.8h0M111.6 289.9h0M117.8 275.2h0M102.3 277.9h0M63.3 318.2h0M113 280.6h0M109.5 280.5h0M119.8 292.1h0M97.1 291.7h0M120 275.1h0M119.3 257.4h0M100 294.5h0M86 292.1h0M93.5 292.4h0M118.1 295.6h0M130.8 274.8h0M153.6 249.7h0M107.7 280.1h0M122 281.8h0M138.9 266.6h0M86 295.9h0M125 264.9h0M98.9 297.8h0M100.9 294.9h0M128.4 261.7h0M104.3 296.9h0M118 272.8h0M83.3 299.1h0M108.4 307h0M88.9 282.1h0M102.6 273.6h0M110.5 271h0M104.8 287h0M100.4 279.7h0M91.4 306.8h0M153.8 266.4h0M93.3 296h0M168.1 235.5h0M104.8 288.7h0M140.1 266.8h0M113 289.2h0M94.6 303h0M105.6 288.5h0M142.4 278.1h0M106 286.7h0M62.9 324.3h0M156 239.4h0M92.9 310.5h0M102 290.1h0M145.9 259.4h0M69 320.4h0M97.7 289h0M125.6 266.8h0M125.5 260.6h0M124.1 254.4h0M86.5 287.2h0M132.9 277.1h0M99 324.5h0M114.6 285.6h0M87.3 303h0M152.8 241.7h0M100.9 284.7h0M108.3 277.9h0M96.7 302.1h0M119.9 289.3h0M77.2 308h0M107.8 260.4h0M104.7 292.6h0M150.3 268.6h0" stroke="#c0c0c0" stroke-width="2.0" stroke-linecap="round" fill="none"/>
<path d="M134 248.5h0M127.1 264.9h0M127.7 260h0M137.7 229.5h0M125.9 266.1h0M103.7 280.2h0M117.6 259.8h0M125.5 257.9h0M138 242.4h0M121.4 256.6h0M133.5 248.3h0M139.9 236.7h0M143.9 250.9h0M119.3 264.1h0M128.3 250.2h0M129.4 254.4h0M124.8 266.3h0M145.2 267.3h0M123.5 255.1h0M139.4 249.2h0M121.6 268.9h0M136.1 250h0M144 235.7h0M143.8 254.1h0M124.3 255.3h0M124.6 263.4h0M133.6 255.5h0M140.6 255.4h0M125.8 262h0M138 247.4h0M110.8 266.8h0M131.9 250.1h0M135 249.8h0M115.1 257.9h0M127.1 246.5h0M138.9 247.6h0M110.7 262h0M121.6 255h0M110.7 262.9h0M150.3 243.4h0M109.7 269.5h0M108.2 272.3h0M135.4 242h0M133.9 249.6h0M115.6 261.7h0M136.6 256.6h0M140.3 245.6h0M120.3 253.9h0M136.8 262.7h0M150.7 239.7h0M125.5 244.4h0M106.3 280.2h0M122.9 264.1h0M155.5 231.2h0M99.9 256h0M130.8 256.6h0M120.4 254.3h0M139.1 264.1h0M125.4 270.5h0M129.4 257.2h0M120.2 258.6h0M122.4 266.7h0M139.2 238.8h0M146.3 244.7h0M141.8 265.3h0M119.5 257.5h0M119.9 258h0M126.2 253.5h0M129.1 270.8h0M114.1 275.2h0M119.5 260.8h0M119.6 267.5h0M119.8 247.4h0M116.7 274h0M131.5 265h0M112.7 256h0M113.1 245.4h0M138.3 233.8h0M121.3 271.6h0M117.6 258.1h0M122.1 276h0M130.3 241.7h0M132.9 261.5h0M145.2 247.1h0M130 265.9h0M105.7 256.9h0M124.8 274.5h0M109.7 265.1h0M126.7 253.8h0M126.2 253.2h0M111.7 273.3h0M142.6 255.1h0M133.1 254.5h0M142 248.1h0M113 264.9h0M138.9 251.1h0M131.1 259.8h0M138.9 257.2h0M135.8 251.8h0M124.2 254.1h0M117.2 273.7h0M132.2 255.6h0M130.9 248h0M112.9 270.6h0M111 266.6h0M157.7 241.4h0M122.9 263.1h0M111.1 268.4h0M112.4 278.4h0M116.4 270.5h0M129.3 270.2h0M114.6 270.5h0M132.3 245.8h0M119.5 263.6h0M108.4 254.9h0M141.2 244.4h0M135.8 264.2h0M129.9 249.3h0M140.5 247.9h0M123.3 255.6h0M130.8 251.2h0M108.9 273.4h0M108.9 275.1h0M136.3 254.8h0M117.2 267.4h0M131.5 244.8h0M138.8 245.9h0M121.9 260.4h0M114.6 273.4h0M124.3 246.4h0M132.5 246.5h0M141.3 234.5h0M135.8 255h0M113.9 243.9h0M141.3 241.3h0M111.9 259.4h0M122.9 251.9h0M120.6 259.2h0M116.6 276.1h0M101.5 286.3h0M105.4 259.9h0M125.6 247.7h0M119.6 268.8h0M140.3 252.5h0M123.7 248.2h0M118.9 262.7h0M129.1 259.6h0M110.8 275.6h0M139.4 267.6h0M128.6 260.1h0M147.3 244.4h0M113.3 268.3h0M106.7 265.7h0M106.9 281.8h0M133.3 240.5h0M123.2 249.5h0M134.7 264.1h0M115 283.6h0M110.9 272.2h0M118.2 267.3h0M122.7 247.8h0M131.6 259.2h0M152.5 242.8h0M136.8 264.4h0M141.3 258.4h0M120.5 254h0M116.4 283.3h0M112.7 271.9h0M121.9 267.5h0M114.5 253.5h0M131.5 248.1h0M107.7 289.1h0M118.6 259.9h0M145.9 234.1h0M128.8 262.9h0M136 242.8h0M130.1 250.3h0M123.8 260.8h0M123.4 270.1h0M104.7 259.7h0M134.3 240.1h0M128.4 265.2h0M127.8 251.1h0M142.6 262.1h0M132.5 257.3h0M115.7 251.8h0M134.9 245.5h0M123.1 261.3h0M151.2 242.7h0M118 241.2h0M129.2 253.6h0M120.9 259.6h0M126.1 258h0M130.7 248.7h0M134.2 251h0M112 266.3h0M119.6 256h0M133.9 255.1h0M128.3 255.6h0M126.4 249.9h0M111.9 263.2h0M136.5 260.7h0M109.5 265.3h0M141.1 257.3h0M107.5 273.4h0M145.8 257.2h0M123.2 263.6h0M118.4 256h0M138.8 247.5h0M119 266.2h0M132 247.4h0M130 246.3h0M123.7 264.6h0M118.6 281.5h0M125.9 265.2h0M113 268.1h0M126.8 260.5h0M136.8 256.5h0M118.3 254.8h0M128.9 256.3h0M126.3 246.4h0M114 253.8h0M129.4 258.9h0M116.1 255.8h0M116.7 258h0M146 243.3h0M148.1 241.6h0M138.6 251h0M128.6 237.2h0M126.7 251.6h0M126.4 242.8h0M133.5 249h0M116.7 265.9h0M124 264.3h0M108.7 267.9h0M129.2 272.8h0M102.6 276.1h0" stroke="#f26b3a" stroke-width="2.6" stroke-linecap="round" fill="none"/>
<path d="M125.5 248.2h0M117 252.6h0M115.5 254.6h0M148.6 240.7h0M151.4 245.1h0M126.4 252.7h0M144.3 245.1h0M126.5 246.2h0M131.8 249.7h0M123.2 250.7h0M132.3 250.9h0M122.2 248.2h0M126.6 244.5h0M125.4 240.4h0M161 238.7h0M153.1 246.9h0M117.1 250h0M134.3 246.4h0M117.5 234.2h0M131.9 236.7h0M118.8 250.6h0M148.8 244.5h0M153.8 253h0M123.9 249.1h0M144.9 237.7h0M156.5 244.6h0M158.3 239.4h0M132.6 246.2h0M112.7 241.9h0M123 239.7h0M155.8 237.3h0M150.3 245.1h0M154 246.1h0M156.4 243.7h0M116.7 236.9h0M158.7 239.1h0M153.5 237.6h0M127.8 256.8h0M120.8 250.4h0M157.8 237.8h0M160.9 236.3h0M152.1 235.2h0" stroke="#f5c935" stroke-width="2.6" stroke-linecap="round" fill="none"/>
<path d="M173.6 228.2h0M157.8 255.3h0M183.7 234.4h0M173.5 241.5h0M165 235.6h0M151.1 259.6h0M160.2 240.7h0M171 236.7h0M168.6 237.2h0M173.7 247.1h0M179.2 249.4h0M155 245h0M149.7 241.3h0M146 244.4h0M166 241.2h0M180.1 227.9h0M162.8 230.7h0M151.8 248.7h0M179.4 230.9h0M162.4 250.4h0M176 227.9h0M178.1 242.1h0M163.6 239h0M159.3 246.8h0M173.9 229.2h0M161.2 252.5h0M151.4 263.2h0M148.1 246.5h0M144.5 262.6h0M150.1 243.6h0M141.7 263.5h0M149 277.8h0M137.9 254.6h0M149 275.2h0M144.6 282.9h0M142.8 268.7h0M132.6 269h0M126.2 274.1h0M127.3 264.9h0M141.3 260.2h0M146.6 259.3h0M133.1 263.6h0M150.1 271.3h0M133.1 251.2h0" stroke="#3a8fe8" stroke-width="2.6" stroke-linecap="round" fill="none"/>
<rect x="43.4" y="212.2" width="148.1" height="136.3" fill="none" stroke="#333" stroke-width="0.9"/>
<text x="50.2" y="225.5" font-size="7" fill="#1a1a1a"><tspan font-style="italic">r</tspan> = 0.82, <tspan font-style="italic">p</tspan> &lt; 2.2e−16</text>
<rect x="140.2" y="299.7" width="44.5" height="44.5" fill="#fff" stroke="#333" stroke-width="0.6"/>
<text x="161.7" y="308" font-size="6.5" fill="#1a1a1a" text-anchor="middle" >Annotation</text>
<path d="M146.9 315.5h0" stroke="#3a8fe8" stroke-width="3.3" stroke-linecap="round" fill="none"/>
<path d="M146.9 326.6h0" stroke="#f26b3a" stroke-width="3.3" stroke-linecap="round" fill="none"/>
<path d="M146.9 337.6h0" stroke="#f5c935" stroke-width="3.3" stroke-linecap="round" fill="none"/>
<text x="156" y="317.6" font-size="5.8" fill="#1a1a1a" text-anchor="start" >Module 3</text>
<text x="156" y="328.7" font-size="5.8" fill="#1a1a1a" text-anchor="start" >Module 4</text>
<text x="156" y="339.7" font-size="5.8" fill="#1a1a1a" text-anchor="start" >Module 5</text>
<line x1="41" y1="214" x2="43.4" y2="214" stroke="#333" stroke-width="0.7" />
<text x="40" y="216" font-size="5.6" fill="#555" text-anchor="end" >0.6</text>
<line x1="41" y1="248.7" x2="43.4" y2="248.7" stroke="#333" stroke-width="0.7" />
<text x="40" y="250.7" font-size="5.6" fill="#555" text-anchor="end" >0.3</text>
<line x1="41" y1="283.4" x2="43.4" y2="283.4" stroke="#333" stroke-width="0.7" />
<text x="40" y="285.4" font-size="5.6" fill="#555" text-anchor="end" >0.0</text>
<line x1="41" y1="318.1" x2="43.4" y2="318.1" stroke="#333" stroke-width="0.7" />
<text x="40" y="320.1" font-size="5.6" fill="#555" text-anchor="end" >−0.3</text>
<line x1="45.2" y1="348.5" x2="45.2" y2="350.8" stroke="#333" stroke-width="0.7" />
<text x="45.2" y="356.8" font-size="5.6" fill="#555" text-anchor="middle" >−0.8</text>
<line x1="81" y1="348.5" x2="81" y2="350.8" stroke="#333" stroke-width="0.7" />
<text x="81" y="356.8" font-size="5.6" fill="#555" text-anchor="middle" >−0.4</text>
<line x1="116.8" y1="348.5" x2="116.8" y2="350.8" stroke="#333" stroke-width="0.7" />
<text x="116.8" y="356.8" font-size="5.6" fill="#555" text-anchor="middle" >0.0</text>
<line x1="152.6" y1="348.5" x2="152.6" y2="350.8" stroke="#333" stroke-width="0.7" />
<text x="152.6" y="356.8" font-size="5.6" fill="#555" text-anchor="middle" >0.4</text>
<line x1="188.4" y1="348.5" x2="188.4" y2="350.8" stroke="#333" stroke-width="0.7" />
<text x="188.4" y="356.8" font-size="5.6" fill="#555" text-anchor="middle" >0.8</text>
<text x="117.5" y="366" font-size="8.5" fill="#1a1a1a" text-anchor="middle" >Gene score gemistocytes</text>
<text x="26.5" y="280" font-size="8.5" fill="#1a1a1a" text-anchor="middle" transform="rotate(-90 26.5 280)">Gene score T cells in PS</text>
<text x="241.6" y="220.7" font-size="15" fill="#2a2a2a" text-anchor="start" >d</text>
<rect x="299.4" y="209.6" width="100.1" height="129.6" fill="#fff" />
<line x1="307.6" y1="209.6" x2="307.6" y2="339.2" stroke="#ebebeb" stroke-width="0.9" />
<line x1="321.6" y1="209.6" x2="321.6" y2="339.2" stroke="#ebebeb" stroke-width="0.9" />
<line x1="335.6" y1="209.6" x2="335.6" y2="339.2" stroke="#ebebeb" stroke-width="0.9" />
<line x1="349.6" y1="209.6" x2="349.6" y2="339.2" stroke="#ebebeb" stroke-width="0.9" />
<line x1="363.6" y1="209.6" x2="363.6" y2="339.2" stroke="#ebebeb" stroke-width="0.9" />
<line x1="377.6" y1="209.6" x2="377.6" y2="339.2" stroke="#ebebeb" stroke-width="0.9" />
<line x1="391.6" y1="209.6" x2="391.6" y2="339.2" stroke="#ebebeb" stroke-width="0.9" />
<line x1="299.4" y1="216.4" x2="399.5" y2="216.4" stroke="#ebebeb" stroke-width="0.9" />
<line x1="299.4" y1="228" x2="399.5" y2="228" stroke="#ebebeb" stroke-width="0.9" />
<line x1="299.4" y1="239.7" x2="399.5" y2="239.7" stroke="#ebebeb" stroke-width="0.9" />
<line x1="299.4" y1="251.3" x2="399.5" y2="251.3" stroke="#ebebeb" stroke-width="0.9" />
<line x1="299.4" y1="263" x2="399.5" y2="263" stroke="#ebebeb" stroke-width="0.9" />
<line x1="299.4" y1="274.6" x2="399.5" y2="274.6" stroke="#ebebeb" stroke-width="0.9" />
<line x1="299.4" y1="286.2" x2="399.5" y2="286.2" stroke="#ebebeb" stroke-width="0.9" />
<line x1="299.4" y1="297.9" x2="399.5" y2="297.9" stroke="#ebebeb" stroke-width="0.9" />
<line x1="299.4" y1="309.5" x2="399.5" y2="309.5" stroke="#ebebeb" stroke-width="0.9" />
<line x1="299.4" y1="321.2" x2="399.5" y2="321.2" stroke="#ebebeb" stroke-width="0.9" />
<line x1="299.4" y1="332.8" x2="399.5" y2="332.8" stroke="#ebebeb" stroke-width="0.9" />
<circle cx="307.6" cy="216.4" r="4.40" fill="#fdb96a"/>
<circle cx="321.6" cy="216.4" r="3.95" fill="#a7d9a0"/>
<circle cx="335.6" cy="216.4" r="2.90" fill="#5e5cb0"/>
<circle cx="349.6" cy="216.4" r="3.95" fill="#e4f29a"/>
<circle cx="363.6" cy="216.4" r="4.40" fill="#f26d43"/>
<circle cx="377.6" cy="216.4" r="4.70" fill="#b5163f"/>
<circle cx="391.6" cy="216.4" r="4.80" fill="#9b0f3e"/>
<line x1="296.6" y1="216.4" x2="299.4" y2="216.4" stroke="#333" stroke-width="0.7" />
<text x="295.8" y="218.5" font-size="5.8" fill="#4d4d4d" text-anchor="end" >TAMs</text>
<circle cx="307.6" cy="228" r="3.50" fill="#5cb7a8"/>
<circle cx="321.6" cy="228" r="2.50" fill="#4f6db8"/>
<circle cx="335.6" cy="228" r="4.70" fill="#c3e49a"/>
<circle cx="349.6" cy="228" r="4.70" fill="#e0533f"/>
<circle cx="363.6" cy="228" r="4.70" fill="#f8924e"/>
<circle cx="377.6" cy="228" r="3.50" fill="#86cfa5"/>
<circle cx="391.6" cy="228" r="3.50" fill="#c2e59c"/>
<line x1="296.6" y1="228" x2="299.4" y2="228" stroke="#333" stroke-width="0.7" />
<text x="295.8" y="230.1" font-size="5.8" fill="#4d4d4d" text-anchor="end" >GTCs</text>
<circle cx="307.6" cy="239.7" r="3.00" fill="#4d66b2"/>
<circle cx="321.6" cy="239.7" r="3.75" fill="#9fd7a1"/>
<circle cx="335.6" cy="239.7" r="4.75" fill="#fbfcb8"/>
<circle cx="349.6" cy="239.7" r="4.50" fill="#fafcb6"/>
<circle cx="363.6" cy="239.7" r="4.25" fill="#e9f5a2"/>
<circle cx="377.6" cy="239.7" r="3.25" fill="#5fbaa8"/>
<circle cx="391.6" cy="239.7" r="2.25" fill="#8ed3a4"/>
<line x1="296.6" y1="239.7" x2="299.4" y2="239.7" stroke="#333" stroke-width="0.7" />
<text x="295.8" y="241.8" font-size="5.8" fill="#4d4d4d" text-anchor="end" >Astro−like state</text>
<circle cx="307.6" cy="251.3" r="3.50" fill="#4da0b0"/>
<circle cx="321.6" cy="251.3" r="4.75" fill="#f06a43"/>
<circle cx="335.6" cy="251.3" r="4.75" fill="#f06a43"/>
<circle cx="349.6" cy="251.3" r="2.75" fill="#3f8bc0"/>
<circle cx="363.6" cy="251.3" r="2.25" fill="#4ba3b1"/>
<circle cx="377.6" cy="251.3" r="3.25" fill="#6bc4a5"/>
<circle cx="391.6" cy="251.3" r="1.75" fill="#4fb1a3"/>
<line x1="296.6" y1="251.3" x2="299.4" y2="251.3" stroke="#333" stroke-width="0.7" />
<text x="295.8" y="253.4" font-size="5.8" fill="#4d4d4d" text-anchor="end" >Oligo−like state</text>
<circle cx="307.6" cy="263" r="4.25" fill="#f0f6a8"/>
<circle cx="321.6" cy="263" r="4.75" fill="#f06a43"/>
<circle cx="335.6" cy="263" r="4.75" fill="#fdb96a"/>
<circle cx="349.6" cy="263" r="2.50" fill="#5c4faf"/>
<circle cx="363.6" cy="263" r="2.00" fill="#3f70b8"/>
<circle cx="377.6" cy="263" r="2.50" fill="#4a5fb0"/>
<circle cx="391.6" cy="263" r="1.50" fill="#4297b5"/>
<line x1="296.6" y1="263" x2="299.4" y2="263" stroke="#333" stroke-width="0.7" />
<text x="295.8" y="265.1" font-size="5.8" fill="#4d4d4d" text-anchor="end" >G1/S/G2/M</text>
<circle cx="307.6" cy="274.6" r="4.75" fill="#c2273f"/>
<circle cx="321.6" cy="274.6" r="4.00" fill="#9ed7a2"/>
<circle cx="335.6" cy="274.6" r="4.75" fill="#bfe29a"/>
<circle cx="349.6" cy="274.6" r="4.00" fill="#dcee96"/>
<circle cx="363.6" cy="274.6" r="4.50" fill="#feefa2"/>
<circle cx="377.6" cy="274.6" r="4.50" fill="#fde59a"/>
<circle cx="391.6" cy="274.6" r="4.75" fill="#fbfcbc"/>
<line x1="296.6" y1="274.6" x2="299.4" y2="274.6" stroke="#333" stroke-width="0.7" />
<text x="295.8" y="276.7" font-size="5.8" fill="#4d4d4d" text-anchor="end" >Endothelial cells</text>
<circle cx="307.6" cy="286.2" r="3.50" fill="#7fcba4"/>
<circle cx="321.6" cy="286.2" r="4.75" fill="#fdd27e"/>
<circle cx="335.6" cy="286.2" r="4.75" fill="#f5f9b4"/>
<circle cx="349.6" cy="286.2" r="3.00" fill="#5eb5a6"/>
<circle cx="363.6" cy="286.2" r="2.00" fill="#4398b6"/>
<circle cx="377.6" cy="286.2" r="3.25" fill="#76c7a5"/>
<circle cx="391.6" cy="286.2" r="1.50" fill="#4db3a2"/>
<line x1="296.6" y1="286.2" x2="299.4" y2="286.2" stroke="#333" stroke-width="0.7" />
<text x="295.8" y="288.3" font-size="5.8" fill="#4d4d4d" text-anchor="end" >stem−like state</text>
<circle cx="307.6" cy="297.9" r="4.25" fill="#e8f4a2"/>
<circle cx="321.6" cy="297.9" r="3.50" fill="#55baa1"/>
<circle cx="335.6" cy="297.9" r="4.25" fill="#71c3a3"/>
<circle cx="349.6" cy="297.9" r="4.50" fill="#fdd07c"/>
<circle cx="363.6" cy="297.9" r="4.00" fill="#ecf6a6"/>
<circle cx="377.6" cy="297.9" r="4.75" fill="#fdd07c"/>
<circle cx="391.6" cy="297.9" r="5.00" fill="#fdcf78"/>
<line x1="296.6" y1="297.9" x2="299.4" y2="297.9" stroke="#333" stroke-width="0.7" />
<text x="295.8" y="300" font-size="5.8" fill="#4d4d4d" text-anchor="end" >T cells</text>
<circle cx="307.6" cy="309.5" r="4.00" fill="#a5d9a1"/>
<circle cx="321.6" cy="309.5" r="3.75" fill="#5dbda4"/>
<circle cx="335.6" cy="309.5" r="4.75" fill="#e9f5a2"/>
<circle cx="349.6" cy="309.5" r="4.50" fill="#fde497"/>
<circle cx="363.6" cy="309.5" r="3.75" fill="#c1e49a"/>
<circle cx="377.6" cy="309.5" r="3.25" fill="#66c0a4"/>
<circle cx="391.6" cy="309.5" r="2.00" fill="#7dcba5"/>
<line x1="296.6" y1="309.5" x2="299.4" y2="309.5" stroke="#333" stroke-width="0.7" />
<text x="295.8" y="311.6" font-size="5.8" fill="#4d4d4d" text-anchor="end" >Astrocytes</text>
<circle cx="307.6" cy="321.2" r="3.50" fill="#48a0b2"/>
<circle cx="321.6" cy="321.2" r="3.00" fill="#3b8dc0"/>
<circle cx="335.6" cy="321.2" r="3.50" fill="#3b78bc"/>
<circle cx="349.6" cy="321.2" r="3.25" fill="#72c6a4"/>
<circle cx="363.6" cy="321.2" r="1.75" fill="#3e92bc"/>
<circle cx="377.6" cy="321.2" r="3.00" fill="#72c6a4"/>
<circle cx="391.6" cy="321.2" r="1.50" fill="#89d0a4"/>
<line x1="296.6" y1="321.2" x2="299.4" y2="321.2" stroke="#333" stroke-width="0.7" />
<text x="295.8" y="323.3" font-size="5.8" fill="#4d4d4d" text-anchor="end" >Oligodendrocytes</text>
<circle cx="307.6" cy="332.8" r="4.00" fill="#acdca0"/>
<circle cx="321.6" cy="332.8" r="4.00" fill="#93d3a2"/>
<circle cx="335.6" cy="332.8" r="3.00" fill="#5c48a9"/>
<circle cx="349.6" cy="332.8" r="2.50" fill="#3f7dc0"/>
<circle cx="363.6" cy="332.8" r="2.50" fill="#3289c2"/>
<circle cx="377.6" cy="332.8" r="3.75" fill="#e3f29e"/>
<circle cx="391.6" cy="332.8" r="2.00" fill="#4a9fb8"/>
<line x1="296.6" y1="332.8" x2="299.4" y2="332.8" stroke="#333" stroke-width="0.7" />
<text x="295.8" y="334.9" font-size="5.8" fill="#4d4d4d" text-anchor="end" >Neurons</text>
<rect x="299.4" y="209.6" width="100.10000000000002" height="129.6" fill="none" stroke="#333" stroke-width="0.9"/>
<line x1="307.6" y1="339.2" x2="307.6" y2="341.4" stroke="#333" stroke-width="0.7" />
<text x="309.9" y="343.3" font-size="6.1" fill="#4d4d4d" text-anchor="end" transform="rotate(-60 309.9 343.3)">Module 1</text>
<line x1="321.6" y1="339.2" x2="321.6" y2="341.4" stroke="#333" stroke-width="0.7" />
<text x="323.9" y="343.3" font-size="6.1" fill="#4d4d4d" text-anchor="end" transform="rotate(-60 323.9 343.3)">Module 6</text>
<line x1="335.6" y1="339.2" x2="335.6" y2="341.4" stroke="#333" stroke-width="0.7" />
<text x="337.9" y="343.3" font-size="6.1" fill="#4d4d4d" text-anchor="end" transform="rotate(-60 337.9 343.3)">Module 7</text>
<line x1="349.6" y1="339.2" x2="349.6" y2="341.4" stroke="#333" stroke-width="0.7" />
<text x="351.9" y="343.3" font-size="6.1" fill="#4d4d4d" text-anchor="end" transform="rotate(-60 351.9 343.3)">Module 4</text>
<line x1="363.6" y1="339.2" x2="363.6" y2="341.4" stroke="#333" stroke-width="0.7" />
<text x="365.9" y="343.3" font-size="6.1" fill="#4d4d4d" text-anchor="end" transform="rotate(-60 365.9 343.3)">Module 3</text>
<line x1="377.6" y1="339.2" x2="377.6" y2="341.4" stroke="#333" stroke-width="0.7" />
<text x="379.9" y="343.3" font-size="6.1" fill="#4d4d4d" text-anchor="end" transform="rotate(-60 379.9 343.3)">Module 5</text>
<line x1="391.6" y1="339.2" x2="391.6" y2="341.4" stroke="#333" stroke-width="0.7" />
<text x="393.9" y="343.3" font-size="6.1" fill="#4d4d4d" text-anchor="end" transform="rotate(-60 393.9 343.3)">Module 2</text>
<text x="411" y="247" font-size="7" fill="#1a1a1a" text-anchor="start" >avg.exp.</text>
<defs><linearGradient id="gd" x1="0" y1="0" x2="0" y2="1"><stop offset="0" stop-color="#9e0142"/><stop offset="0.12" stop-color="#d53e4f"/><stop offset="0.25" stop-color="#f46d43"/><stop offset="0.37" stop-color="#fdae61"/><stop offset="0.47" stop-color="#fee08b"/><stop offset="0.55" stop-color="#ffffbf"/><stop offset="0.64" stop-color="#e6f598"/><stop offset="0.74" stop-color="#abdda4"/><stop offset="0.84" stop-color="#66c2a5"/><stop offset="0.93" stop-color="#3288bd"/><stop offset="1" stop-color="#5e4fa2"/></linearGradient></defs>
<rect x="411" y="251" width="11.9" height="56.8" fill="url(#gd)" />
<line x1="411" y1="258.5" x2="413.2" y2="258.5" stroke="#fff" stroke-width="0.6" />
<line x1="420.7" y1="258.5" x2="422.9" y2="258.5" stroke="#fff" stroke-width="0.6" />
<text x="425.5" y="261" font-size="7" fill="#1a1a1a" text-anchor="start" >2</text>
<line x1="411" y1="273.2" x2="413.2" y2="273.2" stroke="#fff" stroke-width="0.6" />
<line x1="420.7" y1="273.2" x2="422.9" y2="273.2" stroke="#fff" stroke-width="0.6" />
<text x="425.5" y="275.7" font-size="7" fill="#1a1a1a" text-anchor="start" >1</text>
<line x1="411" y1="287.9" x2="413.2" y2="287.9" stroke="#fff" stroke-width="0.6" />
<line x1="420.7" y1="287.9" x2="422.9" y2="287.9" stroke="#fff" stroke-width="0.6" />
<text x="425.5" y="290.4" font-size="7" fill="#1a1a1a" text-anchor="start" >0</text>
<line x1="411" y1="302.6" x2="413.2" y2="302.6" stroke="#fff" stroke-width="0.6" />
<line x1="420.7" y1="302.6" x2="422.9" y2="302.6" stroke="#fff" stroke-width="0.6" />
<text x="425.5" y="305.1" font-size="7" fill="#1a1a1a" text-anchor="start" >−1</text>
<text x="479.3" y="219.6" font-size="14.5" fill="#2a2a2a" text-anchor="start" >g</text>
<text x="589.5" y="233" font-size="9.3" font-weight="bold" fill="#000" text-anchor="middle">Module 3-high TAMs</text>
<line x1="515" y1="235.4" x2="515" y2="339.3" stroke="#000" stroke-width="1.1" />
<line x1="514.5" y1="338.8" x2="685" y2="338.8" stroke="#000" stroke-width="1.1" />
<line x1="512.5" y1="260.6" x2="515" y2="260.6" stroke="#333" stroke-width="0.7" />
<text x="510.5" y="263.3" font-size="7.6" fill="#666" text-anchor="end" >0.6</text>
<line x1="512.5" y1="288.5" x2="515" y2="288.5" stroke="#333" stroke-width="0.7" />
<text x="510.5" y="291.2" font-size="7.6" fill="#666" text-anchor="end" >0.3</text>
<line x1="512.5" y1="316.4" x2="515" y2="316.4" stroke="#333" stroke-width="0.7" />
<text x="510.5" y="319.1" font-size="7.6" fill="#666" text-anchor="end" >0.0</text>
<line x1="561.3" y1="339" x2="561.3" y2="341.5" stroke="#333" stroke-width="0.7" />
<text x="561.3" y="350.5" font-size="8.3" fill="#4d4d4d" text-anchor="middle" >Macrophage</text>
<line x1="638.3" y1="339" x2="638.3" y2="341.5" stroke="#333" stroke-width="0.7" />
<text x="638.3" y="350.5" font-size="8.3" fill="#4d4d4d" text-anchor="middle" >Microglia</text>
<text x="493.2" y="288" font-size="8.2" fill="#1a1a1a" text-anchor="middle" transform="rotate(-90 493 288)">Enrichment score</text>
<path d="M561.40 253.60 L561.40 254.11 L561.40 254.62 L561.40 255.12 L561.40 255.63 L561.41 256.14 L561.41 256.65 L561.41 257.16 L561.41 257.67 L561.42 258.17 L561.42 258.68 L561.42 259.19 L561.43 259.70 L561.43 260.21 L561.44 260.71 L561.45 261.22 L561.45 261.73 L561.46 262.24 L561.47 262.75 L561.47 263.26 L561.48 263.76 L561.49 264.27 L561.50 264.78 L561.50 265.29 L561.51 265.80 L561.52 266.30 L561.53 266.81 L561.54 267.32 L561.55 267.83 L561.56 268.34 L561.57 268.85 L561.58 269.35 L561.60 269.86 L561.61 270.37 L561.62 270.88 L561.63 271.39 L561.64 271.89 L561.66 272.40 L561.67 272.91 L561.68 273.42 L561.70 273.93 L561.71 274.44 L561.73 274.94 L561.75 275.45 L561.77 275.96 L561.80 276.47 L561.83 276.98 L561.86 277.48 L561.90 277.99 L561.93 278.50 L561.98 279.01 L562.02 279.52 L562.07 280.03 L562.12 280.53 L562.18 281.04 L562.24 281.55 L562.31 282.06 L562.40 282.57 L562.52 283.07 L562.67 283.58 L562.85 284.09 L563.04 284.60 L563.24 285.11 L563.44 285.62 L563.65 286.12 L563.87 286.63 L564.10 287.14 L564.35 287.65 L564.62 288.16 L564.90 288.66 L565.19 289.17 L565.50 289.68 L565.82 290.19 L566.17 290.70 L566.55 291.21 L566.94 291.71 L567.36 292.22 L567.79 292.73 L568.23 293.24 L568.68 293.75 L569.12 294.25 L569.58 294.76 L570.04 295.27 L570.51 295.78 L570.99 296.29 L571.48 296.79 L571.99 297.30 L572.50 297.81 L573.03 298.32 L573.58 298.83 L574.14 299.34 L574.72 299.84 L575.32 300.35 L575.97 300.86 L576.65 301.37 L577.35 301.88 L578.08 302.38 L578.81 302.89 L579.54 303.40 L580.27 303.91 L580.99 304.42 L581.72 304.93 L582.46 305.43 L583.20 305.94 L583.95 306.45 L584.70 306.96 L585.45 307.47 L586.20 307.97 L586.94 308.48 L587.69 308.99 L588.45 309.50 L589.26 310.01 L590.09 310.52 L590.91 311.02 L591.70 311.53 L592.44 312.04 L593.10 312.55 L593.66 313.06 L594.15 313.56 L594.64 314.07 L595.07 314.58 L595.38 315.09 L595.50 315.60 L595.45 316.11 L595.31 316.61 L595.11 317.12 L594.85 317.63 L594.56 318.14 L594.23 318.65 L593.75 319.15 L593.12 319.66 L592.39 320.17 L591.57 320.68 L590.67 321.19 L589.53 321.70 L588.19 322.20 L586.71 322.71 L585.16 323.22 L583.58 323.73 L582.04 324.24 L580.61 324.74 L579.29 325.25 L577.97 325.76 L576.66 326.27 L575.37 326.78 L574.11 327.29 L572.87 327.79 L571.68 328.30 L570.54 328.81 L569.46 329.32 L568.43 329.83 L567.43 330.33 L566.47 330.84 L565.57 331.35 L564.72 331.86 L563.95 332.37 L563.24 332.88 L562.57 333.38 L561.96 333.89 L561.40 334.40 L561.00 334.40 L560.44 333.89 L559.83 333.38 L559.16 332.88 L558.45 332.37 L557.68 331.86 L556.83 331.35 L555.93 330.84 L554.97 330.33 L553.97 329.83 L552.94 329.32 L551.86 328.81 L550.72 328.30 L549.53 327.79 L548.29 327.29 L547.03 326.78 L545.74 326.27 L544.43 325.76 L543.11 325.25 L541.79 324.74 L540.36 324.24 L538.82 323.73 L537.24 323.22 L535.69 322.71 L534.21 322.20 L532.87 321.70 L531.73 321.19 L530.83 320.68 L530.01 320.17 L529.28 319.66 L528.65 319.15 L528.17 318.65 L527.84 318.14 L527.55 317.63 L527.29 317.12 L527.09 316.61 L526.95 316.11 L526.90 315.60 L527.02 315.09 L527.33 314.58 L527.76 314.07 L528.25 313.56 L528.74 313.06 L529.30 312.55 L529.96 312.04 L530.70 311.53 L531.49 311.02 L532.31 310.52 L533.14 310.01 L533.95 309.50 L534.71 308.99 L535.46 308.48 L536.20 307.97 L536.95 307.47 L537.70 306.96 L538.45 306.45 L539.20 305.94 L539.94 305.43 L540.68 304.93 L541.41 304.42 L542.13 303.91 L542.86 303.40 L543.59 302.89 L544.32 302.38 L545.05 301.88 L545.75 301.37 L546.43 300.86 L547.08 300.35 L547.68 299.84 L548.26 299.34 L548.82 298.83 L549.37 298.32 L549.90 297.81 L550.41 297.30 L550.92 296.79 L551.41 296.29 L551.89 295.78 L552.36 295.27 L552.82 294.76 L553.28 294.25 L553.72 293.75 L554.17 293.24 L554.61 292.73 L555.04 292.22 L555.46 291.71 L555.85 291.21 L556.23 290.70 L556.58 290.19 L556.90 289.68 L557.21 289.17 L557.50 288.66 L557.78 288.16 L558.05 287.65 L558.30 287.14 L558.53 286.63 L558.75 286.12 L558.96 285.62 L559.16 285.11 L559.36 284.60 L559.55 284.09 L559.73 283.58 L559.88 283.07 L560.00 282.57 L560.09 282.06 L560.16 281.55 L560.22 281.04 L560.28 280.53 L560.33 280.03 L560.38 279.52 L560.42 279.01 L560.47 278.50 L560.50 277.99 L560.54 277.48 L560.57 276.98 L560.60 276.47 L560.63 275.96 L560.65 275.45 L560.67 274.94 L560.69 274.44 L560.70 273.93 L560.72 273.42 L560.73 272.91 L560.74 272.40 L560.76 271.89 L560.77 271.39 L560.78 270.88 L560.79 270.37 L560.80 269.86 L560.82 269.35 L560.83 268.85 L560.84 268.34 L560.85 267.83 L560.86 267.32 L560.87 266.81 L560.88 266.30 L560.89 265.80 L560.90 265.29 L560.90 264.78 L560.91 264.27 L560.92 263.76 L560.93 263.26 L560.93 262.75 L560.94 262.24 L560.95 261.73 L560.95 261.22 L560.96 260.71 L560.97 260.21 L560.97 259.70 L560.98 259.19 L560.98 258.68 L560.98 258.17 L560.99 257.67 L560.99 257.16 L560.99 256.65 L560.99 256.14 L561.00 255.63 L561.00 255.12 L561.00 254.62 L561.00 254.11 L561.00 253.60 Z" fill="none" stroke="#cd5f2c" stroke-width="2.3" stroke-linejoin="round" stroke-linecap="round"/>
<path d="M638.60 240.50 L638.60 241.04 L638.61 241.57 L638.63 242.11 L638.65 242.65 L638.68 243.18 L638.71 243.72 L638.75 244.26 L638.79 244.79 L638.84 245.33 L638.89 245.86 L638.94 246.40 L638.99 246.94 L639.06 247.47 L639.15 248.01 L639.27 248.55 L639.41 249.08 L639.57 249.62 L639.76 250.16 L640.03 250.69 L640.38 251.23 L640.80 251.77 L641.27 252.30 L641.77 252.84 L642.28 253.38 L642.81 253.91 L643.39 254.45 L644.02 254.98 L644.68 255.52 L645.39 256.06 L646.11 256.59 L646.87 257.13 L647.63 257.67 L648.41 258.20 L649.19 258.74 L649.98 259.28 L650.77 259.81 L651.61 260.35 L652.51 260.89 L653.43 261.42 L654.36 261.96 L655.29 262.50 L656.18 263.03 L657.02 263.57 L657.79 264.11 L658.47 264.64 L659.14 265.18 L659.79 265.71 L660.43 266.25 L661.04 266.79 L661.61 267.32 L662.12 267.86 L662.57 268.40 L662.95 268.93 L663.23 269.47 L663.48 270.01 L663.72 270.54 L663.95 271.08 L664.15 271.62 L664.34 272.15 L664.49 272.69 L664.60 273.23 L664.67 273.76 L664.70 274.30 L664.70 274.83 L664.68 275.37 L664.66 275.91 L664.64 276.44 L664.60 276.98 L664.56 277.52 L664.51 278.05 L664.46 278.59 L664.41 279.13 L664.33 279.66 L664.19 280.20 L664.01 280.74 L663.77 281.27 L663.50 281.81 L663.19 282.35 L662.86 282.88 L662.49 283.42 L662.11 283.95 L661.66 284.49 L661.05 285.03 L660.30 285.56 L659.45 286.10 L658.53 286.64 L657.58 287.17 L656.64 287.71 L655.73 288.25 L654.91 288.78 L654.16 289.32 L653.41 289.86 L652.66 290.39 L651.92 290.93 L651.20 291.47 L650.51 292.00 L649.86 292.54 L649.27 293.07 L648.75 293.61 L648.30 294.15 L647.89 294.68 L647.52 295.22 L647.17 295.76 L646.85 296.29 L646.55 296.83 L646.25 297.37 L645.96 297.90 L645.68 298.44 L645.39 298.98 L645.09 299.51 L644.77 300.05 L644.44 300.59 L644.10 301.12 L643.76 301.66 L643.41 302.19 L643.07 302.73 L642.73 303.27 L642.39 303.80 L642.07 304.34 L641.77 304.88 L641.48 305.41 L641.22 305.95 L640.97 306.49 L640.72 307.02 L640.48 307.56 L640.24 308.10 L640.01 308.63 L639.80 309.17 L639.62 309.71 L639.46 310.24 L639.35 310.78 L639.27 311.32 L639.21 311.85 L639.15 312.39 L639.10 312.92 L639.06 313.46 L639.01 314.00 L638.98 314.53 L638.94 315.07 L638.91 315.61 L638.88 316.14 L638.86 316.68 L638.83 317.22 L638.81 317.75 L638.79 318.29 L638.77 318.83 L638.75 319.36 L638.73 319.90 L638.71 320.44 L638.69 320.97 L638.68 321.51 L638.66 322.04 L638.65 322.58 L638.63 323.12 L638.62 323.65 L638.61 324.19 L638.61 324.73 L638.60 325.26 L638.60 325.80 L638.20 325.80 L638.20 325.26 L638.19 324.73 L638.19 324.19 L638.18 323.65 L638.17 323.12 L638.15 322.58 L638.14 322.04 L638.12 321.51 L638.11 320.97 L638.09 320.44 L638.07 319.90 L638.05 319.36 L638.03 318.83 L638.01 318.29 L637.99 317.75 L637.97 317.22 L637.94 316.68 L637.92 316.14 L637.89 315.61 L637.86 315.07 L637.82 314.53 L637.79 314.00 L637.74 313.46 L637.70 312.92 L637.65 312.39 L637.59 311.85 L637.53 311.32 L637.45 310.78 L637.34 310.24 L637.18 309.71 L637.00 309.17 L636.79 308.63 L636.56 308.10 L636.32 307.56 L636.08 307.02 L635.83 306.49 L635.58 305.95 L635.32 305.41 L635.03 304.88 L634.73 304.34 L634.41 303.80 L634.07 303.27 L633.73 302.73 L633.39 302.19 L633.04 301.66 L632.70 301.12 L632.36 300.59 L632.03 300.05 L631.71 299.51 L631.41 298.98 L631.12 298.44 L630.84 297.90 L630.55 297.37 L630.25 296.83 L629.95 296.29 L629.63 295.76 L629.28 295.22 L628.91 294.68 L628.50 294.15 L628.05 293.61 L627.53 293.07 L626.94 292.54 L626.29 292.00 L625.60 291.47 L624.88 290.93 L624.14 290.39 L623.39 289.86 L622.64 289.32 L621.89 288.78 L621.07 288.25 L620.16 287.71 L619.22 287.17 L618.27 286.64 L617.35 286.10 L616.50 285.56 L615.75 285.03 L615.14 284.49 L614.69 283.95 L614.31 283.42 L613.94 282.88 L613.61 282.35 L613.30 281.81 L613.03 281.27 L612.79 280.74 L612.61 280.20 L612.47 279.66 L612.39 279.13 L612.34 278.59 L612.29 278.05 L612.24 277.52 L612.20 276.98 L612.16 276.44 L612.14 275.91 L612.12 275.37 L612.10 274.83 L612.10 274.30 L612.13 273.76 L612.20 273.23 L612.31 272.69 L612.46 272.15 L612.65 271.62 L612.85 271.08 L613.08 270.54 L613.32 270.01 L613.57 269.47 L613.85 268.93 L614.23 268.40 L614.68 267.86 L615.19 267.32 L615.76 266.79 L616.37 266.25 L617.01 265.71 L617.66 265.18 L618.33 264.64 L619.01 264.11 L619.78 263.57 L620.62 263.03 L621.51 262.50 L622.44 261.96 L623.37 261.42 L624.29 260.89 L625.19 260.35 L626.03 259.81 L626.82 259.28 L627.61 258.74 L628.39 258.20 L629.17 257.67 L629.93 257.13 L630.69 256.59 L631.41 256.06 L632.12 255.52 L632.78 254.98 L633.41 254.45 L633.99 253.91 L634.52 253.38 L635.03 252.84 L635.53 252.30 L636.00 251.77 L636.42 251.23 L636.77 250.69 L637.04 250.16 L637.23 249.62 L637.39 249.08 L637.53 248.55 L637.65 248.01 L637.74 247.47 L637.81 246.94 L637.86 246.40 L637.91 245.86 L637.96 245.33 L638.01 244.79 L638.05 244.26 L638.09 243.72 L638.12 243.18 L638.15 242.65 L638.17 242.11 L638.19 241.57 L638.20 241.04 L638.20 240.50 Z" fill="none" stroke="#4a8fd0" stroke-width="2.4" stroke-linejoin="round" stroke-linecap="round"/>
<text x="0" y="383" font-size="14" fill="#2a2a2a" text-anchor="start" >e</text>
<text x="30.7" y="394.8" font-size="12.1" font-weight="bold" fill="#000">Macrophage−microglia scale</text>
<path d="M53.4 443.8h0M97 449.6h0M53.6 466.5h0M107 463.5h0M54.9 473.3h0M59 477.2h0M50.8 474h0M50.8 476.5h0M59.9 450.8h0M54.3 475.2h0M94.2 482.4h0M93.7 443.5h0M96.6 464.1h0M65.2 447.3h0M44.6 449.9h0M90.7 453.4h0M61.1 473.7h0M98.8 448.2h0M80.5 450.8h0M87.2 490.5h0M80.5 474.6h0M98 443.1h0M74.5 480.1h0M67.1 464.5h0M87.7 483.1h0M53.4 471.2h0M51 458.9h0M53 446.1h0M45.2 442.9h0M106.2 453.1h0M103.8 457.6h0M68.1 447.6h0" stroke="#fbdccb" stroke-width="1.7" stroke-linecap="round" fill="none"/>
<path d="M41 456.4h0M45.6 457.1h0M43.8 454.6h0M45.4 452.7h0" stroke="#f4eeee" stroke-width="1.7" stroke-linecap="round" fill="none"/>
<path d="M73.5 463.9h0M87 467.7h0M73.6 427.4h0M76.7 433.5h0M77.1 495.5h0M98.2 467.9h0M69.7 490.3h0M66.5 484.2h0M106.6 447h0M56.2 479.7h0M92.8 457h0M98.4 455.8h0M91.8 439.5h0M64.3 460.2h0M101.8 437.3h0M76.4 462.8h0M86.2 492.7h0M108.8 444.3h0M83.2 457.8h0M60.4 470h0M77.2 479.2h0M84.7 460.4h0M63.6 467.7h0M77.7 485.2h0M91.1 436h0M98.4 435.1h0M51.2 423.5h0M72.3 447.2h0M81.2 459h0M82.9 473.3h0M65.3 492h0M77 457.2h0M57.6 426.8h0M76.7 462.3h0M97.9 444.2h0M84.1 484.1h0M84.8 448.5h0M88.7 452.8h0M77.6 437.7h0M78.1 447.3h0M99.2 473.4h0M104.9 441.2h0M61.6 478.6h0M68.7 471.3h0M82.4 483.9h0M69.1 490.4h0M65.6 480.4h0M76 493.1h0M95.1 477.4h0M64.5 446.6h0M48.7 420.9h0M92.8 434.8h0M105.4 455.8h0M68.1 460.2h0M57.6 429.8h0M71.5 493.1h0M63.9 464.8h0M106.5 452.5h0M70.6 431.7h0M63.8 463.7h0M69.7 494.5h0M91 489.5h0M80.4 477.9h0M103.6 451.8h0M65.3 431.8h0M96.8 443.2h0M105.4 440.7h0M62.7 458.1h0M57 470.3h0M77.1 446.5h0M67.6 442.8h0M88.4 446.3h0M73.6 457h0M94.7 477.8h0M91.4 487.5h0M55 427.6h0M98.9 456.9h0M79.7 447.4h0M56.2 471.5h0M62.2 470.9h0M87.7 446h0M62 435.2h0M94.4 462.9h0M96.3 468.6h0M65.8 439.9h0M79 459.3h0M59.2 455.3h0M62.9 473.8h0M61.7 431.5h0M98 444.4h0M68.3 459.4h0M73.9 474.2h0M74.6 481.5h0M84.6 462.6h0M81.7 449.5h0" stroke="#b2182b" stroke-width="1.7" stroke-linecap="round" fill="none"/>
<path d="M86.3 473.8h0M60 452.3h0M80.3 477.6h0M106.2 439.6h0M69.6 425.4h0M93.1 444.8h0M94.5 461.9h0M56.8 444h0M98.2 472.5h0M52.7 463.1h0M63.2 464.9h0M81.5 451.3h0M50.4 477.2h0M74.1 456.3h0M51.9 473.2h0M93.3 439.2h0M77.2 487.9h0M90 442.4h0M72.2 496.4h0M74.9 443.5h0M73.5 465.6h0M63.3 437.8h0M86 464.6h0M75.1 449.3h0M61.9 485.4h0M77.9 452.5h0M79.1 484.7h0M65 469.6h0M67.3 501.9h0M55.1 469.4h0M62.7 448.6h0" stroke="#d6604d" stroke-width="1.7" stroke-linecap="round" fill="none"/>
<path d="M35.7 463.8h0M35.2 468.9h0M39.2 468.5h0" stroke="#f2f2f2" stroke-width="1.7" stroke-linecap="round" fill="none"/>
<path d="M82.9 473.8h0M71.1 471h0M50 442.4h0M59.4 463.3h0M69.9 490.5h0M89.3 487.4h0M69.1 439.1h0M88.7 444.6h0M102.5 462h0M110 446.8h0M67.1 469.2h0M56.7 455.1h0M67.7 474.2h0M60.6 453.2h0M81.9 482.8h0M57.6 451.6h0M92.4 469h0M54.7 425h0M55.4 475h0M62.7 451.9h0M104.5 436.1h0M68.1 472.1h0M67.1 457.2h0M60.8 458h0M81.8 450.4h0M68.4 488.7h0M61 488.4h0M93.4 433.4h0M91.3 476h0M88.8 445.9h0M72.7 494h0M68.2 498.7h0M71.4 455.6h0M64 485.9h0M61 471.6h0M80.9 484.5h0M58.7 457.9h0M61.1 473.1h0M62.9 463.6h0M60.2 465.6h0M64.4 489.1h0" stroke="#f4a582" stroke-width="1.7" stroke-linecap="round" fill="none"/>
<path d="M36.7 464.2h0" stroke="#c6dcea" stroke-width="1.7" stroke-linecap="round" fill="none"/>
<path d="M46.2 465.8h0" stroke="#c6dcea" stroke-width="1.7" stroke-linecap="round" fill="none"/>
<path d="M40.9 462.3h0M41.1 466.2h0" stroke="#fbdccb" stroke-width="1.7" stroke-linecap="round" fill="none"/>
<path d="M43.8 455.7h0M43.6 464.4h0M40.4 455.4h0M40.6 473.2h0M39.9 456.4h0" stroke="#f4eeee" stroke-width="1.7" stroke-linecap="round" fill="none"/>
<path d="M36.3 460.4h0" stroke="#4393c3" stroke-width="1.7" stroke-linecap="round" fill="none"/>
<path d="M49.4 441.2h0M87.5 456.4h0M52.4 465.8h0M44 446.6h0M62.6 450.9h0M48.9 445.7h0M50.6 461.2h0M51.1 442h0M43.5 449.8h0M88.4 472.7h0M56.3 452.9h0M50.2 450.3h0M84.1 452.1h0M85.1 443.2h0M79.9 446.1h0M41.3 449.2h0M43.3 451.4h0M52.1 466.5h0M75.9 488.5h0M52.7 451.7h0M102 439.5h0M52.4 454.9h0M95.3 446.7h0M79.5 493.8h0M50.9 466.7h0M79.3 492.6h0M65.6 489.2h0M49.8 468.4h0M73.7 434.7h0M80.8 465.3h0M49.6 472.9h0M48.9 455h0" stroke="#fbdccb" stroke-width="1.7" stroke-linecap="round" fill="none"/>
<path d="M41.4 473.4h0M40.8 459.6h0" stroke="#c6dcea" stroke-width="1.7" stroke-linecap="round" fill="none"/>
<path d="M83.5 453.3h0M57.5 483.2h0M72.8 465.5h0M105.7 449.4h0M69.2 437.3h0M51.6 450.9h0M95.7 481.8h0M91.4 455.8h0M60.7 437.1h0M109.3 440.9h0M48.5 461.1h0M80.5 462.7h0M84.3 451.4h0M57.3 428.9h0M82.6 451.5h0M53.2 427.1h0M54.5 477.7h0M53.6 478.9h0M108.8 451.1h0M63.7 457h0M52.5 467.8h0M69.4 483h0M56 472.5h0M65.5 443.2h0M90.4 490.7h0M61.7 440h0M111.2 445.7h0M103.6 463.3h0M57.9 430.8h0M83.8 445.3h0M59.8 463.2h0M72.7 476.1h0" stroke="#d6604d" stroke-width="1.7" stroke-linecap="round" fill="none"/>
<path d="M38.2 473.7h0" stroke="#c6dcea" stroke-width="1.7" stroke-linecap="round" fill="none"/>
<path d="M56 457.6h0M63.1 452.3h0M90.7 456.5h0M97.3 448.3h0M82.2 442.9h0M90.1 443.7h0M78.9 464.7h0M71 444.9h0M63.5 474.2h0M82.5 477.8h0M100.9 436.1h0M77 493.6h0M90.3 485.3h0M99.5 479.2h0M75.5 443.9h0M74.1 491.2h0M79.5 465.7h0M88.9 447.8h0M87 442.9h0M83.1 450h0M102 469.8h0M90.5 445h0M69.8 485.9h0M56.6 455.4h0M93.7 474.9h0M47.3 460.5h0M60.9 468.2h0M73.9 437.7h0M78.1 482.5h0M89.3 453.9h0M56 471h0M102.4 437.4h0M98.7 478.9h0M75.8 494.4h0M87.2 452.7h0M55.6 451h0M75.6 489.1h0M78.4 459.5h0M58.3 461.6h0M79.6 484.7h0M76.8 482.1h0M68.1 473.4h0" stroke="#f4a582" stroke-width="1.7" stroke-linecap="round" fill="none"/>
<path d="M34.5 466.3h0M37.5 466.6h0M33.9 460.9h0" stroke="#f2f2f2" stroke-width="1.7" stroke-linecap="round" fill="none"/>
<path d="M73.6 427.2h0M57.6 464.6h0M61.6 429.4h0M70.4 458.7h0M80.6 481.9h0M78.3 427.6h0M49.4 462.9h0M60.7 467.8h0M68.6 447.1h0M98.5 443.4h0M54.3 427.6h0M56.2 430h0M58.3 437.7h0M57.8 464.5h0M100.7 455.9h0M83.9 472.9h0M87.9 469.7h0M70.5 436.1h0M106.9 445h0M58.2 427.2h0M68.1 448.3h0M75.1 434h0M73.5 430h0M67.1 460.5h0M104.5 454.9h0M76.9 469.3h0M68.1 450.6h0M59.7 429.3h0M93.1 442.5h0M77 465.3h0M72.6 481.1h0M79.9 435.3h0M97.1 436.6h0M77.7 431h0M67.7 427h0M52.2 422.1h0M90.1 461.2h0M70.8 474.8h0M90.9 463.8h0M67 501.3h0M88 459.3h0M88.3 467.6h0M78.3 471.4h0M78.1 431.2h0M94.5 464.1h0M81.2 468h0M90.9 446.5h0M93.9 472.1h0M89.6 468.2h0M75.6 449h0M59.5 426.3h0M59.7 462.5h0M70.9 493.2h0M64.6 481.8h0M104.3 453.4h0M89.2 471.4h0M68.1 485.1h0M63.6 453.5h0M63.2 457.4h0M67 463.1h0M107.5 454.9h0M67.1 435.8h0M61.9 460.9h0M78 478h0M80.2 486.8h0M99.9 454.9h0M70.1 491.8h0M98 436h0M78.4 493.5h0M79.2 432.7h0M53.6 426.4h0M76.5 483.8h0M75.8 480.4h0M107.4 438.3h0M81.1 456.5h0M86.3 441.5h0M79 489.1h0M83.3 442.5h0M84.5 463h0M70.7 481.3h0M68.5 495.5h0M78.3 471.8h0M86.9 455.7h0M68.4 475.8h0M70.3 488.5h0M88.5 440.7h0M57.8 460.8h0M81.6 451.2h0M65.2 456.6h0M80.7 480.8h0M87.7 490.5h0M67.1 467.6h0M82.1 438.4h0M77.8 483.2h0M61.8 434.7h0" stroke="#b2182b" stroke-width="1.7" stroke-linecap="round" fill="none"/>
<path d="M43.5 456.4h0M41.9 453.1h0M44.2 473h0" stroke="#fbdccb" stroke-width="1.7" stroke-linecap="round" fill="none"/>
<path d="M44.3 456.1h0" stroke="#4393c3" stroke-width="1.7" stroke-linecap="round" fill="none"/>
<path d="M75.7 433.6h0M64.6 454.9h0M96.9 472.7h0M92.1 434.9h0M67.8 478.9h0M74.3 488.6h0M63.4 455h0M94.3 480h0M66.4 463.6h0M92.2 481.7h0M83.9 452h0M110.3 442.9h0M93.6 446.2h0M94 471.8h0M88 468.7h0M59.2 456.5h0M78.7 439h0M65.4 435.6h0M101.7 448.9h0M91.8 457.9h0M79.5 431h0M87.2 446.1h0M71.3 427.3h0M68.9 461.1h0M98.3 469.9h0M91.3 449.1h0M74.6 486.1h0M50.8 471.6h0M60.4 444.8h0M102.2 439.9h0M84.9 436.2h0M92.9 490.3h0M69.3 500.8h0M64.4 448.5h0M81.6 458.2h0M65.2 498.4h0M64.1 442.2h0M78.9 484.2h0M73 480.6h0M77.7 488.6h0M66.5 464.6h0M96.1 465.9h0M79 433.1h0M101.3 456.7h0M91.4 464.3h0M103.1 444.2h0M77.6 484h0M91.8 435h0M64.6 432h0M83.5 483h0M74.2 482.1h0M62.7 483.9h0M104 438.1h0M54.4 424.3h0M81.2 477.1h0M79.6 444.7h0M65.7 426.4h0M50.2 419.9h0M87.6 491.1h0M70.4 474.7h0M80.7 440.8h0M51.3 469.4h0M71.5 451.3h0M89.7 465.8h0M69.2 427.7h0M90.6 448.2h0M96 479.5h0M107.1 437.8h0M70.3 500.5h0M63.5 444.3h0M85.4 481.9h0M85.5 451.1h0M63.6 484.3h0M102.2 465h0M85.1 465.6h0M82.9 438.9h0M107.4 452.1h0M66.1 472h0M83.1 433.7h0M76.8 457.9h0M63.5 451.6h0M102.7 456.8h0M76.1 448.1h0M81.2 476.6h0M80.7 434.8h0M88.6 454.9h0M85.1 451.2h0M95.5 474.9h0M68.1 447.6h0M92.9 442.7h0M64.7 453.8h0M73.9 446.2h0M65.6 477.9h0M89.6 469.1h0M94.1 438.4h0" stroke="#b2182b" stroke-width="1.7" stroke-linecap="round" fill="none"/>
<path d="M42.9 470.3h0M39.8 470.1h0" stroke="#c6dcea" stroke-width="1.7" stroke-linecap="round" fill="none"/>
<path d="M39.3 461.6h0" stroke="#4393c3" stroke-width="1.7" stroke-linecap="round" fill="none"/>
<path d="M35.9 466.7h0" stroke="#c6dcea" stroke-width="1.7" stroke-linecap="round" fill="none"/>
<path d="M35.8 470.1h0" stroke="#4393c3" stroke-width="1.7" stroke-linecap="round" fill="none"/>
<path d="M81.8 470.7h0M60 455.3h0M88.5 441.2h0M83 445.4h0M63.5 444h0M74.8 466.5h0M66 456h0M74.3 450.7h0M110.4 441.1h0M66.4 502.4h0M94.7 484.8h0M55.5 463.8h0M57.9 453.7h0M76.2 448.8h0M64.8 429.9h0M60.1 485h0M64.9 487.6h0M73.3 485.4h0M99.1 479.7h0M92 445.9h0M65.5 488.2h0M92.5 445.9h0M65.7 452.2h0M76.7 457.4h0M95.4 444.8h0M93.9 469.8h0M67 449.1h0M79.4 428.9h0M74.8 445.7h0M63.3 454.3h0M102.4 439.4h0M62.5 426.6h0M52.6 444.2h0M62.7 441.3h0M60.1 443.8h0M60.7 463.6h0M73.4 476.5h0M99.2 450.4h0M53.4 443.5h0M67.1 466.2h0M85.3 447h0M77.2 457.2h0" stroke="#f4a582" stroke-width="1.7" stroke-linecap="round" fill="none"/>
<path d="M93.4 473.1h0M48.8 476.7h0M47 461.4h0M107.3 452.6h0M49.7 455.6h0M48.1 460.7h0M79.8 436.8h0M51.5 476.2h0M56.5 476.8h0M103.4 435.7h0M55.3 462.4h0M83.6 489h0M70.6 461.6h0M51.5 446.2h0M57.3 459.3h0M87 452.4h0M59.1 450.8h0M71.4 463.3h0M77.8 459.7h0M54.2 469.8h0M58.1 468.7h0M100.9 436h0M69.6 491.7h0M84.1 464.8h0M54.7 440.9h0M109.5 458.7h0M52.5 458.2h0M59.8 452.6h0M99.8 442h0M83.8 457.6h0M109.7 452.8h0M81.7 470.5h0" stroke="#d6604d" stroke-width="1.7" stroke-linecap="round" fill="none"/>
<path d="M40.5 472h0M40.4 471.2h0M40.3 458.7h0M45.8 467.1h0M39.7 464.1h0" stroke="#f4eeee" stroke-width="1.7" stroke-linecap="round" fill="none"/>
<path d="M33 461h0M37.1 468.9h0M35.6 472h0" stroke="#f2f2f2" stroke-width="1.7" stroke-linecap="round" fill="none"/>
<path d="M44.5 469.4h0M42.1 458.7h0M46.8 456h0" stroke="#fbdccb" stroke-width="1.7" stroke-linecap="round" fill="none"/>
<path d="M57.1 455h0M43.6 449.1h0M85.1 440.9h0M51.1 442.3h0M108 456.5h0M51.2 455.2h0M52.9 444.6h0M93 446.7h0M62.7 443.3h0M71.5 430.9h0M76.3 475h0M47.3 457.5h0M61.8 454h0M106.5 452.3h0M55.7 456.4h0M82.3 483.7h0M73.4 472.6h0M84.3 461.7h0M108 455.6h0M93.2 471.4h0M51.4 453.4h0M83 469.7h0M90 461.8h0M54.2 480.6h0M56.4 463.1h0M88.5 479.1h0M60.2 438.4h0M70.4 426.2h0M67.8 478.8h0M51.3 450h0M107.5 436.3h0M93.6 464.7h0M54.5 447.6h0" stroke="#fbdccb" stroke-width="1.7" stroke-linecap="round" fill="none"/>
<path d="M33.7 467h0" stroke="#2166ac" stroke-width="1.7" stroke-linecap="round" fill="none"/>
<path d="M40 466.9h0M44.9 460.8h0M46.6 474.1h0M43.9 453.2h0" stroke="#f4eeee" stroke-width="1.7" stroke-linecap="round" fill="none"/>
<path d="M65.4 469h0M95.3 482.1h0M46.2 443.8h0M65.5 443.4h0M93 446.5h0M90.5 447.5h0M80.1 454.2h0M72.5 441.5h0M94.9 433.8h0M54.3 439.9h0M85.2 470.9h0M54.8 446h0M76.1 445.9h0M72.1 437.3h0M75.7 492.3h0M91.8 447.7h0M82.7 484.8h0M85.5 472.6h0M94.5 465.6h0M64 474h0M84.9 444.1h0M55.1 458.7h0M57.1 472.7h0M51.4 459.1h0M90.3 474.3h0M95.2 461.3h0M47.3 453h0M97.7 438.6h0M89.1 454.4h0M98.1 460h0M68 442.7h0M113.3 441.3h0" stroke="#d6604d" stroke-width="1.7" stroke-linecap="round" fill="none"/>
<path d="M38.9 462.5h0M42.3 463.7h0" stroke="#c6dcea" stroke-width="1.7" stroke-linecap="round" fill="none"/>
<path d="M98.8 456.5h0M108.1 448.7h0M100.7 458.1h0M83.9 491.8h0M87.1 458.3h0M63.5 465.5h0M71 468.3h0M61.5 469h0M67 451.8h0M88.5 470.9h0M76.7 486.2h0M87.4 480.7h0M66 491.3h0M70.1 493h0M64.7 433.4h0M68.9 449.4h0M68.7 426.5h0M87.3 471.5h0M92.2 464.7h0M67.4 440.3h0M67.4 483.2h0M67.6 461.2h0M63 454.6h0M84 450.8h0M67.9 463.8h0M109.6 451.5h0M65.7 499h0M98.5 447.8h0M67.4 480.9h0M93.1 489.8h0M51.3 423.2h0M67.9 443.3h0M81.9 447.2h0M97.5 472.2h0M71.1 476.1h0M67.1 451.4h0M68 434.4h0M78 427.4h0M75.7 461.2h0M79.3 428.9h0M54.8 426.3h0M99.9 466.6h0M102.4 437.8h0M69.4 444.7h0M70.2 469.8h0M70 426.6h0M78.2 438.9h0M96.8 479.1h0M81.4 487.2h0M69.7 486.4h0M103.6 468.1h0M82.9 460.4h0M55.5 423.3h0M90.9 487.1h0M83.2 492.8h0M93.5 471.7h0M86.2 442.2h0M80.7 443h0M68.3 496.6h0M92.6 465.9h0M74 496.6h0M89.1 451.3h0M86.8 473.7h0M112.3 441.9h0M98.9 446.1h0M72 438.6h0M64 434.9h0M62.1 451.9h0M101.3 468.4h0M73.3 495.1h0M77.8 464.6h0M63.8 469.3h0M82.3 475.9h0M83.6 466.6h0M77.9 491.6h0M80.1 490.5h0M107.9 452.7h0M78.8 463.6h0M58.1 433.9h0M69.5 451.7h0M81.8 484.9h0M68.5 501h0M67.7 425.6h0M99.6 468.6h0M107.4 458.3h0M64.3 444.1h0M63.5 490.4h0M65.3 431.1h0M64.5 471.1h0M64.1 485.3h0M74.8 455.6h0M90 445.4h0M69.8 467.7h0M73.2 467.1h0M66.8 425.2h0M88.5 474.9h0" stroke="#b2182b" stroke-width="1.7" stroke-linecap="round" fill="none"/>
<path d="M36.9 462.2h0" stroke="#c6dcea" stroke-width="1.7" stroke-linecap="round" fill="none"/>
<path d="M37.9 472.1h0M36.2 469.7h0M36.7 463.1h0" stroke="#f2f2f2" stroke-width="1.7" stroke-linecap="round" fill="none"/>
<path d="M73 444.9h0M79.5 472.9h0M85.6 493.6h0M97.2 433.3h0M50.4 459.9h0M98.4 478.6h0M51.6 460.3h0M53.8 474.7h0M97.6 467h0M106.3 447.8h0M49.8 467.3h0M57.4 452.9h0M51.9 455.4h0M51.2 463.2h0M54.6 447.8h0M48.8 463.6h0M82.7 474.2h0M58 460h0M85.7 454.3h0M97.5 450.7h0M100 441.5h0M107.5 448.6h0M57.3 460.3h0M61.5 482.8h0M83.7 463.6h0M53.2 455.1h0M64.6 467.4h0M54.3 478.6h0M67.9 494.7h0M47.1 470.6h0M49.6 474.7h0M45.1 445h0" stroke="#fbdccb" stroke-width="1.7" stroke-linecap="round" fill="none"/>
<path d="M45.3 476h0" stroke="#4393c3" stroke-width="1.7" stroke-linecap="round" fill="none"/>
<path d="M37.7 468.2h0" stroke="#4393c3" stroke-width="1.7" stroke-linecap="round" fill="none"/>
<path d="M110 442.4h0M61.5 452.4h0M90.6 465.7h0M103.2 466.1h0M99.1 454.5h0M83.9 439.3h0M58.8 478.1h0M85.9 449.1h0M78.9 434.9h0M90.5 491.8h0M59 480.5h0M89.3 470.3h0M59.7 480.2h0M97.3 436.3h0M103.6 435.6h0M59.1 446.5h0M79.9 455.1h0M59.2 452.7h0M95.9 442.8h0M84.2 444.4h0M66.4 440.1h0M56 446.5h0M80 476.1h0M108.3 444.1h0M82.4 441.7h0M109.8 437.1h0M106.2 443.1h0M69.3 445.4h0M102.1 441.7h0M85.7 491h0M91.2 484.7h0M61.7 465h0M47.2 454.2h0M97.8 466.1h0M81.7 494.8h0M75.6 469.7h0M84 457.6h0M73.4 482.8h0M55.5 466.8h0M63.8 484.9h0M73.9 496.3h0" stroke="#f4a582" stroke-width="1.7" stroke-linecap="round" fill="none"/>
<path d="M43.3 471.8h0M38.4 460.7h0" stroke="#fbdccb" stroke-width="1.7" stroke-linecap="round" fill="none"/>
<path d="M112.4 443.1h0M66.8 477.9h0M105.4 461.5h0M101.2 464.9h0M69.9 426h0M57.3 465.5h0M101.8 435h0M57 424.1h0M74.6 479.2h0M106.4 440.6h0M107.8 457.9h0M105.4 464.6h0M67.1 496.7h0M81.7 494.7h0M76.6 486.2h0M80.8 461.8h0M99.6 447.3h0M55.4 477.2h0M54.4 426.7h0M59.3 455.5h0M61.3 443.9h0M106.8 447.2h0M102.5 462.9h0M82.3 486.6h0M60.6 450h0M94 452.7h0M81.4 457.7h0M57.1 468.2h0M86.4 448h0M84.1 461.4h0M88.1 484.4h0M60.3 474.6h0M75.5 478.8h0M67.2 502.5h0M54.4 480.8h0M57.3 439.6h0M78.4 466.7h0M85.6 486.7h0M95.4 450.3h0M48.6 472.5h0M57.9 440.5h0M58.4 442.8h0" stroke="#f4a582" stroke-width="1.7" stroke-linecap="round" fill="none"/>
<path d="M87.8 484.8h0M90.9 484.8h0M107.9 449.7h0M88.4 453.9h0M95.2 475h0M91.3 448.9h0M59.6 433h0M73.1 456.2h0M58.1 433.7h0M77.6 445.3h0M68.8 472.8h0M73.1 433.2h0M99.4 463.4h0M98.3 471.4h0M59.2 448.3h0M94.2 455.9h0M95 473.5h0M78.5 429.2h0M97.8 455.8h0M82.9 431.6h0M65.9 470.5h0M108.1 455.2h0M69.7 446.5h0M105.3 448.7h0M70.1 442.2h0M92.2 457.7h0M65.2 452.1h0M55.2 423.1h0M53.3 424.4h0M68.3 488.5h0M75.2 469.3h0M78.1 482.2h0M66.5 467.9h0M62.5 484.3h0M78.6 470.3h0M82.6 473.8h0M71.7 498.8h0M70.8 493.5h0M94.3 477.3h0M110.2 437.1h0M82.2 469.5h0M99 448.2h0M78.5 432.5h0M94.6 484.6h0M79.4 481.1h0M101.7 451.5h0M97 452.3h0M65 430.2h0M69.8 450.4h0M97 454h0M66.1 434.6h0M69.4 489.5h0M78.6 431h0M78.5 462.1h0M72.2 430.6h0M78.9 489.2h0M64 482.3h0M94.4 473.6h0M59.4 433.6h0M62.1 428.7h0M107.7 462.1h0M88.4 464.2h0M68.7 431.4h0M75.4 429h0M78.7 487.3h0M90.5 486h0M67.5 459h0M77.1 441.6h0M86.9 478.4h0M95.2 452.6h0M81.1 448.3h0M84.1 474.6h0M93.8 478.7h0M70.6 462.6h0M60 428.9h0M71.1 454h0M84.5 454h0M80.7 440h0M89.5 474.6h0M78.7 463.9h0M67.8 432.6h0M75 481.2h0M81.2 489.3h0M94.6 468.1h0M75.1 426.7h0M71.7 497.1h0M52.6 422.5h0M46.8 444.8h0M90.5 482.9h0M57.3 464.5h0M85.2 470.5h0M69.4 452.9h0M95.4 448.1h0M88.5 489.6h0M105.1 461.4h0" stroke="#b2182b" stroke-width="1.7" stroke-linecap="round" fill="none"/>
<path d="M48.4 445.1h0M88.2 475.7h0M75 450.8h0M105.5 463.3h0M74.4 446.7h0M101.2 443h0M48.1 455.6h0M92.7 452.8h0M68.8 500.9h0M98.2 457.6h0M74.9 438.2h0M87.7 485.8h0M46.3 444.8h0M51.1 465.8h0M50.6 453.6h0M48.6 472.5h0M63.9 452.2h0M48.1 474.6h0M96 447.8h0M68.5 435.4h0M68.1 487.5h0M49.8 471.2h0M97.1 475.1h0M57.6 453.7h0M93.6 487.8h0M55.4 456.5h0M63.4 439h0M63.6 449.9h0M41.9 445.9h0M77 445.7h0M48.5 475.6h0M62.1 447.9h0M46.4 447.3h0" stroke="#fbdccb" stroke-width="1.7" stroke-linecap="round" fill="none"/>
<path d="M42.2 452.6h0M40.8 469.8h0" stroke="#c6dcea" stroke-width="1.7" stroke-linecap="round" fill="none"/>
<path d="M41.7 460.1h0" stroke="#4393c3" stroke-width="1.7" stroke-linecap="round" fill="none"/>
<path d="M45.7 471.8h0M40.1 471.3h0M41.7 457.2h0M46.9 460.1h0M42.2 470.4h0" stroke="#f4eeee" stroke-width="1.7" stroke-linecap="round" fill="none"/>
<path d="M37.5 469.9h0" stroke="#c6dcea" stroke-width="1.7" stroke-linecap="round" fill="none"/>
<path d="M35.4 470.1h0M33.9 468.9h0M38.6 474.2h0" stroke="#f2f2f2" stroke-width="1.7" stroke-linecap="round" fill="none"/>
<path d="M76.4 434.3h0M87.4 443h0M53.5 476.8h0M98.4 433.9h0M85 457h0M99.9 459h0M97.5 451.1h0M50.2 472.8h0M50.7 459.4h0M78.2 444h0M91 477.3h0M77.8 432h0M48.8 458.2h0M58.3 476.9h0M54.6 454.2h0M53 468.5h0M91.3 439.4h0M99.3 453.6h0M54.6 444.4h0M65.1 446.5h0M65.4 439.2h0M109.6 451.4h0M113.1 445.5h0M84.8 448.7h0M57.4 440.4h0M44.6 446.5h0M65 480.2h0M77.4 440.5h0M90.5 482.5h0M77.8 452.4h0M78.5 492.7h0" stroke="#d6604d" stroke-width="1.7" stroke-linecap="round" fill="none"/>
<path d="M45.8 469.6h0M46.1 475.6h0M42.1 471.3h0" stroke="#fbdccb" stroke-width="1.7" stroke-linecap="round" fill="none"/>
<path d="M32 464h0" stroke="#c6dcea" stroke-width="1.7" stroke-linecap="round" fill="none"/>
<path d="M66 426.6h0M60.2 453.5h0M73.8 475.6h0M78.3 442.3h0M67 486.2h0M64 444.8h0M82.6 463.3h0M94.9 451.7h0M87.8 462.6h0M65.2 489.9h0M69.8 491.5h0M69.2 438.1h0M100 440h0M87.5 462.7h0M104.7 463.8h0M90.8 475.9h0M62.7 424.2h0M93.3 463h0M62.6 433.3h0M107.1 447.2h0M70.3 463.3h0M112.7 442h0M69.3 439.3h0M64.7 442.3h0M83.8 476.9h0M90 434.8h0M81.4 457.3h0M77.7 492.7h0M62.4 472.7h0M73.7 488h0M76.6 495.3h0M78.3 444.1h0M65.9 463h0M109.8 451.1h0M84.5 459.6h0M75.2 432.6h0M64.6 462.5h0M86.2 463.8h0M99.6 455.1h0M77.8 461h0M89.5 453.5h0M98.6 451.2h0M88.1 491.5h0M75.8 456h0M62.3 461.9h0M55.7 460.3h0M68.8 432.5h0M90.6 485.5h0M87.3 449.9h0M75.2 486.5h0M69.5 444h0M104.4 448.6h0M76 486.7h0M71.7 440.4h0M78.7 471.4h0M86.2 465.2h0M95.6 473.2h0M97.2 481.8h0M69.6 440h0M111 438.5h0M91.5 461.6h0M79.9 470.4h0M66.8 479.3h0M69.9 483.5h0M99.7 447.5h0M87 463.1h0M111 449.9h0M85.2 483.9h0M79.5 491.4h0M89.7 477.7h0M70.4 452.3h0M81.3 491.9h0M97.4 482.7h0M86.4 446.1h0M49.8 421.1h0M103 438.4h0M80.6 460.8h0M111 451.3h0M65.9 465.9h0M101.6 469.2h0M71.5 486.6h0M109.4 437.4h0M54.1 443.7h0M99.8 454.4h0M65.8 456.1h0M73.8 486.9h0M65.7 475.6h0M71.8 459.9h0M100.5 476.4h0M75.5 431.7h0M75.5 478.5h0M101.3 437.7h0M88.9 481.3h0M86.5 440.5h0M74.9 485.4h0" stroke="#b2182b" stroke-width="1.7" stroke-linecap="round" fill="none"/>
<path d="M44.8 472.7h0M40.6 466.4h0" stroke="#c6dcea" stroke-width="1.7" stroke-linecap="round" fill="none"/>
<path d="M40.6 464.9h0M39.9 468.2h0M43.6 455.5h0" stroke="#fbdccb" stroke-width="1.7" stroke-linecap="round" fill="none"/>
<path d="M44.3 454.7h0" stroke="#4393c3" stroke-width="1.7" stroke-linecap="round" fill="none"/>
<path d="M51.6 475.8h0M88.8 458h0M62.6 459.6h0M107.8 449.3h0M50.8 476h0M101.1 450h0M57.6 449.3h0M73.9 465.4h0M107.8 437h0M89.6 485.2h0M64.7 474.7h0M69.9 486h0M50.6 459.2h0M58.3 464.7h0M89.1 482h0M89.6 468.5h0M59 437.9h0M74.8 435.9h0M76.7 458.3h0M47.3 446.5h0M56.2 463.6h0M103.9 469.1h0M58.2 437.7h0M58.4 426.8h0M55 462.5h0M68.3 495.1h0M49.5 456.8h0M93.2 461.7h0M53 459.1h0M53.5 464.6h0M70.6 444.8h0M52.1 464.6h0" stroke="#d6604d" stroke-width="1.7" stroke-linecap="round" fill="none"/>
<path d="M35.1 461.9h0M33.6 467.9h0M38 459.2h0" stroke="#f2f2f2" stroke-width="1.7" stroke-linecap="round" fill="none"/>
<path d="M63.2 479.2h0M110.1 449.2h0M65.2 443h0M98.8 455.6h0M98.9 457.2h0M53.3 478.9h0M59.4 485.7h0M47 445.1h0M69.5 492.1h0M54.9 446.5h0M66.1 471.4h0M96 444.8h0M50.1 461.4h0M88.1 460.5h0M48.1 458.2h0M71.6 473.8h0M50.5 461h0M84.3 477.5h0M98.2 471.6h0M47.4 462.8h0M51.1 462.1h0M47.9 450h0M106.1 447.5h0M89.8 475.6h0M52.5 440.2h0M50.5 446.5h0M60.8 449.7h0M72.7 440.9h0M54.6 457.2h0M71.8 497.7h0M45.1 450.1h0M109.1 445.5h0" stroke="#fbdccb" stroke-width="1.7" stroke-linecap="round" fill="none"/>
<path d="M39.6 472.7h0" stroke="#4393c3" stroke-width="1.7" stroke-linecap="round" fill="none"/>
<path d="M34.9 467.3h0" stroke="#2166ac" stroke-width="1.7" stroke-linecap="round" fill="none"/>
<path d="M45.9 475.7h0M38.7 460.4h0M40.7 453.7h0M42.9 458.8h0M41.9 466.2h0" stroke="#f4eeee" stroke-width="1.7" stroke-linecap="round" fill="none"/>
<path d="M88 474.5h0M87.9 456.5h0M69.3 499.9h0M78.5 438.7h0M58.9 471.9h0M86.6 461.6h0M79.1 451h0M66.2 438.5h0M91.4 485.3h0M67.2 493.1h0M60.1 472.1h0M83.7 447.1h0M96.5 460.4h0M98.7 469.8h0M100.1 475.2h0M80.7 477.5h0M66.9 446.1h0M57.1 443.1h0M101.4 434.7h0M69.7 471h0M58.3 440.6h0M75.2 496.6h0M70.3 490.6h0M97.4 478.1h0M76.9 449.4h0M53.6 454.1h0M63.9 471.7h0M58 455.7h0M59.5 481.1h0M79.7 450.1h0M67.2 475.9h0M111.9 439.2h0M77.6 449.3h0M85.7 462.7h0M89.7 459.9h0M87.9 478.4h0M94.4 484.4h0M96.9 447h0M61.2 447.6h0M99.4 453.4h0M96.9 435.7h0M111.1 443.3h0" stroke="#f4a582" stroke-width="1.7" stroke-linecap="round" fill="none"/>
<path d="M91.2 471.4h0M81.1 437h0M106.8 455.1h0M77.3 450.2h0M98.8 454.2h0M61.4 428.1h0M67.8 491.6h0M63.2 483.5h0M84 437.1h0M71.5 484.4h0M70 494.5h0M97.3 477.6h0M62.8 457.5h0M82.7 463.1h0M87.6 443.7h0M95.8 478.1h0M93.2 462h0M88.5 467.2h0M61.3 488.9h0M79.1 458.5h0M81 429.6h0M102.1 454.4h0M83.4 486.5h0M79 486.1h0M73.2 429.9h0M88 439.9h0M82.8 460.7h0M68.9 442.9h0M85.5 476.9h0M86.8 462.4h0M66.2 427.8h0M62.7 428h0M67.3 489.6h0M102 446.5h0M86.5 457.1h0M61.7 433.8h0M81.5 486.8h0M66.2 496.2h0M74.6 478.2h0M90.2 439h0M90.4 487.5h0M96.7 445.5h0M59.1 452.5h0M62.6 443.7h0M78.4 483.3h0M69.5 464.7h0M74.3 470h0M102.4 440.3h0M63.4 464.5h0M77.3 429.9h0M69.8 496.7h0M88.7 476.6h0M70.1 427.9h0M80.2 452h0M55.7 443.3h0M75.6 492.8h0M84.4 438.5h0M85.3 456h0M58.9 474.2h0M73.8 494.1h0M61.8 459.4h0M80.1 432.2h0M71.4 468.2h0M103.8 435.5h0M62.3 468.9h0M64 450.4h0M56.5 464.8h0M78.9 486.9h0M73.1 457h0M62.1 474.5h0M100 477.8h0M85.8 478.3h0M88.3 439.9h0M79.1 432.6h0M107.6 454.7h0M108.3 438.7h0M73.1 467.6h0M70.5 460.9h0M79.8 492.8h0M104.1 447.6h0M87.3 461.8h0M68.6 494.3h0M66.3 439.7h0M112.1 443h0M75.6 446.2h0M61.9 426.3h0M89.1 472h0M84.5 454.4h0M97.4 482.3h0M94.6 460.5h0M68.2 491.9h0M84.9 463.6h0M80.3 428.8h0M85.6 458h0M79.4 429.7h0" stroke="#b2182b" stroke-width="1.7" stroke-linecap="round" fill="none"/>
<path d="M67.6 428.6h0M80.2 474.3h0M110 443h0M73.8 477.2h0M93.2 478h0M94.2 448.3h0M55.6 443.3h0M63.5 440.8h0M49 462.9h0M64.3 443.8h0M77.3 469.3h0M61.7 457.1h0M81.9 442.4h0M77.5 430.8h0M77.2 432h0M84 451.2h0M101.3 447.7h0M92.1 437.8h0M89.8 440.1h0M50.9 440.4h0M79.3 460.6h0M60.6 448h0M88 489.8h0M61.7 489.5h0M91.5 455.4h0M80.5 437.9h0M70.6 437.3h0M95.2 457.9h0M51.8 439.6h0M90.7 462h0M54.7 459.5h0M68.8 488.7h0M50 466.2h0M54.3 478.1h0M95.9 456.5h0M109.5 451.4h0M96.6 437.2h0M87.2 492.5h0M57.2 472.7h0M82.4 439.1h0M100.3 477.8h0" stroke="#f4a582" stroke-width="1.7" stroke-linecap="round" fill="none"/>
<path d="M50.7 450.4h0M72.9 495.6h0M48.1 457.3h0M82.2 453h0M104.2 459.3h0M50.3 459.5h0M62.2 483.7h0M65 476h0M104.6 443.9h0M69.9 497.4h0M51.7 452.6h0M66.6 449h0M49.7 458.3h0M71.8 473.1h0M63.1 489.6h0M51.7 448.1h0M67.4 441.5h0M53.1 442.9h0M47.9 465.2h0M63.8 494.6h0M49.6 444.5h0M81.1 451.3h0M72.4 475.5h0M85.3 490.8h0M101.7 450.7h0M52 475h0M76.7 469.2h0M89.4 436.1h0M54.5 447.3h0M50 475.7h0M66.2 437.9h0M91.2 481.1h0M76.5 472.6h0" stroke="#fbdccb" stroke-width="1.7" stroke-linecap="round" fill="none"/>
<path d="M40.1 466.5h0M42.4 469.3h0" stroke="#fbdccb" stroke-width="1.7" stroke-linecap="round" fill="none"/>
<path d="M39.4 475h0" stroke="#c6dcea" stroke-width="1.7" stroke-linecap="round" fill="none"/>
<path d="M44.6 474.5h0M41.4 457.1h0" stroke="#c6dcea" stroke-width="1.7" stroke-linecap="round" fill="none"/>
<path d="M33.1 460.9h0" stroke="#4393c3" stroke-width="1.7" stroke-linecap="round" fill="none"/>
<path d="M37.4 466.6h0M38.2 464.9h0M37.4 473.8h0" stroke="#f2f2f2" stroke-width="1.7" stroke-linecap="round" fill="none"/>
<path d="M40.8 464.4h0" stroke="#4393c3" stroke-width="1.7" stroke-linecap="round" fill="none"/>
<path d="M44.5 461.2h0M41.4 470.5h0M38.7 462.9h0M42 470.8h0" stroke="#f4eeee" stroke-width="1.7" stroke-linecap="round" fill="none"/>
<path d="M107.9 442.6h0M54 464.9h0M74.1 448.9h0M67.9 459.9h0M64.6 440.5h0M101.8 464.9h0M113.1 442.5h0M58.5 447.7h0M55.3 461.3h0M81.2 454.6h0M57.7 450.4h0M93 438h0M84 440.8h0M71.3 496.1h0M52.6 422.5h0M83 480.2h0M59 476.1h0M48 464h0M53 460.2h0M58.9 444.2h0M71 440.6h0M94.8 442.5h0M59.8 479.6h0M105.9 442h0M89.1 451.3h0M65.1 459.8h0M109.9 452.5h0M49.7 470h0M68.8 445.7h0M104.5 460.8h0M108.4 453.3h0M59.4 456.4h0" stroke="#d6604d" stroke-width="1.7" stroke-linecap="round" fill="none"/>
<path d="M92.5 481.8h0M97.7 476.3h0M73.2 432.5h0M60.5 465.4h0M61.7 460.9h0M77.3 487.2h0M97.5 451.2h0M105 446.7h0M90.2 477.7h0M59.7 437.7h0M95.1 470.5h0M71 467.4h0M75.3 454.3h0M96.9 439.2h0M82.9 431.3h0M103.9 461.9h0M80.4 480.3h0M103.9 439.3h0M99.5 444h0M81.2 470.4h0M61.9 458.8h0M107.1 451.7h0M56.3 442.7h0M55.7 459.4h0M90.9 435.4h0M80.2 436.4h0M62.6 445.9h0M100.4 471.9h0M110.9 444.1h0M77.5 461.9h0M94 477.6h0M109.8 446.5h0M84.2 449.2h0M61.4 462h0M107.9 451.1h0M48.9 461.7h0M77.2 434h0M62 440.9h0M82.1 451.9h0M62.6 489.8h0M59.3 442.5h0M49.5 467.2h0" stroke="#f4a582" stroke-width="1.7" stroke-linecap="round" fill="none"/>
<path d="M79.2 492h0M67 499.5h0M72.3 441.2h0M41.6 448.9h0M103.9 467.4h0M59.9 468.2h0M74.9 481.6h0M54.5 473.2h0M45.3 443.1h0M83.4 448.2h0M48.9 454.2h0M105.2 441.9h0M75.7 430.3h0M53.4 479.9h0M105.3 464.7h0M61.1 447.5h0M75.9 480.4h0M83.2 459.6h0M54.6 458.1h0M54.4 454.4h0M48.7 443.9h0M89.9 447.3h0M58.2 434.2h0M44.7 445.8h0M75.9 448.9h0M66.8 464h0M106 454h0M64.1 425.7h0M76.7 455.2h0M68.4 450.6h0M100.5 458.4h0M81.6 492.1h0" stroke="#fbdccb" stroke-width="1.7" stroke-linecap="round" fill="none"/>
<path d="M64.2 476.8h0M50 457.5h0M57 460.3h0M50.1 456.5h0M98.2 434h0M71.8 473.4h0M56.3 471.3h0M83.1 434h0M58.9 474.3h0M49.9 441.2h0M80.2 440.8h0M63.5 476.4h0M73.1 451.7h0M56.4 469.3h0M51.8 453.9h0M43.9 451.7h0M63 460.1h0M56.4 475.5h0M54.5 455.1h0M63 487.1h0M103.3 461.4h0M86 457.2h0M65.5 489.2h0M105.4 438.7h0M96.9 440.8h0M64.1 468.6h0M52.8 444.1h0M67.4 430.6h0M85.7 474h0M81.4 443.7h0M61.5 448.4h0M57 462h0" stroke="#d6604d" stroke-width="1.7" stroke-linecap="round" fill="none"/>
<path d="M39.3 463.9h0" stroke="#4393c3" stroke-width="1.7" stroke-linecap="round" fill="none"/>
<path d="M45.2 471h0M46.9 464.7h0M43 459.9h0" stroke="#fbdccb" stroke-width="1.7" stroke-linecap="round" fill="none"/>
<path d="M46.8 472.8h0M41.2 461.2h0M42.4 470.3h0M39.4 464h0M38.8 463.7h0" stroke="#f4eeee" stroke-width="1.7" stroke-linecap="round" fill="none"/>
<path d="M37.5 471.6h0M35.5 472.1h0M35.9 462.4h0" stroke="#f2f2f2" stroke-width="1.7" stroke-linecap="round" fill="none"/>
<path d="M39.2 467.7h0M34.3 459.7h0" stroke="#c6dcea" stroke-width="1.7" stroke-linecap="round" fill="none"/>
<path d="M37.4 468.4h0" stroke="#4393c3" stroke-width="1.7" stroke-linecap="round" fill="none"/>
<path d="M32.1 462.2h0" stroke="#2166ac" stroke-width="1.7" stroke-linecap="round" fill="none"/>
<path d="M65.4 445.9h0M70.9 479.7h0M101.4 437.5h0M67.9 444.3h0M79.5 470.5h0M105.4 458.7h0M58.2 475.8h0M60.7 484.5h0M68.8 463h0M71.9 471.8h0M76.8 447.6h0M91.6 486.3h0M60.3 426.1h0M67.9 473h0M72.6 431.9h0M82.8 433.6h0M101.1 434.8h0M74.5 433.2h0M63 489.1h0M70.6 447.9h0M95.6 479.6h0M57.2 432.3h0M95.7 466h0M71.7 462.7h0M95.1 488.2h0M90.3 451.3h0M63.7 425.8h0M78.5 430.9h0M87.9 447.5h0M60.9 454h0M96.9 465.5h0M71.5 481.9h0M102.1 471h0M67.5 469.2h0M93.3 471.9h0M72.1 459.6h0M77 472.1h0M107.8 448.9h0M80.8 465.5h0M77.2 450.8h0M107.1 456.4h0M60.5 471.3h0M87.8 472.8h0M76.1 446.5h0M112.4 439.9h0M64.5 482.4h0M64.5 433.9h0M102.6 450h0M86.2 480.8h0M111.9 451.8h0M105.4 440.8h0M85.3 445h0M69.2 493.8h0M66.1 451.5h0M96.4 467.2h0M77.5 488.4h0M63.6 453.2h0M96 459.6h0M78.4 463.9h0M71.1 450.5h0M101.9 452.7h0M106.6 437.4h0M94.7 451.7h0M102 437h0M62.2 474.4h0M79.5 472.2h0M87.3 445.9h0M74.2 461.7h0M73.1 461.1h0M75.6 492.8h0M96.1 472.7h0M91.1 463.5h0M84.6 489.6h0M71.6 465.7h0M62.6 453.2h0M104.8 441.9h0M84.5 465.3h0M93.6 489.7h0M86.3 484.6h0M110.4 436.2h0M91.7 466.5h0M60.3 435.8h0M97.7 462.6h0M70.3 496.6h0M65.8 443.3h0M49.2 419.1h0M99.7 477.8h0M66.3 477h0M57.5 427.1h0M96.3 450h0M71.4 468.7h0M96 441.5h0M76.7 481.9h0M89.9 458.2h0M70.3 496.4h0M62.5 490.3h0" stroke="#b2182b" stroke-width="1.7" stroke-linecap="round" fill="none"/>
<path d="M46.9 471.1h0M46.1 474.6h0" stroke="#c6dcea" stroke-width="1.7" stroke-linecap="round" fill="none"/>
<path d="M45.8 470.1h0M40.6 470.3h0M40.3 464.5h0M43.8 466.8h0M40 469.8h0" stroke="#f4eeee" stroke-width="1.7" stroke-linecap="round" fill="none"/>
<path d="M44.5 453.1h0" stroke="#c6dcea" stroke-width="1.7" stroke-linecap="round" fill="none"/>
<path d="M71.6 466.4h0M90.4 449.1h0M65.4 459.2h0M65.2 442.1h0M61.2 446.4h0M56.2 442.3h0M98.9 439.2h0M68.5 477.5h0M97.5 482.2h0M84.9 436.5h0M69.2 448.3h0M95.1 443.6h0M68.9 494.4h0M55.6 470.8h0M69.6 468.9h0M70.6 456h0M64.7 434.5h0M68.7 452.8h0M64.6 466.3h0M77 433h0M77.8 441.2h0M60.9 427.4h0M104.6 461.8h0M110.7 444.7h0M76.9 443.2h0M85.9 480h0M59 442.9h0M96.8 468.1h0M94.8 448.3h0M88.3 451h0M73 461.4h0M86 485.7h0M92.9 476.2h0M91.7 474.8h0M76.5 439.1h0M66.3 433.5h0M100.8 471.3h0M58.3 434.4h0M79.3 480.5h0M65.8 496.6h0M107.3 440.9h0M80.5 485.1h0M77.2 449.9h0M53.7 426.1h0M71.8 474.5h0M70.8 460h0M82.3 431.7h0M87.2 436.2h0M65.5 458.6h0M77.6 485.8h0M67 448.3h0M66.5 474.9h0M87.2 440.9h0M72.4 482.5h0M83.5 433.5h0M99.9 457h0M70.1 450.6h0M76.5 479.8h0M86.3 471.9h0M80.1 491.5h0M63.4 464.6h0M79.3 436h0M90.9 488.3h0M62.7 459h0M80.6 473.7h0M90.3 484.5h0M58.1 429.7h0M95.4 469.5h0M91.1 454.6h0M70.8 445h0M68 455.2h0M70.1 499.4h0M108.5 444.9h0M88.4 467.7h0M91.8 457.3h0M84 458.4h0M63.4 481h0M90.6 444.1h0M87.3 473.3h0M80.8 462.5h0M106.1 448.7h0M65.4 453h0M57.3 463.4h0M72.9 495.1h0M73.5 452.7h0M69.3 450.1h0M78.4 478h0M74.6 437.2h0M88.1 462.7h0M71.9 428.3h0M65.5 469.6h0M74.4 448.5h0M62.8 431.1h0M58.1 424.7h0M59.5 428.2h0" stroke="#b2182b" stroke-width="1.7" stroke-linecap="round" fill="none"/>
<path d="M46.2 466.4h0M40.5 456.9h0M44.2 462.1h0" stroke="#fbdccb" stroke-width="1.7" stroke-linecap="round" fill="none"/>
<path d="M36.4 462h0" stroke="#4393c3" stroke-width="1.7" stroke-linecap="round" fill="none"/>
<path d="M42.4 455.9h0" stroke="#4393c3" stroke-width="1.7" stroke-linecap="round" fill="none"/>
<path d="M101.8 439.4h0M65.2 500.9h0M84.2 479.6h0M53.1 479.3h0M87.1 474h0M63.5 441.1h0M75.1 427.6h0M74.1 486.6h0M58.4 474.9h0M80.1 429.9h0M83.5 470.8h0M88.3 440.8h0M72.5 490.5h0M48.8 441.6h0M51.8 465.8h0M57.4 469h0M92.9 434.7h0M68.7 487.2h0M55.3 452.2h0M78.6 455.4h0M55.7 464.8h0M84.5 440.4h0M108 451.9h0M89.8 440.4h0M80.1 446.7h0M56.9 456.9h0M50.1 443h0M70.7 437.5h0M78.5 465.2h0M72.3 456.6h0M100.6 476.9h0M59.5 483.3h0" stroke="#d6604d" stroke-width="1.7" stroke-linecap="round" fill="none"/>
<path d="M60.1 457.4h0M69.9 497.5h0M78.4 471.7h0M99.7 440.1h0M98.4 478.8h0M69 485.8h0M60.3 463.3h0M88.5 444.2h0M71.8 441.1h0M79.6 486.2h0M74.6 483.3h0M62.4 454.6h0M87 462.4h0M97.3 467h0M70.1 456.6h0M58.8 468h0M64.9 481.7h0M94.6 471.5h0M67.6 465.6h0M105.2 434.1h0M74.8 468.5h0M57.8 426.5h0M63.5 483.5h0M89 451.7h0M97.2 438.2h0M75.7 450.8h0M65.8 433h0M88.5 438.3h0M109 437.4h0M93.1 436.4h0M106 440.2h0M110.5 452h0M85.2 473.9h0M55.5 442h0M82 455.1h0M79.9 441h0M103.2 453h0M79.2 480.6h0M107.1 461.7h0M84.4 440.3h0M55.3 468.4h0M65 448.9h0" stroke="#f4a582" stroke-width="1.7" stroke-linecap="round" fill="none"/>
<path d="M38.1 469.4h0" stroke="#c6dcea" stroke-width="1.7" stroke-linecap="round" fill="none"/>
<path d="M54.4 452.7h0M66.9 479.7h0M89.6 443.5h0M42.7 446.6h0M51.3 448h0M79.1 432.3h0M50.3 458.4h0M92.6 456.4h0M72.9 453.6h0M100.6 471.7h0M47.1 475.2h0M58.9 480h0M70.4 434.1h0M68.5 456.7h0M54.2 453.4h0M103.9 450.4h0M54.9 439.8h0M101.9 436.7h0M81.8 434.1h0M82.8 449.8h0M94.8 439.1h0M90.2 446.7h0M58.5 466h0M80.5 481.7h0M66.5 483.2h0M99.5 467h0M83.6 493h0M85 456h0M54.5 461.9h0M53.8 459.8h0M55 472.3h0M63.1 459.7h0M73.6 462.9h0" stroke="#fbdccb" stroke-width="1.7" stroke-linecap="round" fill="none"/>
<path d="M32.6 461.5h0M32.1 461h0M32.5 465.2h0" stroke="#f2f2f2" stroke-width="1.7" stroke-linecap="round" fill="none"/>
<path d="M38.9 473.7h0" stroke="#c6dcea" stroke-width="1.7" stroke-linecap="round" fill="none"/>
<path d="M53.6 462.2h0M60.5 442.8h0M57.5 441.6h0M54.7 466h0M73.5 487.8h0M89.5 439.6h0M63 476.1h0M81.7 456.3h0M65.6 478.5h0M53.8 466.4h0M77.5 449.3h0M86.6 477.6h0M49.5 449.6h0M104 438.9h0M54.5 467.9h0M101.1 458.3h0M52.8 443h0M105 457.5h0M56.8 424.7h0M47.4 456.6h0M109.3 443.9h0M60 471.4h0M108.9 439.1h0M65.3 497h0M63.5 482.1h0M48.7 469.8h0M94.3 437.1h0M56.6 474.7h0M75.4 437.7h0M106.8 445.3h0M54.8 450.4h0M94.8 471.4h0" stroke="#fbdccb" stroke-width="1.7" stroke-linecap="round" fill="none"/>
<path d="M80.6 446.7h0M69.5 501.5h0M101.5 438.5h0M101.1 436.2h0M64.1 459.4h0M81.8 492.9h0M88.5 480.4h0M88.7 469.9h0M91.2 459.8h0M76.9 475.3h0M68.4 479.9h0M70.4 455.2h0M74.6 438h0M77.7 476.5h0M85.7 439.5h0M100.8 448h0M84.4 482.8h0M61.7 425.3h0M60.3 450.7h0M95.3 463.2h0M99.8 441.8h0M84 463.2h0M63.6 464.8h0M84 466.6h0M87.2 455.9h0M88 451.1h0M91.4 484.2h0M70.4 468.8h0M78.7 447.7h0M62.2 470.8h0M64.2 452.7h0M64.2 491.9h0M59.3 427.7h0M95.6 482h0M89.8 441.7h0M100.2 440.8h0M67.1 476.1h0M96 481.3h0M86.8 477.2h0M72.9 468.6h0M105.4 437h0M81.9 449.9h0M74.4 466.1h0M86.1 469.3h0M64.1 478.9h0M91.3 470.6h0M80.4 482.9h0M88.7 464.8h0M88.9 469.2h0M84.5 483h0M74.6 429.2h0M82.9 446.3h0M104.4 451.7h0M60.9 432.8h0M74.3 489h0M99.1 448.6h0M76.9 457.4h0M87.6 465.1h0M86.3 490.9h0M74.2 430.4h0M79.7 480.4h0M56.4 427h0M69.9 468h0M65.7 478.1h0M66.8 479h0M102 452.9h0M53 440.8h0M57.2 427.1h0M67.5 432h0M108 438.2h0M77.4 448.5h0M60.2 429.4h0M69.4 501.6h0M83.3 440.8h0M106.4 442.2h0M96.6 462.1h0M84.9 454h0M110.6 451.4h0M52.5 459.8h0M84.3 475.3h0M104.8 459.6h0M63.7 425.9h0M92.2 477.1h0M67.5 472.3h0M92.3 448.8h0M59.5 479h0M106.7 461.9h0M101.3 467.1h0M72.1 475.3h0M73.5 479.8h0M75.1 483.1h0M68 434.5h0M82.5 482.1h0M70.1 467.3h0M81.5 433.5h0" stroke="#b2182b" stroke-width="1.7" stroke-linecap="round" fill="none"/>
<path d="M71.5 475.1h0M67.3 424.9h0M70.3 466.5h0M66.4 454.1h0M97.1 440.2h0M53.4 459h0M86.7 461.6h0M52.8 461h0M79.6 463.6h0M63.9 434.5h0M56 472.7h0M96.5 460.6h0M65.8 454.4h0M52.4 442.6h0M89.2 438.4h0M52.9 453.5h0M75.2 448.9h0M85.6 469.3h0M67.9 438.3h0M68.7 471h0M56.3 457.9h0M86.4 445.1h0M58 467.9h0M57.5 452.6h0M68.6 464.3h0M54.8 459.7h0M75 469.8h0M85.5 448.6h0M58.4 479.8h0M50.5 445.3h0M79.6 454.5h0" stroke="#d6604d" stroke-width="1.7" stroke-linecap="round" fill="none"/>
<path d="M41.3 463.9h0M46 474.5h0" stroke="#c6dcea" stroke-width="1.7" stroke-linecap="round" fill="none"/>
<path d="M37.3 461.5h0M34 469.9h0M38.2 471.3h0" stroke="#f2f2f2" stroke-width="1.7" stroke-linecap="round" fill="none"/>
<path d="M43.8 460.9h0M41.2 452.6h0M44.7 453.8h0M44.5 453.5h0" stroke="#f4eeee" stroke-width="1.7" stroke-linecap="round" fill="none"/>
<path d="M42.8 454.3h0M41.8 467.3h0" stroke="#fbdccb" stroke-width="1.7" stroke-linecap="round" fill="none"/>
<path d="M38.9 463.2h0" stroke="#4393c3" stroke-width="1.7" stroke-linecap="round" fill="none"/>
<path d="M73.6 445.1h0M90.6 491.3h0M98.9 433.5h0M51.3 466.2h0M64.9 459.6h0M56.4 471.7h0M80.1 457.9h0M104.7 461.4h0M94.8 453.3h0M85.3 446.1h0M62.9 442.2h0M78 469.3h0M50.6 452.7h0M76.8 453.6h0M86.6 471.3h0M98.1 467.1h0M80.6 471.1h0M61.7 431.7h0M85.7 472.8h0M96.1 457.9h0M66 456.2h0M77.7 437.3h0M109.4 460.4h0M77.7 461.7h0M95.7 466.1h0M100.4 467.2h0M99 455.3h0M80.3 481.5h0M85.8 466.7h0M65.4 448.9h0M61.3 478.6h0M67.2 470.9h0M51.2 449.5h0M76.3 459.6h0M76.9 466h0M91.5 482.8h0M76.9 480.4h0M83.2 476.4h0M108.1 451.3h0M101.4 462.1h0M65.5 441.9h0" stroke="#f4a582" stroke-width="1.7" stroke-linecap="round" fill="none"/>
<path d="M38.3 465.9h0M33.3 464h0M38.1 472.6h0" stroke="#f2f2f2" stroke-width="1.7" stroke-linecap="round" fill="none"/>
<path d="M44 461.3h0M45.3 464.4h0M44.6 464.1h0M42.8 456.3h0M43.8 458.5h0" stroke="#f4eeee" stroke-width="1.7" stroke-linecap="round" fill="none"/>
<path d="M62.5 434.3h0M76.6 459.4h0M56.1 467.4h0M55 468.2h0M74.7 465.4h0M69.4 431.9h0M62 442.7h0M62.7 492.3h0M59 449.5h0M92.4 459.5h0M81.2 436.8h0M82.8 454.5h0M72.4 494.4h0M104.3 457.1h0M84.6 464.1h0M59.7 440.1h0M60.8 461.9h0M61.1 453.3h0M55.1 468.5h0M64.2 457.9h0M104.6 450.6h0M59.8 457.9h0M75.4 495.8h0M85.3 475.9h0M109.4 460.4h0M100.1 436.9h0M89.3 491.7h0M76.9 440.7h0M93.5 453.8h0M77.8 468.6h0M50 441.8h0M76.9 486.7h0M105.7 448.3h0M81.5 440h0M50 472.2h0M66.9 444.5h0M69.8 432.1h0M49.6 456.4h0M73 485.6h0M62.5 490.2h0M57.6 452.1h0M68.9 425.7h0" stroke="#f4a582" stroke-width="1.7" stroke-linecap="round" fill="none"/>
<path d="M46 454.4h0M41.7 455.4h0M39.9 461.5h0" stroke="#fbdccb" stroke-width="1.7" stroke-linecap="round" fill="none"/>
<path d="M52.8 479.4h0M45.1 450.6h0M66.4 445.8h0M71.6 475.1h0M88.7 445.6h0M47.5 467.8h0M53.1 479.2h0M47.3 453.4h0M81.8 475.7h0M71.1 435.9h0M81.1 474h0M82.6 476.8h0M49.7 473.9h0M102.8 440.4h0M91.9 458h0M106.2 461.5h0M53.4 470.4h0M51.9 477.2h0M63 444h0M51.6 464.5h0M59.3 455.7h0M65.8 452.5h0M62.7 491.2h0M91.3 489.9h0M69.1 452.5h0M83.6 460.3h0M78.7 463.5h0M48.8 476.3h0M62.3 447.3h0M67.7 481.6h0M101.8 466.5h0M58.5 438.1h0M57.6 431.5h0" stroke="#fbdccb" stroke-width="1.7" stroke-linecap="round" fill="none"/>
<path d="M77.1 472.1h0M77.6 491h0M57.8 431.6h0M95.6 436.1h0M52.1 450h0M98.2 468.9h0M83.2 479.6h0M68.7 433.9h0M99.4 463.6h0M82.9 436.1h0M65.2 433.7h0M54.1 423.3h0M78.2 483.7h0M111.8 453.2h0M79 479.8h0M74.5 426.5h0M72.3 492.2h0M75.1 432.2h0M56.1 430.8h0M88.2 446.2h0M80.1 473.6h0M90.5 447.7h0M92.1 488h0M81 446.4h0M97.8 467h0M83 463.3h0M84.9 446.8h0M88.7 449.6h0M77.4 448.2h0M85.1 471.3h0M88.1 469.4h0M108.7 453.9h0M91.5 464.5h0M84.4 489.7h0M108.9 457.1h0M91.7 490.5h0M66.6 484.5h0M69.3 493.4h0M62.5 486.6h0M57.5 464.3h0M72.6 448.2h0M88.6 480.6h0M92.8 454.1h0M66.9 461.1h0M105 435.3h0M50.2 420.3h0M73.7 455.5h0M68.5 503h0M73.8 458.5h0M68.5 458h0M66.8 456.3h0M67.1 442h0M80.7 480.8h0M70.3 437.6h0M111.8 450.1h0M74 495.4h0M74.8 475.1h0M53.3 425h0M90.6 475.5h0M61.9 428.7h0M91.3 472.9h0M93.6 465.3h0M81.4 437.6h0M85.9 437.9h0M82.7 433.9h0M93.6 486.1h0M83.8 490.2h0M87.6 465h0M73.3 460.2h0M68.8 497.9h0M90.4 491h0M63.3 476.3h0M89.4 439.8h0M71.6 484.1h0M93.1 483.9h0M56.2 426.7h0M96.8 443.8h0M95.5 437.4h0M98.5 434.6h0M86.5 476.6h0M91.1 461h0M83.8 436.8h0M66.2 456.1h0M61.2 442.4h0M76.6 486.4h0M70.5 469.4h0M73.4 488.6h0M85.8 453.4h0M69.2 431.8h0M102.2 446.5h0M56.4 423.9h0M89.4 449.3h0M65.6 490.3h0M63.8 485.5h0M79.7 433.4h0" stroke="#b2182b" stroke-width="1.7" stroke-linecap="round" fill="none"/>
<path d="M41.9 471.7h0" stroke="#4393c3" stroke-width="1.7" stroke-linecap="round" fill="none"/>
<path d="M39.5 469.4h0" stroke="#4393c3" stroke-width="1.7" stroke-linecap="round" fill="none"/>
<path d="M36.9 465.3h0" stroke="#2166ac" stroke-width="1.7" stroke-linecap="round" fill="none"/>
<path d="M64.3 446.5h0M80.9 489.1h0M51.4 468.1h0M104.5 441.3h0M56.2 458.3h0M64.7 492.2h0M51 449.5h0M74.3 459.3h0M63.5 488.6h0M55.1 442.2h0M64.5 453h0M65.7 493h0M65.8 465.3h0M102.3 466.1h0M75.1 452.6h0M75.1 440.9h0M51.9 467.7h0M55.4 430.1h0M96.8 475.8h0M77.6 467.7h0M96.2 480.2h0M86.3 473.6h0M69.6 449.4h0M97.6 456.6h0M51.6 443.9h0M99.1 446.9h0M86.9 463.7h0M80.2 435.9h0M84.5 432.4h0M60.9 486.1h0M97.7 457.4h0M54.9 480.1h0" stroke="#d6604d" stroke-width="1.7" stroke-linecap="round" fill="none"/>
<path d="M40.8 467.4h0M44.2 457.1h0" stroke="#c6dcea" stroke-width="1.7" stroke-linecap="round" fill="none"/>
<path d="M33.6 469h0" stroke="#c6dcea" stroke-width="1.7" stroke-linecap="round" fill="none"/>
<path d="M86.2 480.7h0M99.2 476.9h0M59.7 476h0M49.1 446.8h0M54.4 424.5h0M44.1 446.1h0M71.8 473.3h0M86.6 463.9h0M72.4 498.5h0M69.6 501.4h0M64.4 468.2h0M78.8 464.1h0M53.1 450.8h0M79.8 481.9h0M78.8 450h0M90.6 449.1h0M51 465.8h0M64.1 470.2h0M71.2 446h0M74.3 482h0M70.3 445.9h0M92.8 463.4h0M83.3 441.5h0M41.7 451.2h0M54.1 466.5h0M72.5 452h0M71 495h0M98.1 463.8h0M68.3 426.5h0M105.5 464.3h0M85.2 435h0M43 446.1h0" stroke="#d6604d" stroke-width="1.7" stroke-linecap="round" fill="none"/>
<path d="M36.6 472.9h0" stroke="#c6dcea" stroke-width="1.7" stroke-linecap="round" fill="none"/>
<path d="M49.7 457.3h0M54.7 438.7h0M102.3 436.9h0M54.5 476.8h0M52.9 446.1h0M55.8 448.8h0M72.2 458.4h0M48.2 456.8h0M108.4 451.2h0M52.7 445.2h0M52.2 460.6h0M66.8 465.3h0M68.2 481.8h0M51.6 448.4h0M52 459.3h0M66.1 491.9h0M58.7 440.7h0M48.9 445.2h0M54 460.8h0M74.5 445.3h0M72.2 471.8h0M72.8 476.9h0M74.9 437.6h0M78.1 455.6h0M65.9 455.7h0M93.2 451.9h0M46.4 442.6h0M47.3 460.8h0M51.6 446.4h0M57.7 464.1h0M82.5 482.8h0M72.4 452h0" stroke="#fbdccb" stroke-width="1.7" stroke-linecap="round" fill="none"/>
<path d="M39.2 468.9h0M39.2 466.5h0M39.5 474.9h0" stroke="#f2f2f2" stroke-width="1.7" stroke-linecap="round" fill="none"/>
<path d="M43.2 455.5h0M44.5 470.2h0M45.5 461.1h0" stroke="#fbdccb" stroke-width="1.7" stroke-linecap="round" fill="none"/>
<path d="M56.2 474.1h0M54.3 442.2h0M89.9 477.3h0M83.7 465.7h0M82.7 454.2h0M79.3 476.8h0M70 491h0M47.6 441.6h0M61.9 480.4h0M67.4 444.3h0M88.3 465.9h0M58.7 474.4h0M72.7 468h0M67.8 470.7h0M100.1 452.8h0M69.9 458.6h0M92.3 486.5h0M113.4 441.2h0M50.4 456.1h0M70.3 484h0M95.7 450h0M56.4 456.9h0M109.9 459.7h0M80.9 493.8h0M54.3 446h0M83.7 445.2h0M82.5 435.7h0M61.8 488h0M86.8 476h0M59.3 445.4h0M87.1 440.7h0M84.2 452.3h0M101.8 448.7h0M93.8 455.6h0M76.5 444.7h0M57.9 446.5h0M57.9 454.7h0M76.5 474.8h0M74 455.6h0M55.6 462.5h0M80.8 461.3h0M88.4 488.3h0" stroke="#f4a582" stroke-width="1.7" stroke-linecap="round" fill="none"/>
<path d="M37.8 473.4h0" stroke="#4393c3" stroke-width="1.7" stroke-linecap="round" fill="none"/>
<path d="M46.4 460.2h0M43.2 465h0M39.3 463.2h0M44.1 461.1h0M45.4 457.3h0" stroke="#f4eeee" stroke-width="1.7" stroke-linecap="round" fill="none"/>
<path d="M41.3 467.6h0" stroke="#4393c3" stroke-width="1.7" stroke-linecap="round" fill="none"/>
<path d="M66.6 430.4h0M73.7 455.7h0M82 465.9h0M70.8 459.9h0M71.3 429.6h0M88 451.7h0M83.8 485.9h0M98.9 445.9h0M58.7 431.8h0M67.8 501.6h0M90.1 491.3h0M67.6 501h0M70.4 444.8h0M75.2 478.4h0M68 432.6h0M111.2 452.1h0M59.2 445.9h0M73 470.9h0M70 446.5h0M74.2 464.2h0M66.3 474.8h0M75.3 455.5h0M71.2 440h0M77.5 451.8h0M97.9 445.5h0M90.9 435.4h0M83.4 472.6h0M72.1 466.7h0M111.6 445.2h0M65.6 435.5h0M82.6 475.4h0M90 445.9h0M70.9 471.3h0M92.8 479.4h0M94 461.9h0M95.9 486.5h0M60.4 432h0M88.5 438.4h0M104.8 457.8h0M65.2 493.6h0M73.9 452.9h0M75.9 430.4h0M109 439.6h0M72.5 453.4h0M86.5 439.9h0M73 478h0M59.7 431.1h0M75.7 439.9h0M49.4 421.5h0M95 453.3h0M91.7 438.1h0M96.2 486.4h0M86.6 484.9h0M84 456h0M95.8 472.3h0M100.3 470.1h0M68.4 491.2h0M85 477h0M89.2 469.5h0M79.2 429.8h0M92.7 451.9h0M65.3 480.3h0M87.9 475.1h0M62.3 428.2h0M90.1 460.1h0M53.9 454.8h0M70.7 435.1h0M95.6 455.6h0M68.7 452.8h0M88.8 459.9h0M91 437.9h0M95.8 443.5h0M87.4 475.3h0M96.3 441.2h0M95.9 450.7h0M97.6 475h0M111.7 445.3h0M69.3 461.9h0M92.1 480.7h0M86.5 482.5h0M84.2 475.9h0M69.4 447.6h0M83.6 482.6h0M77 465.9h0M84.8 461.2h0M90 462.4h0M67.3 460h0M86.6 444.2h0M69.4 472.8h0M77.8 458h0M110.4 450.7h0M72 471.5h0M103.2 438.5h0M70 433.4h0M95.4 450.8h0M72.8 428.3h0" stroke="#b2182b" stroke-width="1.7" stroke-linecap="round" fill="none"/>
<path d="M45 472.2h0M46.9 473.5h0" stroke="#c6dcea" stroke-width="1.7" stroke-linecap="round" fill="none"/>
<path d="M70.3 452.1h0M111 439.3h0M47.5 456.8h0M100.1 442.4h0M62.3 475.3h0M110.4 446.5h0M68.5 495.1h0M81.8 445h0M48.5 475.5h0M74.5 460.7h0M69.2 426h0M85.3 463.1h0M90 457.3h0M62.4 451.4h0M78.5 476.5h0M50.4 477.5h0M97 475.4h0M77.2 429.1h0M58.1 461.4h0M62.1 481h0M104.4 437.9h0M112.4 449.3h0M101.3 447.1h0M58.4 479.9h0M73.8 466.2h0M63.5 448.2h0M79.4 451.9h0M50.7 452h0M62.3 480.9h0M61.3 480.9h0M69.7 441h0M54.9 444.4h0" stroke="#d6604d" stroke-width="1.7" stroke-linecap="round" fill="none"/>
<path d="M73.7 437.2h0M96.9 444.5h0M94.1 455h0M63.1 442.2h0M93.5 433.6h0M107.8 440.2h0M58.7 480h0M80.9 432h0M64 424.6h0M47.2 449.7h0M100.4 449.8h0M103.5 454.3h0M56.2 439.6h0M65.4 436.8h0M74.5 482h0M86.9 484.3h0M72.4 451.8h0M63.9 461.7h0M109.8 436.6h0M70.7 477.8h0M90.8 474.2h0M62.2 465.5h0M81.1 490.4h0M98.6 452.8h0M75.6 434.4h0M101.6 471.8h0M60.1 432.3h0M89 469.9h0M92.7 435.1h0M60.5 474h0M70.1 484.4h0M85.5 441.1h0M62 455h0M74.4 459.4h0M60.1 450.7h0M72.4 438.1h0M78.5 477.6h0M86 486.5h0M72.3 446.6h0M86.6 478.4h0M56 439.8h0" stroke="#f4a582" stroke-width="1.7" stroke-linecap="round" fill="none"/>
<path d="M40.9 452.3h0M46.2 456.1h0M41.6 471.9h0M46.4 466.6h0" stroke="#f4eeee" stroke-width="1.7" stroke-linecap="round" fill="none"/>
<path d="M72.5 474.4h0M59.3 443.8h0M49.6 469.4h0M48.9 472.2h0M48.9 469.6h0M89.8 439.4h0M71.8 482.9h0M55.6 460.1h0M52 478.9h0M85.8 451.2h0M52.2 444.3h0M71.9 440.7h0M49.6 458h0M54 439.1h0M47 449h0M61.7 464.3h0M61.8 477.2h0M60.5 460.7h0M54 448.9h0M79.3 450.9h0M52.5 472.4h0M52.5 474.3h0M106.3 449.3h0M89.2 482.8h0M48 470.2h0M77 469.3h0M79.2 494.8h0M49.5 463h0M88.7 442.6h0M101.7 444.6h0M48.9 464.7h0M54.7 471.4h0" stroke="#fbdccb" stroke-width="1.7" stroke-linecap="round" fill="none"/>
<path d="M34.9 462.9h0" stroke="#c6dcea" stroke-width="1.7" stroke-linecap="round" fill="none"/>
<path d="M36.1 465h0" stroke="#4393c3" stroke-width="1.7" stroke-linecap="round" fill="none"/>
<path d="M45.4 471.4h0" stroke="#4393c3" stroke-width="1.7" stroke-linecap="round" fill="none"/>
<path d="M39.6 458.1h0M45.7 453.3h0" stroke="#fbdccb" stroke-width="1.7" stroke-linecap="round" fill="none"/>
<path d="M35 463.7h0M34.5 462.1h0M36.5 460.9h0" stroke="#f2f2f2" stroke-width="1.7" stroke-linecap="round" fill="none"/>
<path d="M63.6 440.8h0M69 501.1h0M62.1 425.1h0M84.6 446.7h0M109.3 439.4h0M112.1 447.5h0M109 460.6h0M112.6 448.1h0M93.4 440.6h0M73.1 451.4h0M76.7 485.8h0M63.7 493.5h0M92.5 455.3h0M62.6 427.9h0M94.6 455h0M92.8 478.1h0M59.9 431.1h0M59.4 448.3h0M81.9 461.2h0M75.2 479.9h0M102.9 465.2h0M105.4 456.2h0M77.9 455.7h0M58.8 481.4h0M71.7 446h0M60.7 425.6h0M82.8 458.2h0M63.1 472.5h0M71.4 489.1h0M96.1 460.4h0M69.6 434.1h0M97.2 440h0M68.7 455h0M88.9 486.7h0M79.2 453.7h0M55.1 464.5h0M68.1 431.8h0M107.1 446.9h0M67.3 472.7h0M94.9 456.3h0M78.7 444.4h0M72.7 481.5h0M82.6 433.7h0M96 485.5h0M100 433.9h0M78.4 483.5h0M67.1 455.5h0M73.5 468.6h0M82.1 461.3h0M55.2 466.3h0M63.7 460.8h0M57 454.3h0M68.7 428.7h0M76.1 455.2h0M104.9 456.3h0M70 465.1h0M52.6 472.7h0M62.4 472.8h0M66.9 458.4h0M68.6 450.4h0M103.2 456.6h0M85.4 452.2h0M102.3 433.8h0M106.1 459.1h0M75 490.6h0M92.4 466h0M73.3 466.6h0M67.9 451.5h0M99.7 441.6h0M91.7 473.9h0M85 434h0M83.1 493.1h0M91 471.1h0M69.4 469.3h0M104.3 446.8h0M51.8 424h0M83.4 469.1h0M62.4 435.8h0M94.2 474.8h0M63.1 457.5h0M66.4 455.8h0M87.8 469.3h0M80.1 471.7h0M86.6 435.5h0M61.2 439.3h0M105.3 434.9h0M56.5 444.7h0M92.9 490.3h0M89.4 489.4h0M93.1 436.4h0M99.8 443.1h0M83.7 459.6h0M73.5 471.8h0M100.8 442.7h0M87 451.3h0" stroke="#b2182b" stroke-width="1.7" stroke-linecap="round" fill="none"/>
<path d="M39.2 461.1h0M45.8 474h0" stroke="#c6dcea" stroke-width="1.7" stroke-linecap="round" fill="none"/>
<path d="M46.7 458.5h0M43.2 457.7h0M45.5 462.5h0" stroke="#fbdccb" stroke-width="1.7" stroke-linecap="round" fill="none"/>
<path d="M43 455.4h0M40.2 469.5h0" stroke="#c6dcea" stroke-width="1.7" stroke-linecap="round" fill="none"/>
<path d="M43.4 467.9h0" stroke="#4393c3" stroke-width="1.7" stroke-linecap="round" fill="none"/>
<path d="M36.5 460.4h0" stroke="#4393c3" stroke-width="1.7" stroke-linecap="round" fill="none"/>
<path d="M41.4 465.5h0M41.2 474.4h0M46.8 476.2h0M43 459.9h0M44.4 454.5h0" stroke="#f4eeee" stroke-width="1.7" stroke-linecap="round" fill="none"/>
<path d="M37.5 459.4h0" stroke="#2166ac" stroke-width="1.7" stroke-linecap="round" fill="none"/>
<path d="M39 465.2h0" stroke="#c6dcea" stroke-width="1.7" stroke-linecap="round" fill="none"/>
<path d="M51 443.9h0M77.8 473.1h0M99.7 448.2h0M66 471.7h0M49.4 451.5h0M81.2 444.6h0M54.8 443h0M77.3 464.5h0M58.6 460.4h0M59.9 437.3h0M62 477.3h0M103.2 443.9h0M52.9 462.1h0M57.9 450.3h0M76 455.1h0M43.1 445.1h0M47.4 473.5h0M50.7 478.4h0M48.2 442.3h0M102 444.3h0M50.6 460.2h0M72.8 461.8h0M48.5 471.4h0M79.6 455.5h0M51.8 446.7h0M63.2 425.3h0M106.9 445.9h0M77.2 442.5h0M81.9 455.1h0M47.9 458h0M82.3 458.5h0M75.9 478.9h0M69.1 451.3h0" stroke="#fbdccb" stroke-width="1.7" stroke-linecap="round" fill="none"/>
<path d="M39 474.5h0M38.3 465.1h0M34.4 462.3h0" stroke="#f2f2f2" stroke-width="1.7" stroke-linecap="round" fill="none"/>
<path d="M88 440.4h0M80 432.1h0M93 461.9h0M68.1 457.9h0M99.4 469.1h0M74 475.1h0M112.2 446.8h0M76.8 438.1h0M60.6 428.3h0M70.8 466.3h0M71.5 492.8h0M73 442h0M92.8 480.3h0M68.4 497.2h0M92.9 472.6h0M64.3 463.3h0M77.7 468.6h0M66.5 428.2h0M73.3 467.1h0M69.6 454.5h0M77.2 459.2h0M62.5 472.8h0M87.8 476.9h0M95.3 475.3h0M84 492.4h0M61 453.1h0M66.1 476.3h0M96.3 472.2h0M86.2 493.7h0M104.2 448.2h0M102.2 439h0M62.8 463.6h0M92.7 489.8h0M70.5 481.8h0M65.3 425.1h0M66.9 481.7h0M95.2 449.1h0M61.1 490.5h0M85.3 436.8h0M50.2 421.7h0M100.8 439.8h0M65.6 482.7h0M92.6 457.4h0M92.5 479.2h0M103.8 447.7h0M87.5 487.2h0M60.7 483.7h0M71 477.8h0M67.1 458.8h0M87 458.9h0M94.7 445.4h0M91.2 475.7h0M92.2 479.4h0M67 456.2h0M71.1 498h0M81.6 435h0M108.3 451.9h0M95.6 439h0M89.2 440h0M82.6 487.6h0M87.8 486.5h0M89.7 476h0M58.8 441.6h0M78.8 464.3h0M102.1 467.9h0M74.1 439.3h0M94.9 464.5h0M48.1 418.4h0M95.8 473.7h0M94.4 472.9h0M77.8 493.8h0M70.1 429.7h0M82 483.2h0M70.3 467.9h0M73.4 430.5h0M103.2 445h0M89.1 457.4h0M60.9 433.3h0M81.2 453.5h0M62.2 458.5h0M90.4 469.7h0M47.9 461.3h0M79.2 443.3h0M88.2 474.3h0M101 446.6h0M87.9 445.3h0M62.1 458.8h0M75.6 432.3h0M104.5 443.2h0M92.2 482.4h0M58.7 433.3h0M53.5 466.5h0M82.4 492.1h0M59.4 428.2h0M63.5 437h0" stroke="#b2182b" stroke-width="1.7" stroke-linecap="round" fill="none"/>
<path d="M98.1 467.1h0M90.4 482.5h0M55.3 452.9h0M71.7 450.7h0M87 437.1h0M63.1 487.3h0M93.5 486.8h0M84.6 480.9h0M63.1 439.6h0M93.6 460h0M65 442.9h0M55 442.3h0M104.2 467.5h0M71.5 447h0M94.1 450.9h0M85.7 493.5h0M85.1 443.4h0M100 440.6h0M67.6 434.4h0M77.7 446.2h0M59.3 469.2h0M90.8 481.2h0M99 442.4h0M78.7 463.9h0M90.1 447.9h0M100 437.4h0M47.8 453.4h0M63.6 443.9h0M75.7 448.8h0M74.9 428.5h0M75.2 481.6h0M54.4 438.6h0M91.9 461.2h0M62.5 431.4h0M75.6 471.2h0M73.6 476.4h0M95.2 442.8h0M69.1 442.9h0M112.2 442.3h0M90.1 445.2h0M96.6 481h0M68.9 497h0" stroke="#f4a582" stroke-width="1.7" stroke-linecap="round" fill="none"/>
<path d="M103 448.6h0M55.1 453.9h0M84.5 465h0M103.2 436.4h0M81.4 448.8h0M105.7 442.9h0M61.3 446.8h0M80.1 488h0M70.5 465.3h0M71.5 480.1h0M79.8 460.6h0M78.7 457.4h0M98.6 454.1h0M78.5 475.2h0M102.4 453.6h0M71 459.9h0M69.2 426h0M47.9 459.2h0M73.2 453h0M73.9 468.1h0M89.1 463.8h0M93 485.5h0M89.5 441.7h0M84.3 488.9h0M60.6 487.7h0M81.7 471.4h0M72.4 454.9h0M92.2 435.1h0M81.5 467.4h0M70.1 480.1h0M97 453.7h0M66.2 496.5h0" stroke="#d6604d" stroke-width="1.7" stroke-linecap="round" fill="none"/>
<path d="M86.4 492.4h0M74.8 441.7h0M79.5 476.7h0M92.2 440.9h0M61.7 488.3h0M88 469.8h0M56.1 426.8h0M81 454.7h0M84.4 469.4h0M102 439h0M63 445.5h0M64.3 468.8h0M99.5 433.5h0M97.2 476.7h0M86.8 456.6h0M105.4 437.7h0M94.2 477.3h0M80.8 465.4h0M55.8 462.5h0M81.7 457.5h0M55.7 424.2h0M64.3 430.5h0M82.2 468.1h0M79.8 461.5h0M67.2 478.5h0M82.8 459.6h0M60 487.9h0M95.6 458.5h0M80.2 455.6h0M62.6 492.2h0M108.3 457.5h0M78.7 428.2h0M68.4 496.4h0M69.8 497.7h0M111.3 455.3h0M82.8 432.2h0M78.7 472.4h0M66.1 429.2h0M60.2 424h0M59.9 428.9h0M91.3 472.1h0M80.8 481.8h0M89.1 475.2h0M91.6 481.7h0M62.3 438.1h0M71.2 482.6h0M83.7 482.3h0M93.5 489.3h0M105.5 462.7h0M84.6 469.2h0M67.6 429.9h0M95.6 481.5h0M62.1 490.9h0M51.2 423.9h0M67.7 500.4h0M101 465.1h0M76.2 467.9h0M110.1 457.4h0M105.2 455.8h0M61.9 452.8h0M78.3 452.2h0M101.9 438.5h0M72.1 428h0M81.2 430.1h0M101.7 437.6h0M76.7 470h0M74.3 431.8h0M97.5 440.4h0M81.3 465.2h0M67.9 502.4h0M110 452.5h0M101.6 474.3h0M95.6 467.4h0M75.4 453.5h0M103.9 456.2h0M78 462h0M86.2 480.6h0M91.6 474.4h0M91.6 459.8h0M67.5 484.2h0M89 472.3h0M70.7 428h0M89.4 470.8h0M106.9 458.6h0M97.5 447.1h0M89.6 463.3h0M65.7 431.4h0M83.5 484.2h0M76.2 427.7h0M81.7 462.7h0M95.3 439.1h0M53.5 423.2h0M79.3 457.3h0M90.3 481.8h0M73.6 462.3h0" stroke="#b2182b" stroke-width="1.7" stroke-linecap="round" fill="none"/>
<path d="M33.5 463h0" stroke="#c6dcea" stroke-width="1.7" stroke-linecap="round" fill="none"/>
<path d="M39.3 462.8h0M42 474.2h0M41.7 452.2h0" stroke="#fbdccb" stroke-width="1.7" stroke-linecap="round" fill="none"/>
<path d="M37.9 456.4h0" stroke="#4393c3" stroke-width="1.7" stroke-linecap="round" fill="none"/>
<path d="M38.4 460.6h0M44.9 459.8h0" stroke="#c6dcea" stroke-width="1.7" stroke-linecap="round" fill="none"/>
<path d="M34.3 463.2h0M35.9 466.3h0M39.4 469.8h0" stroke="#f2f2f2" stroke-width="1.7" stroke-linecap="round" fill="none"/>
<path d="M90.3 436.9h0M79.7 448.2h0M88.9 440.2h0M42.1 448.5h0M77 495.1h0M80.9 441.3h0M84.7 468.2h0M72.1 478.8h0M82.7 480.1h0M64 461.6h0M57.6 466.5h0M63 441.9h0M61.5 463.6h0M59.1 456.3h0M59.8 485.6h0M87 490.8h0M66.9 455.3h0M86.1 434.2h0M84.2 449.6h0M59.7 466.9h0M63 487.8h0M76.8 443.8h0M64.4 480.1h0M64 478.5h0M65.4 487.8h0M57.7 444.2h0M88.4 437.1h0M103.6 454.9h0M64.9 424.7h0M72.5 445.2h0M66.3 431.2h0M57.6 459.2h0M70.5 462.9h0M59.6 453.9h0M86.8 455.1h0M67.3 433.2h0M110.3 445.2h0M81.1 453.7h0M74.1 436.4h0M94.7 442.8h0M80.5 454.4h0M80.5 435.2h0" stroke="#f4a582" stroke-width="1.7" stroke-linecap="round" fill="none"/>
<path d="M96.9 466.9h0M83.2 453.2h0M93.2 468.2h0M48.9 456.1h0M52.5 445h0M61.5 486.3h0M45.2 445.4h0M43.2 450.9h0M75.3 484.2h0M72.2 496h0M79.3 480.2h0M51.2 468.3h0M91.6 450.3h0M55.3 465.5h0M81.7 487.1h0M75.7 466.2h0M77 492.1h0M82.7 468h0M55.5 455.2h0M105.9 447.7h0M57.7 434.4h0M48 455.6h0M48.5 451.8h0M51.9 422h0M107.9 451.9h0M77 468.9h0M50.9 462.8h0M63.4 462.6h0M55.1 441.9h0M101.6 458.5h0M50.4 460.3h0M83.1 460.6h0" stroke="#fbdccb" stroke-width="1.7" stroke-linecap="round" fill="none"/>
<path d="M92.1 447.4h0M90.8 442.7h0M67.2 453h0M97.7 446h0M72.6 456.1h0M70.2 435.6h0M67.2 425.1h0M48.4 440.8h0M61.8 477.4h0M65.8 473.8h0M78.3 441.6h0M47.6 477h0M57.6 465.4h0M99.2 436.9h0M51.1 458.8h0M59.5 447.6h0M72.7 442.9h0M60.4 458.9h0M100.6 454.2h0M105.9 456.3h0M83.7 488.6h0M54.8 461.6h0M61 475.3h0M57 479.6h0M85.7 486.2h0M70.2 458.7h0M69.4 466.1h0M70 473.4h0M81.9 448.8h0M66.9 479.2h0M55.4 465.6h0" stroke="#d6604d" stroke-width="1.7" stroke-linecap="round" fill="none"/>
<path d="M42.5 467.3h0M43.4 474.4h0M40.5 472.4h0M42.5 457.1h0M45.8 470.4h0" stroke="#f4eeee" stroke-width="1.7" stroke-linecap="round" fill="none"/>
<path d="M57.2 461.8h0M55.7 458.7h0M64.3 485.4h0M56.9 426.7h0M69 447.6h0M72.2 488.7h0M60.4 455h0M70.6 499.4h0M58.8 471.7h0M64.6 496.7h0M111.2 443.2h0M77.9 469.7h0M55.4 476.1h0M74.2 448.3h0M103 446.2h0M74.1 475.1h0M106.2 447.6h0M107.9 438.9h0M60.8 438h0M79.7 493.8h0M90.4 463.8h0M58.7 467.1h0M60.4 457.5h0M93.8 446.1h0M87.5 469.7h0M58.5 456.5h0M85.6 485.5h0M81.9 446.2h0M82.2 468.7h0M103.4 455.7h0M95 472.6h0M88.9 437.4h0M74.7 462.8h0M96.4 444.8h0M86.2 458.6h0M102.5 463.2h0M59.5 481h0M57.6 462.5h0M62.4 455.9h0M73.4 465.2h0M95.4 463.9h0" stroke="#f4a582" stroke-width="1.7" stroke-linecap="round" fill="none"/>
<path d="M38.5 459.2h0M43.3 458.4h0" stroke="#fbdccb" stroke-width="1.7" stroke-linecap="round" fill="none"/>
<path d="M35.3 462.4h0M36.3 465.2h0M37.6 470.3h0" stroke="#f2f2f2" stroke-width="1.7" stroke-linecap="round" fill="none"/>
<path d="M46.6 470.3h0M44.5 462.4h0M43.1 468.2h0M46.2 473.3h0" stroke="#f4eeee" stroke-width="1.7" stroke-linecap="round" fill="none"/>
<path d="M64.9 469h0M75.3 449.1h0M87.3 480.1h0M93.4 466.3h0M90.7 444.5h0M99.7 459.1h0M91.8 483.4h0M63.7 490.4h0M72.1 440.1h0M95.2 466.3h0M78.9 448.1h0M91.5 464h0M55.9 428.4h0M81.5 494.3h0M98.7 442.3h0M86.1 453.5h0M99.8 464.3h0M64 490.1h0M66.3 443.6h0M98.2 466.9h0M80.9 488.1h0M99.9 453.9h0M86.3 464.9h0M75.6 451.1h0M96.9 463.4h0M100.9 472.3h0M76 484.4h0M102.9 468.7h0M93.8 474.5h0M108.4 437.4h0M76.5 435h0M68.5 491.3h0M99.1 464.1h0M65.6 470h0M70 458.5h0M65.9 470.5h0M90.4 465h0M60.2 468.8h0M73.9 432.4h0M108.2 454.4h0M83.7 437.7h0M75.7 477h0M86.3 456.1h0M68 434.8h0M75.8 429.3h0M97.1 446.9h0M68.9 479h0M59.3 446.4h0M57.7 477.1h0M104.8 443.4h0M81.8 433.9h0M101.5 468.4h0M79.3 439.4h0M50.6 423.3h0M100.1 438.9h0M103.2 440.9h0M69.3 428.3h0M51.1 424.2h0M110.2 454h0M95 460.4h0M70.5 463.3h0M67.2 500.4h0M109 455.7h0M101.7 468.4h0M90.9 454.2h0M78.3 445.5h0M81.1 471.8h0M93 435.6h0M66.9 438.5h0M94.9 465.2h0M70.1 426.9h0M80.1 434.8h0M91.7 454.1h0M67.6 430.9h0M82.6 459.4h0M106 443.1h0M96.3 444.7h0M104.8 442.7h0M98.2 461h0M97.6 480.2h0M70.3 426.1h0M90.3 471h0M103.1 451.1h0M82.6 476.5h0M54.3 477.6h0M58.6 429.2h0M67.7 429.7h0M65.2 440.2h0M71.4 446.1h0M58.5 428.8h0M73 443.6h0M68.9 481.8h0M80.4 479.1h0M68.1 430.3h0M111 455h0M76.4 487.5h0" stroke="#b2182b" stroke-width="1.7" stroke-linecap="round" fill="none"/>
<path d="M72.9 456.9h0M47.2 469.3h0M109.1 441.1h0M88.3 446.6h0M69.9 453h0M66.5 441.4h0M56.8 463.6h0M51.3 462.4h0M63.9 448.3h0M79.8 482.8h0M72 460.6h0M101.7 471.7h0M85.2 472.1h0M97.8 443.6h0M53.5 451.5h0M55.9 440.7h0M64.3 458.5h0M52.9 455.6h0M95.5 472.5h0M64.5 460.4h0M99.4 455.1h0M79.6 445.7h0M49.7 458.9h0M44.1 447h0M50.1 474.9h0M96.1 466.2h0M99.6 433.5h0M107.7 435.8h0M98.3 457.9h0M93.2 485.8h0M64.3 453.4h0M66.8 474.3h0" stroke="#d6604d" stroke-width="1.7" stroke-linecap="round" fill="none"/>
<path d="M41.1 454.7h0" stroke="#4393c3" stroke-width="1.7" stroke-linecap="round" fill="none"/>
<path d="M46.9 472.7h0M42.2 456.6h0" stroke="#c6dcea" stroke-width="1.7" stroke-linecap="round" fill="none"/>
<path d="M33.1 465.6h0M35.4 459.7h0" stroke="#c6dcea" stroke-width="1.7" stroke-linecap="round" fill="none"/>
<path d="M36.2 460.3h0" stroke="#2166ac" stroke-width="1.7" stroke-linecap="round" fill="none"/>
<path d="M36.8 457.9h0" stroke="#4393c3" stroke-width="1.7" stroke-linecap="round" fill="none"/>
<path d="M103 437.5h0M108.9 446.4h0M47.8 472.1h0M101.3 474.5h0M50.6 451.2h0M52.4 425.6h0M78.3 428.9h0M60.2 438.9h0M61.6 477.9h0M51.4 440.5h0M66.7 478.7h0M83.6 464.1h0M73.2 452.7h0M63 434.8h0M75 437.8h0M109.1 438.6h0M49.3 457.6h0M51.4 460.9h0M58.9 449.4h0M96 486.4h0M56.8 458.8h0M52.8 447.5h0M52.2 457.1h0M69 496.8h0M70.8 434.7h0M77.6 440.4h0M111.7 445.2h0M89.3 493h0M95.6 454.7h0M49.3 451.8h0M52.5 461.5h0M57.8 458.5h0M54.5 474h0" stroke="#fbdccb" stroke-width="1.7" stroke-linecap="round" fill="none"/>
<path d="M41.4 462.5h0" stroke="#c6dcea" stroke-width="1.7" stroke-linecap="round" fill="none"/>
<path d="M35.2 467.9h0" stroke="#4393c3" stroke-width="1.7" stroke-linecap="round" fill="none"/>
<path d="M36.9 460.2h0" stroke="#c6dcea" stroke-width="1.7" stroke-linecap="round" fill="none"/>
<path d="M45.1 444.5h0M80 466.5h0M44.5 448.1h0M59.9 482.6h0M50.3 456.9h0M110.2 454.8h0M100.9 458.3h0M46.4 443.7h0M60.7 475.2h0M61.3 487.4h0M69.1 445.5h0M89 452.4h0M46 444.8h0M64.7 482.1h0M86.9 489h0M66.1 463.1h0M49.8 459.7h0M105.5 455h0M52.4 465.6h0M60.8 447.9h0M86 493.4h0M49.9 460.4h0M42.2 445.8h0M46.1 443h0M71 434.7h0M104 436.4h0M52.6 445.4h0M100.5 442.9h0M103.5 441.2h0M92.7 446.9h0M67.3 452.5h0M51.4 424.7h0" stroke="#fbdccb" stroke-width="1.7" stroke-linecap="round" fill="none"/>
<path d="M40.9 458.3h0M45.6 475.2h0M42.2 470.4h0M45.7 459.9h0M38.4 455.6h0" stroke="#f4eeee" stroke-width="1.7" stroke-linecap="round" fill="none"/>
<path d="M34 470.5h0M39.1 468.5h0M35.3 471.1h0" stroke="#f2f2f2" stroke-width="1.7" stroke-linecap="round" fill="none"/>
<path d="M40.4 471.1h0" stroke="#4393c3" stroke-width="1.7" stroke-linecap="round" fill="none"/>
<path d="M78.8 437.2h0M91.4 454h0M63.6 458.1h0M95 444.3h0M71.2 467.8h0M67.6 437.7h0M84.8 458.3h0M88.8 477.6h0M95.6 481.5h0M90 446.8h0M103.3 457.3h0M81.5 483.3h0M82.3 461.2h0M93.7 464.1h0M74.3 432.3h0M66.7 483.5h0M92.2 482.8h0M71.4 467.4h0M54.1 422.6h0M68 430.3h0M71 456.3h0M103.3 463.1h0M54.6 456.6h0M62.9 487h0M82.3 466.3h0M78.6 479h0M97.1 473.9h0M63.8 473h0M65.3 491.8h0M92.7 463.2h0M64 481.5h0M87.3 463.8h0M100.1 457.1h0M76.6 445.3h0M64 432.4h0M80.8 435.3h0M89.1 462.9h0M92.5 454.6h0M73.6 445.5h0M101.1 446.7h0M65.3 476h0M49.2 448h0M71.9 497.1h0M73.6 438.9h0M67.4 463h0M80.1 455.8h0M58.2 423.2h0M87.3 455.3h0M69.6 425.4h0M70.4 482h0M76.9 459.5h0M93.3 470.1h0M67.5 452.2h0M85.4 445.4h0M60.5 454.7h0M57.5 432.8h0M63.4 493.2h0M97.6 470h0M60.3 427.2h0M62.2 485.6h0M62.1 425.6h0M90.2 442.1h0M76.5 439h0M83.8 461.6h0M54.7 452.7h0M91.9 478.9h0M89.9 465.5h0M66.8 486.7h0M80.4 470.8h0M81.1 471.1h0M80.5 468.7h0M91.2 470.8h0M71.9 484.9h0M60.6 488.3h0M65 466.5h0M100.6 455.8h0M59.9 429.6h0M86.3 436.9h0M107.6 452.8h0M69.5 501.7h0M92.6 473.8h0M65.1 476h0M91.2 443.5h0M65.5 468h0M96.1 459h0M104.4 436.7h0M91.1 468.4h0M68.8 433.1h0M70 475.5h0M96.2 439.4h0M107.4 444.3h0M88.1 450.7h0M63.3 469.2h0M77.4 478.7h0M73.2 426.5h0" stroke="#b2182b" stroke-width="1.7" stroke-linecap="round" fill="none"/>
<path d="M43.7 471.3h0M42.3 456.5h0M43.2 474.4h0" stroke="#fbdccb" stroke-width="1.7" stroke-linecap="round" fill="none"/>
<path d="M78.7 459.8h0M68.1 430.5h0M91.5 444.1h0M87.4 483.3h0M101 465.9h0M110.2 436.7h0M69.2 494.9h0M56.5 465.3h0M87.8 448.4h0M69.1 468.2h0M74 447.3h0M93.4 452.3h0M90.1 478.4h0M52.4 442.1h0M81.1 447.2h0M105.2 447.3h0M80.3 453.7h0M58 462.3h0M69.5 492.5h0M73 478.5h0M78.3 452.3h0M98.7 449.9h0M75 492.6h0M65.5 442.1h0M91 455.1h0M79.6 447.8h0M61.5 468.2h0M62.8 483.6h0M57.2 438.8h0M58.5 435h0M57.6 470.7h0M92.8 435.6h0M57 467.6h0M60.2 426.3h0M77.4 441.8h0M43.5 451.7h0M64.5 447.3h0M103.8 460.8h0M96 456.1h0M64.1 471.1h0M82.9 490h0M70.6 498.2h0" stroke="#f4a582" stroke-width="1.7" stroke-linecap="round" fill="none"/>
<path d="M98.2 448.5h0M63.6 470.8h0M84.3 447.7h0M89.5 436.8h0M98.7 438.6h0M62.8 473.3h0M100.5 457h0M88.5 445.3h0M68.5 461.8h0M97.2 439.6h0M50.8 450.6h0M67.4 464.7h0M58.4 438.8h0M93.3 439.7h0M86 467.6h0M88.5 440.5h0M51.8 448.4h0M77.2 478.8h0M82.2 489.5h0M84.7 464.4h0M51.6 474.5h0M111.4 437.4h0M100.1 433.8h0M83.8 471.1h0M68.3 450.2h0M60.8 437.8h0M70.8 465.2h0M91.9 439.6h0M83 486.3h0M96.4 451.4h0M110 441.3h0M51.8 462.2h0" stroke="#d6604d" stroke-width="1.7" stroke-linecap="round" fill="none"/>
<path d="M100.9 434.5h0M75.3 443.4h0M64.1 474.9h0M58.5 433.1h0M74.8 437.5h0M75.3 480.1h0M88.4 474.1h0M77.4 494.1h0M82.6 456.3h0M76.1 430.8h0M67.5 452.7h0M62.4 477.5h0M86.4 464.8h0M78.1 455.6h0M83.7 457.7h0M88.8 491.9h0M96.3 454.7h0M81.8 478.2h0M53.6 425.2h0M72.6 488.3h0M85.6 470.3h0M71.6 462.5h0M62.1 470.6h0M68.5 451.6h0M95.7 478.1h0M85.2 462.2h0M77.4 470.2h0M60.4 431.2h0M73.1 430.3h0M77.6 439h0M67.4 426.4h0M100.3 457.6h0M69.5 435.2h0M70.3 446.4h0M67.1 477.1h0M51.8 422.2h0M72.2 497.8h0M74.3 474.3h0M69 477.7h0M98.5 479.9h0M85.8 492h0M104.8 467h0M76.6 462.8h0M74.8 470.2h0M77.1 457.2h0M73.6 432.5h0M91.9 443.3h0M83.4 432.1h0M63 474.3h0M103 455.9h0M83.2 478.4h0M81.8 430.6h0M94 482.3h0M89.9 454.1h0M86.1 481h0M99.4 444.9h0M105.9 443.3h0M67.8 432.9h0M70.4 437h0M76.4 457.2h0M75.3 438.2h0M70.5 498h0M65.3 431.8h0M67.8 501.7h0M69.6 430h0M74.8 457.1h0M100.6 447.6h0M75.9 457h0M82.5 478.9h0M96.8 481.5h0M79.9 482.4h0M58 446.4h0M93.2 481.5h0M59.7 464.6h0M76.7 451.7h0M85.1 450.6h0M76.6 491.3h0M89.6 445.5h0M71.3 495.9h0M75.9 491.8h0M83.6 469.7h0M82.2 453.9h0M95.2 478.2h0M62.2 479.6h0M87.2 464.9h0M80.2 446.2h0M80.3 436.5h0M108.6 460.3h0M71.2 430.9h0M108.4 453.1h0M74.1 428.5h0M62 485.2h0M56.7 431h0M84.9 471.6h0M68.6 473.5h0" stroke="#b2182b" stroke-width="1.7" stroke-linecap="round" fill="none"/>
<path d="M41.1 453.6h0M46.9 463.9h0M41.7 467.3h0" stroke="#fbdccb" stroke-width="1.7" stroke-linecap="round" fill="none"/>
<path d="M33.8 465.2h0" stroke="#4393c3" stroke-width="1.7" stroke-linecap="round" fill="none"/>
<path d="M90.4 487.9h0M49.6 468.9h0M54.8 477.8h0M66.6 427.5h0M79.8 455.1h0M53.1 444.6h0M58.9 470.4h0M49.4 454.8h0M51.8 459.9h0M106.9 442.3h0M69.7 479.8h0M69.4 453.1h0M52.2 444.2h0M78 430.1h0M53.3 438.9h0M77 446.1h0M49.9 475.1h0M97.7 437.1h0M92 433.9h0M63.6 453.8h0M59.6 473.4h0M66.9 453.7h0M87 471.9h0M85.2 447.5h0M61.2 468.5h0M74.6 452h0M85.5 437.2h0M81.1 492.7h0M100.3 445.4h0M69.4 455.9h0M57.1 465.7h0M61 430.4h0" stroke="#d6604d" stroke-width="1.7" stroke-linecap="round" fill="none"/>
<path d="M42.9 469.1h0M45.3 475.8h0M39.5 463.1h0M41.2 459.4h0M46.3 466.9h0" stroke="#f4eeee" stroke-width="1.7" stroke-linecap="round" fill="none"/>
<path d="M38.9 472.1h0" stroke="#c6dcea" stroke-width="1.7" stroke-linecap="round" fill="none"/>
<path d="M40.3 454.7h0M45.5 467.2h0" stroke="#c6dcea" stroke-width="1.7" stroke-linecap="round" fill="none"/>
<path d="M56.1 459h0M105.1 463.8h0M50.2 472h0M49 476.9h0M47.5 464.6h0M90.2 462h0M56.8 425.6h0M49.6 459.1h0M82.7 436.8h0M59.3 468.4h0M86.1 436h0M100.5 453.2h0M46.9 447.4h0M69.1 495.2h0M73.2 438.5h0M64.4 454.9h0M59.3 472.8h0M97 463.3h0M87.9 446.1h0M42.5 449.9h0M52.9 449.5h0M49.9 466h0M90.9 467.8h0M63.1 469.9h0M47.6 450.8h0M99.4 473.5h0M48.1 454.6h0M95.1 482.6h0M68.2 425.3h0M62.3 471.4h0M95.5 449.2h0M103.2 451.5h0M52.1 468.6h0" stroke="#fbdccb" stroke-width="1.7" stroke-linecap="round" fill="none"/>
<path d="M96.5 447.7h0M57 445.3h0M82.5 490h0M55.8 441.1h0M84.2 479.1h0M48.7 454.2h0M77.3 489h0M62.7 468.6h0M72.8 429.1h0M91.5 489.5h0M59.5 477.2h0M89.5 458.4h0M79.2 460.8h0M99.9 455.4h0M89 455.2h0M100.8 465.3h0M97 441h0M56.2 464.5h0M67.6 487.9h0M99.6 477.4h0M101.9 451.3h0M104.5 444h0M91.1 471.3h0M94.5 480.9h0M60.9 459.3h0M78.5 443.9h0M68.2 442.3h0M64.6 433.6h0M54.9 461.9h0M109 440.4h0M101.4 437.8h0M45.6 448.8h0M79.5 460.3h0M68.9 467.9h0M105 464.8h0M100.8 457.7h0M81.4 489.7h0M60.8 469.5h0M96.5 462.1h0M70.9 468.7h0M95.7 464.1h0M55.8 470.4h0" stroke="#f4a582" stroke-width="1.7" stroke-linecap="round" fill="none"/>
<path d="M35.9 465.1h0M34.5 465.4h0M35.8 465.1h0" stroke="#f2f2f2" stroke-width="1.7" stroke-linecap="round" fill="none"/>
<path d="M41.4 461.4h0" stroke="#4393c3" stroke-width="1.7" stroke-linecap="round" fill="none"/>
<path d="M45.9 462.4h0" stroke="#4393c3" stroke-width="1.7" stroke-linecap="round" fill="none"/>
<path d="M38 468.4h0" stroke="#4393c3" stroke-width="1.7" stroke-linecap="round" fill="none"/>
<path d="M37.2 463.5h0M35.6 469h0M31.7 461.1h0" stroke="#f2f2f2" stroke-width="1.7" stroke-linecap="round" fill="none"/>
<path d="M35.1 461.2h0" stroke="#c6dcea" stroke-width="1.7" stroke-linecap="round" fill="none"/>
<path d="M44.9 458.3h0M41.8 455.5h0" stroke="#fbdccb" stroke-width="1.7" stroke-linecap="round" fill="none"/>
<path d="M42.1 457.4h0M39.5 466.1h0" stroke="#c6dcea" stroke-width="1.7" stroke-linecap="round" fill="none"/>
<path d="M36.7 459.2h0" stroke="#2166ac" stroke-width="1.7" stroke-linecap="round" fill="none"/>
<path d="M45.8 462h0M42.1 462.7h0M45.9 459.4h0M38.6 455.6h0" stroke="#f4eeee" stroke-width="1.7" stroke-linecap="round" fill="none"/>
<path d="M84.4 488.1h0M82.7 475.4h0M76.3 484.9h0M84 433.2h0M88.1 474.5h0M70.5 490.3h0M61.8 432.6h0M85.9 462.7h0M93.9 456.5h0M100.3 465.3h0M86.6 489h0M59 480.5h0M84.1 435h0M79.5 462.5h0M83.2 439.3h0M79.2 434.4h0M75.7 451.6h0M105 451h0M81.7 446.6h0M72.8 435.6h0M71.2 472.5h0M76.9 429.3h0M72.8 449.2h0M60.9 468.5h0M85.7 439.1h0M49.1 420.8h0M75.6 468.8h0M68.8 476.2h0M74.1 484.2h0M94.1 482.4h0M69.7 470.3h0M50.2 421.8h0M106.8 448.2h0M107.2 447h0M54.6 463.5h0M77 463h0M57.4 437.8h0M72.9 438.2h0M102.6 434.7h0M85.1 436.2h0M99.6 459.5h0M77.7 455.8h0M70.7 473h0M95.5 452.5h0M70.1 445.7h0M68.1 494.9h0M76.5 440.1h0M59 433.5h0M83.3 451.6h0M72.4 429.5h0M75.1 444.2h0M92.8 467.9h0M85.1 485h0M76.1 433.9h0M100 471.7h0M93.6 447.2h0M76.3 437.3h0M53.8 425.7h0M94.9 439.1h0M63.9 431.9h0M64.1 486.2h0M73.6 482.6h0M86 482.3h0M77.4 469.8h0M85.1 449.6h0M67.4 475.3h0M79.5 458.2h0M59.7 463.8h0M73.5 494.7h0M101.2 455.1h0M107.3 453.6h0M65.8 485.6h0M69.3 488.3h0M50.7 422.3h0M69.3 432.9h0M81.7 493.4h0M88.1 471h0M105.5 458.6h0M59.9 476.9h0M65.3 468.6h0M92.3 478.2h0M71.1 491h0M63.4 435.9h0M64.7 480.8h0M93.6 468h0M95 485h0M79.5 464.6h0M58.7 432h0M57.4 438.2h0M56.1 440.2h0M67.8 459.6h0M64.1 468.7h0M81.2 460.5h0M76 492.8h0M74.8 445.7h0" stroke="#b2182b" stroke-width="1.7" stroke-linecap="round" fill="none"/>
<path d="M82.1 476h0M83.4 475.3h0M66.2 447.6h0M66.2 448.3h0M75.7 458.4h0M98.5 453.9h0M102.6 441.7h0M63.7 442.7h0M107 463h0M81.4 468.8h0M98.1 470.9h0M86 446.3h0M92.2 487.4h0M85 445.4h0M86.8 455h0M61.6 438.8h0M62.7 471.4h0M71.6 479.3h0M100.8 462.8h0M90.2 475.7h0M95.4 472.4h0M84.8 472.4h0M69.4 450.9h0M56.1 440.4h0M76.6 493.5h0M95.9 477.5h0M77 492.1h0M101.8 450.3h0M75.4 443.5h0M99.5 448.7h0M97.1 450h0M47.4 444.8h0M93.1 454.7h0M61.9 437h0M107.9 462.4h0M73.9 479.2h0M109.6 443.1h0M108.4 456.8h0M87 490.6h0M75.3 447.7h0M80.4 438h0" stroke="#f4a582" stroke-width="1.7" stroke-linecap="round" fill="none"/>
<path d="M68.9 480.6h0M97.5 459h0M50.6 476.3h0M79.2 453.8h0M48.7 467.3h0M53.7 455.6h0M81.1 467.6h0M53.6 449.1h0M102.1 460h0M97.6 439h0M70.9 450.5h0M42.1 449h0M76.5 492.3h0M93.6 436.8h0M49.7 460.8h0M99.9 461.2h0M51 450.9h0M108.8 440.2h0M58.5 476.4h0M98.9 469.4h0M88.3 439.7h0M94.9 451.6h0M47.6 472.6h0M70.8 469.7h0M55.3 449.4h0M92.1 434.8h0M48.5 469.8h0M106.3 436.1h0M53.3 441.5h0M50.7 468.1h0M59.4 446.1h0M52.5 443.1h0" stroke="#fbdccb" stroke-width="1.7" stroke-linecap="round" fill="none"/>
<path d="M89.6 467.2h0M70.9 477.7h0M109.2 444.4h0M88.6 437.9h0M58.6 455.4h0M47.4 462.8h0M83.4 447h0M78.9 462.6h0M78 457.7h0M51.9 445.7h0M66.6 477.2h0M75.9 479.7h0M110.7 445h0M70.2 497.7h0M64.7 471h0M62.1 434.1h0M92.5 451.1h0M88.1 437.4h0M100.7 463.8h0M108.7 455.6h0M96.4 476.3h0M82.6 437.2h0M96 481.1h0M70.5 482.6h0M91.3 486.5h0M108.7 448.9h0M84 432.4h0M54.2 477.7h0M50.8 420.5h0M57.8 457.8h0M54.2 450.8h0M103.5 441.1h0" stroke="#d6604d" stroke-width="1.7" stroke-linecap="round" fill="none"/>
<path d="M42.7 474.1h0M45.4 454h0M45.2 460.4h0M46.3 467.6h0M43.8 456.8h0" stroke="#f4eeee" stroke-width="1.7" stroke-linecap="round" fill="none"/>
<path d="M56.4 476.5h0M92.5 487.6h0M60.5 471.2h0M44.4 446.3h0M51.4 471.1h0M77.4 447.7h0M81.5 435.8h0M41.6 447.5h0M72.5 437.7h0M111.8 452.6h0M57.1 445.5h0M52.4 461.4h0M57.6 465.7h0M62.2 425.3h0M84.5 474.5h0M53.1 465.3h0M80.2 458.7h0M55.8 464.5h0M79.6 452.2h0M96.1 444.3h0M58.3 477.2h0M53.9 442.8h0M47.2 443.7h0M50.8 462.8h0M105.4 460.4h0M108.1 462.4h0M56.6 468.5h0M100.3 448.1h0M66.8 443.3h0M102.5 459.3h0M50.9 477.8h0" stroke="#d6604d" stroke-width="1.7" stroke-linecap="round" fill="none"/>
<path d="M50.2 473.7h0M47.3 460.2h0M59.7 462.1h0M49.1 443.5h0M56.4 440.3h0M55.7 479.1h0M109.3 441.1h0M61.5 462.4h0M59.8 431.1h0M89 446.7h0M47.1 452.7h0M82.5 451.1h0M47.3 471.3h0M108.1 443.3h0M48.1 473.8h0M54.9 478.2h0M82.9 465.4h0M98 444.1h0M74.2 473.4h0M90.9 482.4h0M77 480.9h0M91.4 453.4h0M51.7 475.2h0M91.9 437h0M82.5 439.3h0M77.7 449.1h0M48.9 465.8h0M54.1 472.7h0M64.2 425.9h0M69.9 444.4h0M61.3 436.3h0M52.8 450.2h0M89.3 448.3h0" stroke="#fbdccb" stroke-width="1.7" stroke-linecap="round" fill="none"/>
<path d="M42.5 458.3h0" stroke="#4393c3" stroke-width="1.7" stroke-linecap="round" fill="none"/>
<path d="M66.3 444h0M66.9 476.4h0M84.8 439h0M75.8 432.5h0M52.7 422.8h0M66.9 462.1h0M78.3 491.5h0M98.1 457.7h0M85.8 460.5h0M78.8 431.5h0M66.6 438.4h0M104 435h0M63.2 431.1h0M68.3 483.5h0M77.2 474.7h0M101.5 464.3h0M66.7 449.1h0M102.5 440.4h0M63.7 489.8h0M91.3 436.2h0M58.5 458.7h0M70.7 447.4h0M64 435.2h0M63.9 491.2h0M79.9 455.9h0M80.6 432.3h0M111.6 441.9h0M71.4 478h0M93.5 482.8h0M86.5 476.7h0M84.1 448.7h0M91.7 467.7h0M106.6 449.9h0M67 461.2h0M83.7 462.5h0M95.9 472.3h0M68.1 476h0M105.5 441.6h0M73.3 440.5h0M67.9 465.7h0M96.2 448.5h0M64.2 490.2h0M66.6 484.3h0M103.8 459.2h0M81.5 485.8h0M97.8 467.5h0M62.4 436.6h0M100.5 449.1h0M99.3 454.7h0M78.2 427.6h0M72.3 427.4h0M71.7 482.8h0M64.6 489.5h0M103.3 450.8h0M61.2 425h0M91.3 465.8h0M66 440.8h0M99.7 463.3h0M83.9 470.4h0M79.2 453h0M91.4 443.6h0M90.3 485.5h0M62.4 489.6h0M52 422.9h0M77.8 431.7h0M79.7 432.6h0M70.5 471.7h0M97.1 465h0M77.4 479.3h0M69.8 488.9h0M71.8 425.7h0M78.4 433.7h0M101.2 442.8h0M70.6 457.1h0M63 429.5h0M65.1 475.3h0M95.4 466.8h0M67.1 481.7h0M74.7 447.5h0M90.2 447.9h0M68.5 464.1h0M83.1 441.1h0M89.1 469.1h0M98.9 434.5h0M107.3 454.9h0M76.9 435.5h0M86 461.6h0M74.5 444.7h0M72.1 434.3h0M78.2 441.7h0M77.8 487.4h0M100.8 452.5h0M71.2 427.6h0M59.6 466.8h0M66.8 426.7h0M88.4 487.2h0" stroke="#b2182b" stroke-width="1.7" stroke-linecap="round" fill="none"/>
<path d="M43.5 460.4h0M41.1 456h0M40.9 471.6h0" stroke="#fbdccb" stroke-width="1.7" stroke-linecap="round" fill="none"/>
<path d="M36.8 469.4h0" stroke="#c6dcea" stroke-width="1.7" stroke-linecap="round" fill="none"/>
<path d="M43.9 472.8h0M39.5 456.6h0" stroke="#c6dcea" stroke-width="1.7" stroke-linecap="round" fill="none"/>
<path d="M62.6 491.2h0M109.6 446.2h0M100.4 461.4h0M86.3 467.2h0M69.9 471.8h0M65.7 494.6h0M111.4 441.2h0M58 483.8h0M76.6 453.2h0M72.3 446.6h0M88.4 448.1h0M94.8 436.3h0M98.7 455.9h0M81.6 488.4h0M86.9 479.5h0M93.1 443.6h0M64 450.3h0M68 501.2h0M69.8 492.2h0M72.2 446.8h0M95.7 484.2h0M63.4 456.5h0M88.1 452.9h0M73.4 491.2h0M96.8 458.9h0M87.5 490.5h0M103 433.6h0M57.3 450.7h0M85.6 435.4h0M77.9 464.3h0M78.8 452.4h0M58 464.9h0M81.4 459.1h0M89.7 460.7h0M57.2 461.6h0M90.1 449.2h0M83.1 448.8h0M106.5 450.8h0M52.5 475.7h0M58.9 436.1h0M110.7 446.1h0M77.6 462.8h0" stroke="#f4a582" stroke-width="1.7" stroke-linecap="round" fill="none"/>
<path d="M35.1 468.9h0M38.4 466.1h0M33.7 465.1h0" stroke="#f2f2f2" stroke-width="1.7" stroke-linecap="round" fill="none"/>
<path d="M61.2 440.2h0M59.4 455.2h0M50.8 448.7h0M49.7 451h0M53.4 469.1h0M57.3 461.3h0M93.3 475.3h0M48.2 462.2h0M47.2 442.3h0M44.5 447.4h0M67.1 461.7h0M54.2 459.8h0M103 440.2h0M89.6 456.7h0M54.1 466.5h0M55 475.6h0M73.3 472h0M88.6 488.3h0M100.1 442.1h0M68 449.9h0M97.6 442.3h0M56.3 458h0M62.7 441.6h0M49.8 460.7h0M56.5 467.3h0M88.1 477.8h0M108.3 458.7h0M79.4 461.8h0M67.5 459.4h0M88 444.3h0M78.2 477.6h0M79.8 435.5h0" stroke="#fbdccb" stroke-width="1.7" stroke-linecap="round" fill="none"/>
<path d="M42.7 459.3h0M41.4 465.4h0M44.2 459.2h0" stroke="#fbdccb" stroke-width="1.7" stroke-linecap="round" fill="none"/>
<path d="M100.2 471.5h0M59.8 479.3h0M94.4 437h0M61.6 484.7h0M88.2 486.5h0M59.3 461.9h0M98.8 475.4h0M103.3 438.4h0M62.3 447h0M68.9 460.6h0M87.9 448.4h0M80.1 472.9h0M79.9 474h0M103.6 463.2h0M70.8 484.4h0M61.9 469.5h0M63.3 467.1h0M66.9 451.4h0M79.8 432.8h0M112.2 443.1h0M102.6 466.4h0M86.1 439.8h0M97.4 477.4h0M98.5 434.6h0M58.1 483h0M85.1 489.5h0M62.6 446.5h0M53.5 452.9h0M82.4 447.3h0M96.2 446.3h0M92 449.4h0M99.6 449.8h0M93.6 442.8h0M99.2 436.5h0M94.9 433.8h0M66.5 487.7h0M67 437.8h0M90.3 479.4h0M84.6 442.8h0M57.2 453.2h0M65.3 447.4h0M59.7 462.5h0" stroke="#f4a582" stroke-width="1.7" stroke-linecap="round" fill="none"/>
<path d="M39.1 455.8h0M42.1 461.3h0M46.2 456.5h0M41.3 469.8h0M44.3 474.6h0" stroke="#f4eeee" stroke-width="1.7" stroke-linecap="round" fill="none"/>
<path d="M66.5 473.4h0M85.1 444.2h0M71.7 455.4h0M94.7 462.5h0M92.8 488.4h0M77.3 453.1h0M97.7 443.2h0M99.1 439.6h0M78.6 460.6h0M79 479.8h0M63.1 445.9h0M92.8 459.6h0M106 436h0M80.8 451h0M92.6 463.1h0M76.9 477.2h0M90.7 476.6h0M99.5 439.5h0M84.6 488.9h0M70.1 482.8h0M81 453.1h0M53.9 425.8h0M92.6 460.9h0M84.1 488.8h0M83.1 484.7h0M76 484.9h0M83.3 479.2h0M78 466.7h0M81.7 447.4h0M71.4 437.7h0M62.1 491.7h0M64 444.3h0M104.1 444.4h0M99.1 447.9h0M55.4 423.6h0M85.8 444h0M107 450.1h0M72.3 456.2h0M101.2 462.9h0M92.8 455.1h0M101.4 450.5h0M65.1 428.1h0M102.9 453.1h0M66 494.2h0M83.5 467.3h0M75.3 458h0M68.8 482.5h0M95.1 481.6h0M64.5 440.6h0M65.6 491.8h0M102.3 458.3h0M89.7 469.8h0M64.3 496h0M90.9 479.5h0M91.6 461.8h0M83.4 436.8h0M69.8 496.2h0M88.9 481.3h0M82 466.1h0M87.3 446h0M98.9 441.8h0M82.1 470.6h0M101.9 457.9h0M62.7 467h0M91.8 459.3h0M91.1 451.1h0M77.5 475.3h0M74.4 432.8h0M82.5 491.7h0M83.5 443.8h0M54.7 427.9h0M89.5 456.7h0M101.2 451.3h0M49.9 421.8h0M67.1 443.3h0M110.1 452.4h0M71.3 471.2h0M94.6 481.2h0M83.7 490.5h0M90.2 449.1h0M82 482.8h0M74.3 472.3h0M58.4 440.7h0M91 483.3h0M83.1 450.7h0M105.2 436h0M98.9 449.4h0M73.1 436.7h0M86.7 474.5h0M87.6 449h0M76.6 446.6h0M75.3 465h0M82.6 476.1h0M57.3 481.5h0M104.9 438.8h0" stroke="#b2182b" stroke-width="1.7" stroke-linecap="round" fill="none"/>
<path d="M45.6 463.3h0" stroke="#4393c3" stroke-width="1.7" stroke-linecap="round" fill="none"/>
<path d="M36.7 460.6h0M37.2 467.6h0M35.3 460.8h0" stroke="#f2f2f2" stroke-width="1.7" stroke-linecap="round" fill="none"/>
<path d="M34.2 461.6h0" stroke="#c6dcea" stroke-width="1.7" stroke-linecap="round" fill="none"/>
<path d="M41.4 463h0M40.5 474.4h0" stroke="#c6dcea" stroke-width="1.7" stroke-linecap="round" fill="none"/>
<path d="M58.3 460.6h0M91.7 434.3h0M53.7 475.6h0M109.9 442.2h0M81 472.7h0M47.5 445.5h0M45.5 445h0M86.9 488.4h0M62 489.8h0M81.5 440.7h0M65.1 453.3h0M49.1 452.5h0M51.5 478.4h0M63.2 454.5h0M50.1 447.3h0M64.3 456.6h0M96.6 457.2h0M84.2 435.7h0M48.7 476.7h0M49.3 461.8h0M92.8 443.4h0M79.3 442.1h0M75.9 462.5h0M58.9 444.3h0M102.3 452.1h0M88.5 444.6h0M91 474.5h0M70.1 434.8h0M68.5 498.4h0M91.8 450h0M96.3 446.1h0M83.8 466.7h0" stroke="#d6604d" stroke-width="1.7" stroke-linecap="round" fill="none"/>
<path d="M37.6 457.8h0" stroke="#4393c3" stroke-width="1.7" stroke-linecap="round" fill="none"/>
<path d="M37.3 464.5h0" stroke="#4393c3" stroke-width="1.7" stroke-linecap="round" fill="none"/>
<path d="M46.1 461.3h0M42.1 462.5h0" stroke="#c6dcea" stroke-width="1.7" stroke-linecap="round" fill="none"/>
<path d="M56.5 427.8h0M107.6 449.5h0M56.9 477h0M57.5 443.5h0M96.1 467.3h0M84.1 484.6h0M86.6 454.4h0M109.4 446.7h0M68 482.7h0M95.6 464.8h0M67.6 487.6h0M86.5 473.9h0M55.4 464h0M47.8 458.3h0M87.7 455.2h0M71.2 479.2h0M48.5 471.1h0M62.8 446.2h0M92.5 451.6h0M101 442.7h0M88.6 488.3h0M80.6 442.1h0M66.9 460.3h0M49.4 456.5h0M59.2 423.5h0M68.9 465.5h0M47.7 467.2h0M79.2 494.7h0M89.6 482.5h0M91.1 487.4h0M61.3 441.4h0M87.7 476.1h0" stroke="#d6604d" stroke-width="1.7" stroke-linecap="round" fill="none"/>
<path d="M39.5 465.9h0M40.3 462.6h0" stroke="#fbdccb" stroke-width="1.7" stroke-linecap="round" fill="none"/>
<path d="M83.9 454.5h0M60.5 444.6h0M94.6 458.5h0M93.5 465.6h0M94.1 455h0M112.5 441.6h0M83.7 454.8h0M54.6 423.2h0M92.5 435.2h0M77.6 477.6h0M77.1 492.6h0M87.5 446.6h0M69.5 459.5h0M106.5 458.1h0M68.2 435h0M58.5 483h0M72.4 457.7h0M85.7 451.5h0M79.5 484.2h0M85.5 469.5h0M110.7 455.3h0M81.5 438h0M87.9 461.5h0M88.2 447.7h0M62.7 425.1h0M104 449.8h0M61.3 429.9h0M101.8 450.9h0M63.4 448.3h0M94.9 440.9h0M84.9 437.3h0M58.4 431.8h0M66.3 427.2h0M95.4 479.2h0M94.6 467.6h0M68.6 469.8h0M95.3 460.6h0M64.5 465.9h0M62.3 467.3h0M78.5 438.2h0M66.6 491.9h0M104.1 437.7h0M67.7 482.9h0M82.1 457.9h0M67.8 469.3h0M70 430.8h0M92.7 461.3h0M61.8 474.3h0M70.8 465.8h0M79.3 484h0M60.8 431.5h0M93.6 467.7h0M73.4 496.3h0M100.9 446.7h0M66.8 497.5h0M95.2 472.3h0M82.5 449.1h0M82.9 474.8h0M91.8 436.1h0M92.8 456.7h0M89 456.3h0M69 431.5h0M57.3 457.6h0M91.9 450.3h0M57.7 428.7h0M75.1 453.2h0M111.5 455.5h0M81.2 470.3h0M67.5 480.2h0M74.3 482.7h0M76.4 469.3h0M70.8 426.3h0M82.9 479.1h0M68.9 448h0M83.1 448.6h0M108.8 461.1h0M76.9 433.3h0M70.9 492.2h0M73 487.1h0M90.4 449.5h0M90.7 467.3h0M77.2 492.5h0M72.6 475.4h0M99.9 471.2h0M111.2 445.5h0M82.8 478.8h0M112.2 446h0M74.8 485.5h0M71.1 428.6h0M80.9 461.1h0M68 434.5h0M77.8 446.6h0M70.8 457.6h0M67.5 469.6h0M109 451.8h0" stroke="#b2182b" stroke-width="1.7" stroke-linecap="round" fill="none"/>
<path d="M45.7 456.1h0" stroke="#4393c3" stroke-width="1.7" stroke-linecap="round" fill="none"/>
<path d="M91.4 465h0M76.6 480.7h0M66.1 439.8h0M112.3 439.8h0M63.8 466.2h0M68.7 490h0M106.3 457.5h0M96.3 462.4h0M94.6 440.7h0M70.9 497.6h0M67.6 439.5h0M106.5 459.3h0M101.7 456.7h0M81.1 493.3h0M68.3 478.8h0M68.9 431.9h0M72.6 458.5h0M80.6 439.3h0M93.1 449.1h0M72 460h0M58.1 436.7h0M60.6 474.5h0M57.3 457h0M101.9 453.8h0M104.8 449.5h0M94.1 440.7h0M75.1 438.7h0M59 426.6h0M56.5 453.3h0M57.9 444.5h0M88.6 451.3h0M84.2 488.3h0M53.9 441.7h0M55.3 444.6h0M71.2 457.2h0M60.1 464.8h0M90.2 479.4h0M69 440.7h0M100.1 435h0M76.4 463.8h0M73.9 470.2h0" stroke="#f4a582" stroke-width="1.7" stroke-linecap="round" fill="none"/>
<path d="M37.9 461.7h0" stroke="#2166ac" stroke-width="1.7" stroke-linecap="round" fill="none"/>
<path d="M38.4 463.3h0" stroke="#c6dcea" stroke-width="1.7" stroke-linecap="round" fill="none"/>
<path d="M43.5 465.1h0M44.5 461.9h0M39.9 466.1h0M43.2 474.9h0" stroke="#f4eeee" stroke-width="1.7" stroke-linecap="round" fill="none"/>
<path d="M36.7 473.1h0M35 463h0M32.4 463.5h0" stroke="#f2f2f2" stroke-width="1.7" stroke-linecap="round" fill="none"/>
<path d="M41 451.4h0M76.7 470.4h0M79.6 462.7h0M75.5 442.9h0M61.2 472.3h0M46.5 446.4h0M57.2 449.1h0M71.1 460.7h0M85.5 489.9h0M62 471.2h0M108 440.2h0M56.7 480h0M53.6 480.1h0M47.9 455.6h0M59.1 459.2h0M60.8 443.3h0M98.7 472h0M113.2 441.5h0M86.7 466.2h0M45 449.9h0M102.7 461.4h0M103 467.8h0M87.7 454.1h0M52.9 455.6h0M80 486.7h0M92 439.2h0M100.2 468.7h0M91.7 459.5h0M95.9 438.1h0M86 477.8h0M62 453.4h0M60.2 463.3h0M94.9 454.4h0" stroke="#fbdccb" stroke-width="1.7" stroke-linecap="round" fill="none"/>
<path d="M44.1 461.4h0M46.3 466.1h0" stroke="#c6dcea" stroke-width="1.7" stroke-linecap="round" fill="none"/>
<path d="M37.8 458.5h0" stroke="#c6dcea" stroke-width="1.7" stroke-linecap="round" fill="none"/>
<path d="M39 466h0M37.9 463.6h0M35.5 458.9h0" stroke="#f2f2f2" stroke-width="1.7" stroke-linecap="round" fill="none"/>
<path d="M38.7 468.4h0" stroke="#4393c3" stroke-width="1.7" stroke-linecap="round" fill="none"/>
<path d="M64.7 446.7h0M48.3 465h0M99 477.7h0M54.3 440.7h0M46.5 450.9h0M46.8 447.5h0M60.3 461.3h0M65.4 431.4h0M63.4 442.7h0M54.6 441.4h0M67 459.3h0M65.6 462h0M73.2 471.1h0M60.3 437.5h0M94.5 462.9h0M57.3 437.1h0M49.1 470.6h0M44.3 447.9h0M49.2 454.5h0M51.4 443.9h0M60.4 432.3h0M47.9 441.2h0M49.5 465.2h0M47.1 475.3h0M53.6 464.9h0M67.9 436.2h0M48.6 446.9h0M47.3 467.6h0M55.5 445.9h0M64.2 470.7h0M49.5 476.8h0M52.6 475.4h0" stroke="#fbdccb" stroke-width="1.7" stroke-linecap="round" fill="none"/>
<path d="M40.3 469.4h0M41.2 454.1h0M45.8 466.5h0" stroke="#fbdccb" stroke-width="1.7" stroke-linecap="round" fill="none"/>
<path d="M44.2 457.3h0" stroke="#4393c3" stroke-width="1.7" stroke-linecap="round" fill="none"/>
<path d="M46.9 474.5h0M46.7 453h0M43.5 457.4h0M46.9 455.5h0M46.4 465.6h0" stroke="#f4eeee" stroke-width="1.7" stroke-linecap="round" fill="none"/>
<path d="M56.8 464.1h0M88.1 464.3h0M68.4 482.1h0M97.6 444.5h0M69 451.9h0M58.2 451.5h0M54.8 439.3h0M53.2 448.4h0M70.2 489.2h0M49.4 444.1h0M84.8 434.5h0M71 498.1h0M69.9 469h0M74 448.1h0M67.5 435.9h0M69.4 449h0M61.1 444.4h0M49.3 467.3h0M54.9 460h0M59.1 441h0M85.7 480.8h0M92.1 435.2h0M64.4 429h0M92.8 474.6h0M86.3 443.6h0M69.2 444.7h0M104.6 434.8h0M57.9 445.4h0M68.8 482.2h0M80.6 437.1h0M61.2 446.6h0M103 443.8h0" stroke="#d6604d" stroke-width="1.7" stroke-linecap="round" fill="none"/>
<path d="M73 429.7h0M76.8 427.1h0M92.5 459.3h0M94.2 481.1h0M89.6 439.3h0M66.5 475.7h0M94 473.9h0M79 468.4h0M71.9 496.7h0M65.7 445.8h0M63.1 473.7h0M68.6 479.1h0M60.5 426h0M94 478.5h0M86.3 479.5h0M71.2 461.1h0M102 435.4h0M92.3 436h0M74.6 446.6h0M78.5 490.8h0M82.6 468.1h0M103.3 443.7h0M89.9 443.8h0M72.7 464.8h0M74.9 439.1h0M79.3 453.7h0M91.3 475.7h0M70.6 448h0M60.4 427.5h0M58 425.6h0M58.7 462.5h0M80.6 454.7h0M75.8 432.3h0M86.5 473.8h0M80.3 432.5h0M104.4 465.1h0M106.9 458.7h0M83.4 455.4h0M86.6 454h0M106 436.4h0M75.8 471.8h0M71.3 447.8h0M64.7 439.5h0M57.9 426h0M72.3 474.6h0M99 464h0M86.6 472.5h0M76.5 485h0M76.7 455.4h0M92.6 445.7h0M69.9 478.7h0M88.2 467.6h0M74 444.4h0M81.4 442.2h0M78.8 459h0M82.3 463.1h0M67 468.5h0M88.5 471.4h0M67.4 424.9h0M64.3 463.5h0M95.7 437.3h0M86.5 434.6h0M94.1 448.9h0M83.3 474.3h0M68.1 428.4h0M74.3 464.8h0M64.9 444h0M71.8 464.9h0M85.1 442.8h0M96.1 437.5h0M97.2 434.7h0M65.4 427.1h0M69.1 453.7h0M79.3 429.6h0M71.4 465.3h0M88.5 484.9h0M64.5 470.8h0M75.9 427.1h0M93.8 476.4h0M91.4 491.3h0M92.4 472h0M83.9 470.5h0M70.2 473.1h0M85.5 464.6h0M110.7 441.7h0M94.2 468.4h0M76.5 476.6h0M100.6 460.4h0M86.6 466.5h0M70.7 440.7h0M67.8 461.4h0M66.2 436.6h0M80.8 449.4h0M49.1 419.8h0M68.7 448.5h0" stroke="#b2182b" stroke-width="1.7" stroke-linecap="round" fill="none"/>
<path d="M61.4 459.3h0M62.7 480.7h0M106.4 439h0M82.5 477.3h0M78.4 448h0M57.8 471.7h0M90.6 439.2h0M76.5 469.3h0M95.1 464.9h0M68.9 495.1h0M108.5 440.8h0M66.6 455.4h0M90.2 440h0M96.6 443.6h0M111.5 456.1h0M57.3 448.6h0M105.9 464.6h0M106.1 457.2h0M59.2 484.7h0M58.3 483.2h0M49.4 476.3h0M59 446.9h0M92.2 477.8h0M48.6 453.3h0M61.2 478h0M67.3 449.6h0M93.6 440h0M77.3 482.9h0M98.8 445.7h0M58.7 486.9h0M82.7 448.8h0M97.6 434.2h0M60.3 480.6h0M112.2 444.9h0M104 459.9h0M88.8 475.6h0M94.2 446.5h0M102.7 446.1h0M111.2 448.3h0M75.3 457.5h0M65.3 452.5h0M61.4 438.1h0" stroke="#f4a582" stroke-width="1.7" stroke-linecap="round" fill="none"/>
<path d="M39.8 462.7h0M40.4 455.5h0" stroke="#c6dcea" stroke-width="1.7" stroke-linecap="round" fill="none"/>
<path d="M58.9 463.7h0M101.7 433.6h0M90 480.3h0M97.8 446.3h0M72.7 466.4h0M56.1 474.7h0M100.9 471.9h0M74.5 471.6h0M94.5 442.9h0M55.8 452.7h0M101.1 452.2h0M93.9 455h0M61.7 446.6h0M60.6 465.6h0M63.6 469.9h0M99.4 445.7h0M79.3 487h0M97.3 454.5h0M48.4 470.2h0M97.6 451.1h0M70.5 459.3h0M100.8 456.2h0M55.2 425.4h0M68.9 440.2h0M86 474.9h0M57.1 471.5h0M63 446.8h0M100.6 437.3h0M59.2 461.8h0M107.6 447.8h0M66.8 467.6h0M97 464.5h0M81 487.9h0M87 462h0M78 442h0M75.3 467.6h0M70.1 426.4h0M60.3 450.9h0M69.4 498h0M103.2 439.8h0M66.8 460.8h0M110.7 452.1h0" stroke="#f4a582" stroke-width="1.7" stroke-linecap="round" fill="none"/>
<path d="M38.2 470.9h0M39.8 473.7h0M35.7 468.7h0M38.6 474h0" stroke="#f2f2f2" stroke-width="1.7" stroke-linecap="round" fill="none"/>
<path d="M40.6 462.2h0M40 463.3h0M45.7 469.9h0" stroke="#fbdccb" stroke-width="1.7" stroke-linecap="round" fill="none"/>
<path d="M36.8 468h0" stroke="#4393c3" stroke-width="1.7" stroke-linecap="round" fill="none"/>
<path d="M89.3 455.8h0M74.8 456.2h0M107.3 452.4h0M51.9 463.6h0M44.6 451.3h0M111 443.5h0M99.7 447.5h0M97.9 454.3h0M54.7 447.3h0M51.7 440.6h0M48 462.3h0M51.9 449.8h0M52.5 458h0M58.4 455.3h0M83.9 479.3h0M55.9 475.4h0M57.8 473.1h0M74.8 436.2h0M51.1 450.5h0M107.7 460.3h0M52.5 475.1h0M69.3 476.3h0M48.5 457.2h0M76.9 458.2h0M52 450.7h0M57.7 485.2h0M56.3 471.8h0M44.3 446.3h0M103 434.6h0M72.2 487.6h0M77.3 488.6h0M47.7 472.4h0M49.1 462.1h0" stroke="#fbdccb" stroke-width="1.7" stroke-linecap="round" fill="none"/>
<path d="M38.5 471h0" stroke="#2166ac" stroke-width="1.7" stroke-linecap="round" fill="none"/>
<path d="M89 470.1h0M100.4 451.9h0M66.6 461.1h0M76.1 491.7h0M71.4 431.9h0M97.4 481.7h0M65.2 486.5h0M73.2 456.9h0M99.7 471.3h0M61 445.5h0M65.5 487.1h0M85.9 453.3h0M83.6 471.8h0M83.4 442.6h0M68.9 488.9h0M58.5 423.4h0M89.5 488.2h0M79.1 432.3h0M65.2 490.6h0M80.3 491.4h0M100.4 466.3h0M95.1 460.9h0M95 481.2h0M93 457.7h0M90.3 435.3h0M72.2 497.7h0M98.2 447.5h0M66.7 488.8h0M62.6 487.2h0M66 454.1h0M83.5 487.3h0M92.3 472.9h0M97.6 475.4h0M106.2 460.8h0M67.9 494.1h0M83.6 492.6h0M110.9 446.5h0M60 488.3h0M96.3 469.6h0M84.9 461.1h0M63.7 427.9h0M84.3 475h0M89.4 444.3h0M64.3 484.3h0M74.8 431.5h0M98.6 468.8h0M66.3 479.2h0M100.6 464.8h0M83.9 460.7h0M86.4 479.4h0M64.5 490h0M108.8 444.5h0M58.4 449.6h0M88.6 479h0M58.2 452.2h0M98.9 463.1h0M60.6 475h0M92.6 434.2h0M86.5 437.2h0M108.7 441.3h0M86.2 460.2h0M96.1 477.8h0M69.2 483.6h0M69.3 456.6h0M77.7 446.2h0M62 486.3h0M64.7 425.5h0M109.9 457.2h0M87.1 473.8h0M73.3 453.8h0M80.5 475.5h0M77.4 449.2h0M60.5 490.3h0M51.9 466.4h0M58.8 483.3h0M82.4 460.7h0M58.9 451.1h0M68 460.2h0M69.8 480.8h0M76.1 432.3h0M67.8 465.3h0M88.3 445.9h0M76.7 476h0M65.9 452.7h0M63.5 433.3h0M98 466.8h0M88.2 436.2h0M87.1 455.6h0M55.4 470h0M82 463.2h0M73.6 481.5h0M85 447.6h0M64.9 454.7h0M87.2 473.6h0M88.4 489.7h0M60.3 441.5h0" stroke="#b2182b" stroke-width="1.7" stroke-linecap="round" fill="none"/>
<path d="M38.5 462h0M32.4 461.2h0" stroke="#c6dcea" stroke-width="1.7" stroke-linecap="round" fill="none"/>
<path d="M43 472.5h0" stroke="#4393c3" stroke-width="1.7" stroke-linecap="round" fill="none"/>
<path d="M46.9 472.6h0M45.4 463.2h0M42.4 474.3h0M39.8 459.6h0M46.2 470.2h0" stroke="#f4eeee" stroke-width="1.7" stroke-linecap="round" fill="none"/>
<path d="M104.4 433.9h0M72.9 483.8h0M56.2 447.9h0M101.4 435.8h0M81.2 484.1h0M53.2 441.9h0M54.2 441.8h0M102.2 470.6h0M83.8 442.3h0M48.5 477.3h0M61.4 462h0M89.9 435.2h0M106.8 442.4h0M61.6 483.7h0M47 470.9h0M112.2 447.5h0M68 486.8h0M81.2 478.4h0M74.4 481h0M91.4 462.8h0M74.7 455.9h0M94.1 488.1h0M80.6 470.5h0M48.5 447.1h0M68.6 447.6h0M51.9 458.3h0M65.2 425.1h0M49.1 471.6h0M52.1 459.5h0M70 428.9h0M97.5 473.8h0M94.5 482.9h0" stroke="#d6604d" stroke-width="1.7" stroke-linecap="round" fill="none"/>
<line x1="19.8" y1="513" x2="19.8" y2="470" stroke="#000" stroke-width="1.4" />
<line x1="19.8" y1="513" x2="62.8" y2="513" stroke="#000" stroke-width="1.4" />
<polygon points="19.8,462.1 14.1,472.5 19.8,469.8 25.5,472.5" fill="#000"/>
<polygon points="71.2,513 60.8,507.5 63.5,513 60.8,518.5" fill="#000"/>
<text x="20.3" y="523.4" font-size="7.6" fill="#231f20" text-anchor="start" >UMAP 1</text>
<text x="16" y="513" font-size="7.6" fill="#231f20" transform="rotate(-90 16 513)">UMAP 2</text>
<defs><linearGradient id="ge" x1="0" y1="0" x2="0" y2="1"><stop offset="0" stop-color="#053061"/><stop offset="0.25" stop-color="#2166ac"/><stop offset="0.4" stop-color="#92c5de"/><stop offset="0.5" stop-color="#f7f7f7"/><stop offset="0.62" stop-color="#fddbc7"/><stop offset="0.8" stop-color="#f4a582"/><stop offset="1" stop-color="#b2182b"/></linearGradient></defs>
<rect x="180.2" y="439.2" width="11" height="54.2" fill="url(#ge)" />
<line x1="180.2" y1="439.2" x2="182.4" y2="439.2" stroke="#fff" stroke-width="0.6" />
<line x1="189" y1="439.2" x2="191.2" y2="439.2" stroke="#fff" stroke-width="0.6" />
<text x="196.8" y="442.2" font-size="8.2" fill="#1a1a1a" text-anchor="start" >0.50</text>
<line x1="180.2" y1="452.8" x2="182.4" y2="452.8" stroke="#fff" stroke-width="0.6" />
<line x1="189" y1="452.8" x2="191.2" y2="452.8" stroke="#fff" stroke-width="0.6" />
<text x="196.8" y="455.8" font-size="8.2" fill="#1a1a1a" text-anchor="start" >0.25</text>
<line x1="180.2" y1="466.3" x2="182.4" y2="466.3" stroke="#fff" stroke-width="0.6" />
<line x1="189" y1="466.3" x2="191.2" y2="466.3" stroke="#fff" stroke-width="0.6" />
<text x="196.8" y="469.3" font-size="8.2" fill="#1a1a1a" text-anchor="start" >0.00</text>
<line x1="180.2" y1="479.9" x2="182.4" y2="479.9" stroke="#fff" stroke-width="0.6" />
<line x1="189" y1="479.9" x2="191.2" y2="479.9" stroke="#fff" stroke-width="0.6" />
<text x="196.8" y="482.9" font-size="8.2" fill="#1a1a1a" text-anchor="start" >−0.25</text>
<line x1="180.2" y1="493.4" x2="182.4" y2="493.4" stroke="#fff" stroke-width="0.6" />
<line x1="189" y1="493.4" x2="191.2" y2="493.4" stroke="#fff" stroke-width="0.6" />
<text x="196.8" y="496.4" font-size="8.2" fill="#1a1a1a" text-anchor="start" >−0.50</text>
<path d="M172.3 465.3h0" stroke="#f4a582" stroke-width="1.4" stroke-linecap="round" fill="none"/>
<text x="243.3" y="382.6" font-size="14" fill="#2a2a2a" text-anchor="start" >f</text>
<text x="315.7" y="393" font-size="12.1" font-weight="bold" fill="#000">Module 3 score</text>
<path d="M354.3 446.3h0M303.5 456.3h0M312.4 456.2h0M313.6 436.1h0M289.8 442.9h0M348.6 446.8h0M353.4 453.3h0M330 450.2h0M324.8 430.8h0M340.1 441.1h0M351.5 436.6h0M319.4 425.9h0M354.3 455.1h0M314.3 444.4h0M310.9 426.1h0M308.2 448.2h0M348.5 436.5h0M332.9 463.1h0M289.8 448.3h0M347.9 442.3h0M340.3 442h0M325.3 440.6h0M349.3 433.6h0M298.7 426.5h0M350.6 451.3h0M339.9 444.6h0M337.8 441.1h0M290.1 448.6h0M353.2 434.6h0M315 423.9h0M313.7 424.9h0M298.8 441.1h0M339.2 440.6h0M300.5 442.6h0M320.2 441h0M307.9 432.1h0M294.6 442.2h0M325.7 442.4h0M325 429.6h0M338.9 441.9h0M347.9 461.5h0M346.7 440.4h0M342.1 446.7h0M298.9 428h0M350.4 442.8h0M339.4 455.3h0M303.3 438.1h0M340.7 438.7h0M348.6 438.4h0M314.6 435.3h0M343.9 437h0M293.9 444h0M331.8 463.9h0M334 454.9h0M307.3 424.6h0M334.6 468.6h0M349.4 441h0M351.1 434.5h0M323.1 436.8h0M285.9 445.6h0M337.7 434.3h0M313.7 426.8h0M325.1 440.8h0M308.5 440.2h0M299.4 424.7h0M303.1 427.9h0M348 448.5h0M340.4 446.4h0M347.1 457.5h0M307 439.4h0M297.1 447.7h0M323.8 440.2h0M354.1 437h0M346.5 446.3h0M315.7 462.7h0M339.2 442.5h0M318 425.1h0M332.2 461.8h0M286.1 454.1h0M312.5 448.7h0M301.7 423.5h0M319.9 437h0M322 451.8h0M337.1 455.5h0M307.3 450.8h0M308.5 454h0" stroke="#dedede" stroke-width="1.7" stroke-linecap="round" fill="none"/>
<path d="M282.9 461.1h0M300.2 465.9h0M332.6 473.8h0M313 500.6h0M294.6 475.9h0M310.8 488.5h0M308.3 462.3h0M331.9 483.5h0M323 481.3h0M309.4 472.4h0M321.9 456.8h0M321.3 477.7h0M324.2 461.4h0M323.5 473.8h0M308 477h0M330.4 483.2h0M291.7 472.6h0M332.8 456.4h0M310.3 479.4h0M314 483.6h0M340.5 479.8h0M329.9 473.6h0M328.9 481.3h0" stroke="#08519c" stroke-width="1.7" stroke-linecap="round" fill="none"/>
<path d="M347.9 457.2h0M288.3 472.1h0M333 459.8h0M286.6 451.4h0M308.6 449.5h0M310.6 467h0M332.6 484.1h0M298.4 441.9h0M306.5 478.1h0M330 475.6h0M328.8 474h0M285.4 460h0M331.7 471.6h0M341 462.8h0M320 454.1h0M304.2 424.1h0M307 474.2h0M313.8 461.4h0M304 464.2h0M278.7 467.5h0M315 484.3h0M328.9 486.2h0M296 468.2h0M298.8 479h0M290 467.2h0M300.3 478.2h0M342 479.6h0M295.4 467h0M338.5 475.8h0M322.2 459.6h0M303.9 485.4h0M308.5 482h0" stroke="#2171b5" stroke-width="1.7" stroke-linecap="round" fill="none"/>
<path d="M295.1 439.1h0M301.3 440h0M324.8 451.4h0M350.1 458h0M338.7 479.7h0M319.3 446.1h0M339.7 468.1h0M290.5 470.2h0M308.2 443.8h0M297.3 456.8h0M329.3 462.8h0M278.7 469.3h0M342.3 474.6h0M289.9 444.1h0M295.9 466.7h0M353.5 446.6h0M332.1 468.8h0M350.2 457.2h0M340.5 443.3h0M296.8 455.5h0M320 472.5h0M337.3 461.2h0M315 449.7h0M337.3 472.5h0M319.6 471.9h0M326.8 458.1h0M301.4 457.9h0M321.7 477.6h0M318.2 441.3h0" stroke="#6baed6" stroke-width="1.7" stroke-linecap="round" fill="none"/>
<path d="M319.8 465.5h0M285.3 458.7h0M335.8 466.8h0M321.3 467.5h0M316.3 425.7h0M312 462.4h0M332.2 463.5h0M290.2 441.9h0M318.1 455.4h0M316.7 450.5h0M292.4 450.8h0M302 434.1h0M292.8 469.4h0M299.5 427.5h0M295 444.2h0M297.5 456.2h0M300 445.7h0M337.7 469.6h0M296.7 454h0" stroke="#c6dbef" stroke-width="1.7" stroke-linecap="round" fill="none"/>
<path d="M295.7 472.1h0M309.2 498.8h0M330.8 492.1h0M308.5 477h0M309.4 487h0M334.3 483h0M326.2 492.6h0M312.7 496.4h0M337.6 481.9h0M335.1 487.5h0M316.2 454.2h0M293.9 457.9h0M314.5 498.4h0M322.8 493.7h0M290.9 469.9h0M314.5 481h0M326.5 483.4h0M309.9 459.1h0M298.1 462.4h0M316.2 496h0M317.7 492.4h0M309.2 496h0M317.7 484.5h0M315.8 484.9h0M327 466.8h0" stroke="#08306b" stroke-width="1.7" stroke-linecap="round" fill="none"/>
<path d="M309.3 497.6h0M291.4 452.8h0M295.4 471.7h0M323.5 467.4h0M331.6 475.9h0M299.4 479.9h0M305 481h0M288.1 462.1h0M277.8 462.2h0M292 469.3h0M308.9 464.6h0M316.4 467.5h0M322.9 470h0M322.5 475.1h0M305.5 490h0M314 472.5h0M336.5 482.2h0M314.6 485.3h0M282.6 462h0M288 472.9h0M320.8 492.8h0M336.5 483h0M279.2 457.5h0" stroke="#08519c" stroke-width="1.7" stroke-linecap="round" fill="none"/>
<path d="M307.2 429.5h0M354.4 452.1h0M314.8 468.8h0M289.5 445.3h0M300.2 438.2h0M302.3 450.8h0M301.2 464.5h0M298.7 424.9h0M315.9 443.7h0M313.1 423.6h0M293.3 462.5h0M314.7 429.1h0M291.2 450.5h0M319.8 450h0M345.4 443.4h0M324.2 448.9h0M318.2 430.4h0M301.4 436.7h0M344.8 436.8h0M304.4 446.2h0M343.4 443h0M355.5 452.2h0M287.5 443h0M286.8 447.9h0M308 438.8h0M318.4 426.1h0M295.8 439.2h0M286.5 457.6h0M309.7 465.3h0M290.8 443h0M297.2 447.7h0M334.6 443.4h0M354.7 443.1h0M306.2 444.1h0M349.3 441.8h0M315.6 458.1h0M338.3 434.1h0M336.2 435.5h0M306 437.4h0M337.6 443.9h0M307.6 456h0M296.5 449.3h0M333.6 448h0M353.8 449.5h0M336 451.9h0M294.5 457.1h0M345.6 435.8h0M315.6 447.3h0M342.9 464h0M316.6 434h0M346 470h0M331.2 434.7h0M328.1 436.7h0M322.8 456.3h0M290.5 451.6h0M346.8 437h0M352.2 440.9h0M330.5 452.1h0M307.8 444.7h0M323.3 432.7h0M322.1 429.8h0M301.3 443.9h0M303.1 440h0M340.4 448.5h0M313.7 439.5h0M333.1 447.3h0M341.1 454.2h0M284.8 456.2h0M314.8 431.7h0M294.2 449.6h0M294.7 443.8h0M329.1 443.4h0M352.3 435.6h0M336.8 444.8h0M316.7 448.4h0M353.1 440.1h0M320.1 458.9h0M326.3 438.4h0M319.8 439.8h0M349.2 444.3h0M348.3 433.5h0M335.6 465.2h0M300 423.4h0M330.8 437.6h0M346.2 435.7h0M354.1 457.6h0" stroke="#dedede" stroke-width="1.7" stroke-linecap="round" fill="none"/>
<path d="M328.2 440h0M294 419.2h0M318.2 474.8h0M283.1 463.2h0M315.3 474h0M294.1 452.2h0M340.1 446.6h0M350.7 458h0M341.6 461.2h0M328.4 471h0M328.3 476.2h0M347.2 460.7h0M329.7 466.4h0M317.5 456.9h0M315 455.1h0M338.7 476.1h0M337.2 480.5h0M308.2 462.9h0M277.7 467.8h0M317.4 474.4h0M300.7 472.6h0M286.4 460.4h0M336.9 446.7h0M312.7 481.5h0M298.4 447.1h0M307.3 452.2h0M329.5 475.3h0M290.8 453.5h0M306.7 474.7h0M325.1 452.9h0" stroke="#6baed6" stroke-width="1.7" stroke-linecap="round" fill="none"/>
<path d="M299.5 439.6h0M287.5 448.2h0M353.4 446.1h0M301.8 458.6h0M343 464.5h0M319.5 448h0M299 454h0M286.9 471.8h0M320.5 459.6h0M329.1 463.8h0M338.3 447.8h0M307.2 429.1h0M296.5 441.6h0M309.7 453.3h0M289.5 453.7h0M343.5 463.5h0M329.5 446.1h0M307.7 472h0M299.9 424.6h0M303.4 460.7h0" stroke="#c6dbef" stroke-width="1.7" stroke-linecap="round" fill="none"/>
<path d="M292.2 460.2h0M280.7 458.2h0M311.7 483.1h0M318.2 494.1h0M285.2 453.5h0M333.4 479.4h0M324.7 491.5h0M316.5 468.8h0M288.3 450.3h0M287.9 464.4h0M289.2 453.9h0M284.6 460.2h0M319.5 464.4h0M291.6 466.6h0M293.9 458.7h0M325.9 461.1h0M348.4 456.7h0M305.4 453.3h0M318.5 491.6h0M341.7 471.2h0M319.8 484.6h0M306.2 475.4h0M297.2 461.7h0M317.2 456.4h0M337.1 459.1h0M331.5 476.9h0M304.4 478.9h0M326.5 487.2h0M347.7 452.9h0M341.7 477.9h0M333.2 488.3h0M313.3 460.6h0" stroke="#2171b5" stroke-width="1.7" stroke-linecap="round" fill="none"/>
<path d="M324.1 482.8h0M328.1 467.5h0M329.6 475.5h0M305.2 486.8h0M329.4 460.7h0M305.1 485.6h0M303.7 479.4h0M337 470.6h0M293 468.1h0M310.9 486.7h0M306.5 486.2h0M349.5 464.7h0M322.8 493.6h0M315.7 462.4h0M311.9 480.7h0M316 495.4h0M326 492.9h0M342.7 464.9h0M329.2 490.7h0M324.9 484h0M324.1 486h0M317.3 480.4h0M321 472.9h0M309 485.6h0M303.2 472.7h0M325.5 457.9h0" stroke="#08306b" stroke-width="1.7" stroke-linecap="round" fill="none"/>
<path d="M289.1 468.7h0M316.3 485.3h0M287.5 464.7h0M330.9 451.1h0M334 491h0M337.4 474.4h0M335.5 484.6h0M308.2 464.2h0M312.5 459h0M287.4 467.8h0M327.7 456.9h0M331.1 484.8h0M302.3 484.1h0M329.2 478.2h0M319.3 463.2h0M338.7 470.1h0M302.8 471.9h0M281.4 461.7h0M281.2 458.6h0M303.4 459.3h0M293.5 468.1h0M351.9 461h0M301.2 457.6h0M313.9 460.7h0M319.2 492.7h0M304.9 463h0M302.9 427.5h0M339.6 467.4h0M277 460.7h0M306.3 469h0M329.1 461.5h0M331.1 473.4h0" stroke="#2171b5" stroke-width="1.7" stroke-linecap="round" fill="none"/>
<path d="M338.1 445.8h0M298.8 458.6h0M285.1 449.9h0M318.8 467.5h0M324.2 462.9h0M313.4 457.1h0M297.5 464.1h0M328.9 465.9h0M318.8 447.8h0M338.3 449h0M321.8 467.8h0M309.6 431.8h0M277.6 458.9h0M303.4 454.5h0M285.9 450.5h0M323.4 451.3h0M341.1 454.9h0M306.6 446.1h0M288.8 442.1h0M304.2 463h0" stroke="#c6dbef" stroke-width="1.7" stroke-linecap="round" fill="none"/>
<path d="M299.9 460.3h0M339.8 460.9h0M294.4 476.8h0M332.8 443.9h0M291.6 458.1h0M307 449.5h0M288 458.1h0M349.8 460.6h0M310.4 482.5h0M299.4 450.8h0M283.5 470.1h0M277 466.4h0M290 440.7h0M342 475.7h0M301.7 477.1h0M309 473.3h0M301 457.4h0M318 460.9h0M340.6 468.9h0M290.7 463.5h0M297.4 463.9h0M293.2 455.4h0M340.3 465.6h0M331.2 467.9h0M298.9 471.1h0M304.6 468h0M329.9 473.9h0M287 464.6h0M319.5 461.8h0" stroke="#6baed6" stroke-width="1.7" stroke-linecap="round" fill="none"/>
<path d="M312.7 463.9h0M295.4 476.7h0M331.6 479.6h0M331.2 477.3h0M311.4 471.3h0M305.9 488.7h0M317.6 489.7h0M311.2 492.7h0M335.6 479.3h0M313.1 478.5h0M317.7 486.7h0M316.3 480.7h0M333.4 467h0M326.2 485.7h0M334.7 483h0M291.3 460.7h0M311.6 502.4h0M311.9 485.4h0M303.2 482.7h0M318.2 490.1h0M311.9 498.3h0M321.2 462.8h0M335.2 490.3h0" stroke="#08519c" stroke-width="1.7" stroke-linecap="round" fill="none"/>
<path d="M304.5 479.5h0M309 468.2h0M296 470.4h0M281.8 467.3h0M312 472.6h0M298.6 451.9h0M344.6 458.8h0M339.4 485.1h0M316.6 461.9h0M330.9 467.6h0M297.6 476.4h0M325.1 480.6h0M308.9 474h0M321.9 455.1h0M336.7 483.4h0M300.6 473.8h0M316.2 459.6h0M303.9 471h0M302 471.2h0M320.7 480.5h0M305.8 474.7h0M348.9 457.7h0M336.6 486.1h0M316.1 469.5h0M314 482.2h0" stroke="#08306b" stroke-width="1.7" stroke-linecap="round" fill="none"/>
<path d="M340.1 451.3h0M308.8 431h0M354 437.8h0M316.4 436.8h0M352.5 446.6h0M323.7 445h0M317.1 439.7h0M320.4 435.9h0M339.9 452.2h0M328.4 440.5h0M325.3 457.3h0M349.6 433.5h0M296.2 438.2h0M339.9 454.3h0M302.4 435.7h0M336 445.1h0M293.3 448.8h0M309.8 425.3h0M337.8 460.1h0M342.3 459.2h0M314.8 426.9h0M340.1 443.5h0M345.2 446h0M329.2 437.6h0M297.9 449.1h0M343.9 435.2h0M310.5 432.1h0M337.1 448h0M299 453.4h0M346 441.1h0M294.2 419.9h0M329.5 465.1h0M336.7 451.1h0M317.4 451.3h0M347.4 451.8h0M342.5 463.5h0M331.8 437.4h0M306.5 432.5h0M312.1 443.3h0M311 449.5h0M343.5 441.4h0M355.3 446.8h0M335.1 450.5h0M337.5 440.9h0M336.6 457h0M325.4 466.4h0M306.6 423.6h0M305.7 447.2h0M321.9 454.1h0M310 434.8h0M305.6 435.5h0M351.1 460.3h0M296.7 437.4h0M291.8 455.5h0M356.8 443h0M339.8 447.1h0M308.5 437h0M346.6 441.6h0M326.2 442.4h0M318.8 447.1h0M326.7 430h0M326.3 466.6h0M320.9 437.1h0M313.8 436.6h0M317.8 440h0M332.5 453.3h0M315.2 451.8h0M301.9 453.2h0M351.7 457.3h0M290.8 442h0M321.3 426.5h0M340.7 435.9h0M320.2 451.4h0M322.7 428h0M327.3 443.9h0M315.8 468.6h0M288.8 458.2h0M325.5 437.5h0M307.6 457.4h0M320.4 465.4h0M338.3 462.6h0M336.3 458.1h0M321 446.6h0M326.5 470.3h0M300.7 444.4h0M319.2 433h0" stroke="#dedede" stroke-width="1.7" stroke-linecap="round" fill="none"/>
<path d="M308.9 480.6h0M319.2 482h0M308.2 454.2h0M329.2 486.2h0M309.4 488h0M303.8 486.1h0M319 469.4h0M318.2 479.7h0M306.4 484.5h0M340 480.3h0M286.7 467.7h0M332.9 486.6h0M334.8 471.8h0M312.5 481.6h0M334.2 477h0M320.6 494.3h0M312.3 487.5h0M321.8 464.1h0M342.4 474.1h0M312.2 460.4h0M305.5 454.8h0M303.1 472.9h0M311.9 499.2h0" stroke="#08519c" stroke-width="1.7" stroke-linecap="round" fill="none"/>
<path d="M332.2 464.6h0M317.4 453.9h0M288 460.8h0M340.1 479.2h0M329.7 477h0M304 465.3h0M297.8 474.8h0M314.1 474.8h0M288.2 443.3h0M277.6 460.1h0M287 457.8h0M346 469.6h0M279 461.5h0M320.4 463.8h0M285.8 447.3h0M320.9 473.7h0M324.9 460.7h0M294.4 466.8h0M297.3 472.5h0M334.3 433.9h0M335.8 486.8h0M322.5 459h0M305.2 484.6h0M287.1 473.8h0M297.8 454.7h0M290 460.2h0M313.8 461.8h0M294.2 446.2h0M319.8 481.1h0M283.3 454.3h0" stroke="#6baed6" stroke-width="1.7" stroke-linecap="round" fill="none"/>
<path d="M287.9 472.7h0M301.6 467.3h0M327.2 469.7h0M311.2 434.8h0M286.2 473.5h0M333.9 468.1h0M334.1 487.7h0M287.2 462.9h0M301.7 483.3h0M304.1 449.3h0M339.7 449.8h0M330.8 491.2h0M296.7 472.4h0M283.7 472.6h0M334.5 468.9h0M312.1 467.5h0M306.6 439.3h0M318.1 485h0M318.8 469.4h0M291 466.7h0M321.3 487.9h0M325.2 480.3h0M306.6 469h0M331.6 476.2h0M295.5 456.9h0M310.6 469.5h0M285.2 473.1h0M334.3 486.7h0M316.8 466.1h0M311.4 480.2h0M338.2 479.1h0M312.1 492h0M332.9 484.1h0" stroke="#2171b5" stroke-width="1.7" stroke-linecap="round" fill="none"/>
<path d="M342.6 441.4h0M318.2 443h0M348.9 436.8h0M320.6 445.9h0M341.1 452.7h0M285.5 449.5h0M346.7 434.6h0M298.1 439.9h0M315.4 456.8h0M320.2 441.1h0M297 453.5h0M323.8 441.5h0M321.6 437.9h0M310.7 432h0M335.6 441.9h0M341.8 435.1h0M320.2 448.6h0M285.5 456h0M321.8 433.7h0M299.1 440.2h0M347.7 437.6h0M350.4 452.7h0M332.3 448.9h0M291.8 450.7h0M307.5 454.2h0M330.5 467.9h0M326.9 457.1h0M306.2 459.4h0M312.7 427.4h0M324.2 467.5h0M332.9 439.1h0M326.6 439.3h0M350.2 446.1h0M333.7 449.6h0M295.9 448.7h0M330.4 445.8h0M317.2 440.7h0M311.6 448.8h0M323 426.4h0M296.1 462.4h0M322 442.8h0M304.9 424.4h0M293.7 420.8h0M342.5 433.5h0M299.9 424.3h0M286.7 446.8h0M294.2 419.7h0M322.1 434.6h0M328 454.8h0M307.3 423.5h0M307.9 426.5h0M339.6 441.2h0M292.8 458.6h0M348.6 432.8h0M337.3 435.9h0M301.5 422h0M305.3 439.6h0M311.7 435.5h0M350.4 455.2h0M303.4 424.3h0M303.1 451.1h0M288.7 441.8h0M322.7 446.2h0M318.8 457.2h0M333.4 439.4h0M341.9 444.5h0M308.2 431.6h0M312.3 436.9h0M321.3 465h0M343.5 453.7h0M295.9 423.5h0M304.5 449.6h0M334.7 454.2h0M354 437h0M316.5 433.6h0M317.4 437.3h0M351.7 449.2h0M319.9 427.3h0M335.7 450.4h0M298.7 424h0M342 445.6h0M332.7 438.4h0M314.2 447.3h0M335.4 432.7h0M337.6 441.9h0M293.4 454.2h0M301.3 425.8h0" stroke="#dedede" stroke-width="1.7" stroke-linecap="round" fill="none"/>
<path d="M329.1 465.8h0M324.6 455.5h0M307.1 463.9h0M308.3 451.8h0M304.5 456.6h0M303.2 464.7h0M306 462.3h0M348 465.1h0M299.9 439.2h0M293.2 463.1h0M340.1 441.5h0M312.3 455.6h0M280.2 457.3h0M307.2 454.3h0M312.3 462.8h0M317.8 455.4h0M334.2 451.9h0M319 443.9h0M304 458.4h0M301 430.3h0" stroke="#c6dbef" stroke-width="1.7" stroke-linecap="round" fill="none"/>
<path d="M313.4 497.6h0M298.8 462h0M311.8 493.5h0M331 490.6h0M326 492h0M292.1 464.9h0M318.1 460h0M313.7 493.8h0M319.7 486.9h0M281.6 466.5h0M286.6 457.5h0M337 479.1h0M307.1 491.4h0M321.3 491.2h0M313.9 497.2h0M314.3 492.6h0M325.2 484.6h0M292.9 467.5h0M317.7 493.5h0M337 484.1h0M288.2 451.9h0M304.5 462.9h0M304.7 482.2h0M330.7 464.5h0M307.9 483.3h0M312.2 477h0" stroke="#08306b" stroke-width="1.7" stroke-linecap="round" fill="none"/>
<path d="M333.7 461.2h0M303.2 443.2h0M333.2 458.9h0M301.7 457.5h0M316.6 446.4h0M305.1 445.5h0M299.5 460.8h0M297.2 451.9h0M306.9 425.4h0M335.8 464.8h0M306.8 467.7h0M324 455.4h0M310.3 433.1h0M306.3 456.7h0M318.6 459.8h0M353 454.1h0M288.5 446.3h0M311.5 467.9h0M302.4 459.5h0" stroke="#c6dbef" stroke-width="1.7" stroke-linecap="round" fill="none"/>
<path d="M314.3 459h0M308.7 442.6h0M297.9 465.2h0M334.8 466.4h0M314.8 478h0M351.4 450.5h0M286.5 467h0M301.7 452.9h0M315.5 458.9h0M330.2 480.5h0M302.8 478.1h0M296.4 466.2h0M304.1 457.6h0M283.4 464.9h0M335.8 469.5h0M338.7 453.3h0M329.3 488.2h0M278.8 469.9h0M308.8 486.7h0M333.6 458.3h0M320.3 483h0M289.6 474.1h0M333 454.4h0M348.7 452.8h0M286.5 467.9h0M292.3 455.6h0M328.6 485.6h0M334 467.7h0M312.8 465.8h0M298.5 476.6h0M298 468.1h0M304 485.3h0" stroke="#2171b5" stroke-width="1.7" stroke-linecap="round" fill="none"/>
<path d="M320.3 451.9h0M302.2 446.5h0M310.1 438.6h0M320.3 452.1h0M328.1 435.4h0M334 447.1h0M338.8 441h0M350.6 439.4h0M315.4 425.9h0M346.1 454.7h0M313.1 437.4h0M314.1 451.9h0M297 454.5h0M344 434.1h0M317.8 456h0M288.6 443.4h0M317.8 461.8h0M332.8 447.7h0M341.7 434.2h0M305.7 456.3h0M306.4 439.7h0M321.1 439.5h0M334.2 441.6h0M354.9 444.5h0M339.2 445.4h0M315.1 439h0M299.4 446.7h0M292 458.1h0M303.4 455.5h0M307 424.7h0M298.6 457.4h0M322.3 438.6h0M345.6 456.5h0M346.2 463.4h0M315.9 446.8h0M355.2 450.5h0M298.3 454.2h0M340.6 452.3h0M344.3 440.2h0M339.7 444.3h0M306.6 423h0M328.9 465.6h0M336.7 444.3h0M335 467h0M304.9 442.7h0M321.5 458.7h0M346.5 441.8h0M348.3 433.1h0M338.6 439.1h0M326.8 458.9h0M335.9 449.8h0M346.3 435.6h0M330.8 449.6h0M321.7 441.3h0M335.1 473.9h0M314.7 429.4h0M292.4 417.5h0M343 458.2h0M337.7 457.9h0M345.5 462.8h0M306.4 463.3h0M329.1 431.6h0M335.2 438.8h0M335.8 441.9h0M329.4 432.1h0M351 454.1h0M324.7 441.4h0M350.5 442.3h0M300.3 426.3h0M322.1 430.5h0M299.8 445h0M336.5 451.4h0M322.8 449.6h0M334.9 448.3h0M284.6 450.9h0M290.4 442.8h0M349.6 434.9h0M311.6 435.2h0M340.8 442.1h0M291.4 444h0M311.5 430.9h0M309.1 432h0M342.3 448.1h0M303.7 423.3h0M333.2 441.3h0M329.2 441.3h0" stroke="#dedede" stroke-width="1.7" stroke-linecap="round" fill="none"/>
<path d="M337.7 470.9h0M333.2 471.5h0M316.3 485.4h0M338.8 478.2h0M339.6 455.8h0M317.6 480.9h0M316.2 492.8h0M332.4 487.6h0M299.9 474.2h0M335.9 478.9h0M315.9 485.2h0M288.2 466.3h0M303 483.4h0M300.2 461.7h0M309.9 473.5h0M329.9 480.9h0M335 477.1h0M280.4 459.7h0M340.4 476.5h0M322.2 478.1h0M319.9 457.5h0M328.5 483.1h0M328.4 470.5h0M299.2 477.3h0" stroke="#08519c" stroke-width="1.7" stroke-linecap="round" fill="none"/>
<path d="M301.7 445.6h0M321.2 461.2h0M305.9 465.1h0M305.9 467.3h0M339 456.4h0M288.2 446.1h0M328.6 457h0M299.3 476.5h0M293.4 463.7h0M332.4 472.9h0M321.3 461.5h0M302.2 464.1h0M331.2 466.5h0M297.7 421.2h0M309.8 461.1h0M338.6 457.3h0M315.7 487.5h0M337.6 470.1h0M340.7 466.9h0M337.2 480.8h0M349.5 452.6h0M339.9 473.2h0M292.4 444.9h0M346.9 458.5h0M318.8 473.2h0M346 465.2h0M338.7 472.2h0M313.2 468.3h0M282.9 456.8h0M312.2 478.9h0" stroke="#6baed6" stroke-width="1.7" stroke-linecap="round" fill="none"/>
<path d="M310.4 496h0M341.3 478.3h0M319.8 475.9h0M308.8 491.7h0M306.1 477.9h0M305.5 485.8h0M325.2 482h0M335.6 489.7h0M290.4 463.7h0M331.3 459.1h0M308.6 476.6h0M309.8 488.2h0M337.3 468.8h0M328.9 490h0M328.5 486.5h0M344.6 468.3h0M305.9 460.9h0M307.9 456.1h0M339.9 468.4h0M338.8 483.4h0M303.9 469.6h0M312.6 479.9h0M284.6 463.8h0M295.3 475.4h0M311.9 493.7h0" stroke="#08306b" stroke-width="1.7" stroke-linecap="round" fill="none"/>
<path d="M294.8 475.3h0M327.9 490.4h0M304.3 458.3h0M283.1 462h0M280.4 466h0M326.1 489h0M281.2 465.5h0M339.2 477.4h0M335.8 477.6h0M291.8 444.4h0M301.2 441.1h0M290.6 450.8h0M331.1 486.3h0M321.1 481h0M342.9 463.8h0M304.2 472.1h0M308.5 484.9h0M322.5 475.3h0M311.8 466.1h0M326.2 450.3h0M302.4 474.8h0M308 492.8h0M327.8 461.4h0M301.1 473.8h0M310.2 474.6h0M320.2 478.6h0M339 485.4h0M352.8 435.9h0M309.3 451.3h0M287.1 465.1h0M313 488.9h0M310.4 479.6h0" stroke="#2171b5" stroke-width="1.7" stroke-linecap="round" fill="none"/>
<path d="M293.7 471h0M300.4 466.1h0M315.6 477.7h0M321.2 490.8h0M337.3 475.4h0M315.1 468.8h0M318.4 493.3h0M290.7 467.8h0M330.2 488.6h0M304.9 474.1h0M325.2 475.6h0M318.3 488.7h0M319.6 463.5h0M321 475.8h0M323.6 487.6h0M327.2 485.9h0M336.8 478.8h0M329.6 484.9h0M306.5 465.6h0M304.7 482.7h0M325.2 477.5h0M300.5 474.9h0M332.4 488.7h0M280 470.5h0M339.3 456.9h0M335.1 490.4h0" stroke="#08306b" stroke-width="1.7" stroke-linecap="round" fill="none"/>
<path d="M310.5 451.1h0M310.4 475.9h0M283.4 470.5h0M335.9 449.2h0M286.4 470.8h0M315.4 449.9h0M339.3 473.8h0M311.4 478h0M277.3 464.2h0M299.3 443.8h0M320.8 473.6h0M321.2 463.9h0M310.6 477.8h0M289.1 469h0M288.7 452h0M311.1 453.7h0M310.3 454.2h0M304.4 469.6h0M319.2 445.7h0M320.8 463.7h0M349.8 454.7h0M339 466.7h0M287.1 453.2h0M298.6 479.5h0M324.5 486h0M290.7 467.3h0M300.1 457h0M310.5 473h0M283.4 458h0" stroke="#6baed6" stroke-width="1.7" stroke-linecap="round" fill="none"/>
<path d="M333 455.4h0M346.9 458.3h0M304.6 440.5h0M345.4 445.4h0M337.7 435.2h0M292.1 452.5h0M304.5 455.9h0M326.1 443.4h0M344.8 468.2h0M302.9 424.6h0M344.4 462.3h0M305.9 444.7h0M337.7 442.5h0M295.6 440.1h0M318.6 444.9h0M347.2 440h0M294.7 461.1h0M312.8 442.7h0M307.8 428.3h0M310.9 425.8h0M341.9 433h0M341 463.3h0M308.9 434.4h0M352.6 450.5h0M308.8 453.3h0M349.3 450.3h0M325.9 434.4h0M320.9 445.3h0M334.4 436.6h0M320.2 458.4h0M348.6 465.7h0M332.2 451.6h0M355.6 439.3h0M319 456.4h0M343.7 449h0M354.8 443.5h0M302.6 436.4h0M343.8 441.8h0M347 434h0M304.9 436.7h0M341.8 443.7h0M342.3 445.6h0M326 465.4h0M343.4 455.8h0M308.1 450.7h0M296.4 438.5h0M322.7 434.7h0M340 434.8h0M304.7 443.5h0M310.5 426.4h0M321.9 440.5h0M327.9 447.6h0M343.9 442.6h0M311.8 452.8h0M315.3 438.5h0M315.7 436.2h0M345.4 450.3h0M350.7 459.6h0M306.7 445h0M350.5 433.3h0M348.5 443.6h0M325.7 469.6h0M337.3 450.1h0M304.9 427.6h0M351.5 438.6h0M316.5 436h0M285.7 454.1h0M306.3 423.1h0M339.5 442.2h0M305.9 427h0M356.5 439h0M330.1 440.9h0M297.2 451.9h0M341.8 438.8h0M342.5 446.3h0M343.2 445.7h0M346.9 456.8h0M297.9 424.7h0M315.9 441.5h0M330.8 448.1h0M312.3 440.5h0M352.5 449.8h0M334.3 441.4h0M342.1 432.9h0M301.5 453.2h0M337.2 447.3h0" stroke="#dedede" stroke-width="1.7" stroke-linecap="round" fill="none"/>
<path d="M313 465.3h0M324.9 483.9h0M301.5 481.4h0M280.1 458.2h0M323.2 482.9h0M313.4 492.7h0M293 453.7h0M314.9 476.7h0M333.4 486.8h0M340.6 476.2h0M313.8 488.3h0M310.3 467.5h0M310.1 489.9h0M279.6 463.8h0M307.1 488.6h0M292.1 475.6h0M341.6 464.4h0M332.4 485.6h0M286.5 471.9h0M310 484.1h0M336 458h0M328 470.9h0M292.3 470.5h0" stroke="#08519c" stroke-width="1.7" stroke-linecap="round" fill="none"/>
<path d="M321.8 436.7h0M332.7 435.5h0M287.4 450.3h0M275.5 459.9h0M281.9 454.4h0M296 421.9h0M288.2 445.2h0M292.8 458.1h0M289.8 465.5h0M288.2 460h0M291.2 458.9h0M331 448.5h0M304.9 449.7h0M291.5 453.5h0M294 446.7h0M302 441.5h0M293 459.4h0M289 452.5h0M284.4 450.2h0M315.6 428.4h0" stroke="#c6dbef" stroke-width="1.7" stroke-linecap="round" fill="none"/>
<path d="M354.7 456.7h0M316.5 458.7h0M308.6 491.9h0M277.2 461.9h0M329.3 482.5h0M301.8 452.2h0M284.6 460.2h0M291.4 444.2h0M324.6 485.7h0M304.1 463.6h0M334.4 486.2h0M318.7 469h0M317.3 468.6h0M319 471.4h0M289.2 458.1h0M303.3 486h0M336.3 456.2h0M352.1 452.8h0M304.7 489.4h0M319.3 479.8h0M313 492.8h0M306.2 471.9h0M282.7 460.9h0M346.1 464.8h0M289.8 457.7h0M329.6 484.3h0M339 467.6h0M314.1 489.6h0M313.2 462.2h0M335.8 485.1h0M313 487.5h0M332.3 489.4h0M334.2 470h0" stroke="#2171b5" stroke-width="1.7" stroke-linecap="round" fill="none"/>
<path d="M345.3 435.8h0M335.3 449.7h0M339.2 452.7h0M318.4 463.6h0M336.5 455.3h0M348.2 448.7h0M313.4 441.2h0M314.2 447.6h0M320.1 462.3h0M339.4 465.8h0M329 441.2h0M307 460.4h0M302.4 457.1h0M319.7 449.7h0M329.8 457.1h0M311.6 447.9h0M300.1 454h0M286.8 456h0M337.6 449.2h0M284.2 458.4h0" stroke="#c6dbef" stroke-width="1.7" stroke-linecap="round" fill="none"/>
<path d="M294.7 422.3h0M319.9 457.6h0M322.8 427.3h0M294.8 440.1h0M306.7 424.5h0M341.3 441.9h0M349.2 435.9h0M296.9 437.4h0M315.7 454.5h0M313.3 432.4h0M314.7 454.1h0M319.9 455h0M340.2 438.5h0M307.5 424.7h0M311.4 443.5h0M328.7 445.2h0M336 452h0M314.6 457.6h0M304.1 431h0M316.4 437h0M306 438.7h0M311.2 458.6h0M349.3 441.3h0M356.4 443.1h0M312.2 449.4h0M309 428.1h0M315.8 449.8h0M319.7 432.9h0M330.7 462.9h0M285.4 450.2h0M347 440.3h0M318.1 438.3h0M346.8 456.2h0M346.3 467.8h0M340.9 442.6h0M354.3 445.3h0M315.8 425.5h0M305.3 426.6h0M351.5 442.6h0M293.4 446.7h0M330.7 461.4h0M338.2 451.4h0M292.7 458.7h0M349 448.5h0M348.8 434.7h0M321.3 453.1h0M320.4 433.2h0M331.4 453h0M343.8 436.6h0M322.1 435.8h0M331.9 461.4h0M316.7 434.9h0M339.4 438h0M332.7 441.4h0M343.3 446.7h0M293 450.6h0M322.6 450.2h0M349.9 444.8h0M324.2 459.5h0M319.8 447h0M321.9 441.1h0M337.5 463.3h0M321.2 434.8h0M294.7 419.3h0M318.9 437.7h0M334.2 435.8h0M345.7 436.3h0M348.1 438.8h0M318.7 434h0M347.3 458.1h0M331.9 443.6h0M356 438.6h0M300.7 441.1h0M327.6 444.2h0M348.6 457.1h0M353.8 444h0M345.8 435.2h0M326.2 450.2h0M289 442.2h0M325.1 442.4h0M322.2 451.6h0M315.9 429.7h0M333.1 437.5h0M315.3 440.4h0M315 444.5h0M345.6 458.9h0" stroke="#dedede" stroke-width="1.7" stroke-linecap="round" fill="none"/>
<path d="M318.6 470.6h0M317.3 484.1h0M328.7 478.4h0M296.8 457.4h0M313.8 492.7h0M302.3 471.7h0M328.5 491.7h0M309.6 495.6h0M312 501.1h0M350 462.3h0M303.9 464.9h0M319.6 475.1h0M283.7 463.8h0M291.4 468.9h0M345.1 470.7h0M314 473.6h0M340.6 461.9h0M313.5 478.4h0M305.1 475h0M313.4 474.2h0M338.4 476.6h0M301.4 473.9h0M341.4 459.5h0M292.9 474.5h0M329.4 478.2h0" stroke="#08306b" stroke-width="1.7" stroke-linecap="round" fill="none"/>
<path d="M290.5 469.9h0M304.5 469.7h0M330.4 491.2h0M315.3 467h0M318.9 489.5h0M314 489.9h0M317.5 467.4h0M301.1 455.7h0M303.1 475h0M305.3 489.9h0M287.4 462h0M290.9 468.1h0M297.6 474.9h0M337 456.5h0M330 463.4h0M338.2 470.6h0M339 482.8h0M316.2 464.7h0M320.3 492.2h0M335.3 475.3h0M332.8 451.8h0M310.5 477h0M312.1 496.2h0" stroke="#08519c" stroke-width="1.7" stroke-linecap="round" fill="none"/>
<path d="M325 452.5h0M332.4 479.6h0M290.7 443.8h0M333.7 465h0M303.5 480.6h0M305.5 469.4h0M311.7 447.2h0M292.8 463.1h0M291.8 462.3h0M281.4 459.5h0M294.3 444.1h0M340.3 473.7h0M342 473.3h0M299 421.7h0M281.5 469.3h0M303.7 464.4h0M327.5 466.4h0M308.4 468.3h0M295.6 459.4h0M318.2 470.4h0M282.7 465.9h0M332.8 445.1h0M345 458.4h0M311.4 481h0M297 447.5h0M332.4 480.1h0M294.2 455.9h0M338.2 468.5h0M286.5 473.1h0M306.8 448h0" stroke="#6baed6" stroke-width="1.7" stroke-linecap="round" fill="none"/>
<path d="M341.3 453.5h0M312.6 430.3h0M299.7 458.9h0M299 439.7h0M307.2 426.6h0M285.2 451.3h0M297.4 461.6h0M316.1 458.4h0M292.7 452.9h0M316.8 458.4h0M306.2 464.8h0M324.1 460.8h0M336.2 456h0M330 448.5h0M297.9 462.2h0M278.1 466.5h0M342.1 442.3h0M286.8 463.5h0M289.7 443.4h0M333.3 443.2h0" stroke="#c6dbef" stroke-width="1.7" stroke-linecap="round" fill="none"/>
<path d="M347.8 438.5h0M322.4 430.1h0M319.6 445.4h0M288.6 444.6h0M327 448.8h0M321.7 457.4h0M327.4 439h0M328.9 452.9h0M346 435.9h0M307.7 422.9h0M314 430.9h0M290.5 444.9h0M317.4 426.1h0M304.1 446.9h0M310.5 443.7h0M321.7 437h0M297.4 449.9h0M315.1 442.2h0M346.3 446.3h0M321.5 434.8h0M337.6 440.7h0M325.1 434.3h0M307.9 438.5h0M340.8 432.1h0M341.8 441.1h0M328.3 455.2h0M330.1 435h0M347 438.2h0M326.2 436.1h0M308.9 432.9h0M341.6 441h0M311.1 431.4h0M340.3 447.1h0M353.2 443h0M348.7 445.3h0M313.8 441.7h0M342.6 455.8h0M342.3 448.3h0M325.4 433.9h0M336.8 450.3h0M295.3 440.2h0M347.5 459.5h0M316.9 429.9h0M316.8 454.2h0M342.3 477.9h0M341.1 436.6h0M288.6 442.4h0M336.1 434.9h0M313.5 424.2h0M317.2 433.3h0M313.4 433.3h0M310.1 437.2h0M352 441.4h0M327.2 442.2h0M299.5 423.1h0M292.8 442.2h0M303.6 428.5h0M356.6 441.3h0M319.5 448.9h0M319.1 444.7h0M341.5 457.3h0M336.4 450.8h0M305.4 438.6h0M345.8 451.7h0M318.2 436.3h0M340 456.4h0M335 440h0M335.7 461.5h0M337.8 434.6h0M322.5 444.7h0M300.7 427.1h0M330.2 460.7h0M329.8 450.4h0M303.9 437.4h0M316.2 445.3h0M299.8 449.3h0M297.5 423.9h0M326.4 434.6h0M336.9 445.2h0M337.4 457.9h0M336.7 442.1h0M317.9 426.4h0M298.3 461.6h0M329.8 444.5h0M314 428h0M337.6 437h0M334.3 436.8h0" stroke="#dedede" stroke-width="1.7" stroke-linecap="round" fill="none"/>
<path d="M329.3 455.5h0M299.8 467.5h0M305.6 472h0M341.2 469h0M303.6 453h0M297.2 473.5h0M333.5 474.6h0M308.3 459.5h0M283.8 466.1h0M324 473.3h0M281.4 455.4h0M332.2 462.9h0M335.7 485.4h0M314.9 454.1h0M296.9 460.1h0M311.7 464.6h0M276.8 460.9h0M332.3 479h0M330.2 466.3h0M286.7 471.5h0M315.2 466.4h0M301.1 437.9h0M311.6 458.5h0M309.7 476.6h0M286.4 459.7h0M328.3 478.4h0M311.7 468.6h0M317.5 480.6h0M280.7 470.5h0M282.2 461.9h0" stroke="#6baed6" stroke-width="1.7" stroke-linecap="round" fill="none"/>
<path d="M311.9 476.7h0M332.5 488h0M297.7 473.2h0M296.3 476.3h0M322.5 475.7h0M330.4 478.2h0M338 484.9h0M338 478h0M279.7 470.5h0M328.7 489.8h0M308.7 495.1h0M313 472.6h0M326.3 486.6h0M283.1 464.3h0M335.1 487.6h0M314.4 493.2h0M312.8 485.6h0M338.5 469.3h0M316.2 467.6h0M320.3 473.7h0M303.4 455.1h0M325.5 485.4h0M287 462.7h0M310.4 491.8h0M302.3 455.9h0M336.9 482.6h0" stroke="#08306b" stroke-width="1.7" stroke-linecap="round" fill="none"/>
<path d="M288.9 464.4h0M334.1 478.8h0M339.6 484.4h0M313.6 483.1h0M303.2 472.8h0M340.4 469h0M345.4 461.9h0M315.2 473h0M284.6 472.6h0M304.5 482.4h0M302.2 468.4h0M311.5 496.6h0M334.9 466h0M310.5 500.4h0M322.9 481.5h0M335.3 475.1h0M285.3 468.2h0M292.1 473.7h0M336.8 486.1h0M289.1 468.4h0M314.1 482.4h0M335.3 481.9h0M328 480.9h0" stroke="#08519c" stroke-width="1.7" stroke-linecap="round" fill="none"/>
<path d="M330.1 473.7h0M307.6 488.5h0M307.8 490.6h0M339.2 446.9h0M297.3 471.7h0M333.2 449h0M317.8 459.8h0M284.6 455.8h0M289.5 459.8h0M323.7 489.9h0M318.3 454.1h0M334.9 439.3h0M321.4 476.8h0M334.7 478h0M304.1 470.4h0M294.7 421h0M295.1 464.5h0M311.1 458.5h0M299.6 460.3h0M298.1 464.2h0M311.9 476.1h0M306 471.7h0M327.3 471.2h0M336.9 476.8h0M293.4 455h0M346.1 451.3h0M306.5 454.6h0M316.7 468.7h0M314.6 470.8h0M283.8 462.4h0M327.2 461.9h0M328.7 468.5h0" stroke="#2171b5" stroke-width="1.7" stroke-linecap="round" fill="none"/>
<path d="M337.8 472.7h0M338.4 473.1h0M309.5 472.4h0M320.4 488.2h0M336.4 477.7h0M305.9 462.7h0M321.5 473.2h0M318.5 467.6h0M298.3 469.7h0M322.5 485h0M323.2 473.2h0M332.7 488.9h0M289.8 469.3h0M344.4 464.8h0M312.2 496.5h0M322.3 492.8h0M289.5 471.8h0M301.2 460.5h0M313.3 496.3h0M317 485.9h0M302.5 484.7h0M307.9 470.6h0M293.3 464h0" stroke="#08519c" stroke-width="1.7" stroke-linecap="round" fill="none"/>
<path d="M322.2 484.3h0M336.7 448.6h0M297.4 441.5h0M338.7 462.6h0M328 491h0M343.8 435.3h0M307.7 479h0M306.5 461h0M332.6 481.9h0M327.8 478.1h0M313.1 489h0M324.5 480.7h0M323 493.1h0M304.4 478.5h0M335.4 484.5h0M327.9 476.5h0M304.6 452h0M322.8 480.2h0M315.8 466.3h0M330.9 486.2h0M327.4 488.6h0M303 467.7h0M304.2 456.1h0M298.2 439.7h0M288.5 461.2h0M333 474h0M340.3 453.9h0M309 469.7h0M292.1 455.8h0M344.2 461.8h0M277 459.9h0M290.9 458.2h0" stroke="#2171b5" stroke-width="1.7" stroke-linecap="round" fill="none"/>
<path d="M293.4 462.9h0M305 462h0M335.1 486.2h0M319.6 475.5h0M305.9 458.3h0M284.6 469.2h0M317.8 487h0M314.6 477.1h0M311 489.7h0M329 484.4h0M326.7 478.2h0M320.1 470h0M331.5 472.6h0M314.7 481h0M337.3 482.3h0M314.7 475.8h0M327 484.8h0M333.3 478h0M298.8 462.8h0M312.7 491.6h0M338.3 484.4h0M320.6 487.4h0M333.9 477.7h0M345.5 469.5h0M341.7 474h0" stroke="#08306b" stroke-width="1.7" stroke-linecap="round" fill="none"/>
<path d="M277.8 469.2h0M329.6 469h0M321.4 465.8h0M311.6 481.5h0M320.2 458.5h0M285.3 454.5h0M304.9 443.9h0M290.7 467.1h0M332.7 487.1h0M327.6 445.1h0M306.2 455.2h0M280.5 471.5h0M317.2 443.6h0M296.5 460.4h0M308.4 455.5h0M314 461.8h0M317.5 467h0M343.7 472h0M339 450.5h0M309.8 478.1h0M291 468.7h0M301.9 451.3h0M297 453.7h0M330.3 475.9h0M287.7 469.6h0M288.2 452.8h0M332.1 481.9h0M318.5 481.2h0M319.4 477.3h0" stroke="#6baed6" stroke-width="1.7" stroke-linecap="round" fill="none"/>
<path d="M331.1 455.3h0M299.8 452h0M291.8 451.6h0M309.8 438.8h0M326.8 444.6h0M311.4 469.3h0M324.1 448.1h0M322.3 463.1h0M340.1 454.1h0M339 469h0M292 468.7h0M292.4 444.8h0M346.4 447.9h0M317.2 464.6h0M324.5 455.6h0M332.3 466h0M315 469.5h0M295.2 447.1h0M304.3 460.3h0M301.2 461.1h0" stroke="#c6dbef" stroke-width="1.7" stroke-linecap="round" fill="none"/>
<path d="M317.5 437.4h0M303.1 423.9h0M324.5 430.5h0M348.7 447.2h0M341.7 469.1h0M291.4 446.7h0M347.3 447.6h0M343 441.5h0M314.5 462.4h0M353.2 446.5h0M305.9 449.3h0M334.2 437.9h0M307.3 462h0M335.2 447.1h0M319.2 448.1h0M350.3 448.4h0M319.5 449.7h0M322.3 438.1h0M341.7 438.6h0M284.5 451.1h0M331 452h0M338.9 455.2h0M356.2 441h0M321.9 464.2h0M304.4 439.7h0M351.5 452.8h0M308.1 441h0M324.4 433.5h0M353.3 453.3h0M342.9 455.6h0M348.8 435.2h0M318.3 444.6h0M327.3 451.1h0M348.1 453.1h0M354 434.6h0M301.8 430.9h0M344.9 437.8h0M334.6 446.5h0M297.3 443.2h0M336.5 463.5h0M306.9 448h0M329.9 432.8h0M332.8 437.8h0M348.8 441.3h0M309.1 445.6h0M322.9 466.1h0M322.5 456h0M324.7 434.8h0M291.2 457.2h0M322.8 437.2h0M316.2 437.4h0M336.1 474.1h0M313.3 427.4h0M336.3 453.4h0M310.9 435.5h0M336.8 438.6h0M298.1 445.6h0M349.5 454.6h0M302.4 443.7h0M332 445.6h0M345.1 432.8h0M303.7 444.2h0M312.2 425h0M329.3 471.5h0M332.3 436.9h0M337.9 465.2h0M302 432.2h0M309 436.9h0M307.7 454.5h0M308.9 450.3h0M338.6 450.9h0M312.4 439.3h0M294.6 449.3h0M326.4 434.5h0M322.8 434.6h0M345.5 441.1h0M347.6 443.1h0M334.4 438h0M353 440.9h0M301.7 465h0M348.9 440.4h0M333.1 466.7h0M315.6 450.7h0M310.5 430.4h0M303.9 436.1h0M349.3 442.1h0" stroke="#dedede" stroke-width="1.7" stroke-linecap="round" fill="none"/>
<path d="M355.9 449.1h0M314.4 453.6h0M352.9 438.5h0M305.1 435.3h0M323.5 426.3h0M310.6 430.3h0M324.5 464.7h0M316.1 446.4h0M317.1 431h0M347.4 437.3h0M296.4 448.3h0M290.1 442.7h0M318 449.1h0M333.5 473.4h0M304.2 457.4h0M321.6 437.3h0M302.9 428.1h0M305 434.4h0M315.6 436.2h0M288.4 451.7h0M329.6 434.9h0M330.3 435.9h0M355.9 450.6h0M311.7 448.6h0M347.1 455.5h0M347.9 463.4h0M302 448.2h0M343.7 457.7h0M350 436.7h0M291.8 443.7h0M331.1 437.9h0M326.9 432.4h0M306.3 456h0M335.2 451.2h0M348.3 459h0M304.1 437h0M352.4 452.4h0M317.6 432.1h0M338.5 448.6h0M310.9 435.1h0M325.5 454.7h0M354.8 453.6h0M356.5 439.5h0M348 451.4h0M313.4 432.1h0M300.3 442.5h0M315.5 438.4h0M344.1 444.2h0M316.7 453.6h0M335.8 448.5h0M338.2 439.6h0M317.1 443h0M302.2 428h0M351.2 433.8h0M318.6 447.7h0M348.6 439h0M351.8 441.3h0M295.4 447.9h0M315.4 459.1h0M324.1 442.9h0M350.8 450.4h0M352.2 449h0M342.6 459.8h0M320.7 443.3h0M326.5 430.9h0M310.4 436.9h0M321.9 439.8h0M308.1 425.8h0M324.5 442.2h0M325.6 454.7h0M344.4 450.8h0M304.5 430.1h0M338.7 437.1h0M341.3 442.3h0M313.9 439h0M308.5 432.7h0M327.5 435.4h0M341.7 460.7h0M345.2 435.8h0M313.8 436.7h0M333.9 458h0M344.7 444.7h0M347.5 438.5h0M338.3 439.2h0M348.1 440.9h0M303.4 428.9h0" stroke="#dedede" stroke-width="1.7" stroke-linecap="round" fill="none"/>
<path d="M326.1 486.7h0M303.1 483.5h0M314.8 495h0M321.3 467.1h0M305.7 483.5h0M315.6 449.5h0M346.8 447.8h0M278.8 470.1h0M343.1 474.7h0M333.7 462.3h0M335.1 453.9h0M340.4 463.9h0M275.4 461.1h0M339.4 476.2h0M321.8 474.9h0M316.9 456.9h0M284.1 458.3h0M320.5 480.6h0M305.4 485.8h0M331.9 477.2h0M309.2 482.7h0M291.6 472.6h0M306.7 475.7h0M332.3 460.9h0M308.4 471.4h0M336.3 461.2h0M324.6 484.2h0M343.1 476.6h0M282.5 454.8h0M304.9 486h0M300.9 447.8h0M304.4 444.1h0" stroke="#2171b5" stroke-width="1.7" stroke-linecap="round" fill="none"/>
<path d="M334.3 450.2h0M301.4 483.5h0M322.1 465.9h0M331.1 470.8h0M347.1 467.7h0M344 446.6h0M302 450.9h0M334.4 470.7h0M344.7 472.7h0M327 469.5h0M283.1 457.8h0M311.5 474.3h0M277.1 463.9h0M331.5 463h0M346 460.7h0M304.5 482.4h0M330.8 473.9h0M338 484h0M315 460.2h0M299 475.8h0M279.3 465.8h0M336.7 471.2h0M298.1 464.6h0M303.9 450.8h0M289 449.1h0M321.5 446.5h0M342.7 475h0M296.7 462.9h0M318.8 451.4h0M339.9 467.6h0" stroke="#6baed6" stroke-width="1.7" stroke-linecap="round" fill="none"/>
<path d="M324.2 464.5h0M287.4 456.8h0M329.3 469.6h0M280.3 457.6h0M311.4 475h0M302.5 482h0M293.9 468h0M289.5 468.3h0M304.6 488.1h0M326.3 483.5h0M332 488.2h0M328.2 490.5h0M318.5 492.2h0M303.6 485.8h0M298.4 473.8h0M305.7 483.2h0M312 483.2h0M305.3 451.5h0M343.9 457.3h0M347.9 464.2h0M312.2 479.6h0M331.1 468.5h0M302.9 474.6h0M316.4 484.1h0" stroke="#08519c" stroke-width="1.7" stroke-linecap="round" fill="none"/>
<path d="M319.6 478.6h0M303.9 463.9h0M307.8 477h0M324.1 482.1h0M305 462.9h0M311.2 500.1h0M296.1 463.2h0M342.1 473.5h0M346.8 466.7h0M313.8 483.8h0M331.3 484.7h0M300.8 473.2h0M312.9 481.2h0M334.5 465.7h0M329 486.3h0M292.9 471.5h0M338.9 466.2h0M301.4 462h0M316.1 481.2h0M303.7 476.5h0M309.9 497.6h0M299.1 460.2h0M312.2 472.6h0M327.6 485.8h0M334.3 467.8h0M319 489.5h0" stroke="#08306b" stroke-width="1.7" stroke-linecap="round" fill="none"/>
<path d="M307 447.1h0M301.2 452.9h0M307 452.7h0M317.9 458.4h0M303.4 449h0M325.9 464.1h0M278.6 465.5h0M301.1 455.7h0M330.1 444.2h0M307.4 454.3h0M302.4 465.8h0M310.9 453.6h0M316.3 447.8h0M353.6 458.5h0M303.5 457h0M326.9 449.2h0M322.9 447.2h0M329.6 446.6h0M310.4 448.6h0" stroke="#c6dbef" stroke-width="1.7" stroke-linecap="round" fill="none"/>
<path d="M280.5 470.7h0M312.5 466.3h0M284 473.6h0M306.4 462.9h0M320.4 477.8h0M316.5 495.6h0M311.3 479.6h0M309.2 460.6h0M278 461h0M340.8 475.3h0M311.6 501.3h0M315.5 497.3h0M304.3 483h0M320.5 478.4h0M308.7 486.2h0M331.7 480.6h0M305.6 484.4h0M314 491.2h0M307.7 487.3h0M310.7 482.5h0M303.1 486.1h0M314.1 491.3h0M333.6 486.5h0" stroke="#08519c" stroke-width="1.7" stroke-linecap="round" fill="none"/>
<path d="M339.5 457.1h0M336.1 451.8h0M345.8 449.1h0M293.5 452.3h0M290.3 462.3h0M291.2 441.2h0M339.7 452h0M309.2 443.2h0M345.5 447.1h0M331.9 440.1h0M288 442.3h0M312.4 452.4h0M302.2 457.8h0M333.7 465.9h0M332.2 455.9h0M313.3 445.6h0M322.9 451.6h0M350.6 455h0M315.8 468.1h0M331.7 462.6h0" stroke="#c6dbef" stroke-width="1.7" stroke-linecap="round" fill="none"/>
<path d="M301 476.9h0M339.6 480.1h0M306.7 468.9h0M301.5 480.5h0M325 477.4h0M325.7 482.3h0M336.9 478.2h0M339.7 481.8h0M298.8 470.5h0M323.7 488.2h0M322 458.3h0M312 487.5h0M329 472.1h0M323.6 474.6h0M313.2 491.5h0M296.5 472.9h0M321.8 487.4h0M282.2 470.8h0M312.1 478.1h0M327 474.1h0M338.8 474.1h0M333.4 470.6h0M313.7 493.4h0M288.5 470.4h0M303.2 466.3h0" stroke="#08306b" stroke-width="1.7" stroke-linecap="round" fill="none"/>
<path d="M315.3 425.3h0M309 436.5h0M316.1 433h0M330.7 440.3h0M348.5 434h0M315.6 456.7h0M318.9 447h0M350.2 445.3h0M316.5 437h0M329.4 438.2h0M298.1 448.2h0M305.1 449.4h0M353.4 458.9h0M354.8 446.6h0M345.9 435.8h0M316.6 430.3h0M351.7 448.6h0M291.9 453.6h0M309.8 441.9h0M327.1 453.4h0M308.4 438.4h0M353.4 439h0M317.2 449.1h0M337.2 458.3h0M351.8 461h0M306.8 454.7h0M350.9 444.7h0M326.2 452.7h0M294.6 445.8h0M298 454.7h0M293.5 445.6h0M298.5 442.6h0M312.2 428h0M347.1 453.2h0M341.6 439.3h0M355.1 441h0M355.8 449.2h0M308.7 461.8h0M331.4 455.9h0M309.5 427.6h0M328.5 432.2h0M331.3 460.4h0M353.8 453.7h0M352.2 436.6h0M355.3 445.1h0M330.8 450.1h0M330.5 454.3h0M302.5 424.8h0M343.2 432h0M345.1 432.9h0M349.9 463h0M314.2 441.4h0M303.6 443.1h0M303 432.6h0M356.1 442.2h0M300.9 427.1h0M350.5 459.6h0M313.4 435.4h0M318.5 454.2h0M322.6 435.6h0M320.1 427.7h0M323.5 429.3h0M346.8 456.5h0M331.3 441.4h0M286 445h0M298.8 436.9h0M297.9 439.8h0M330.5 441.2h0M336 449.9h0M328.4 433.8h0M308.6 425.8h0M326.6 429.1h0M353 451h0M336.7 442h0M330.7 438.8h0M290.8 460.1h0M333.9 441.1h0M313.9 427.5h0M348.7 436.6h0M299.6 424.6h0M347.2 441.7h0M308.7 431.7h0M336.9 443.4h0M331.7 435.4h0M297.2 464.7h0M327.2 470.7h0" stroke="#dedede" stroke-width="1.7" stroke-linecap="round" fill="none"/>
<path d="M317.7 444h0M327.9 479.8h0M344 461.7h0M329.3 448h0M300.6 477h0M309 466.8h0M316.8 466.7h0M318.8 475h0M291.8 471.2h0M286.3 458.2h0M335.1 482.7h0M328.6 474.4h0M308.5 447.5h0M295.4 464.2h0M335.2 469.2h0M339.3 474.8h0M291.9 457.4h0M333.9 474.1h0M344.8 456.4h0M336.2 459.8h0M345 472.7h0M319.5 462.4h0M320.4 439.3h0M332.8 451.8h0M315 478.9h0M284.4 473.6h0M329.2 491.6h0M313.4 478.8h0M338.9 470.8h0M314.6 468.6h0M300.4 463h0M330.5 461.4h0M299.3 480.2h0" stroke="#2171b5" stroke-width="1.7" stroke-linecap="round" fill="none"/>
<path d="M284.6 457.1h0M308.1 471h0M314.4 462.9h0M301.6 455.2h0M298.5 466.2h0M341.7 460.4h0M289.4 471.7h0M291.9 457.4h0M310.3 450.4h0M283 473.1h0M297.2 478.3h0M330.9 471.6h0M284.5 455h0M307 471.7h0M343.2 471.7h0M281.7 466.9h0M320.1 486h0M349.5 437.1h0M334.3 447.8h0M321.9 462.7h0M285.7 464.1h0M293 475.5h0M321.1 452.7h0M294.9 472.6h0M295.2 462.6h0M317.3 475.2h0M324.9 431.9h0M290.4 467.8h0M331.8 473h0" stroke="#6baed6" stroke-width="1.7" stroke-linecap="round" fill="none"/>
<path d="M327.3 476.5h0M286.1 450.8h0M329 480.6h0M339 480.6h0M279.3 469h0M316.6 472h0M330.3 471.1h0M288.3 459.9h0M298.5 456.1h0M332.7 473.6h0M293.5 465.5h0M317.7 482.3h0M300.7 465.3h0M307 444.6h0M308.7 468h0M312.8 480.5h0M315 461.3h0M281 463.9h0M312.9 448.9h0M309.7 470h0M307.8 472.6h0M303.1 464.3h0M311.1 441.6h0M286.3 465.8h0M290.9 472.6h0M286 473h0M320.4 473.6h0M323.6 464.1h0M339.7 476.3h0M298.8 476.2h0" stroke="#6baed6" stroke-width="1.7" stroke-linecap="round" fill="none"/>
<path d="M288.2 455.8h0M303.1 423.9h0M344.9 440.9h0M315.2 431h0M324 435.1h0M301.3 447.4h0M316.8 424.6h0M338.1 451.6h0M333.3 444.1h0M315 432.7h0M342.2 467.5h0M314.6 423.8h0M355.5 443.7h0M323.8 432h0M335.9 442.3h0M313.1 458.3h0M348.9 445.8h0M324.3 470.3h0M323.2 457.5h0M310.1 430.6h0M326.9 445.6h0M342.8 460.9h0M338.4 439.5h0M290.2 456.8h0M319.6 425.9h0M324.5 446.9h0M331.8 444.2h0M317.5 430h0M349.7 447.1h0M304.6 437.4h0M310.4 450.7h0M301.4 437.3h0M305.5 449.6h0M297.3 440.3h0M338.8 459h0M349.8 443.6h0M335.5 451.2h0M297.2 442.3h0M321 456.6h0M303.9 466h0M300.1 438h0M310.2 438h0M337.3 441.2h0M307.4 431.5h0M347.4 464.1h0M341.6 448.1h0M316.1 441.3h0M302.7 427.6h0M296.3 442.6h0M309.3 424h0M341.6 456.3h0M349.5 443.3h0M305.7 443.9h0M332 468.9h0M333.6 452.5h0M338.8 432.9h0M339.9 441.5h0M303.5 445.2h0M306.9 425.4h0M335.4 433.8h0M352.8 440.3h0M353.2 452.4h0M314.7 432.3h0M321.9 433h0M347.4 450.9h0M350.8 448.2h0M353.8 438.4h0M305.5 436.1h0M336.9 435.8h0M331.5 455.8h0M344.6 449.6h0M323.3 441.1h0M309.6 429h0M320 452.5h0M333.9 442.7h0M348.5 462.7h0M314.9 426.2h0M322.7 434.6h0M353.6 442.2h0M315.5 424.1h0M312.2 440.4h0M335 457.3h0M310.6 443h0M335.6 473h0M296 451.7h0M298.5 424.6h0M305.9 433.9h0" stroke="#dedede" stroke-width="1.7" stroke-linecap="round" fill="none"/>
<path d="M321.9 465.9h0M338.1 478.2h0M306.2 455.4h0M309.4 484.5h0M332.4 486.2h0M339.6 482.1h0M308 494.3h0M335.2 475.1h0M329.6 491.1h0M310.4 489.2h0M307.7 484.1h0M309.8 491.6h0M316.5 456.5h0M323.5 493.6h0M310.7 475.4h0M344.1 458.1h0M281.1 467.3h0M314.1 477.5h0M310 495.2h0M334.7 490.3h0M325.5 471.2h0M327.8 477.9h0M331.2 478.4h0M311.1 487.6h0M303.4 485.2h0M323.4 486.9h0" stroke="#08306b" stroke-width="1.7" stroke-linecap="round" fill="none"/>
<path d="M313.6 466.2h0M343.2 466.5h0M285 450.5h0M297.7 452.9h0M349.9 462.5h0M335.2 463.5h0M277.9 462.6h0M307.9 436.3h0M285.6 446.4h0M313.7 463.9h0M323.4 467.9h0M312.8 463.5h0M328.7 460.9h0M298.9 444.3h0M318.9 451.1h0M343 450.8h0M318.5 450.6h0M303 453.4h0M293.3 460.4h0M313.7 458.3h0" stroke="#c6dbef" stroke-width="1.7" stroke-linecap="round" fill="none"/>
<path d="M320.2 494.3h0M313.9 478.5h0M334 489.5h0M340.5 473.1h0M323.4 482.4h0M294.2 464.1h0M328.3 487.2h0M283.5 473.1h0M289.4 465.9h0M318 476.6h0M304.5 483.1h0M311.1 470.7h0M307.6 471.9h0M300.8 481.4h0M342 476.8h0M316.1 480.8h0M323.7 479.4h0M311.9 499.4h0M342.2 478.9h0M329.2 466.8h0M344.1 462.9h0M302.5 469.3h0M312 480.3h0" stroke="#08519c" stroke-width="1.7" stroke-linecap="round" fill="none"/>
<path d="M342.3 447h0M296.3 422.9h0M303.8 463.5h0M345.8 465h0M337.1 459h0M338 472.4h0M315.5 453.8h0M333.3 459.5h0M319.5 465.6h0M336.6 453.2h0M345.4 444.4h0M301.4 478h0M345.7 467h0M338.6 476.1h0M309.5 444.4h0M331.5 475.5h0M332.1 466.3h0M313.1 488.5h0M310.1 472.9h0M309.5 459.8h0M286.1 451.5h0M298.8 464.7h0M340.9 459.3h0M283.4 460.7h0M316.7 490.4h0M312.5 492h0M306 437.7h0M304.3 465.2h0M319.2 487.7h0M339.2 456.6h0M291.8 455.5h0M325.5 475h0" stroke="#2171b5" stroke-width="1.7" stroke-linecap="round" fill="none"/>
<path d="M318.7 461.2h0M346.6 462h0M316.7 480.1h0M294.1 420.7h0M305.5 462.5h0M318.5 482.4h0M300.4 478.1h0M300.6 438.6h0M305.9 475.7h0M327.3 480.8h0M331.3 473.2h0M295.8 455.4h0M311.4 469.4h0M309 442.3h0M323.9 473.3h0M322 481.7h0M284.1 470.2h0M350.9 460.6h0M341.2 475.3h0M302.2 458.8h0M289.9 466.6h0M328.1 454.1h0M288.7 464.6h0M286.3 454.7h0M312.8 471.1h0M288.8 453.4h0M301.4 457.3h0M297.6 467h0M310 469.6h0M329.2 447.4h0" stroke="#6baed6" stroke-width="1.7" stroke-linecap="round" fill="none"/>
<path d="M284.4 455.7h0M316.9 461.2h0M326.3 462.4h0M349.1 458.8h0M328.9 447h0M328.1 468.6h0M328.4 463.9h0M296.2 422.2h0M292.5 461.1h0M331.1 459.3h0M303.2 452.7h0M300.2 467.9h0M303.4 461.5h0M285.7 464.4h0M301.5 467.4h0M297.2 453.8h0M296.4 448.5h0M346.5 447.9h0M296.9 449.8h0M319.7 432.3h0" stroke="#c6dbef" stroke-width="1.7" stroke-linecap="round" fill="none"/>
<path d="M309 464.6h0M299.6 470.1h0M318.3 479.9h0M295.9 455.4h0M276.9 463.9h0M308.7 477.2h0M345.2 468.6h0M339.1 484.2h0M322.6 468.2h0M310.9 459.9h0M326.2 486.5h0M329.5 491.7h0M309.4 476.7h0M331.4 467.1h0M334.4 488.9h0M328.1 474.1h0M316.2 488h0M322.8 491.4h0M319.9 474.1h0M312.1 467.5h0M321.5 488.7h0M313.7 493.9h0M336.4 467.6h0" stroke="#08519c" stroke-width="1.7" stroke-linecap="round" fill="none"/>
<path d="M339.8 445.6h0M349.7 464.3h0M354.7 435h0M309.8 424.3h0M302 439.5h0M315 447.6h0M341.2 447.7h0M300.8 454.1h0M349 457.1h0M315.2 427.7h0M351.7 435.5h0M326.1 434.7h0M293.9 419.6h0M328 450.3h0M301.6 456.5h0M327.8 458.3h0M354.7 439.2h0M337.3 434.4h0M349.4 445.3h0M310.3 435.8h0M332.6 446.8h0M345.8 459.2h0M299.5 446h0M321.5 440h0M350.4 441.8h0M339.8 453.5h0M288.4 441.7h0M313.9 424.4h0M304.5 436.1h0M324.3 456.3h0M317.4 451.4h0M347 448.4h0M310 442.3h0M314.7 455.7h0M301.6 424.4h0M312.4 456.4h0M351.5 440.7h0M350.3 459.8h0M324.9 430.3h0M310.6 438.8h0M332.9 441.8h0M311.2 439.9h0M303.9 432.2h0M294.9 443.3h0M320.7 425.6h0M345.9 437.9h0M342 466.3h0M318.7 430.8h0M308.1 424.2h0M337.7 442.2h0M341.2 473.5h0M306.5 434.9h0M310.4 443h0M335.1 449.6h0M348.4 437.6h0M357.2 440.5h0M335.9 467.1h0M309.8 432.9h0M331.2 440.1h0M353.8 448.5h0M309.9 428.6h0M319.6 438.3h0M334.5 463.3h0M317 445.2h0M314.6 434.1h0M349.4 433h0M344.8 442.5h0M323.3 434.1h0M331.9 466.7h0M320.1 433.4h0M354.6 443.9h0M297.2 423.8h0M322.8 427.1h0M300 421.9h0M352.8 438.7h0M308.6 426.6h0M317.3 451.6h0M351.1 449.9h0M337.1 448.3h0M351.8 458.4h0M321.9 465.2h0M331.1 442.4h0M297.7 443.1h0M337.8 441.7h0M317.5 450.3h0M322.4 455.2h0" stroke="#dedede" stroke-width="1.7" stroke-linecap="round" fill="none"/>
<path d="M323.5 491.1h0M307.5 466.9h0M342.1 472.6h0M306.4 479.2h0M307.4 490.2h0M329.7 486.6h0M300.5 471.1h0M310.3 466.5h0M341.5 476h0M293.5 462.9h0M307.6 470.2h0M302.1 483.2h0M299.1 456.5h0M320.4 473.2h0M332.6 469.4h0M308.4 493.3h0M321.4 461.6h0M296.3 469.4h0M332.2 488.2h0M336.3 479.2h0M316.3 492.8h0M305.8 489h0M337.2 476.6h0M319.7 482.7h0M293.1 473.5h0" stroke="#08306b" stroke-width="1.7" stroke-linecap="round" fill="none"/>
<path d="M286.4 469.6h0M320.5 477.9h0M322.1 456.7h0M283.9 461.7h0M316.8 466.3h0M307.2 464.3h0M329.5 478.7h0M344.9 458.4h0M333.3 477.3h0M327.4 489.3h0M330.5 468.7h0M350.9 459.9h0M332.5 466.2h0M299.5 463.3h0M340.1 455.3h0M317.2 483.3h0M330.4 476.8h0M285.3 460.2h0M328.2 479.5h0M282.5 464.8h0M318.6 441.5h0M336.6 453h0M341.5 480.2h0M303.9 465.3h0M309.3 479.6h0M330.7 480.1h0M293.3 451.9h0M321.2 471.7h0M303.1 450.5h0M280.9 471.7h0M298.9 475.8h0M312.2 494.9h0" stroke="#2171b5" stroke-width="1.7" stroke-linecap="round" fill="none"/>
<path d="M317.9 495.4h0M293.4 463.2h0M322.6 490.1h0M327.8 476.8h0M307.1 488.6h0M340 483.1h0M307.9 479.7h0M327.1 487.4h0M328.5 490.6h0M342.5 476.9h0M313.7 497.2h0M305.2 485.9h0M306.1 487.9h0M315.1 481.6h0M282.7 456.3h0M309.1 494h0M284.1 463.3h0M310.5 478.5h0M328.4 468.2h0M326.9 490.4h0M304 480.5h0M299.3 478.5h0M315.3 472.7h0M309.9 457.7h0M309.1 494.2h0M305.9 477.4h0" stroke="#08306b" stroke-width="1.7" stroke-linecap="round" fill="none"/>
<path d="M345.5 453.9h0M290.2 460h0M286.2 455h0M336.6 485.6h0M318.4 457h0M284.3 471.3h0M323.1 483.1h0M298 477h0M309.9 478.4h0M305.3 475.6h0M337.5 478.9h0M320.6 476.6h0M331.4 489.3h0M305.9 462h0M302.4 479h0M304.8 463.4h0M309.7 480.9h0M311.1 494h0M308.7 497h0M326.9 477h0M327 468.8h0M321.8 492.2h0M323.6 491.3h0" stroke="#08519c" stroke-width="1.7" stroke-linecap="round" fill="none"/>
<path d="M312.8 436.2h0M288.7 453.8h0M343.9 454.4h0M330.9 457.8h0M320.1 458.2h0M340.8 454.3h0M349 448h0M295.5 450.9h0M339.6 448.9h0M336 463.8h0M315.9 458.2h0M303.5 438.6h0M295.4 420.5h0M335.2 453h0M305 430.1h0M317.9 426.5h0M308.4 433.4h0M327.1 439.5h0M318.7 435.2h0M349.6 441.1h0M317.2 457.6h0M336 462.4h0M292.2 439.4h0M342.9 454.3h0M352.6 455.5h0M292.5 418.9h0M349.6 444.8h0M353.4 455.5h0M333.3 468.4h0M303.5 432.7h0M298.3 437.4h0M347.5 464.2h0M294.5 457.3h0M310.6 430.4h0M324.9 435.1h0M320 453.4h0M334 436.6h0M301.1 437.7h0M320.6 445.9h0M341.1 435.6h0M318.5 447h0M324.5 432.3h0M293.4 453.2h0M330.2 452.1h0M339.2 444h0M315.2 436.8h0M344.2 447h0M355 443h0M315.3 437.2h0M329.3 436.3h0M329.5 444h0M318.5 425.5h0M306.8 449.6h0M305.4 432.7h0M312.5 433.8h0M316.7 430.7h0M312.6 443.3h0M306.8 454.8h0M338 449.3h0M355 436.8h0M302.4 425h0M300.8 436.4h0M321.9 453.5h0M303 459h0M321.7 459.9h0M336.6 437.5h0M335.6 446.7h0M311.1 441.5h0M335.8 449.6h0M334.3 441.2h0M344.8 439.6h0M294.7 420.3h0M356.8 441.7h0M315.2 438.9h0M351.3 459h0M349.7 449.7h0M322.6 427.3h0M300.1 428.3h0M337.4 435.2h0M306.5 460.1h0M322.1 449.4h0M344.1 462.9h0M294.9 444.3h0M314.1 424.3h0M326.4 431.4h0M350.1 436.5h0" stroke="#dedede" stroke-width="1.7" stroke-linecap="round" fill="none"/>
<path d="M355.2 453.2h0M305.8 435.7h0M311.8 490.5h0M319 443.9h0M316.9 464.2h0M306 471.4h0M310.8 484.7h0M298.2 468.8h0M334.8 464.4h0M334.7 460.8h0M341.8 471h0M307.4 456h0M330.8 483.6h0M300.3 473.5h0M287.7 455.9h0M306.6 462.5h0M331.5 470.8h0M324.7 487.6h0M297.6 463.6h0M314.8 436h0M310.4 479.8h0M284.6 455.3h0M339.1 459.7h0M308.9 485.4h0M317.2 474.6h0M309.2 485.5h0M318.4 471.6h0M325 466.7h0M317.2 496.4h0M317.5 486.5h0M321.4 462.6h0M323.3 472.3h0M306.7 462.7h0" stroke="#2171b5" stroke-width="1.7" stroke-linecap="round" fill="none"/>
<path d="M330.4 462.5h0M286.7 446.7h0M299 468.1h0M290.6 453.8h0M312.2 447.8h0M340.6 464.4h0M288.8 471.3h0M327.9 452h0M336.8 460.5h0M301 455.3h0M295 457.5h0M355.4 452.8h0M314.3 446.8h0M286 457.9h0M284.1 461.1h0M314.9 449.6h0M318.3 450h0M283.5 460.9h0M308 442.1h0M313.8 445.9h0" stroke="#c6dbef" stroke-width="1.7" stroke-linecap="round" fill="none"/>
<path d="M318.9 465.5h0M326.7 469h0M299.1 448.9h0M317.1 443.8h0M327.8 445.9h0M285.5 448.2h0M332.6 462.6h0M336.5 472.9h0M303 465h0M332.4 476.8h0M327.8 473.3h0M283.8 462.8h0M318.2 468.8h0M330.6 482.1h0M292.3 465.4h0M341.8 453.7h0M339 480.1h0M289.7 464.6h0M291.3 447.2h0M339.3 468.1h0M344.6 474.1h0M297.6 468h0M302.1 462.3h0M284.9 452.3h0M290.7 443.3h0M320.4 453.1h0M316.9 481.2h0M324.6 469.6h0M321.3 462.8h0" stroke="#6baed6" stroke-width="1.7" stroke-linecap="round" fill="none"/>
<path d="M339.4 466.6h0M311.3 493h0M334.4 466.4h0M310.6 475.8h0M318.7 487.3h0M322.7 447.4h0M287 467.1h0M316.1 489.3h0M328.5 465.7h0M296.6 454.5h0M278.2 459.6h0M285.6 451.2h0M334.6 488.8h0M326.4 445.2h0M303.2 483.6h0M298.6 469.5h0M324.1 453.7h0M302.8 454.1h0M316.2 467.9h0M335.6 468.9h0M283.7 461.8h0M322.5 490.8h0M311.3 498.4h0M328.7 468.2h0M300.6 470.7h0M337.1 487h0M334.4 480.2h0M320.6 470h0M310.2 467.9h0M307.6 470.7h0M293 471.8h0M298.1 422.5h0" stroke="#2171b5" stroke-width="1.7" stroke-linecap="round" fill="none"/>
<path d="M323.6 486.6h0M343.7 464.2h0M304.9 475.9h0M317.1 481.5h0M335.1 462.7h0M300.8 464.9h0M315.8 460h0M343.6 473h0M340.2 474.3h0M331.5 483.8h0M333.3 477.5h0M331.3 465.7h0M308.3 474.3h0M317.8 461.3h0M329 473.6h0M308 475.6h0M285.7 463.5h0M322 493h0M306.1 478.8h0M337.3 482.7h0M338.6 472.5h0M331.4 470.4h0M315.5 489.6h0M340 484.1h0M293.9 456.8h0" stroke="#08306b" stroke-width="1.7" stroke-linecap="round" fill="none"/>
<path d="M341.7 460.7h0M287.8 470.3h0M333.8 458.6h0M317.9 465.5h0M293.9 452.6h0M281.6 456.9h0M286.7 466.6h0M326.1 448.3h0M299.6 454.7h0M313.8 462.3h0M293 463.8h0M328.3 456.1h0M319.7 441.1h0M298.1 446.2h0M307.7 431.7h0M312.4 454.1h0M313.5 448.7h0M308.5 438.5h0M312.1 451h0" stroke="#c6dbef" stroke-width="1.7" stroke-linecap="round" fill="none"/>
<path d="M307.1 424.8h0M343.2 434.8h0M328.9 438.3h0M332.2 445.1h0M342.6 472.2h0M281.1 459.4h0M323.8 469h0M332.5 434.9h0M350.5 459.8h0M317.3 444.8h0M319.5 459.6h0M330.8 450.5h0M320.1 442.3h0M321.5 467.4h0M319.8 425.8h0M294.7 451.5h0M336.6 435.8h0M296.1 459h0M354.1 440.3h0M335.9 446.6h0M353.3 445.3h0M332.7 446.4h0M313.3 439.8h0M341.7 438.9h0M339.5 448.8h0M289.8 458.3h0M332.2 454.3h0M330.2 437.2h0M341.9 438.6h0M310 440.3h0M311.9 443.1h0M336.9 459h0M320.4 453h0M312.6 434.3h0M349.7 443.3h0M351.9 444.4h0M325.6 433.3h0M345.9 440.8h0M303.8 429.6h0M343.2 448.6h0M322.7 457.7h0M300.8 435.9h0M319.5 443.7h0M355.6 446.3h0M306.2 440.9h0M339.2 447.3h0M326.4 445.4h0M339 432.7h0M323.6 443.9h0M327.3 459.8h0M324.4 444.8h0M318.4 446.2h0M355.4 436.4h0M314.8 434.3h0M328 462.3h0M339.1 431.4h0M301.5 424.5h0M311 426.5h0M329.2 455.5h0M339.5 434.1h0M347.5 434.1h0M328 440.5h0M294.9 457.1h0M341.9 443.8h0M330.3 437.8h0M287.3 451.6h0M337.2 466.7h0M346.7 458h0M328.5 435.1h0M317.6 431.6h0M336.4 451.6h0M344.7 434.7h0M347.4 440.9h0M313.9 429.8h0M342 448.5h0M297 450.5h0M332.7 450.2h0M322 448.6h0M350.8 433.8h0M329.6 452.8h0M300.6 438.3h0M325 430.8h0M343.4 435.1h0M315.3 437.5h0M347.9 451.5h0M347.2 462.7h0" stroke="#dedede" stroke-width="1.7" stroke-linecap="round" fill="none"/>
<path d="M305.8 449.4h0M323.8 471.1h0M352 457.2h0M340.6 458.7h0M327.1 465.3h0M325 447h0M342.8 466.9h0M334.5 488.1h0M314.5 443.3h0M301.7 444.5h0M308.3 461.9h0M322.1 453h0M354.8 436.8h0M308.7 469.3h0M282.4 453.8h0M311.4 468.8h0M323.8 464.3h0M285.4 456.7h0M332.3 440.6h0M299.7 447.2h0M283.8 458.4h0M345.7 459.1h0M296.9 440.8h0M293.1 456.1h0M315.9 467h0M314.2 447.6h0M312.5 449.4h0M332 461.6h0M349.5 463.4h0M326.8 466h0" stroke="#6baed6" stroke-width="1.7" stroke-linecap="round" fill="none"/>
<path d="M309.4 483.4h0M331 469.4h0M326.3 465.2h0M315.1 482.2h0M337.2 475.8h0M316.5 474.5h0M296.3 476.1h0M315 472.4h0M343.5 476.4h0M313.3 495h0M321.5 475.3h0M296 469h0M335.4 466.7h0M313.9 494.4h0M318.9 475.3h0M330.4 471.7h0M293.6 475.9h0M297.9 468.5h0M333.2 471.9h0M308.6 495.7h0M315.9 476.3h0M342.8 460.3h0M320.4 485.7h0M301.7 465h0" stroke="#08519c" stroke-width="1.7" stroke-linecap="round" fill="none"/>
<path d="M354.4 456.1h0M342.3 449.4h0M285.2 452.1h0M322.2 466.3h0M316.9 447.9h0M277.4 458.7h0M292.8 451.2h0M312.2 461.4h0M294.2 451.3h0M285.6 452.6h0M296.9 452.1h0M327.3 458.4h0M298.3 458.7h0M307.4 460.6h0M342.6 451.5h0M285 456.8h0M292.4 463h0M318.7 428.3h0M286 451.9h0M292.9 457.2h0" stroke="#c6dbef" stroke-width="1.7" stroke-linecap="round" fill="none"/>
<path d="M296.1 471.2h0M342.1 476.5h0M306.6 479.9h0M320.8 483.8h0M285.6 457.6h0M341.8 481.5h0M307.3 486.3h0M312.5 468.4h0M298.4 454.3h0M314 475.6h0M334.6 482.3h0M327.4 478.2h0M312.5 500.1h0M293.9 469.6h0M331 489.8h0M311.4 482.1h0M327.4 489.1h0M335.4 476.8h0M315.2 481.8h0M318.1 489.7h0M326 468.4h0M317.2 490.8h0M338.7 466.7h0M329.2 489h0M313.8 477.8h0M298.6 475h0" stroke="#08306b" stroke-width="1.7" stroke-linecap="round" fill="none"/>
<path d="M303.8 477.7h0M308.5 486.9h0M329.2 485.2h0M335.5 486.9h0M309.6 498h0M311 489.7h0M299.8 457h0M311.8 486.4h0M322.2 487.3h0M336 482.9h0M292.6 468.3h0M321.5 487h0M317.2 496h0M301 474.4h0M311 459.1h0M306.2 485.2h0M329.3 472.2h0M304.9 483.5h0M324.1 487.9h0M314.8 491.1h0M335.9 483.6h0M327.5 470.8h0M289.4 471.1h0" stroke="#08519c" stroke-width="1.7" stroke-linecap="round" fill="none"/>
<path d="M291.6 443.5h0M333.3 451.8h0M291.7 475.6h0M324.9 483.7h0M332.4 482.5h0M332.1 465.2h0M313 457h0M308.9 444.6h0M301.8 437.1h0M300.4 469.3h0M316.9 493.5h0M307.1 475.8h0M320.9 491h0M335.9 468.8h0M280.6 471.2h0M349.6 448.1h0M310.5 452.5h0M337.2 476.9h0M294.6 466.5h0M308.5 464h0M324.7 464.9h0M289.9 472.9h0M288.8 457.7h0M319.3 452.2h0M322.3 492.7h0M310.8 453.9h0M310.4 476h0M305.3 446.1h0M295.9 458.5h0M315.6 456.7h0M290.4 445.7h0M293.1 459.5h0" stroke="#2171b5" stroke-width="1.7" stroke-linecap="round" fill="none"/>
<path d="M286.9 451.4h0M296.3 457.6h0M311.6 441.1h0M314.9 474.8h0M338.9 468.1h0M342.6 455.1h0M336 467.4h0M332.3 458.5h0M316.8 474.3h0M299 427.3h0M343.1 472.1h0M296.7 455.1h0M294.1 456.3h0M287.4 474.4h0M323.9 468.5h0M281.3 456.3h0M319.4 468.3h0M325.3 464.4h0M330.3 468.6h0M278.3 460.4h0M324.3 475.7h0M295.8 448.8h0M325.3 452.2h0M281.2 468h0M284.9 471.8h0M315.4 469.5h0M339.4 461.8h0M350.4 460h0M336 482.9h0M312 475.3h0" stroke="#6baed6" stroke-width="1.7" stroke-linecap="round" fill="none"/>
<path d="M306.5 454.7h0M298.8 422.8h0M341.4 444.6h0M339.7 469.7h0M323 452h0M303.7 457.5h0M328.8 432.4h0M309.1 436.1h0M340.7 463.6h0M297.4 455.9h0M301.2 422h0M326.4 443.4h0M311.2 439h0M292.8 418.2h0M323.6 428.6h0M321.1 465.6h0M314 433.4h0M344.8 447.7h0M321.5 448.9h0M351.3 448h0M304.6 436.8h0M339.4 444.2h0M324.4 447.1h0M298.1 450.2h0M332.7 450.1h0M312 433.7h0M350.4 461.7h0M346.8 458.5h0M337.6 449.2h0M334.3 452.1h0M298.4 462.8h0M346.6 444.9h0M318.1 442.7h0M331.7 454.8h0M324.4 451.4h0M301.1 452h0M311.3 430.7h0M309 424h0M293.2 440.6h0M313.1 426h0M323.1 444.2h0M296.2 446.9h0M319.8 430.8h0M309.9 431.6h0M314.1 432.4h0M315.3 442.8h0M334.6 447.2h0M336.6 464.5h0M307.6 423h0M328.6 445.7h0M323.8 428.1h0M302.4 452.2h0M290.6 452.3h0M348.2 434.2h0M343.4 458h0M317.8 448.5h0M331.6 448.6h0M341.6 455.1h0M344.2 442.5h0M299.4 440h0M341.4 448.5h0M351 447.8h0M354.9 441.8h0M303.5 451.9h0M322.2 435h0M333.9 433.9h0M290.1 445.3h0M341.2 452.4h0M305.8 441.7h0M346 445.3h0M339.3 448.1h0M352.9 456.3h0M351.7 451h0M332 452.8h0M334.1 441.3h0M336.5 432.4h0M329.7 435.5h0M332 458.8h0M320.3 431.8h0M295 421.3h0M299.2 424h0M328 448.9h0M319.9 441.9h0M308.5 435.6h0M356.2 438.7h0M323.9 446.4h0M305.8 447.1h0" stroke="#dedede" stroke-width="1.7" stroke-linecap="round" fill="none"/>
<path d="M330 454.5h0M301.5 438.6h0M312.4 427.9h0M289.8 447.3h0M319.3 451h0M352.8 447.6h0M353.2 446.2h0M303.1 437.7h0M305.4 432h0M336.7 458.5h0M343.8 445.1h0M343.3 434.6h0M324.8 452.4h0M322.7 435h0M309.3 427.8h0M284.7 454.5h0M297 423.4h0M296.9 450.2h0M309.3 432.8h0M356.4 441.6h0M307.7 433.2h0M301 441.2h0M305.5 429.6h0M329.8 437.4h0M342 453.4h0M342.6 446.5h0M309.5 446.7h0M298 443.6h0M350.8 450h0M317.6 433.6h0M326.7 446.3h0M288.3 441.9h0M324 440.2h0M324.5 447.1h0M324.8 462.3h0M330 464.3h0M355 444.1h0M354.9 441.7h0M326.2 451.3h0M355.6 450.9h0M333 446.7h0M318.9 425.2h0M348.8 452.1h0M310.8 432h0M335.1 442.4h0M289.1 456.1h0M347.8 444.2h0M339.2 444.8h0M332.7 466.9h0M346.7 440.9h0M309.6 432.7h0M335 455.4h0M343.6 455.2h0M341.8 460.2h0M346.5 453h0M319.7 426.7h0M327.5 448.7h0M289.9 445.2h0M354.4 439.2h0M304.1 447.7h0M292.9 417.6h0M308.5 441.2h0M323.2 444.9h0M345.1 440.4h0M348.4 456.2h0M286.7 446.4h0M325.6 429.5h0M304.2 448.1h0M290.6 446.8h0M319.3 431.1h0M305.7 436.8h0M300.5 422.7h0M337.4 433h0M319.1 428.6h0M341.8 450.7h0M297.8 437.3h0M354.1 450.9h0M338.6 449.2h0M336.9 465.4h0M307 441.8h0M346 437.4h0M311.6 455h0M350.8 442.9h0M317.9 447.4h0M318.8 440.2h0M301.2 447.3h0" stroke="#dedede" stroke-width="1.7" stroke-linecap="round" fill="none"/>
<path d="M313.1 462.2h0M334.1 477.5h0M315.7 479.5h0M322.3 485.3h0M310.6 495.7h0M313.5 500.2h0M317.7 480.3h0M304.7 482.2h0M288.8 473.8h0M310.3 497h0M324.9 474.8h0M327 476.6h0M312.1 494h0M322.4 459.6h0M305.6 475.4h0M314.9 469.8h0M330.2 467.4h0M305.8 476.4h0M279.4 465.5h0M307.5 486.2h0M333.8 484.1h0M308.8 475.7h0M328 491h0" stroke="#08519c" stroke-width="1.7" stroke-linecap="round" fill="none"/>
<path d="M325.5 479h0M335.2 459.2h0M294.9 452.3h0M302.9 464.7h0M324.1 449.3h0M311.5 483.9h0M298.5 471.5h0M285.2 453.1h0M326.3 480.8h0M289.9 460.8h0M316.2 486.2h0M305.8 483.5h0M321.2 447.4h0M326.2 462.5h0M296 462.1h0M293 448.1h0M334.3 456.6h0M308.8 466.7h0M322.8 455.6h0M308.1 433h0M302.9 464.1h0M334.6 447.2h0M319.3 448.4h0M320.1 448.7h0M329.8 470.9h0M331.2 489.2h0M315.4 493.3h0M278 462.5h0M337.7 481.5h0M328.6 450.5h0M338.4 459h0M282.4 468.9h0" stroke="#2171b5" stroke-width="1.7" stroke-linecap="round" fill="none"/>
<path d="M326.9 486h0M304.5 468.8h0M281.8 464.3h0M332.2 467.8h0M317.1 491h0M313.6 484.3h0M307.4 480h0M295.1 466.3h0M314.1 484.6h0M340.1 466.5h0M290.6 470.3h0M309.9 469.3h0M337.9 481.4h0M331.8 479.9h0M327 463.3h0M312.2 492.8h0M297.2 461.7h0M314.4 459.7h0M296.6 476.8h0M312.7 482h0M307.1 483.3h0M305.2 487.3h0M317.4 480.5h0M276.4 459h0M344.4 459.3h0" stroke="#08306b" stroke-width="1.7" stroke-linecap="round" fill="none"/>
<path d="M334.9 464.6h0M303.2 438.8h0M288 447.2h0M306.6 443.5h0M339.3 441.3h0M325.3 453.2h0M286.5 449.2h0M353 448.8h0M311.2 442.5h0M317.5 437.2h0M340.4 461.7h0M333.4 459.5h0M299.6 423.2h0M289.6 454.9h0M344.2 471.3h0M320 441.6h0M303.3 444.2h0M322 460.6h0M336.7 456.7h0M298.6 422.4h0" stroke="#c6dbef" stroke-width="1.7" stroke-linecap="round" fill="none"/>
<path d="M326.7 447.2h0M328.8 458.7h0M287 471.5h0M316.9 465.4h0M293.6 449.9h0M350.6 450.1h0M308.8 485.6h0M319.4 481.4h0M315.3 464.6h0M316 475.8h0M310 476.2h0M297.5 453.1h0M311.2 467.6h0M333 446.4h0M320.2 463.4h0M310.8 447h0M284.8 459.6h0M349.8 453h0M319.3 449.1h0M296.8 460.6h0M291.7 473h0M302.3 476h0M288.6 444.7h0M320 466.9h0M297.9 462.3h0M345.4 440.6h0M307.4 484.5h0M346.5 459.2h0M300.4 460.6h0" stroke="#6baed6" stroke-width="1.7" stroke-linecap="round" fill="none"/>
<path d="M329.1 447.4h0M301.1 469h0M318.1 475.5h0M292.3 464h0M284.4 457.2h0M281.3 463.9h0M322.8 487.6h0M349.6 451.9h0M312.9 460.9h0M285.9 446.2h0M305 485.5h0M304.3 461.7h0M318.8 459.6h0M325 461.4h0M303.5 439.3h0M334 466.2h0M298.8 464.3h0M302.1 422.9h0M333.2 453.3h0M337.2 477.8h0M321.4 450.2h0M310.2 475.6h0M339.3 479.2h0M315.8 461.1h0M330.9 476.4h0M314 448.1h0M349.6 462.9h0M345.6 450.8h0M342.3 464.9h0M288.3 466.8h0M329.9 469.5h0M317.8 470.9h0M281.5 462.6h0" stroke="#2171b5" stroke-width="1.7" stroke-linecap="round" fill="none"/>
<path d="M286.5 458.7h0M285.8 472.5h0M309.3 495h0M331.8 469.2h0M325.5 484.3h0M344.6 465.2h0M331.3 480.6h0M331.4 481h0M318.1 493.7h0M303.8 469.7h0M334.3 460h0M308.9 472.6h0M329.1 489.3h0M325.8 486.4h0M337.4 471.5h0M325.8 478.7h0M303.2 479h0M313.6 484.4h0M299.8 471.3h0M325.1 484h0M282.7 472.4h0M312.2 490.4h0M330.9 484.1h0M321.1 487.5h0M345.3 457.7h0M304.1 474.1h0" stroke="#08306b" stroke-width="1.7" stroke-linecap="round" fill="none"/>
<path d="M299.6 442.8h0M327.5 477.5h0M319.3 452.4h0M315.6 474.1h0M295.7 470.2h0M293.3 459.1h0M311.8 444h0M301.4 447.8h0M296.8 459.9h0M337.9 464.3h0M298.8 442.6h0M287.3 468h0M327.6 482.1h0M287.5 447.6h0M330.2 454.8h0M346.9 464h0M329.3 453.2h0M309.8 482.5h0M306.2 462.5h0M328.5 478.5h0M282.1 471.2h0M332.2 470.5h0M354.9 442.7h0M291 471.6h0M316.2 460.2h0M338.2 458.4h0M322.7 466.8h0M330.3 473.3h0M303.7 456h0M330.5 440.6h0" stroke="#6baed6" stroke-width="1.7" stroke-linecap="round" fill="none"/>
<path d="M313.4 479.2h0M311.6 474.9h0M308.1 484.4h0M316.5 485.1h0M312.9 498.3h0M309.5 475.1h0M327.6 479.7h0M308.4 492h0M333.9 480.3h0M292.4 464.1h0M335.6 469.6h0M339.8 485.4h0M297.9 474h0M329.5 492.4h0M312.2 480.5h0M303 479.1h0M282.1 460.5h0M317.2 478.8h0M327 480.3h0M312.2 485.4h0M278.1 459.6h0M312.4 499.7h0M315.6 494.4h0" stroke="#08519c" stroke-width="1.7" stroke-linecap="round" fill="none"/>
<path d="M314.6 444.1h0M327.5 458.3h0M300.7 429.9h0M337.2 441.9h0M296.5 420.8h0M343.9 441h0M298.7 444.1h0M312.8 423.5h0M337.6 441.9h0M327.3 433h0M328.1 439.8h0M327.5 439.1h0M317.9 426.8h0M300.4 421.3h0M332 438.6h0M354.1 442h0M345.1 465.6h0M292.6 443.2h0M352.3 439.9h0M309.1 442.1h0M323 451.1h0M345.3 472.9h0M310.7 426.5h0M341.2 468.5h0M312.1 428.4h0M342.6 438.7h0M315.6 434h0M310.6 441.1h0M324.7 450.3h0M319.8 425.7h0M292.9 419.3h0M326 441.8h0M313.7 431.5h0M312.9 452.7h0M321.3 426.1h0M333.2 435h0M331.8 444.2h0M345.7 449.5h0M309 433.8h0M318.6 428.4h0M353 448.8h0M339.2 465.4h0M322.5 442.7h0M331.9 435.6h0M315.6 453.3h0M304.4 436h0M346.7 449.6h0M337.1 462.2h0M304.1 424h0M330.7 438.5h0M348.7 440.3h0M347.2 441h0M306.3 447.8h0M346 433.4h0M340.4 436.8h0M341.2 440.6h0M337 448.2h0M330.4 441.7h0M339 445.4h0M339.1 461.2h0M302.5 442h0M334.5 451.9h0M313.4 423.9h0M301.3 427.9h0M347.9 436.3h0M301.9 439h0M314.8 451h0M351.3 440.1h0M305.4 423.3h0M349.7 440.9h0M297.7 443h0M324.6 450.3h0M335.8 473.5h0M291 458.6h0M309.9 423.8h0M311.2 454.5h0M324 438.3h0M303.1 442.1h0M341.9 469.4h0M316 427.6h0M299.4 438.3h0M314.9 454.4h0M295.4 438h0M319 443h0M343.3 434.9h0M307.8 422.8h0" stroke="#dedede" stroke-width="1.7" stroke-linecap="round" fill="none"/>
<path d="M278.2 468.8h0M349.1 455.2h0M302.3 451.5h0M278.5 466.2h0M317.7 462.1h0M319.2 464.2h0M310.5 467.4h0M343.7 466.7h0M320.3 451.4h0M330.2 460.1h0M305.4 434.9h0M290.6 444.2h0M322.5 457.6h0M300.6 446.3h0M305.7 435.5h0M306.9 459.8h0M351.2 453.7h0M311.4 457.6h0M319.9 458.6h0M297.7 453.4h0" stroke="#c6dbef" stroke-width="1.7" stroke-linecap="round" fill="none"/>
<path d="M308.1 488.8h0M333.1 463.9h0M300.5 462.3h0M328.6 488.3h0M343.6 459.1h0M315.5 488.2h0M315.6 497.6h0M309 496.7h0M277.6 461.1h0M326.6 469.6h0M323.7 487.5h0M336.2 487h0M327.9 478.3h0M315.1 492.7h0M332.9 477.5h0M325 490.4h0M328.2 491.4h0M308.7 476.8h0M336.6 485.4h0M314.2 491.2h0M297.4 476.8h0M303.8 483h0M338.9 484.3h0M308.1 484.3h0M338.2 479.5h0" stroke="#08306b" stroke-width="1.7" stroke-linecap="round" fill="none"/>
<path d="M293.1 471h0M287.1 468h0M334.8 469.2h0M284.7 466.2h0M304.6 470.5h0M316.1 476.4h0M333.8 473.2h0M328.5 487.8h0M339.1 482.6h0M345.1 469.1h0M309.7 495.8h0M311.3 472.5h0M334.5 475.4h0M299.2 478.2h0M330.8 481.8h0M337.8 476.6h0M318.4 495.2h0M321 472.6h0M337 461.5h0M323.2 493.2h0M333.7 486.4h0M277.6 463.9h0M338.2 477.8h0" stroke="#08519c" stroke-width="1.7" stroke-linecap="round" fill="none"/>
<path d="M332.1 471.1h0M354.4 446.1h0M297.9 456.2h0M340.3 459.2h0M324.5 493.4h0M307.7 469.5h0M335.8 477.6h0M316.8 465.4h0M318.4 494.8h0M334.3 475.3h0M323.1 482.5h0M314.8 474.8h0M316.7 464.5h0M298.5 454h0M325.9 493.1h0M312 484.1h0M340.8 482.2h0M297.8 463.6h0M324.2 449.1h0M288.9 448.1h0M301 475.7h0M295.8 454.5h0M294.1 467h0M305.9 477.7h0M315.6 477.8h0M341.6 442.9h0M280.7 471.5h0M328.5 455.6h0M329.1 473.3h0M330.7 470.1h0M308.4 481h0M301.7 451.3h0" stroke="#2171b5" stroke-width="1.7" stroke-linecap="round" fill="none"/>
<path d="M319.9 460.5h0M294.1 469.6h0M305.1 453.3h0M292 461.8h0M290.8 453.1h0M307.9 462h0M323.7 452.4h0M319.6 446.9h0M311.2 434.5h0M284.2 459.8h0M279.3 461.9h0M327.1 429.5h0M309.8 462.6h0M325.5 454h0M349 462.3h0M299.7 468.3h0M353.1 457.1h0M289.8 457.3h0M296.1 456.6h0M289.4 447.1h0" stroke="#c6dbef" stroke-width="1.7" stroke-linecap="round" fill="none"/>
<path d="M323.1 467.6h0M338.7 434.2h0M345.8 444.5h0M307.8 459h0M351.5 447.3h0M346.3 449.7h0M333.2 453.2h0M349.1 458.7h0M317.6 436h0M355.7 453.3h0M314.6 431h0M311.7 460.5h0M338.9 438.4h0M309.3 436.2h0M310.1 431.9h0M347 438.9h0M337.5 432h0M320.2 426.7h0M315.1 443.9h0M336.2 467.1h0M333.9 438.7h0M321.1 453.2h0M320.4 462.2h0M301.8 437.4h0M340.1 434.2h0M325.8 433h0M336.9 453.3h0M318.6 434.4h0M300.4 452.6h0M301.3 444.7h0M318.9 455.3h0M303.1 430.7h0M313.2 467.2h0M306.6 424.3h0M353.9 447.7h0M304.8 442.6h0M321 451.9h0M317.8 436.2h0M337.9 464.9h0M319.9 427.7h0M348.1 454.3h0M339.2 452h0M334.9 453h0M294.9 450.2h0M332.7 437.7h0M322 442.4h0M336.7 467.8h0M323.3 427.8h0M329.6 443.6h0M306.4 431.2h0M319.1 436.3h0M332.8 463.9h0M346.3 449.9h0M329 453.6h0M336.8 458.7h0M325.5 434.7h0M333.5 466.5h0M305.8 438.1h0M302.2 425.8h0M298.8 457.3h0M321.3 428.8h0M294.8 422.7h0M307.3 427.3h0M317.8 440.4h0M303.4 446.5h0M341.3 448.1h0M323.5 433.8h0M310.7 424.6h0M347.7 444.2h0M337.6 453.4h0M320.8 441.5h0M352.1 457.7h0M303.2 446.7h0M304.9 451.5h0M324.6 430.5h0M297.3 441.7h0M344.3 443.5h0M354.1 450.6h0M341.6 451.1h0M288.3 456.9h0M322.5 436.7h0M347.7 448.6h0M330.3 434.5h0M326.1 441h0M304.2 426.2h0M349.8 437h0" stroke="#dedede" stroke-width="1.7" stroke-linecap="round" fill="none"/>
<path d="M335.4 447.8h0M319.4 473.9h0M295.4 465.6h0M340.6 480.5h0M290.6 447.8h0M329.7 449.7h0M283.5 472.3h0M331.3 476h0M313.9 464.4h0M284.8 471.6h0M286.6 463.4h0M338.7 469.7h0M338.5 463.7h0M340.3 475h0M297 478.1h0M304.1 462.9h0M305.3 455.8h0M322.9 478.8h0M283.8 461.8h0M306.4 446h0M333.3 485.2h0M283.4 468.9h0M312.7 481.5h0M332.1 460.4h0M285.2 467.7h0M335.6 445.9h0M300.5 477.6h0M283.1 472.1h0M302.3 476.5h0" stroke="#6baed6" stroke-width="1.7" stroke-linecap="round" fill="none"/>
<path d="M317.5 493.5h0M282.6 460.1h0M326.2 470.5h0M299.5 467.3h0M293.2 454.5h0M332.7 482.1h0M307.1 482h0M309.4 479.5h0M312.8 498.1h0M332.8 478.3h0M313.6 500.1h0M318.2 488.7h0M301.2 459.9h0M305.7 466.3h0M306.3 485.1h0M326.9 470.7h0M292 471.5h0M299.5 477.2h0M311.7 502.1h0M308.1 470.4h0M310.3 494.7h0M326.3 491.2h0M341.1 463.7h0M312.5 478h0" stroke="#08519c" stroke-width="1.7" stroke-linecap="round" fill="none"/>
<path d="M292 474.2h0M298.6 474.2h0M281.7 470.4h0M291.7 442.2h0M285.6 457.2h0M333.7 463.6h0M298.2 474.4h0M337.4 482.1h0M292.6 455.8h0M299.5 444.3h0M284.8 452.7h0M298.2 424.2h0M294.2 445.6h0M304 459.1h0M287.7 468.3h0M285.8 463.6h0M311.9 468.7h0M286.3 458.6h0M308.3 447.3h0M315 465h0M280.8 459.8h0M340.8 451.3h0M290.4 474.3h0M334.4 460.4h0M289.3 447.9h0M327.4 460.9h0M304.1 468.2h0M288.5 448.9h0M326.3 479.4h0M335.4 440.7h0" stroke="#6baed6" stroke-width="1.7" stroke-linecap="round" fill="none"/>
<path d="M327.1 439.8h0M304.4 463.9h0M317.8 447.2h0M294.3 419h0M324.3 444.6h0M298.6 437.6h0M301.3 440.6h0M323.7 457.2h0M298.2 442h0M340.7 459.2h0M329.3 441h0M340.3 445.5h0M336.7 462.7h0M352.7 456.3h0M331.1 444.9h0M317.1 443.8h0M323.2 440.8h0M295.2 423.2h0M337.4 442.8h0M316.9 448.3h0M331.2 445.8h0M318.3 430.7h0M331.7 439.6h0M283.6 454.1h0M309 444.6h0M319.6 459.9h0M290.1 445.1h0M317.3 440.3h0M300.5 427.5h0M291 445h0M320 447.2h0M321 435.2h0M301 425.8h0M351.9 434.9h0M341 457.2h0M314.8 427.4h0M311.5 448.2h0M313.6 427.4h0M334.6 460.2h0M307.1 427.5h0M288.2 455.7h0M347.6 432.5h0M314.4 426.4h0M315.8 446.3h0M344.4 432.2h0M347.2 448.7h0M306.4 439.5h0M331.6 449.4h0M338 449.2h0M314.3 436.4h0M308.7 440.5h0M312.3 425.3h0M304.8 432.9h0M341.1 443.6h0M306.6 443.2h0M283.8 459.2h0M338.6 442.1h0M348.2 461.1h0M312 445.1h0M310.5 436.4h0M307 447h0M313.9 466.3h0M304.1 443.4h0M348.4 444.1h0M333.8 440.1h0M341.2 446.5h0M310.4 447.4h0M348 436.9h0M333.7 434.2h0M295 421.7h0M353.4 440.2h0M301.7 433.2h0M344.3 442.5h0M331.5 440.1h0M340 451.4h0M305.9 425h0M334.5 441.5h0M343.4 438.5h0M323.3 458.1h0M335.8 443.4h0M325.5 433h0M349.3 444.8h0M307.2 422.8h0M357.1 443h0M324.2 427.5h0M307 468.6h0M294.5 420.6h0" stroke="#dedede" stroke-width="1.7" stroke-linecap="round" fill="none"/>
<path d="M292.2 469.8h0M318.1 472.3h0M325.1 481.6h0M310.7 495.1h0M307.7 488h0M339.8 478.8h0M308.7 483.9h0M313.9 478.6h0M317.9 486.9h0M321.2 459.1h0M333.6 478.7h0M347.3 439.2h0M316.1 475h0M333.7 460.4h0M294.5 474.9h0M318.5 487.6h0M295.7 440.2h0M314.3 480.3h0M307.1 434h0M296 456.9h0M279.1 461.2h0M326.1 466.2h0M316.6 447.4h0M321.4 491.1h0M308.6 474.7h0M314 463.4h0M292 446.8h0M337.5 466.5h0M289.1 456.8h0M324 458.8h0M292.3 448.6h0M303.7 467.8h0" stroke="#2171b5" stroke-width="1.7" stroke-linecap="round" fill="none"/>
<path d="M332 467.5h0M299.5 469.1h0M311 487.8h0M307.8 477.5h0M317.9 480h0M327.8 483.6h0M312.3 485.9h0M296 463.8h0M317.9 469.8h0M308.9 495.1h0M287.6 453.2h0M336 487.8h0M334.6 473.8h0M290.1 464.7h0M319.1 474.7h0M312.4 483.3h0M294.9 471.6h0M289.6 470.4h0M338 481.4h0M325.3 461.8h0M326.3 482.1h0M297.8 475.2h0M315.6 497.3h0M312.7 470.4h0M315.1 474.9h0M313.3 488.9h0" stroke="#08306b" stroke-width="1.7" stroke-linecap="round" fill="none"/>
<path d="M323.2 449.7h0M300.3 429.1h0M321.3 453.7h0M331.6 452.9h0M295.5 462.4h0M286.6 462.7h0M349.3 436h0M328.8 457.3h0M297.5 448.9h0M313.2 438.5h0M308.1 441h0M325.5 465.3h0M323 440.6h0M321.9 458.8h0M315.2 447.8h0M320.4 451.3h0M332 468.8h0M283.5 462.2h0M286.8 460.9h0" stroke="#c6dbef" stroke-width="1.7" stroke-linecap="round" fill="none"/>
<path d="M287.5 442.4h0M340 432.9h0M315.1 467h0M286.2 452h0M308.6 433.3h0M326.3 432.6h0M342.3 456.5h0M315.9 425.5h0M336.7 443.5h0M307.9 432.8h0M320.9 441.5h0M340.7 433.3h0M331.8 436.7h0M353.1 449.2h0M331.3 472.3h0M329.5 456.9h0M356.2 439h0M292.9 442.5h0M301.9 455.5h0M325.5 428.9h0M302.4 437.5h0M311 445h0M352.8 457.6h0M315.7 444.8h0M319.9 434.9h0M322.6 435.1h0M332.6 435.2h0M348.2 461.1h0M332.1 462.4h0M304.5 441.5h0M350 454.9h0M329.9 432.4h0M317.5 427.5h0M341.5 444.7h0M339.8 470.3h0M288.4 447.6h0M337.3 442.6h0M350.7 438.9h0M350.3 456.9h0M291.3 442.8h0M306.7 432.7h0M334.8 442.2h0M310.3 442.5h0M343.2 452.2h0M302.3 438.4h0M339.1 474.8h0M339.6 441.6h0M306.3 442.1h0M301.3 437.1h0M341.7 435.2h0M343 435.8h0M339.5 441.2h0M328.8 458.4h0M294.6 441.1h0M310.6 443.1h0M318.8 429h0M328.7 442.3h0M305.4 440.7h0M316.2 438.8h0M300.2 438.2h0M325.4 447.5h0M292 454.3h0M313.8 432.4h0M324.9 456.9h0M316.4 447h0M348.4 436.4h0M320.3 448.4h0M347.5 447.2h0M342.5 448.3h0M340.6 437.4h0M338.5 456.7h0M348.4 449.6h0M300.5 460.3h0M339.3 455.5h0M324.8 461.3h0M348.5 462.9h0M328.2 451.2h0M308.7 424.4h0M287.5 446.5h0M320.7 453.1h0M334.2 461.5h0M325.9 445h0M355.9 446.5h0M304.8 430.4h0M311.8 434.2h0M297.3 424.6h0" stroke="#dedede" stroke-width="1.7" stroke-linecap="round" fill="none"/>
<path d="M291.7 466.4h0M280.3 467.6h0M342 480.9h0M320.9 488.6h0M310.9 495h0M307.7 483h0M297.3 471.9h0M335.6 477h0M288.5 468.9h0M326.8 469.1h0M329.7 490.8h0M341.8 470.6h0M326.8 473.7h0M319.6 464.6h0M309 488.3h0M330.1 473.8h0M313.1 467.8h0M330.1 464.4h0M312.1 499.8h0M343.5 473.8h0M306.8 476.7h0M294.7 470.4h0M336.4 473.9h0M282.3 465.2h0M308.9 499.2h0" stroke="#08306b" stroke-width="1.7" stroke-linecap="round" fill="none"/>
<path d="M351.3 448.4h0M296.1 444.2h0M326.6 458.8h0M297 453.2h0M280.2 463.1h0M285.9 453.3h0M277.2 466h0M329.2 459.2h0M284.2 451.6h0M298.4 452.1h0M325.2 441.8h0M321.9 439.2h0M308 453.2h0M336 457.9h0M291.2 458.1h0M308.8 444.8h0M310.4 439.5h0M335.9 461.3h0M295.7 470.5h0M328.4 459.5h0" stroke="#c6dbef" stroke-width="1.7" stroke-linecap="round" fill="none"/>
<path d="M320.4 480.3h0M289.3 464h0M302.1 473.6h0M332.5 472.4h0M331.2 476.1h0M311.9 470.3h0M313.5 488.5h0M336.2 486.5h0M285.1 469.6h0M291 465.3h0M335.2 481.4h0M287.9 465.9h0M300.1 463.8h0M286 470.7h0M295.4 465.7h0M305.4 490.6h0M315.8 484.3h0M330.1 479.4h0M304.9 470h0M328.3 492.5h0M331.4 479.6h0M304.6 483.2h0M317 487.8h0" stroke="#08519c" stroke-width="1.7" stroke-linecap="round" fill="none"/>
<path d="M320.7 461.4h0M323.6 474.7h0M297.2 445.1h0M332.9 470.3h0M293.5 455h0M311.9 431.8h0M297 458.4h0M299.6 473.9h0M347.7 464.8h0M303 479.9h0M299.9 455.6h0M284.9 458.6h0M325 478.9h0M335.6 486h0M320.3 470.6h0M313.9 469.3h0M334.3 476.2h0M347.8 455.1h0M330.4 462h0M340.5 451h0M319.1 494.9h0M290.5 465.7h0M300.8 459.1h0M310.2 475.6h0M294.4 465.3h0M302.7 484.1h0M323.4 470.5h0M307.2 486.4h0M297.8 467.8h0M304.7 487.7h0M337.5 479.5h0M296 474.8h0M312 471.4h0" stroke="#2171b5" stroke-width="1.7" stroke-linecap="round" fill="none"/>
<path d="M305.1 477h0M290.4 469.9h0M305.6 451h0M320.5 449.8h0M315.1 435.4h0M311.8 450h0M308.1 463.5h0M328.9 457h0M291.7 474.6h0M325.6 485.1h0M346 459.7h0M336.8 461.7h0M302.7 464.5h0M288.9 471.3h0M326.1 468.2h0M305.5 479.2h0M323.2 478.3h0M295.6 475.8h0M336.8 463.7h0M326.1 476.8h0M293.1 417.5h0M300.9 454.3h0M346.4 467h0M292.9 463.7h0M287.2 451.4h0M337.4 465.5h0M324.1 468.3h0M350.3 451.6h0M320.6 457.3h0M348.5 453.6h0" stroke="#6baed6" stroke-width="1.7" stroke-linecap="round" fill="none"/>
<path d="M327.4 449.4h0M321.9 469.4h0M303.8 478.6h0M338.6 483.8h0M287.1 464.9h0M286.2 468.9h0M345.3 459.7h0M338.6 457.9h0M325.4 443.6h0M288 462.5h0M321.1 448.7h0M334.5 452h0M310.6 473.5h0M342 464.5h0M330.8 456.4h0M319.6 473.2h0M341.6 456.7h0M336.5 485.6h0M311.2 447.1h0M339.8 481.9h0M314.5 477.6h0M310.8 471.8h0M314.2 466.2h0M326 466.5h0M295.5 476.9h0M308 480.8h0M322.3 459.4h0M312.6 481.6h0M326.7 452.2h0" stroke="#6baed6" stroke-width="1.7" stroke-linecap="round" fill="none"/>
<path d="M299.8 455.9h0M314.7 495.7h0M318.3 468.6h0M314.9 478.7h0M317 487.3h0M319.8 478.1h0M324.3 488.3h0M311.7 475.1h0M309.8 479.7h0M301.7 479.6h0M336.6 474.6h0M312.9 467h0M338.9 475.6h0M309.7 479.5h0M307.2 471.3h0M314.4 497.5h0M337.6 466h0M301.6 462.7h0M315.2 489.5h0M305.9 489.1h0M340 484.7h0M323.9 486.6h0M280.4 467.2h0M339.3 453.4h0M335.4 489.3h0M319.8 481.5h0" stroke="#08306b" stroke-width="1.7" stroke-linecap="round" fill="none"/>
<path d="M295.6 451.2h0M320.4 438.3h0M334.6 455.7h0M302.5 464.2h0M313.7 449h0M293.6 473.7h0M329.5 459.1h0M298.7 479.2h0M337.7 472.1h0M319.1 470.8h0M318 467.6h0M311.7 458.1h0M335.8 473.7h0M333.8 468.3h0M304 455.6h0M327.9 470.1h0M325.9 481.7h0M326.4 479.9h0M301 473.3h0M296.6 420.9h0M304.5 442.4h0M309.1 458.3h0M309.6 444.3h0M344.2 474.2h0M292.1 452.5h0M309.2 491.9h0M288 451.1h0M304.3 440.6h0M316 492.7h0M278.4 458.3h0M301.9 484.2h0M306.1 441.1h0" stroke="#2171b5" stroke-width="1.7" stroke-linecap="round" fill="none"/>
<path d="M298.1 465.1h0M314.5 470h0M320.3 448.2h0M303 453.7h0M296.8 449h0M324.8 461.1h0M294.4 448.5h0M309.4 428.5h0M315.7 451.3h0M298.9 443.3h0M348.5 433h0M311.4 446.1h0M349.6 456.7h0M337 447.1h0M329.4 445.6h0M315.8 426.2h0M330 454.2h0M277 464.9h0M278.8 458.4h0M300.2 447.9h0" stroke="#c6dbef" stroke-width="1.7" stroke-linecap="round" fill="none"/>
<path d="M308.9 465.6h0M304.5 481.7h0M300.2 456.5h0M319.3 478.4h0M318.5 494.2h0M302.6 460.8h0M322.6 486.7h0M333.7 475.3h0M338.3 480.2h0M304.1 479.7h0M314.2 488.1h0M295.6 466.3h0M332.4 489.1h0M314.2 483.4h0M311.8 473.2h0M337.5 486.6h0M308.5 487.8h0M326.4 482.2h0M310.8 485.6h0M312.9 491.6h0M292.5 466.8h0M296.4 477h0M325.3 493.1h0" stroke="#08519c" stroke-width="1.7" stroke-linecap="round" fill="none"/>
<path d="M317.6 441.1h0M351.5 447.1h0M326.6 447.8h0M317.1 426h0M337.9 436.3h0M331.5 458h0M311.8 425.8h0M320.2 452.3h0M321.9 433h0M298.6 425.7h0M307.3 451.7h0M330.7 441h0M335.9 444.3h0M319.8 426h0M297.4 446.5h0M307.5 427.7h0M306.9 453.6h0M332 453.1h0M339 449.7h0M315.7 464.1h0M342.1 457.1h0M299.9 450.1h0M348.6 454.3h0M315.2 451.8h0M355.1 448.8h0M338.3 431.7h0M343.7 442.5h0M302.5 432h0M290.8 439.9h0M345.1 461.3h0M309.6 441.8h0M318.5 454.6h0M315.2 454h0M325.8 429.4h0M308.7 426.2h0M312.4 428.5h0M312.1 431h0M326.2 442.7h0M325.2 457.4h0M309.4 431.1h0M335.5 438.1h0M354.3 441.8h0M296.2 461.3h0M286.3 459.1h0M308 434.8h0M350.3 454.4h0M296.5 449.7h0M330 450.5h0M318.8 456.1h0M336.8 443.7h0M300.9 436.3h0M304.9 436h0M351.7 442.6h0M304.1 431.4h0M342.1 434.3h0M344.7 456.4h0M292.2 455.5h0M302.2 441.2h0M332.6 456h0M339.8 447.3h0M341.3 434.8h0M347.3 450.5h0M326.4 438.8h0M300.2 440.8h0M317.5 427h0M343 457.9h0M353.8 435.6h0M339.3 444.3h0M306.8 434.2h0M304.7 441.5h0M319.9 434.2h0M332.4 451.6h0M318.3 441.3h0M307.4 440.1h0M317.3 438.2h0M320.2 430.4h0M311.1 439.8h0M351.4 444.4h0M341.4 451.1h0M323.7 444.2h0M317.4 438.6h0M317.8 430.6h0M342 439.9h0M344.5 431.9h0M332.1 445.7h0M337.7 467.4h0" stroke="#dedede" stroke-width="1.7" stroke-linecap="round" fill="none"/>
<path d="M309.2 460.2h0M340.5 432.4h0M313.1 435h0M330.4 436.1h0M346.5 458h0M301.9 429.6h0M353.7 435.6h0M309 457h0M343.2 435.6h0M322 465.2h0M336.5 451.8h0M333.8 459.7h0M312.9 446.3h0M314.9 446.7h0M329.1 453.4h0M348.9 463.1h0M310.2 446.6h0M349.3 449.7h0M339.6 440.6h0M326.2 466.6h0M290.1 444.7h0M315.3 445.2h0M309.3 444.1h0M308.2 433h0M328.5 464.1h0M340 447.6h0M352.9 438.3h0M336.9 435.8h0M304.8 424.1h0M309.8 450.9h0M339.6 446.1h0M326.3 450.3h0M320.5 442.1h0M307.1 445.3h0M313.1 443.7h0M349.9 437.4h0M306.9 422.8h0M304.9 437.7h0M304.3 427h0M330.2 437.3h0M315.1 429h0M306.1 432.3h0M302.4 435h0M312.3 427.5h0M329.8 433.2h0M350.2 453.5h0M348.4 441.5h0M299.4 426.5h0M311.4 433.9h0M321.3 439.3h0M304.8 429h0M324.7 433.6h0M339.3 434.9h0M322.2 459.1h0M304.8 430.5h0M352 445.4h0M311.6 435.2h0M345.2 440.1h0M351.4 460.5h0M337.5 456.6h0M286.7 458.6h0M348.9 460.3h0M296.5 438.7h0M298.2 439.7h0M292.4 443.2h0M326.6 431.2h0M317.6 433.7h0M320.2 431.9h0M344.7 459.1h0M303.2 464.7h0M329.6 453.4h0M348.1 443.4h0M342.7 438.9h0M321.4 426.3h0M301.9 451.7h0M308.1 434.7h0M332.3 454.9h0M337.1 449.4h0M352.9 454.7h0M344.7 453.7h0M316.6 436.6h0M346.1 436.9h0M293 443.2h0M312.7 444.4h0M316.7 446.4h0M348 459.2h0" stroke="#dedede" stroke-width="1.7" stroke-linecap="round" fill="none"/>
<path d="M315.9 489h0M334.6 487.9h0M306.5 484.4h0M307.1 488h0M308.8 470.3h0M324.1 490.4h0M313.3 485.2h0M308.4 479.6h0M313.7 475.5h0M312.5 465.1h0M301 456.7h0M322.6 488.6h0M322.3 486.6h0M295.2 467.4h0M302.9 480h0M303.6 464.5h0M298.7 469h0M308.5 467.7h0M305.8 479h0M340.2 483.8h0M340.6 471.3h0M340.8 473.5h0M292.1 462h0M317.8 492.2h0M296.5 450.3h0" stroke="#08306b" stroke-width="1.7" stroke-linecap="round" fill="none"/>
<path d="M332.2 483.8h0M296 468.4h0M334.6 487.9h0M303 482.3h0M333.6 486.9h0M293.4 463.5h0M307.1 472.3h0M333.7 490.9h0M279.3 470.6h0M306.1 471.1h0M298 475h0M331.9 476.5h0M324.1 475h0M293.8 466.6h0M327.2 461.3h0M316.3 477.6h0M311.8 478.3h0M328.6 492.2h0M305.2 477.3h0M302.3 470.7h0M315.9 488.2h0M338.2 472.4h0M338.7 485.9h0" stroke="#08519c" stroke-width="1.7" stroke-linecap="round" fill="none"/>
<path d="M311.6 446.8h0M281.1 467.2h0M281.1 467.7h0M323 463h0M311.3 449.4h0M310.9 440.9h0M296.3 469.9h0M311.7 454h0M335.3 464.8h0M297.8 423.8h0M299.1 476.2h0M305.4 483.1h0M335.5 470.3h0M286.9 465.5h0M285 448.9h0M339 473h0M302.7 462.5h0M305.6 437.5h0M293.5 469.9h0M339.6 476h0M353.5 456.1h0M310.9 453.1h0M317.9 458.8h0M307.3 469.3h0M308.9 472.9h0M303.9 475.4h0M325 466.9h0M282.4 465.5h0M314.3 451.3h0M283.4 467.9h0" stroke="#6baed6" stroke-width="1.7" stroke-linecap="round" fill="none"/>
<path d="M301 477.3h0M326.9 482.1h0M283.9 456.2h0M325.5 482.4h0M316.7 452.6h0M298.9 460.8h0M329.9 461.3h0M289.9 473.5h0M282.1 454.1h0M311.8 491.1h0M339 486.2h0M299.1 473.4h0M300.4 469.9h0M317.3 454.7h0M308.2 449.4h0M327.6 450.8h0M334.9 468.4h0M307.1 490.5h0M297.4 447.2h0M299.8 421.2h0M321.6 470.1h0M311.7 480h0M321.1 454.1h0M320.5 463.5h0M349.3 438.7h0M307.9 449.1h0M331.6 490.9h0M310.3 459.3h0M289.4 458.3h0M314.1 487h0M283.2 462.4h0M288.5 447.1h0" stroke="#2171b5" stroke-width="1.7" stroke-linecap="round" fill="none"/>
<path d="M325.2 450.6h0M286 459.9h0M307.2 448.1h0M313.8 440.3h0M331.4 446.9h0M336 460.7h0M310.3 448.6h0M301 466.7h0M339.8 466.6h0M315.6 448.7h0M315.2 438.1h0M301.4 459.3h0M283.4 453.9h0M304.7 462.9h0M319.1 459.2h0M279.1 460.2h0M315.7 457.4h0M331.4 445.9h0M290.2 449.4h0M313.6 448h0" stroke="#c6dbef" stroke-width="1.7" stroke-linecap="round" fill="none"/>
<path d="M322.1 458.4h0M302.3 468.9h0M299.1 427h0M327 430.6h0M290.8 443h0M285.4 459.5h0M293.1 420.4h0M322.1 448.6h0M297 465.1h0M300.6 453.3h0M303.3 469h0M351.9 458.2h0M326.3 469h0M327.9 451.4h0M316.3 468.7h0M293.5 449h0M284.9 466.9h0M352.7 450.5h0M322.6 457h0M287.2 453.5h0" stroke="#c6dbef" stroke-width="1.7" stroke-linecap="round" fill="none"/>
<path d="M325.5 463.3h0M300.5 480.9h0M313.3 475.2h0M299.5 478.7h0M311.9 489h0M312.6 486.8h0M324 463.9h0M312.5 500.2h0M305.2 477.7h0M322.6 466.3h0M317.5 472.4h0M317.3 461.6h0M299.3 479.6h0M316.5 491.1h0M302.5 482.1h0M318 465.6h0M317.4 473.1h0M310.9 489.3h0M317.7 482.1h0M323.6 478h0M315.6 479.4h0M326.3 478.7h0M307.7 476h0M312.2 477.6h0M330 491.1h0M337.4 483.2h0" stroke="#08306b" stroke-width="1.7" stroke-linecap="round" fill="none"/>
<path d="M300 429.1h0M292.6 449.5h0M305.8 437h0M356 442.6h0M340.6 441.3h0M338.4 445.5h0M347.7 432.9h0M354.6 453.7h0M345.8 433h0M334.8 432.9h0M311.2 428.3h0M304.9 430.1h0M330.1 447.7h0M301.4 422h0M308.3 447.3h0M345.1 464h0M340.1 462.6h0M292.4 443h0M314.9 466.3h0M298.8 447.8h0M294.1 420h0M339.2 464.2h0M328.1 438.8h0M326.9 444.1h0M340.8 445.9h0M346.7 467.6h0M353.8 436.1h0M350.8 435.4h0M314.4 433.1h0M345.9 456.7h0M350.9 450.1h0M351.5 460.6h0M344.4 433h0M304.8 452.2h0M294.7 445.1h0M333.8 436h0M342.5 461.1h0M310.9 460.6h0M354.9 438.6h0M315.4 456.1h0M315.6 437.4h0M293.6 445.3h0M320.7 431h0M323.6 459.2h0M323.7 434.7h0M323.6 437.2h0M330 451.5h0M340.5 444.5h0M303.3 432.8h0M322.9 460.2h0M342.1 444.7h0M327.7 440.7h0M344.2 457h0M339.9 436.1h0M343.9 445.8h0M349.2 454.7h0M345.7 454.8h0M315.4 424.9h0M322.6 439.1h0M341.8 447.9h0M285.3 446.9h0M300.7 429.7h0M306.5 433.2h0M318.4 457.8h0M320.8 435h0M321.6 465.8h0M308.4 422.8h0M348 448h0M284.8 453.7h0M353.8 436.5h0M338.8 439.6h0M287.6 459.3h0M301.8 429h0M354.1 445.6h0M308.3 437.8h0M340.8 434.9h0M347.7 439.2h0M338.3 436.3h0M305.8 425.9h0M334.9 439.5h0M298.9 437.5h0M334.5 461.4h0M304.3 447.6h0M318.9 436.3h0M353.2 454.9h0M330.2 434h0M302.8 423.9h0" stroke="#dedede" stroke-width="1.7" stroke-linecap="round" fill="none"/>
<path d="M277.1 460.7h0M284.5 473h0M283.7 466.1h0M332.9 448.8h0M338.3 477.7h0M296.6 441.6h0M319.7 466.8h0M329.4 488.3h0M288.7 455.6h0M306.9 456h0M324 491.7h0M307.1 458.4h0M293.6 442.9h0M314.6 477.5h0M276.3 463.3h0M308.8 487.6h0M290.3 461.5h0M337.6 483.2h0M316.4 490.4h0M330.6 462h0M316.1 449.8h0M314.6 486.4h0M338.7 463.8h0M345.2 466.9h0M292.7 471.5h0M305.8 473.3h0M315.5 464.9h0M320.8 459.8h0M312.5 447h0M278 462.5h0M346 449.8h0M288.5 448h0M313.7 464.5h0" stroke="#2171b5" stroke-width="1.7" stroke-linecap="round" fill="none"/>
<path d="M306.3 481.7h0M313.4 489.2h0M297.8 454h0M319.7 470.4h0M338.8 470.8h0M310.2 484.6h0M311.1 491.9h0M314.7 481.1h0M317.8 486.5h0M308.2 474.9h0M316.9 490.8h0M338.2 481.2h0M317 477.8h0M333.6 486.5h0M316 476.4h0M308 492h0M307.5 471.9h0M319 488.7h0M342.2 471.7h0M319.2 487.9h0M331.6 471.9h0M328.7 476.5h0M326.8 491.2h0M318.3 466.4h0" stroke="#08519c" stroke-width="1.7" stroke-linecap="round" fill="none"/>
<path d="M338.2 473.4h0M336.6 471.1h0M295.1 450.2h0M330.9 465.8h0M293.6 475.5h0M291.4 470.9h0M346.7 461.1h0M344.4 463.1h0M352.3 458.7h0M291.1 469.1h0M300 473.9h0M325.8 477.4h0M332.9 467.9h0M336.8 455h0M318.7 440.5h0M301.1 474.9h0M326.7 463.1h0M288.4 470.6h0M325.9 484.3h0M338 483.8h0M310.3 477.7h0M315.9 462.9h0M323.3 459.7h0M317.3 459.5h0M343.1 464.5h0M316 450.1h0M305.1 454.8h0M345.7 435h0M341.3 466.6h0M307.1 478.7h0" stroke="#6baed6" stroke-width="1.7" stroke-linecap="round" fill="none"/>
<line x1="262.6" y1="512.3" x2="262.6" y2="469.3" stroke="#000" stroke-width="1.4" />
<line x1="262.6" y1="512.3" x2="305.6" y2="512.3" stroke="#000" stroke-width="1.4" />
<polygon points="262.6,461.4 256.9,471.8 262.6,469.1 268.3,471.8" fill="#000"/>
<polygon points="314,512.3 303.6,506.8 306.3,512.3 303.6,517.8" fill="#000"/>
<text x="263.1" y="522.7" font-size="7.6" fill="#231f20" text-anchor="start" >UMAP 1</text>
<text x="258.8" y="512.3" font-size="7.6" fill="#231f20" transform="rotate(-90 258.8 512.3)">UMAP 2</text>
<defs><linearGradient id="gf" x1="0" y1="0" x2="0" y2="1"><stop offset="0" stop-color="#08306b"/><stop offset="0.2" stop-color="#0a3a78"/><stop offset="0.4" stop-color="#2171b5"/><stop offset="0.55" stop-color="#7fb6da"/><stop offset="0.66" stop-color="#d0e0ea"/><stop offset="0.7" stop-color="#e3e3e3"/><stop offset="1" stop-color="#e3e3e3"/></linearGradient></defs>
<rect x="425.8" y="437.1" width="11.3" height="55.5" fill="url(#gf)" />
<line x1="425.8" y1="447" x2="428" y2="447" stroke="#fff" stroke-width="0.6" />
<line x1="434.9" y1="447" x2="437.1" y2="447" stroke="#fff" stroke-width="0.6" />
<text x="441.9" y="450" font-size="8.2" fill="#1a1a1a" text-anchor="start" >0.50</text>
<line x1="425.8" y1="460.8" x2="428" y2="460.8" stroke="#fff" stroke-width="0.6" />
<line x1="434.9" y1="460.8" x2="437.1" y2="460.8" stroke="#fff" stroke-width="0.6" />
<text x="441.9" y="463.8" font-size="8.2" fill="#1a1a1a" text-anchor="start" >0.25</text>
<line x1="425.8" y1="474.6" x2="428" y2="474.6" stroke="#fff" stroke-width="0.6" />
<line x1="434.9" y1="474.6" x2="437.1" y2="474.6" stroke="#fff" stroke-width="0.6" />
<text x="441.9" y="477.6" font-size="8.2" fill="#1a1a1a" text-anchor="start" >0.00</text>
<line x1="425.8" y1="488.4" x2="428" y2="488.4" stroke="#fff" stroke-width="0.6" />
<line x1="434.9" y1="488.4" x2="437.1" y2="488.4" stroke="#fff" stroke-width="0.6" />
<text x="441.9" y="491.4" font-size="8.2" fill="#1a1a1a" text-anchor="start" >−0.25</text>
<path d="M417 463.8h0" stroke="#6baed6" stroke-width="1.4" stroke-linecap="round" fill="none"/>
<text x="479.6" y="384.6" font-size="14.5" fill="#2a2a2a" text-anchor="start" >h</text>
<path d="M534.8 501.8h0M542.8 479.4h0M575.2 462.5h0M538.1 491.7h0M552.7 463.2h0M533 485.4h0M551.2 488.3h0M545.7 484.6h0M537 484.2h0M535.9 485.9h0M546 488.5h0M555.8 464.5h0M526.9 488.5h0M532.7 497.9h0M529.7 503.2h0M546.5 489.7h0M532 489.9h0M531.6 488.3h0M551.7 477.1h0M576.3 463.6h0M524.8 499h0M531.5 490.8h0M548 487.7h0M543 493.8h0M570 464.8h0M563.8 461.2h0M541.4 485h0M585.5 451.1h0M625.9 428h0M566.7 460.9h0M537.3 497.7h0M582.1 455.6h0M550.9 482.1h0M560.5 472.4h0M544.4 488.7h0M549.2 475.9h0M568.1 466.2h0M530.5 497.2h0M570.2 460.8h0M532.8 492.8h0M556 478h0M529.8 497.6h0M530.5 490.6h0M547.1 486.9h0M546.2 483.6h0M538.6 489.6h0M525.7 496.6h0M541.1 487.3h0M539.4 476.5h0M535.8 499h0M550.4 475.9h0M549.2 480.4h0M557.4 467.3h0M595.8 457.4h0M533.2 486.4h0M547.5 489.1h0M537 486h0M548.1 478.1h0M541.5 485.8h0M601.4 446.5h0M552.4 482.5h0M531.9 492.8h0M546.9 486.1h0M538.4 498.4h0M563.4 480.7h0M567.4 461.2h0M557.6 468.9h0M560.9 468.1h0M563.1 469.3h0M541.3 484.1h0M561.1 468.1h0M547.4 480.1h0M604.3 444.8h0M531.9 496.8h0M547.8 487.6h0M540 486.3h0M590.5 456.2h0M542.7 485.9h0M540.7 479.7h0M551.6 480.4h0M560.9 465.2h0M531 486.5h0M536 499.2h0M526.7 503.7h0M568.7 462.1h0M568.5 470h0M540.5 483.8h0M545 479.4h0M546.1 485.2h0M613.4 424.1h0M533.3 483.6h0M555.5 469.6h0M537.8 493.1h0M557.5 474.6h0M555.3 478.5h0M558 463.8h0M601.5 441.8h0M529.3 498.4h0M585.5 452h0M524.3 496.6h0M547.2 483.6h0M532.4 492.2h0M565.4 467.6h0M543.8 480.1h0M595.3 437.3h0M554 474.7h0M544.6 485.9h0M534.1 489.4h0M545.7 487.4h0M543.7 478.3h0M581.1 453.1h0M576.2 457.6h0M549 493.6h0M523.2 489.2h0M572.8 452.1h0M531.5 487.2h0M538.2 487.5h0M556.8 470h0M536.6 475.1h0M581.3 460.2h0M561.3 466h0M529.7 491.8h0M561.6 469.4h0M533.6 489.9h0M549.4 485.1h0M541.1 482.5h0M553 484.4h0M570 451.7h0M581.5 449.3h0M541.4 490.1h0M557.7 485.7h0M559.1 471.5h0M534.8 488.1h0M577 465.3h0M563.1 458.5h0M595.8 441.9h0M544.9 485.4h0M549.4 487.3h0M567.4 466.4h0M542.3 485.9h0M579.2 452h0M548.6 474.1h0M541.5 485.3h0M548.6 477.4h0M531.7 486h0M566.7 462.2h0M533.6 492.7h0M550.3 475.1h0M537.5 491.1h0M573 458.3h0M577 457.9h0M536.1 495h0M557 470h0M543.6 483.3h0M610.2 426.7h0M531 499.8h0M528.8 489.9h0M535.8 484h0M558.6 474.5h0M529.4 495.1h0M572.2 461.6h0M556.9 473.8h0M558.7 467.2h0M530.2 497.4h0M535.7 495.7h0M535.9 490.9h0M541.5 475.5h0M529.4 496.6h0M600.8 448.3h0M561.9 475.7h0M575.2 458.6h0M563.8 461.1h0M542.5 488.7h0M527.6 495.4h0M551.4 476.8h0M536.3 487.2h0M538.3 487.3h0M540.2 481.1h0M539.8 483.3h0M558.4 476.4h0M536.6 477.1h0M556.3 482.4h0M546.4 489.1h0M554 470.1h0M563.4 467.7h0M547.5 482.4h0M567.8 464.3h0M557.9 468.9h0M552.7 479.5h0M539 490.8h0M534.2 496.4h0M593.3 452.8h0M576.8 464.3h0M563.6 461.6h0M531.8 491.7h0M532.4 490h0M590.4 452.6h0M546.3 476.2h0M553.7 485.5h0M591.2 444.2h0M527.6 493h0M570.3 467.6h0M558.7 478.8h0M543.2 481.6h0M568.7 469.6h0M551.4 483.2h0M543.7 484.1h0M585.1 460.6h0M539.2 488.2h0M563.5 456.2h0M529.5 496.9h0M538.6 483.2h0M526.6 501.8h0M553.3 476.2h0M530.7 495.3h0M581.6 456.4h0M553.4 472.2h0M536.2 479h0M541.5 486.4h0M558.5 464.8h0M606.9 433h0M580.7 450.6h0M536.8 491.7h0M568.4 469.8h0M564.9 469.1h0M551.5 482.5h0M554.2 476.1h0M536.9 494.6h0M599.1 441.8h0M537.4 487.9h0M540 477.4h0M551.7 468.1h0M554.6 472.8h0M561.7 473.5h0M552.3 474h0M533.8 487.6h0M566.1 468.2h0M561.2 475.9h0M554.1 486.6h0M555.3 475.4h0M543.4 474h0M541.5 486.8h0M556.8 471.7h0M581.2 452.8h0M527.2 494.3h0M569.4 459.4h0M564.3 481h0M533.8 492.3h0M562.2 467.6h0M533.7 492.1h0M553.1 469.8h0M548.6 482.4h0M544 478.8h0M556.8 463.4h0M555.9 476.2h0M533.1 491.9h0M586.8 453.3h0M526.8 493.3h0M605.6 454.5h0M546.1 490.2h0M533.2 493.4h0M550.6 473.8h0M524.9 495.6h0M535.5 494.3h0M552.1 468.3h0M582.6 453.5h0M581.8 459.3h0M538.1 485.5h0M553.1 469.2h0M524.9 498.5h0M563.7 478.3h0M542 488.1h0M572.1 461.6h0M548.1 475.3h0M531.5 498h0M594.8 442.9h0M553.1 483.6h0M537.8 488h0M540.9 493h0M528.4 497.7h0M557.9 482.3h0M542.4 490.1h0M545.7 491h0M542.8 495.1h0M549.7 472.4h0M528.3 490.1h0M537.1 486.5h0M523.3 501h0M532.6 485.2h0M556.9 475.5h0M547.5 478.6h0M565.3 460.1h0M533.9 490.2h0M545.2 474.6h0M543.2 485h0M530.3 494.8h0M576.1 458.1h0M607.3 444.9h0M551.3 484.2h0M537 485h0M538.1 496.9h0M534.7 485.1h0M587.6 448.2h0M566.2 459h0M551.9 473.1h0M577 454.2h0M550.6 468.6h0M564.8 468.2h0M550.7 479h0M570 456.3h0M570.6 467.6h0M543 478.2h0M564.7 463.4h0M529.8 496.8h0M611.6 442.8h0M537.3 499h0M549.4 468.8h0M537.3 496.3h0M561.8 477.5h0M578 451.6h0M541.4 483.1h0M556.6 472.7h0M546.2 481.5h0M558.8 474.8h0M548.5 485.3h0M568.9 469.5h0M550.9 475h0M564.3 461.3h0M536.4 483.5h0M534.9 490.8h0M545.9 494.5h0M537.8 485.8h0M545.2 483.5h0M535.2 503.7h0M588.6 439.3h0M538.3 486.9h0M528.2 495.9h0M540.7 485.1h0M542.3 484.3h0M553.5 475h0M526.3 496.6h0M564.1 468.1h0M556.6 470.5h0M565.7 464.8h0M538.2 475.7h0M537.5 487.8h0M579 460.4h0M598.3 446.9h0M539.5 485h0M578.2 456.6h0M533.3 490.5h0M550.5 479.7h0M547.8 481.6h0M538.4 483.9h0M574.6 450.8h0M529.5 492.9h0M553 477.2h0M595.7 453h0M532.8 497.7h0M583.1 453.3h0M567.9 466.9h0M549.4 480h0M553.8 482.5h0M555.5 475.5h0M542.8 494.9h0M552.2 484.3h0M608.8 440.8h0M541.3 482.6h0M549.4 483h0M549.5 484.8h0M531.7 491.8h0M542.5 485.4h0M560 465.9h0M599.9 438.5h0M550.5 477.6h0M541.6 486.6h0M537.4 485.5h0M524.7 501.8h0M568.1 475.4h0M548.6 475.3h0M535.1 493h0M550.8 478.4h0M558 469.4h0M555 469.5h0M533.1 497.3h0M538.8 481.5h0M534.9 499.3h0M550.6 476.2h0M596.1 447.1h0M542 490.2h0M532.3 493.5h0M583.7 466h0M601.3 437h0M540.8 480.2h0M532.4 499.7h0M554.1 480.1h0M564.9 460.4h0M532.1 491.2h0M572.9 464.1h0M536.3 482.5h0M565 478.7h0M543.4 485.9h0M573.2 461.1h0M626 424.5h0M564.7 463.1h0M569.3 475.7h0M539.7 487h0M537.3 493.1h0M591.8 438.4h0M532.1 487.9h0M550.8 483h0M551 484.9h0M553.6 476.9h0M525.7 501.8h0M527.1 499.4h0M554.7 473.3h0M545.1 485.6h0M602.6 424.6h0M525.3 497.8h0M555.2 478.5h0M540.1 492.7h0M560.6 474.5h0M532 487.8h0M527 494.3h0M537 482.1h0M538.9 481.1h0M555.6 471.8h0M577.2 463.5h0M533.2 492.9h0M537.4 488.6h0M547.1 479.8h0M540.5 492.1h0M541.3 486.4h0M540.5 489.4h0M529 492.6h0M545.2 468.7h0M554.8 482.8h0M541.8 485.7h0M552 466.1h0M525.3 502.4h0M527.2 497.8h0M563.6 469.7h0M595.7 442.2h0M531.9 501h0M540 485.4h0M591.2 443.5h0M540 473.7h0M534.7 491.3h0M563.5 472.7h0M542.3 484.5h0M576.4 477.4h0M528.4 494.2h0M533.6 484.1h0M562.5 470.1h0M600.4 441.3h0M531.9 494.3h0M570 463.2h0M544.7 490.1h0M579.1 446.3h0M565.8 470.3h0M552.5 480.1h0M541.6 476.9h0M549.9 479.2h0M573.2 464.4h0M541.2 477.3h0M550 478.2h0M567.6 459.8h0M550.2 482.4h0M572.1 474.3h0M584.9 451.3h0M526.7 490.4h0M551.3 480.8h0M537.3 487h0M556 470.3h0M583.8 451.6h0M538.1 487.9h0M567.8 460.6h0M551.3 477h0M573.1 465.2h0M586.7 443.4h0M563.1 464.1h0M551.7 475.7h0M533.8 488h0M571 480.7h0M550.8 477h0M542.1 485h0M548.4 491.5h0M550.3 467.1h0M561.6 468.1h0M552.3 479.9h0M541.7 487.4h0M537.2 487.5h0M560.8 471h0M599 454.6h0M544.5 485.5h0M525.1 496.1h0M559.3 468.2h0M584.3 446.6h0M544.6 489h0M553.4 480.2h0M532.2 490.9h0M563 473h0M576.6 457.3h0M548.6 484.8h0M571.7 458.6h0M571.3 462.4h0M552.4 473.8h0M543.8 483.6h0M544.2 487.7h0M549.6 486.2h0M538.3 487.7h0M576.8 462.8h0M542.9 492.4h0M567.3 469.3h0M537.8 484.2h0M587.2 441.4h0M572.1 456.9h0M566.1 457.8h0M530.9 495.3h0M539.7 487.6h0M556.2 479.9h0M566.3 471.4h0M529.4 487.1h0M539.5 484.6h0M539.8 483.3h0M550.1 464h0M547.3 470.2h0M546.1 486.6h0M534.6 494.4h0M563.5 462.3h0M566.7 478.2h0M545.1 487.7h0M535.6 494.5h0M535.4 480h0M593.4 459.4h0M547.2 474.8h0M539 481.7h0M553.5 475.4h0M567.7 459.8h0M541.1 472h0M525.4 496.5h0M536 490.9h0M535.5 483.1h0M536.3 485.4h0M560.5 477.9h0M550.1 477.6h0M531.3 491.8h0M569.3 471.7h0M574 467h0M575 464.3h0M578.6 465.4h0M609.8 428.7h0M554.1 473.9h0M550.7 491.1h0M543 486.5h0M571 461.8h0M550 486.6h0M538.6 489h0M538.6 486.1h0M557.2 483.8h0M539.2 488.8h0M587.9 467.8h0M565.5 462.3h0M564.5 472.6h0M545 490.8h0M551 488.9h0M547 490.5h0M562.7 461.3h0M529.3 498.9h0M587.9 454.5h0M556.3 476.7h0M544.7 491.5h0M527.4 492.9h0M572.3 456.2h0M553 481.4h0M551.3 478h0M543.2 482.8h0M529.5 490.9h0M537.7 495.1h0M541.1 482.8h0M544.1 484.1h0M556.4 475.4h0M599.7 443.7h0M537.9 482.7h0M572.5 459h0M565.5 459.3h0M590.4 441.6h0M574.8 474.2h0M527.5 496.9h0M554.2 470.1h0M522.1 504.5h0M575.7 471.5h0M539.4 499.4h0M548.3 469.4h0M574.8 466.9h0M539.1 486.8h0M530.1 499.7h0M581.6 452.3h0M552 468.1h0M537 496.7h0M569.1 465.3h0M547.3 485.8h0M528.9 504.4h0M538.8 492.6h0M537.7 488.6h0M549.1 473h0M549.2 472.7h0M543 484.8h0M544.2 492.9h0M533.1 488.9h0M559.8 471.9h0M542.3 485.3h0M541.8 491.7h0M538.5 488.9h0M572.6 448.7h0M539.5 479.5h0M550.6 471.5h0M544.1 480.1h0M534.5 493.1h0M556.9 474.1h0M547.4 480.5h0M544.1 481.7h0M529.5 496.6h0M560.3 477h0M537.8 482.8h0M533.9 493.4h0M545.4 478.2h0M545 484.1h0M539.5 483.7h0M542.4 482.3h0M549.3 475.6h0M529.2 491.9h0M551.3 483.9h0M525.1 504.5h0M535.8 490.3h0M551.6 468.4h0M575.9 465.4h0M529 499.8h0M572.8 446.3h0M529.2 502.5h0M573.7 465.2h0M526.6 499.1h0M546 486.2h0M554.2 480h0M595.9 435.8h0M551.3 477.2h0M574.2 459.7h0M555.6 485.1h0M529.2 491.4h0M558.9 471.5h0M552.9 476.2h0M550.5 474.1h0M541 484.5h0M534.6 491.2h0M544.5 481.2h0M550.8 482.8h0M587.2 457.8h0M534 498.3h0M562.5 463.7h0M571.3 467.6h0M538.9 486.8h0M526.7 491.9h0M567 454.5h0M541 488.1h0M560.3 470.4h0M547.6 480.6h0M570 472.9h0M546.2 484.9h0M529.3 481.7h0M541 486.5h0M552.2 467.3h0M555.5 464.5h0M572.6 453.1h0M550.6 477.6h0M538.2 494.7h0M540.3 479.1h0M527.5 493.1h0M538.9 485.2h0M582.2 448.5h0M536.1 493.9h0M548.6 479.6h0M546.3 482.2h0M535.4 497.9h0M529.2 500.9h0M536.8 490h0M538.7 499.5h0M556.4 470h0M551.6 473.6h0M527.1 497.1h0M552.8 475.6h0M540.5 496.2h0M606 435.3h0M538.8 484h0M551.7 475.1h0M574.7 454.2h0M551.3 478.8h0M568.5 452.1h0M529.8 492.6h0M542.5 480.8h0M540.8 480.6h0M562.4 474.8h0M546.8 488.1h0M532 489.2h0M527.8 502.2h0M567.6 469.9h0M579.6 449.8h0M589.2 457.9h0M570.1 470.7h0M555.3 482.8h0M548.8 486.2h0M543.3 474.2h0M555.3 472.1h0M548.3 475.2h0M560.6 483.5h0M540.5 499.4h0M549.4 486.4h0M564 462.1h0M555.8 467.9h0M537.5 499.1h0M559.8 482.9h0M533.8 488.5h0M530.5 493h0M530.8 491.9h0M540.1 483.5h0M523.9 503.8h0M556.7 473.6h0M527.1 498.1h0M533.1 486.2h0M539.2 489.3h0M573.9 474.4h0M562 462.3h0M543.2 474.8h0M534.4 486.4h0M568 468h0M579.1 464.2h0M539.7 482h0M523.3 502.1h0M536.8 486.8h0M585.4 446.8h0M567.7 467h0M564.3 481.5h0M575.3 456.8h0M556.6 480.6h0M576.3 470.5h0M550.6 479.3h0M553.9 475.7h0M526.1 498.1h0M610.8 427.9h0M534.5 488.3h0M545.9 473.5h0M539.8 487.7h0M549.1 483.1h0M541.4 487h0M545.3 476.3h0M676.7 384.9h0M652.6 394.6h0M654.5 406.5h0M635.7 413.7h0M635 416h0M640 415.8h0M620 418.5h0M629.6 420.6h0M634.9 423.5h0M623.5 424.6h0M623.5 427.5h0M624 432.3h0M614.3 427.3h0M609 427.5h0M605.5 430.7h0M595.9 433.4h0M642.9 451.1h0M619.2 458.3h0M603.4 467.4h0M620.2 474.7h0M598.4 498.7h0M572 496h0M604 456h0M596 463h0" stroke="#bebebe" stroke-width="3.5" stroke-linecap="round" fill="none"/>
<path d="M521.1 504.2h0M524 501.9h0M526.4 499.6h0M531 496h0M535.1 492.6h0M537.5 492h0M538.6 494h0M535.1 498.4h0M536.9 503.1h0M529 504h0M541 497.2h0M530.4 503.1h0M545 502.5h0M546.8 500.2h0M551.5 494.3h0M554.4 496.9h0M551.5 503.7h0M553.8 503.1h0M559.6 498h0M570.2 492.6h0M582.3 489.1h0M594.4 493.5h0M590.9 496.4h0M604.7 498.7h0M522.5 503h0M523.5 504.5h0M525.5 503.5h0M527 502h0M528 500.5h0M527.5 504.5h0M532.5 502.5h0M533.5 500h0M522 502h0M520.8 505h0M524.5 505h0M539 502.8h0M548 501h0" stroke="#d2642e" stroke-width="3.9" stroke-linecap="round" fill="none"/>
<text x="642.1" y="449.3" font-size="5" fill="#1a1a1a" text-anchor="start" >PDK4</text>
<text x="618.7" y="456" font-size="5" fill="#1a1a1a" text-anchor="start" >SPP1</text>
<text x="603.1" y="474" font-size="5" fill="#1a1a1a" text-anchor="start" >SAT1</text>
<text x="620" y="481.3" font-size="5" fill="#1a1a1a" text-anchor="start" >SRGN</text>
<text x="581" y="487" font-size="5" fill="#1a1a1a" text-anchor="start" >OLR1</text>
<text x="597.2" y="491.5" font-size="5" fill="#1a1a1a" text-anchor="start" >CD83</text>
<text x="576.4" y="499" font-size="5" fill="#1a1a1a" text-anchor="start" >CCL3</text>
<text x="607.6" y="499" font-size="5" fill="#1a1a1a" text-anchor="start" >CCL4</text>
<text x="586.9" y="506.2" font-size="5" fill="#1a1a1a" text-anchor="start" >CCL4L2</text>
<text x="562" y="497.7" font-size="5" fill="#1a1a1a" text-anchor="start" >FOS</text>
<text x="539.2" y="509.2" font-size="5" fill="#1a1a1a" text-anchor="start" >IL1B</text>
<text x="557.3" y="509.4" font-size="5" fill="#1a1a1a" text-anchor="start" >CCL3L3</text>
<line x1="513.3" y1="379.3" x2="513.3" y2="511.3" stroke="#000" stroke-width="1.3" />
<line x1="512.7" y1="510.7" x2="684" y2="510.7" stroke="#000" stroke-width="1.3" />
<line x1="510.8" y1="505" x2="513.3" y2="505" stroke="#333" stroke-width="0.8" />
<text x="508.5" y="507.7" font-size="7.6" fill="#555" text-anchor="end" >0</text>
<line x1="520.8" y1="510.7" x2="520.8" y2="513.2" stroke="#333" stroke-width="0.8" />
<text x="520.8" y="520.5" font-size="7.6" fill="#4d4d4d" text-anchor="middle" >0</text>
<line x1="510.8" y1="462" x2="513.3" y2="462" stroke="#333" stroke-width="0.8" />
<text x="508.5" y="464.7" font-size="7.6" fill="#555" text-anchor="end" >1</text>
<line x1="576.2" y1="510.7" x2="576.2" y2="513.2" stroke="#333" stroke-width="0.8" />
<text x="576.2" y="520.5" font-size="7.6" fill="#4d4d4d" text-anchor="middle" >1</text>
<line x1="510.8" y1="419" x2="513.3" y2="419" stroke="#333" stroke-width="0.8" />
<text x="508.5" y="421.7" font-size="7.6" fill="#555" text-anchor="end" >2</text>
<line x1="631.6" y1="510.7" x2="631.6" y2="513.2" stroke="#333" stroke-width="0.8" />
<text x="631.6" y="520.5" font-size="7.6" fill="#4d4d4d" text-anchor="middle" >2</text>
<text x="598.5" y="532.6" font-size="8.5" fill="#1a1a1a" text-anchor="middle" >Module 3 positive</text>
<text x="498.5" y="445.5" font-size="8.5" fill="#1a1a1a" text-anchor="middle" transform="rotate(-90 498.5 445.5)">Module 3 negative</text>
<rect x="519.3" y="384.5" width="59.9" height="33.2" fill="#fff" stroke="#333" stroke-width="0.6"/>
<text x="525.4" y="398.6" font-size="9.9" fill="#1a1a1a" text-anchor="start" >Annotation</text>
<path d="M526.5 407.2h0" stroke="#e8683a" stroke-width="4.6" stroke-linecap="round" fill="none"/>
<text x="535.8" y="410.6" font-size="9.4" fill="#1a1a1a" text-anchor="start" >Module 3</text>
<rect x="0" y="535.8" width="1.9" height="1.3" fill="#444"/>
<rect x="0" y="539" width="1.8" height="6.8" fill="#555"/>
<line x1="107.7" y1="544.2" x2="107.7" y2="739.8" stroke="#000" stroke-width="1.2" />
<line x1="107.1" y1="739.3" x2="189.8" y2="739.3" stroke="#000" stroke-width="1.2" />
<line x1="104.7" y1="555.1" x2="107.7" y2="555.1" stroke="#333" stroke-width="0.8" />
<text x="101.5" y="558.9" font-size="10.7" fill="#1a1a1a" text-anchor="end" >T cells</text>
<circle cx="117" cy="555.1" r="0.55" fill="#d0d0d0"/>
<circle cx="132.8" cy="555.1" r="0.55" fill="#d0d0d0"/>
<circle cx="148.5" cy="555.1" r="0.55" fill="#d0d0d0"/>
<circle cx="164.2" cy="555.1" r="0.55" fill="#d0d0d0"/>
<circle cx="180" cy="555.1" r="0.55" fill="#d0d0d0"/>
<line x1="104.7" y1="571.2" x2="107.7" y2="571.2" stroke="#333" stroke-width="0.8" />
<text x="101.5" y="575" font-size="10.7" fill="#1a1a1a" text-anchor="end" >Neurons</text>
<circle cx="117" cy="571.2" r="0.55" fill="#d0d0d0"/>
<circle cx="132.8" cy="571.2" r="0.55" fill="#d0d0d0"/>
<circle cx="148.5" cy="571.2" r="0.55" fill="#d0d0d0"/>
<circle cx="164.2" cy="571.2" r="0.55" fill="#d0d0d0"/>
<circle cx="180" cy="571.2" r="0.55" fill="#d0d0d0"/>
<line x1="104.7" y1="587.2" x2="107.7" y2="587.2" stroke="#333" stroke-width="0.8" />
<text x="101.5" y="591" font-size="10.7" fill="#1a1a1a" text-anchor="end" >Module 3 TAM</text>
<circle cx="117" cy="587.2" r="0.55" fill="#d0d0d0"/>
<circle cx="132.8" cy="587.2" r="0.55" fill="#d0d0d0"/>
<circle cx="148.5" cy="587.2" r="0.55" fill="#d0d0d0"/>
<circle cx="164.2" cy="587.2" r="0.55" fill="#d0d0d0"/>
<circle cx="180" cy="587.2" r="0.55" fill="#d0d0d0"/>
<line x1="104.7" y1="603.3" x2="107.7" y2="603.3" stroke="#333" stroke-width="0.8" />
<text x="101.5" y="607.1" font-size="10.7" fill="#1a1a1a" text-anchor="end" >Endothelial cells</text>
<circle cx="117" cy="603.3" r="0.55" fill="#d0d0d0"/>
<circle cx="132.8" cy="603.3" r="0.55" fill="#d0d0d0"/>
<circle cx="148.5" cy="603.3" r="0.55" fill="#d0d0d0"/>
<circle cx="164.2" cy="603.3" r="0.55" fill="#d0d0d0"/>
<circle cx="180" cy="603.3" r="0.55" fill="#d0d0d0"/>
<line x1="104.7" y1="619.4" x2="107.7" y2="619.4" stroke="#333" stroke-width="0.8" />
<text x="101.5" y="623.2" font-size="10.7" fill="#1a1a1a" text-anchor="end" >GTCs</text>
<circle cx="117" cy="619.4" r="0.55" fill="#d0d0d0"/>
<circle cx="132.8" cy="619.4" r="0.55" fill="#d0d0d0"/>
<circle cx="148.5" cy="619.4" r="0.55" fill="#d0d0d0"/>
<circle cx="164.2" cy="619.4" r="0.55" fill="#d0d0d0"/>
<circle cx="180" cy="619.4" r="0.55" fill="#d0d0d0"/>
<line x1="104.7" y1="635.5" x2="107.7" y2="635.5" stroke="#333" stroke-width="0.8" />
<text x="101.5" y="639.2" font-size="10.7" fill="#1a1a1a" text-anchor="end" >stem−like state</text>
<circle cx="117" cy="635.5" r="0.55" fill="#d0d0d0"/>
<circle cx="132.8" cy="635.5" r="0.55" fill="#d0d0d0"/>
<circle cx="148.5" cy="635.5" r="0.55" fill="#d0d0d0"/>
<circle cx="164.2" cy="635.5" r="0.55" fill="#d0d0d0"/>
<circle cx="180" cy="635.5" r="0.55" fill="#d0d0d0"/>
<line x1="104.7" y1="651.5" x2="107.7" y2="651.5" stroke="#333" stroke-width="0.8" />
<text x="101.5" y="655.3" font-size="10.7" fill="#1a1a1a" text-anchor="end" >Astrocytes</text>
<circle cx="117" cy="651.5" r="0.55" fill="#d0d0d0"/>
<circle cx="132.8" cy="651.5" r="0.55" fill="#d0d0d0"/>
<circle cx="148.5" cy="651.5" r="0.55" fill="#d0d0d0"/>
<circle cx="164.2" cy="651.5" r="0.55" fill="#d0d0d0"/>
<circle cx="180" cy="651.5" r="0.55" fill="#d0d0d0"/>
<line x1="104.7" y1="667.6" x2="107.7" y2="667.6" stroke="#333" stroke-width="0.8" />
<text x="101.5" y="671.4" font-size="10.7" fill="#1a1a1a" text-anchor="end" >G1/S/G2/M</text>
<circle cx="117" cy="667.6" r="0.55" fill="#d0d0d0"/>
<circle cx="132.8" cy="667.6" r="0.55" fill="#d0d0d0"/>
<circle cx="148.5" cy="667.6" r="0.55" fill="#d0d0d0"/>
<circle cx="164.2" cy="667.6" r="0.55" fill="#d0d0d0"/>
<circle cx="180" cy="667.6" r="0.55" fill="#d0d0d0"/>
<line x1="104.7" y1="683.7" x2="107.7" y2="683.7" stroke="#333" stroke-width="0.8" />
<text x="101.5" y="687.5" font-size="10.7" fill="#1a1a1a" text-anchor="end" >TAMs</text>
<circle cx="117" cy="683.7" r="0.55" fill="#d0d0d0"/>
<circle cx="132.8" cy="683.7" r="0.55" fill="#d0d0d0"/>
<circle cx="148.5" cy="683.7" r="0.55" fill="#d0d0d0"/>
<circle cx="164.2" cy="683.7" r="0.55" fill="#d0d0d0"/>
<circle cx="180" cy="683.7" r="0.55" fill="#d0d0d0"/>
<line x1="104.7" y1="699.7" x2="107.7" y2="699.7" stroke="#333" stroke-width="0.8" />
<text x="101.5" y="703.5" font-size="10.7" fill="#1a1a1a" text-anchor="end" >Oligodendrocytes</text>
<circle cx="117" cy="699.7" r="0.55" fill="#d0d0d0"/>
<circle cx="132.8" cy="699.7" r="0.55" fill="#d0d0d0"/>
<circle cx="148.5" cy="699.7" r="0.55" fill="#d0d0d0"/>
<circle cx="164.2" cy="699.7" r="0.55" fill="#d0d0d0"/>
<circle cx="180" cy="699.7" r="0.55" fill="#d0d0d0"/>
<line x1="104.7" y1="715.8" x2="107.7" y2="715.8" stroke="#333" stroke-width="0.8" />
<text x="101.5" y="719.6" font-size="10.7" fill="#1a1a1a" text-anchor="end" >Oligo−like state</text>
<circle cx="117" cy="715.8" r="0.55" fill="#d0d0d0"/>
<circle cx="132.8" cy="715.8" r="0.55" fill="#d0d0d0"/>
<circle cx="148.5" cy="715.8" r="0.55" fill="#d0d0d0"/>
<circle cx="164.2" cy="715.8" r="0.55" fill="#d0d0d0"/>
<circle cx="180" cy="715.8" r="0.55" fill="#d0d0d0"/>
<line x1="104.7" y1="731.9" x2="107.7" y2="731.9" stroke="#333" stroke-width="0.8" />
<text x="101.5" y="735.7" font-size="10.7" fill="#1a1a1a" text-anchor="end" >Astro−like state</text>
<circle cx="117" cy="731.9" r="0.55" fill="#d0d0d0"/>
<circle cx="132.8" cy="731.9" r="0.55" fill="#d0d0d0"/>
<circle cx="148.5" cy="731.9" r="0.55" fill="#d0d0d0"/>
<circle cx="164.2" cy="731.9" r="0.55" fill="#d0d0d0"/>
<circle cx="180" cy="731.9" r="0.55" fill="#d0d0d0"/>
<circle cx="117" cy="555.1" r="2.8" fill="#dcdcdc"/>
<circle cx="117" cy="587.2" r="6.2" fill="#08306b"/>
<circle cx="132.8" cy="587.2" r="2.8" fill="#0b3d7a"/>
<circle cx="148.5" cy="587.2" r="2.7" fill="#0b3d7a"/>
<circle cx="164.2" cy="587.2" r="2.5" fill="#0e4a8f"/>
<circle cx="180" cy="587.2" r="3.0" fill="#0b3d7a"/>
<circle cx="117" cy="603.3" r="2.5" fill="#dedede"/>
<circle cx="117" cy="683.7" r="5.4" fill="#9ecae1"/>
<circle cx="164.2" cy="683.7" r="2.2" fill="#1c5fa8"/>
<circle cx="180" cy="683.7" r="2.8" fill="#1b5ba3"/>
<circle cx="117" cy="699.7" r="6.1" fill="#e0e0e0"/>
<circle cx="164.2" cy="555.1" r="0.8" fill="#9ecae1"/>
<line x1="117" y1="739.3" x2="117" y2="742.3" stroke="#333" stroke-width="0.8" />
<text x="120.2" y="746.5" font-size="10.7" fill="#1a1a1a" text-anchor="end" transform="rotate(-60 120.2 746.5)">SPP1</text>
<line x1="132.8" y1="739.3" x2="132.8" y2="742.3" stroke="#333" stroke-width="0.8" />
<text x="135.9" y="746.5" font-size="10.7" fill="#1a1a1a" text-anchor="end" transform="rotate(-60 135.9 746.5)">TNF</text>
<line x1="148.5" y1="739.3" x2="148.5" y2="742.3" stroke="#333" stroke-width="0.8" />
<text x="151.7" y="746.5" font-size="10.7" fill="#1a1a1a" text-anchor="end" transform="rotate(-60 151.7 746.5)">IL1B</text>
<line x1="164.2" y1="739.3" x2="164.2" y2="742.3" stroke="#333" stroke-width="0.8" />
<text x="167.4" y="746.5" font-size="10.7" fill="#1a1a1a" text-anchor="end" transform="rotate(-60 167.4 746.5)">C1QA</text>
<line x1="180" y1="739.3" x2="180" y2="742.3" stroke="#333" stroke-width="0.8" />
<text x="183.2" y="746.5" font-size="10.7" fill="#1a1a1a" text-anchor="end" transform="rotate(-60 183.2 746.5)">C1QB</text>
<text x="202.8" y="567.1" font-size="12" fill="#1a1a1a" text-anchor="start" >% expressed</text>
<circle cx="208.7" cy="581.4" r="0.6" fill="#000"/>
<text x="221.8" y="585.2" font-size="10.4" fill="#1a1a1a" text-anchor="start" >0</text>
<circle cx="208.7" cy="595.5" r="2.3" fill="#000"/>
<text x="221.8" y="599.3" font-size="10.4" fill="#1a1a1a" text-anchor="start" >20</text>
<circle cx="208.7" cy="609.1" r="4.0" fill="#000"/>
<text x="221.8" y="612.9" font-size="10.4" fill="#1a1a1a" text-anchor="start" >40</text>
<circle cx="208.7" cy="622.7" r="5.4" fill="#000"/>
<text x="221.8" y="626.5" font-size="10.4" fill="#1a1a1a" text-anchor="start" >60</text>
<text x="202.4" y="652.6" font-size="12" fill="#1a1a1a" text-anchor="start" >Avg. expr.</text>
<defs><linearGradient id="gi" x1="0" y1="0" x2="0" y2="1"><stop offset="0" stop-color="#08306b"/><stop offset="0.25" stop-color="#1d5fa6"/><stop offset="0.45" stop-color="#5a9ccc"/><stop offset="0.6" stop-color="#a8cde2"/><stop offset="0.75" stop-color="#e0e4e8"/><stop offset="1" stop-color="#e3e3e3"/></linearGradient></defs>
<rect x="202.1" y="660.4" width="13.7" height="68.5" fill="url(#gi)" />
<text x="221.8" y="664.6" font-size="10.4" fill="#1a1a1a" text-anchor="start" >2.5</text>
<line x1="202.1" y1="671.8" x2="204.6" y2="671.8" stroke="#fff" stroke-width="0.7" />
<line x1="213.3" y1="671.8" x2="215.8" y2="671.8" stroke="#fff" stroke-width="0.7" />
<text x="221.8" y="675.6" font-size="10.4" fill="#1a1a1a" text-anchor="start" >2.0</text>
<line x1="202.1" y1="682.8" x2="204.6" y2="682.8" stroke="#fff" stroke-width="0.7" />
<line x1="213.3" y1="682.8" x2="215.8" y2="682.8" stroke="#fff" stroke-width="0.7" />
<text x="221.8" y="686.6" font-size="10.4" fill="#1a1a1a" text-anchor="start" >1.5</text>
<line x1="202.1" y1="693.8" x2="204.6" y2="693.8" stroke="#fff" stroke-width="0.7" />
<line x1="213.3" y1="693.8" x2="215.8" y2="693.8" stroke="#fff" stroke-width="0.7" />
<text x="221.8" y="697.6" font-size="10.4" fill="#1a1a1a" text-anchor="start" >1.0</text>
<line x1="202.1" y1="704.8" x2="204.6" y2="704.8" stroke="#fff" stroke-width="0.7" />
<line x1="213.3" y1="704.8" x2="215.8" y2="704.8" stroke="#fff" stroke-width="0.7" />
<text x="221.8" y="708.6" font-size="10.4" fill="#1a1a1a" text-anchor="start" >0.5</text>
<line x1="202.1" y1="715.8" x2="204.6" y2="715.8" stroke="#fff" stroke-width="0.7" />
<line x1="213.3" y1="715.8" x2="215.8" y2="715.8" stroke="#fff" stroke-width="0.7" />
<text x="221.8" y="719.6" font-size="10.4" fill="#1a1a1a" text-anchor="start" >0.0</text>
<line x1="202.1" y1="726.8" x2="204.6" y2="726.8" stroke="#fff" stroke-width="0.7" />
<line x1="213.3" y1="726.8" x2="215.8" y2="726.8" stroke="#fff" stroke-width="0.7" />
<text x="221.8" y="730.6" font-size="10.4" fill="#1a1a1a" text-anchor="start" >−0.5</text>
<text x="307" y="551" font-size="14" fill="#2a2a2a" text-anchor="start" >j</text>
<text x="371.5" y="570.3" font-size="12" fill="#1a1a1a" text-anchor="start" >SPP1-CD44 signaling pathway network</text>
<text x="643.4" y="556" font-size="10.9" fill="#1a1a1a" text-anchor="middle" >Importance</text>
<defs><linearGradient id="gj" x1="0" y1="0" x2="1" y2="0"><stop offset="0" stop-color="#f7fcfd"/><stop offset="0.3" stop-color="#ccece6"/><stop offset="0.55" stop-color="#66c2a4"/><stop offset="0.8" stop-color="#238b45"/><stop offset="1" stop-color="#00441b"/></linearGradient></defs>
<rect x="604.2" y="563" width="79.3" height="8.4" fill="url(#gj)" />
<text x="606.6" y="581.8" font-size="10.4" fill="#1a1a1a" text-anchor="middle" >0</text>
<text x="679.5" y="581.8" font-size="10.4" fill="#1a1a1a" text-anchor="middle" >1</text>
<rect x="372.1" y="584.9" width="26.4" height="24" fill="#f2f9f9" />
<rect x="372.1" y="608.9" width="26.4" height="24.6" fill="#e2f2f5" />
<rect x="372.1" y="638.2" width="26.4" height="8.1" fill="#e3221d" />
<rect x="398.2" y="584.9" width="26.4" height="24" fill="#f2f9f9" />
<rect x="398.2" y="608.9" width="26.4" height="24.6" fill="#f2f9f9" />
<rect x="398.2" y="638.2" width="26.4" height="8.1" fill="#3a7db8" />
<rect x="424.2" y="584.9" width="26.4" height="24" fill="#68c3a2" />
<rect x="424.2" y="608.9" width="26.4" height="24.6" fill="#f2f9f9" />
<rect x="424.2" y="638.2" width="26.4" height="8.1" fill="#4eae4b" />
<rect x="450.2" y="584.9" width="26.4" height="24" fill="#5bb890" />
<rect x="450.2" y="608.9" width="26.4" height="24.6" fill="#e3f2f5" />
<rect x="450.2" y="638.2" width="26.4" height="8.1" fill="#974fa1" />
<rect x="476.3" y="584.9" width="26.4" height="24" fill="#f2f9f9" />
<rect x="476.3" y="608.9" width="26.4" height="24.6" fill="#e3f2f5" />
<rect x="476.3" y="638.2" width="26.4" height="8.1" fill="#f39323" />
<rect x="502.4" y="584.9" width="26.4" height="24" fill="#f2f9f9" />
<rect x="502.4" y="608.9" width="26.4" height="24.6" fill="#e3f2f5" />
<rect x="502.4" y="638.2" width="26.4" height="8.1" fill="#f582be" />
<rect x="528.4" y="584.9" width="26.4" height="24" fill="#f2f9f9" />
<rect x="528.4" y="608.9" width="26.4" height="24.6" fill="#f2f9f9" />
<rect x="528.4" y="638.2" width="26.4" height="8.1" fill="#bd9ccb" />
<rect x="554.5" y="584.9" width="26.4" height="24" fill="#f2f9f9" />
<rect x="554.5" y="608.9" width="26.4" height="24.6" fill="#00441b" />
<rect x="554.5" y="638.2" width="26.4" height="8.1" fill="#a5552b" />
<rect x="580.5" y="584.9" width="26.4" height="24" fill="#f2f9f9" />
<rect x="580.5" y="608.9" width="26.4" height="24.6" fill="#e3f2f5" />
<rect x="580.5" y="638.2" width="26.4" height="8.1" fill="#52ade2" />
<rect x="606.6" y="584.9" width="26.4" height="24" fill="#00441b" />
<rect x="606.6" y="608.9" width="26.4" height="24.6" fill="#9ad8c8" />
<rect x="606.6" y="638.2" width="26.4" height="8.1" fill="#232b77" />
<rect x="632.6" y="584.9" width="26.4" height="24" fill="#f2f9f9" />
<rect x="632.6" y="608.9" width="26.4" height="24.6" fill="#f2f9f9" />
<rect x="632.6" y="638.2" width="26.4" height="8.1" fill="#1f9d78" />
<rect x="658.7" y="584.9" width="26.4" height="24" fill="#e6f4f5" />
<rect x="658.7" y="608.9" width="26.4" height="24.6" fill="#ddeff2" />
<rect x="658.7" y="638.2" width="26.4" height="8.1" fill="#aedc88" />
<text x="367.7" y="601.5" font-size="13.5" fill="#1a1a1a" text-anchor="end" >Sender</text>
<text x="367.7" y="625.8" font-size="13.5" fill="#1a1a1a" text-anchor="end" >Receiver</text>
<text x="389.6" y="655.5" font-size="14" fill="#1a1a1a" text-anchor="end" transform="rotate(-45 389.6 655.5)">Astro−like state</text>
<text x="415.7" y="655.5" font-size="14" fill="#1a1a1a" text-anchor="end" transform="rotate(-45 415.7 655.5)">Oligo−like state</text>
<text x="441.7" y="655.5" font-size="14" fill="#1a1a1a" text-anchor="end" transform="rotate(-45 441.7 655.5)">Oligodendrocytes</text>
<text x="467.8" y="655.5" font-size="14" fill="#1a1a1a" text-anchor="end" transform="rotate(-45 467.8 655.5)">TAMs</text>
<text x="493.8" y="655.5" font-size="14" fill="#1a1a1a" text-anchor="end" transform="rotate(-45 493.8 655.5)">G1/S/G2/M</text>
<text x="519.9" y="655.5" font-size="14" fill="#1a1a1a" text-anchor="end" transform="rotate(-45 519.9 655.5)">Astrocytes</text>
<text x="545.9" y="655.5" font-size="14" fill="#1a1a1a" text-anchor="end" transform="rotate(-45 545.9 655.5)">stem−like state</text>
<text x="572" y="655.5" font-size="14" fill="#1a1a1a" text-anchor="end" transform="rotate(-45 572 655.5)">GTCs</text>
<text x="598" y="655.5" font-size="14" fill="#1a1a1a" text-anchor="end" transform="rotate(-45 598 655.5)">Endothelial cells</text>
<text x="624.1" y="655.5" font-size="14" fill="#1a1a1a" text-anchor="end" transform="rotate(-45 624.1 655.5)">Module 3 TAM</text>
<text x="650.1" y="655.5" font-size="14" fill="#1a1a1a" text-anchor="end" transform="rotate(-45 650.1 655.5)">Neurons</text>
<text x="676.2" y="655.5" font-size="14" fill="#1a1a1a" text-anchor="end" transform="rotate(-45 676.2 655.5)">T cells</text>
</svg></body></html>
